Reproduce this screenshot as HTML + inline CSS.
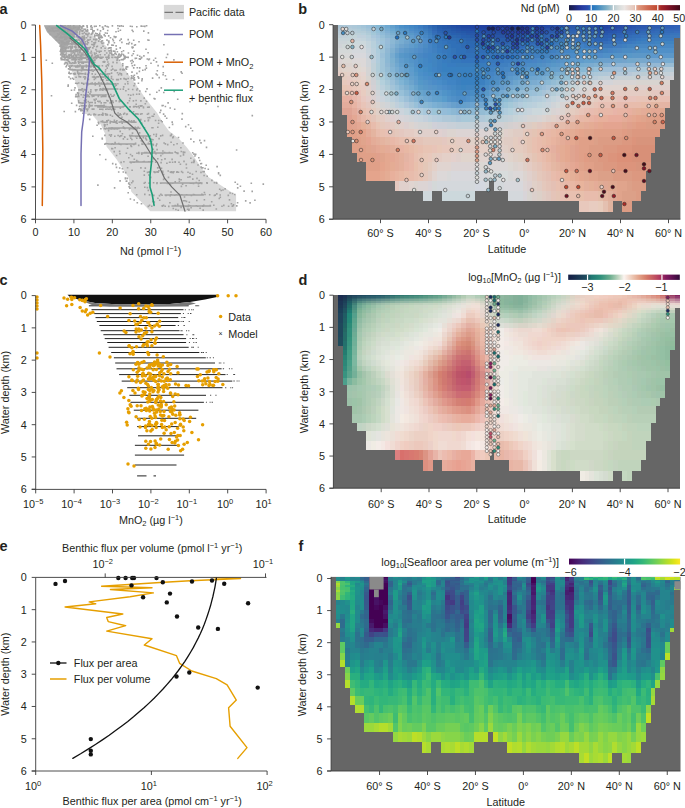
<!DOCTYPE html><html><head><meta charset="utf-8"><style>html,body{margin:0;padding:0;background:#fff;}svg{display:block;}</style></head><body><svg width="685" height="808" viewBox="0 0 685 808" font-family='"Liberation Sans", sans-serif' font-size="10.8" fill="#231f20"><defs><linearGradient id="cb1" x1="0" y1="0" x2="1" y2="0"><stop offset="0.0000" stop-color="#181c43"/><stop offset="0.0417" stop-color="#1d2368"/><stop offset="0.0833" stop-color="#23308d"/><stop offset="0.1250" stop-color="#273ea3"/><stop offset="0.1667" stop-color="#294bac"/><stop offset="0.2083" stop-color="#2373c0"/><stop offset="0.2500" stop-color="#3a84c0"/><stop offset="0.2917" stop-color="#5898c2"/><stop offset="0.3333" stop-color="#78abc5"/><stop offset="0.3750" stop-color="#a0c0cc"/><stop offset="0.4167" stop-color="#c5d2d5"/><stop offset="0.4583" stop-color="#dbdedd"/><stop offset="0.5000" stop-color="#ebe6e4"/><stop offset="0.5417" stop-color="#e7d5ce"/><stop offset="0.5833" stop-color="#e6c7bb"/><stop offset="0.6250" stop-color="#de987f"/><stop offset="0.6667" stop-color="#d78368"/><stop offset="0.7083" stop-color="#cf6c54"/><stop offset="0.7500" stop-color="#c85a42"/><stop offset="0.7917" stop-color="#c14a32"/><stop offset="0.8333" stop-color="#a32628"/><stop offset="0.8750" stop-color="#8e1a28"/><stop offset="0.9167" stop-color="#751125"/><stop offset="0.9583" stop-color="#5b0c1f"/><stop offset="1.0000" stop-color="#400a18"/></linearGradient><linearGradient id="cb2" x1="0" y1="0" x2="1" y2="0"><stop offset="0.0000" stop-color="#151d44"/><stop offset="0.0417" stop-color="#17294b"/><stop offset="0.0833" stop-color="#1a3652"/><stop offset="0.1250" stop-color="#1c4259"/><stop offset="0.1667" stop-color="#1e4f5f"/><stop offset="0.2083" stop-color="#207973"/><stop offset="0.2500" stop-color="#288578"/><stop offset="0.2917" stop-color="#31917c"/><stop offset="0.3333" stop-color="#4f9f86"/><stop offset="0.3750" stop-color="#6cae8f"/><stop offset="0.4167" stop-color="#9ac4aa"/><stop offset="0.4583" stop-color="#cbdac8"/><stop offset="0.5000" stop-color="#fbf4f0"/><stop offset="0.5417" stop-color="#f3dbcf"/><stop offset="0.5833" stop-color="#ebc2ad"/><stop offset="0.6250" stop-color="#e4a890"/><stop offset="0.6667" stop-color="#dc8f77"/><stop offset="0.7083" stop-color="#d37666"/><stop offset="0.7500" stop-color="#c86063"/><stop offset="0.7917" stop-color="#bb4960"/><stop offset="0.8333" stop-color="#a93160"/><stop offset="0.8750" stop-color="#81195d"/><stop offset="0.9167" stop-color="#6c1458"/><stop offset="0.9583" stop-color="#4e0f49"/><stop offset="1.0000" stop-color="#300a38"/></linearGradient><linearGradient id="cb3" x1="0" y1="0" x2="1" y2="0"><stop offset="0.0000" stop-color="#440154"/><stop offset="0.0417" stop-color="#471063"/><stop offset="0.0833" stop-color="#481f70"/><stop offset="0.1250" stop-color="#472d7b"/><stop offset="0.1667" stop-color="#443983"/><stop offset="0.2083" stop-color="#404688"/><stop offset="0.2500" stop-color="#3b528b"/><stop offset="0.2917" stop-color="#365d8d"/><stop offset="0.3333" stop-color="#31688e"/><stop offset="0.3750" stop-color="#2c728e"/><stop offset="0.4167" stop-color="#287c8e"/><stop offset="0.4583" stop-color="#24868e"/><stop offset="0.5000" stop-color="#21918c"/><stop offset="0.5417" stop-color="#1f9a8a"/><stop offset="0.5833" stop-color="#20a486"/><stop offset="0.6250" stop-color="#28ae80"/><stop offset="0.6667" stop-color="#35b779"/><stop offset="0.7083" stop-color="#48c16e"/><stop offset="0.7500" stop-color="#5ec962"/><stop offset="0.7917" stop-color="#75d054"/><stop offset="0.8333" stop-color="#90d743"/><stop offset="0.8750" stop-color="#addc30"/><stop offset="0.9167" stop-color="#c8e020"/><stop offset="0.9583" stop-color="#e5e419"/><stop offset="1.0000" stop-color="#fde725"/></linearGradient></defs>
<rect x="333.10" y="25.00" width="347.30" height="194.20" fill="#666666"/>
<g transform="translate(332.93,0) scale(4.7410,1)" shape-rendering="crispEdges">
<path fill="#a8c4d4" d="M1 25.0h1V26.3h-1z"/>
<path fill="#acc4d4" d="M1 26.3h1V27.8h-1z"/>
<path fill="#b0c8d4" d="M1 27.8h1V29.3h-1z"/>
<path fill="#b4c8d8" d="M1 29.3h1V31.1h-1zM58 71.5h1V76.0h-1zM59 71.5h1V76.0h-1zM60 71.5h1V76.0h-1zM68 67.0h1V71.5h-1zM69 67.0h1V71.5h-1z"/>
<path fill="#b8ccd8" d="M1 31.1h1V33.1h-1zM2 31.1h1V33.1h-1zM3 29.3h1V31.1h-1zM4 31.1h1V33.1h-1zM34 115.1h1V121.8h-1zM50 80.3h1V85.2h-1zM54 76.0h1V80.3h-1zM70 67.0h1V71.5h-1zM71 67.0h1V71.5h-1z"/>
<path fill="#bcccd8" d="M1 33.1h1V35.3h-1zM55 76.0h1V80.3h-1zM63 71.5h1V76.0h-1zM64 71.5h1V76.0h-1z"/>
<path fill="#c0d0d8" d="M1 35.3h1V37.7h-1zM2 33.1h1V35.3h-1zM3 33.1h1V35.3h-1zM8 62.5h1V71.5h-1zM36 115.1h1V121.8h-1zM48 90.4h1V95.9h-1zM56 76.0h1V80.3h-1z"/>
<path fill="#c8d4d8" d="M1 37.7h1V40.5h-1zM2 37.7h1V40.5h-1zM3 37.7h1V40.5h-1zM9 85.2h1V90.4h-1zM12 101.6h1V108.1h-1zM38 115.1h1V121.8h-1zM49 90.4h1V95.9h-1zM53 80.3h1V85.2h-1z"/>
<path fill="#ccd4d8" d="M1 40.5h1V43.5h-1zM2 40.5h1V43.5h-1zM39 115.1h1V121.8h-1zM51 85.2h1V90.4h-1zM54 80.3h1V85.2h-1z"/>
<path fill="#d0d4d8" d="M1 43.5h1V48.2h-1zM7 57.7h1V67.0h-1zM9 90.4h1V95.9h-1zM11 101.6h1V108.1h-1zM13 108.1h1V115.1h-1zM16 115.1h1V121.8h-1zM40 115.1h1V121.8h-1zM46 101.6h1V108.1h-1zM50 90.4h1V95.9h-1zM55 80.3h1V85.2h-1z"/>
<path fill="#d4d8d8" d="M1 48.2h1V52.9h-1zM2 48.2h1V52.9h-1zM3 48.2h1V52.9h-1zM21 180.5h1V190.6h-1zM45 108.1h1V115.1h-1zM47 101.6h1V108.1h-1zM52 85.2h1V90.4h-1z"/>
<path fill="#d8d8d8" d="M1 52.9h1V57.7h-1zM2 52.9h1V57.7h-1zM3 52.9h1V57.7h-1zM24 171.4h1V180.5h-1zM37 171.4h1V180.5h-1zM53 85.2h1V90.4h-1z"/>
<path fill="#dcd4d4" d="M1 57.7h1V62.5h-1zM13 115.1h1V121.8h-1zM18 180.5h1V190.6h-1zM19 180.5h1V190.6h-1zM25 162.0h1V171.4h-1zM26 128.9h1V136.6h-1zM26 162.0h1V171.4h-1zM27 128.9h1V136.6h-1zM27 162.0h1V171.4h-1zM28 128.9h1V136.6h-1zM28 162.0h1V171.4h-1zM29 128.9h1V136.6h-1zM29 162.0h1V171.4h-1zM30 128.9h1V136.6h-1zM30 162.0h1V171.4h-1zM31 128.9h1V136.6h-1zM32 128.9h1V136.6h-1zM34 153.2h1V162.0h-1zM35 153.2h1V162.0h-1zM40 180.5h1V190.6h-1zM47 108.1h1V115.1h-1zM51 95.9h1V101.6h-1zM55 85.2h1V90.4h-1z"/>
<path fill="#dcd4d0" d="M1 62.5h1V67.0h-1zM2 62.5h1V67.0h-1zM3 62.5h1V67.0h-1zM9 101.6h1V108.1h-1zM10 108.1h1V115.1h-1zM16 121.8h1V128.9h-1zM17 180.5h1V190.6h-1zM24 128.9h1V136.6h-1zM25 128.9h1V136.6h-1zM33 128.9h1V136.6h-1zM34 128.9h1V136.6h-1zM38 162.0h1V171.4h-1zM40 171.4h1V180.5h-1zM44 115.1h1V121.8h-1zM48 108.1h1V115.1h-1zM49 101.6h1V108.1h-1zM53 90.4h1V95.9h-1zM69 80.3h1V85.2h-1zM70 80.3h1V85.2h-1z"/>
<path fill="#e0d0c8" d="M1 67.0h1V71.5h-1zM7 90.4h1V95.9h-1zM8 101.6h1V108.1h-1zM9 108.1h1V115.1h-1zM13 121.8h1V128.9h-1zM29 136.6h1V144.9h-1zM30 136.6h1V144.9h-1zM31 136.6h1V144.9h-1zM32 136.6h1V144.9h-1zM33 136.6h1V153.2h-1zM34 136.6h1V144.9h-1zM35 136.6h1V144.9h-1zM36 144.9h1V153.2h-1zM37 128.9h1V136.6h-1zM38 153.2h1V162.0h-1zM40 162.0h1V171.4h-1zM42 180.5h1V190.6h-1zM46 115.1h1V121.8h-1zM49 108.1h1V115.1h-1zM51 101.6h1V108.1h-1z"/>
<path fill="#e4ccc4" d="M1 71.5h1V76.0h-1zM3 76.0h1V80.3h-1zM10 115.1h1V121.8h-1zM12 121.8h1V128.9h-1zM15 128.9h1V136.6h-1zM16 128.9h1V136.6h-1zM22 153.2h1V162.0h-1zM26 136.6h1V144.9h-1zM27 136.6h1V153.2h-1zM28 144.9h1V153.2h-1zM29 144.9h1V153.2h-1zM41 162.0h1V171.4h-1zM52 101.6h1V108.1h-1zM59 90.4h1V95.9h-1zM60 90.4h1V95.9h-1zM61 90.4h1V95.9h-1zM62 90.4h1V95.9h-1zM63 90.4h1V95.9h-1zM64 90.4h1V95.9h-1zM65 90.4h1V95.9h-1z"/>
<path fill="#acc8d8" d="M2 25.0h1V26.3h-1zM4 25.0h1V27.8h-1zM5 27.8h1V29.3h-1zM6 29.3h1V31.1h-1zM7 31.1h1V33.1h-1zM25 115.1h1V121.8h-1zM29 115.1h1V121.8h-1zM30 115.1h1V121.8h-1zM38 101.6h1V108.1h-1zM41 95.9h1V101.6h-1zM47 85.2h1V90.4h-1zM49 80.3h1V85.2h-1zM51 76.0h1V80.3h-1zM55 71.5h1V76.0h-1zM65 67.0h1V71.5h-1z"/>
<path fill="#b0c8d8" d="M2 26.3h1V29.3h-1zM3 25.0h1V27.8h-1zM4 27.8h1V29.3h-1zM23 115.1h1V121.8h-1zM24 115.1h1V121.8h-1zM31 115.1h1V121.8h-1zM45 90.4h1V95.9h-1zM52 76.0h1V80.3h-1zM56 71.5h1V76.0h-1zM57 71.5h1V76.0h-1zM66 67.0h1V71.5h-1zM67 67.0h1V71.5h-1z"/>
<path fill="#b4ccd8" d="M2 29.3h1V31.1h-1zM3 27.8h1V29.3h-1zM4 29.3h1V31.1h-1zM5 31.1h1V33.1h-1zM6 31.1h1V33.1h-1zM9 71.5h1V76.0h-1zM33 115.1h1V121.8h-1zM46 90.4h1V95.9h-1zM48 85.2h1V90.4h-1zM53 76.0h1V80.3h-1z"/>
<path fill="#c4d0d8" d="M2 35.3h1V37.7h-1zM26 121.8h1V128.9h-1zM27 121.8h1V128.9h-1zM28 121.8h1V128.9h-1zM29 121.8h1V128.9h-1zM37 115.1h1V121.8h-1zM57 76.0h1V80.3h-1zM58 76.0h1V80.3h-1zM59 76.0h1V80.3h-1zM69 71.5h1V76.0h-1zM70 71.5h1V76.0h-1z"/>
<path fill="#d0d8d8" d="M2 43.5h1V48.2h-1zM3 43.5h1V48.2h-1z"/>
<path fill="#dcd8d4" d="M2 57.7h1V62.5h-1zM3 57.7h1V62.5h-1zM4 62.5h1V67.0h-1zM5 62.5h1V67.0h-1zM31 162.0h1V171.4h-1zM37 162.0h1V171.4h-1z"/>
<path fill="#e0d4cc" d="M2 67.0h1V71.5h-1zM3 67.0h1V71.5h-1zM27 153.2h1V162.0h-1zM28 153.2h1V162.0h-1zM29 153.2h1V162.0h-1zM30 153.2h1V162.0h-1zM37 153.2h1V162.0h-1zM62 85.2h1V90.4h-1zM63 85.2h1V90.4h-1z"/>
<path fill="#e4d0c4" d="M2 71.5h1V76.0h-1z"/>
<path fill="#e4ccc0" d="M2 76.0h1V80.3h-1zM8 108.1h1V115.1h-1zM9 115.1h1V121.8h-1zM20 162.0h1V171.4h-1zM21 153.2h1V162.0h-1zM24 136.6h1V144.9h-1zM25 136.6h1V144.9h-1zM26 144.9h1V153.2h-1zM38 136.6h1V153.2h-1zM39 144.9h1V153.2h-1zM40 153.2h1V162.0h-1zM50 108.1h1V115.1h-1zM55 95.9h1V101.6h-1zM66 90.4h1V95.9h-1z"/>
<path fill="#e8c8bc" d="M2 80.3h1V85.2h-1zM4 85.2h1V90.4h-1zM20 153.2h1V162.0h-1zM23 144.9h1V153.2h-1zM24 144.9h1V153.2h-1zM52 201.4h1V211.9h-1zM53 201.4h1V211.9h-1zM57 95.9h1V101.6h-1zM58 95.9h1V101.6h-1zM59 95.9h1V101.6h-1z"/>
<path fill="#e8c4b4" d="M2 85.2h1V90.4h-1zM9 121.8h1V128.9h-1zM16 136.6h1V144.9h-1zM18 153.2h1V180.5h-1zM19 144.9h1V153.2h-1zM20 144.9h1V153.2h-1zM67 95.9h1V101.6h-1zM68 95.9h1V101.6h-1z"/>
<path fill="#e8bcac" d="M2 90.4h1V95.9h-1zM3 90.4h1V95.9h-1zM8 121.8h1V128.9h-1zM9 128.9h1V136.6h-1zM13 136.6h1V144.9h-1zM16 171.4h1V180.5h-1zM43 136.6h1V153.2h-1zM44 128.9h1V136.6h-1zM44 153.2h1V162.0h-1zM45 162.0h1V171.4h-1zM46 171.4h1V180.5h-1zM48 180.5h1V190.6h-1zM51 115.1h1V121.8h-1zM53 190.6h1V201.4h-1zM54 190.6h1V201.4h-1zM55 108.1h1V115.1h-1zM55 190.6h1V201.4h-1zM62 101.6h1V108.1h-1zM63 101.6h1V108.1h-1zM64 101.6h1V108.1h-1z"/>
<path fill="#e8b0a0" d="M2 95.9h1V101.6h-1zM55 115.1h1V121.8h-1zM62 108.1h1V115.1h-1z"/>
<path fill="#e4ac9c" d="M2 101.6h1V108.1h-1zM3 101.6h1V108.1h-1zM4 108.1h1V115.1h-1zM47 153.2h1V162.0h-1z"/>
<path fill="#e0a494" d="M2 108.1h1V115.1h-1zM3 108.1h1V115.1h-1z"/>
<path fill="#bcd0d8" d="M3 31.1h1V33.1h-1zM4 33.1h1V35.3h-1zM5 33.1h1V35.3h-1zM9 76.0h1V80.3h-1zM11 90.4h1V95.9h-1zM35 115.1h1V121.8h-1zM49 85.2h1V90.4h-1z"/>
<path fill="#c4d4d8" d="M3 35.3h1V37.7h-1zM4 35.3h1V37.7h-1zM9 80.3h1V85.2h-1zM50 85.2h1V90.4h-1z"/>
<path fill="#ccd8d8" d="M3 40.5h1V43.5h-1z"/>
<path fill="#e4d0c8" d="M3 71.5h1V76.0h-1zM4 76.0h1V80.3h-1zM5 76.0h1V80.3h-1zM17 128.9h1V136.6h-1zM21 162.0h1V171.4h-1zM23 153.2h1V162.0h-1zM24 153.2h1V162.0h-1zM31 144.9h1V153.2h-1zM32 144.9h1V153.2h-1zM54 95.9h1V101.6h-1zM56 90.4h1V95.9h-1zM57 90.4h1V95.9h-1zM58 90.4h1V95.9h-1z"/>
<path fill="#e8c8c0" d="M3 80.3h1V85.2h-1zM6 95.9h1V101.6h-1zM56 95.9h1V101.6h-1z"/>
<path fill="#e8c4b8" d="M3 85.2h1V90.4h-1zM6 101.6h1V108.1h-1zM7 108.1h1V115.1h-1zM21 144.9h1V153.2h-1zM52 108.1h1V115.1h-1zM55 101.6h1V108.1h-1zM64 95.9h1V101.6h-1zM65 95.9h1V101.6h-1zM66 95.9h1V101.6h-1z"/>
<path fill="#e8b0a4" d="M3 95.9h1V101.6h-1z"/>
<path fill="#e0a090" d="M3 115.1h1V121.8h-1z"/>
<path fill="#e0a08c" d="M3 121.8h1V128.9h-1zM9 153.2h1V162.0h-1zM51 144.9h1V162.0h-1zM62 121.8h1V128.9h-1z"/>
<path fill="#e0a088" d="M3 128.9h1V136.6h-1zM4 128.9h1V153.2h-1zM5 136.6h1V162.0h-1zM6 144.9h1V162.0h-1zM7 153.2h1V171.4h-1zM8 153.2h1V171.4h-1zM9 162.0h1V171.4h-1zM52 136.6h1V162.0h-1zM53 136.6h1V153.2h-1zM53 162.0h1V171.4h-1zM54 136.6h1V144.9h-1zM54 162.0h1V171.4h-1zM55 128.9h1V136.6h-1zM56 128.9h1V136.6h-1zM57 128.9h1V136.6h-1zM58 128.9h1V136.6h-1zM59 128.9h1V136.6h-1zM60 128.9h1V136.6h-1zM63 121.8h1V128.9h-1zM66 115.1h1V121.8h-1zM67 115.1h1V121.8h-1zM68 115.1h1V121.8h-1z"/>
<path fill="#c8d4dc" d="M4 37.7h1V40.5h-1zM5 37.7h1V40.5h-1zM7 48.2h1V52.9h-1zM18 115.1h1V121.8h-1zM41 108.1h1V115.1h-1zM45 101.6h1V108.1h-1zM52 80.3h1V85.2h-1z"/>
<path fill="#ccd8dc" d="M4 40.5h1V43.5h-1zM5 40.5h1V43.5h-1zM6 40.5h1V43.5h-1zM23 190.6h1V201.4h-1zM24 190.6h1V201.4h-1zM25 190.6h1V201.4h-1zM26 190.6h1V201.4h-1zM27 190.6h1V201.4h-1zM28 190.6h1V201.4h-1zM29 190.6h1V201.4h-1zM42 108.1h1V115.1h-1zM43 108.1h1V115.1h-1z"/>
<path fill="#d0d8dc" d="M4 43.5h1V48.2h-1zM5 43.5h1V48.2h-1zM6 43.5h1V48.2h-1zM19 190.6h1V201.4h-1zM20 190.6h1V201.4h-1zM44 108.1h1V115.1h-1zM48 95.9h1V101.6h-1z"/>
<path fill="#d4d8dc" d="M4 48.2h1V52.9h-1zM5 48.2h1V52.9h-1zM6 48.2h1V52.9h-1zM22 180.5h1V190.6h-1zM23 180.5h1V190.6h-1zM24 180.5h1V190.6h-1zM25 180.5h1V190.6h-1zM26 180.5h1V190.6h-1zM27 180.5h1V190.6h-1zM28 180.5h1V190.6h-1zM29 180.5h1V190.6h-1zM32 180.5h1V190.6h-1zM34 180.5h1V190.6h-1zM35 180.5h1V190.6h-1zM37 190.6h1V201.4h-1zM38 190.6h1V201.4h-1zM39 190.6h1V201.4h-1z"/>
<path fill="#d8d8dc" d="M4 52.9h1V57.7h-1zM5 52.9h1V57.7h-1zM6 52.9h1V57.7h-1zM25 171.4h1V180.5h-1zM26 171.4h1V180.5h-1zM27 171.4h1V180.5h-1zM28 171.4h1V180.5h-1zM29 171.4h1V180.5h-1zM30 171.4h1V180.5h-1zM31 171.4h1V180.5h-1zM32 171.4h1V180.5h-1zM36 180.5h1V190.6h-1zM37 180.5h1V190.6h-1zM38 180.5h1V190.6h-1zM39 180.5h1V190.6h-1z"/>
<path fill="#dcd8d8" d="M4 57.7h1V62.5h-1zM5 57.7h1V62.5h-1zM6 57.7h1V67.0h-1zM22 171.4h1V180.5h-1zM23 171.4h1V180.5h-1zM32 162.0h1V171.4h-1zM33 162.0h1V171.4h-1zM34 162.0h1V171.4h-1zM35 162.0h1V171.4h-1zM36 162.0h1V171.4h-1zM38 171.4h1V180.5h-1zM39 171.4h1V180.5h-1z"/>
<path fill="#e0d4d0" d="M4 67.0h1V71.5h-1zM16 180.5h1V190.6h-1zM21 171.4h1V180.5h-1zM22 162.0h1V171.4h-1zM23 162.0h1V171.4h-1zM24 162.0h1V171.4h-1zM31 153.2h1V162.0h-1zM32 153.2h1V162.0h-1zM36 153.2h1V162.0h-1zM39 162.0h1V171.4h-1zM52 95.9h1V101.6h-1zM54 90.4h1V95.9h-1zM57 85.2h1V90.4h-1zM58 85.2h1V90.4h-1zM59 85.2h1V90.4h-1zM60 85.2h1V90.4h-1zM61 85.2h1V90.4h-1z"/>
<path fill="#e4d4cc" d="M4 71.5h1V76.0h-1zM5 71.5h1V76.0h-1zM6 76.0h1V80.3h-1z"/>
<path fill="#e8ccc0" d="M4 80.3h1V85.2h-1zM5 85.2h1V90.4h-1zM6 90.4h1V95.9h-1zM25 144.9h1V153.2h-1zM54 201.4h1V211.9h-1zM55 201.4h1V211.9h-1z"/>
<path fill="#e8c0b4" d="M4 90.4h1V95.9h-1zM5 95.9h1V101.6h-1zM11 128.9h1V136.6h-1zM48 190.6h1V201.4h-1zM53 108.1h1V115.1h-1zM56 101.6h1V108.1h-1zM57 101.6h1V108.1h-1zM58 101.6h1V108.1h-1zM69 95.9h1V101.6h-1zM70 95.9h1V101.6h-1z"/>
<path fill="#e8b8ac" d="M4 95.9h1V101.6h-1z"/>
<path fill="#e8b4a4" d="M4 101.6h1V108.1h-1zM14 144.9h1V153.2h-1zM15 162.0h1V171.4h-1zM45 144.9h1V153.2h-1zM54 115.1h1V121.8h-1zM60 108.1h1V115.1h-1zM61 108.1h1V115.1h-1z"/>
<path fill="#e4a894" d="M4 115.1h1V121.8h-1zM5 121.8h1V128.9h-1zM9 144.9h1V153.2h-1zM12 153.2h1V162.0h-1zM49 136.6h1V144.9h-1zM50 162.0h1V171.4h-1zM55 121.8h1V128.9h-1zM62 115.1h1V121.8h-1zM67 108.1h1V115.1h-1zM68 108.1h1V115.1h-1z"/>
<path fill="#e0a490" d="M4 121.8h1V128.9h-1zM8 144.9h1V153.2h-1zM50 144.9h1V162.0h-1z"/>
<path fill="#a8c4d8" d="M5 25.0h1V26.3h-1zM26 115.1h1V121.8h-1zM44 90.4h1V95.9h-1zM54 71.5h1V76.0h-1zM62 67.0h1V71.5h-1zM63 67.0h1V71.5h-1z"/>
<path fill="#a8c8d8" d="M5 26.3h1V27.8h-1zM6 27.8h1V29.3h-1zM10 71.5h1V76.0h-1zM11 80.3h1V85.2h-1zM27 115.1h1V121.8h-1zM28 115.1h1V121.8h-1zM40 95.9h1V101.6h-1z"/>
<path fill="#b0ccd8" d="M5 29.3h1V31.1h-1zM7 33.1h1V35.3h-1zM9 62.5h1V71.5h-1zM11 85.2h1V90.4h-1zM12 90.4h1V95.9h-1zM32 115.1h1V121.8h-1z"/>
<path fill="#c0d0dc" d="M5 35.3h1V37.7h-1zM6 35.3h1V37.7h-1zM8 57.7h1V62.5h-1zM13 101.6h1V108.1h-1zM45 95.9h1V101.6h-1zM51 80.3h1V85.2h-1z"/>
<path fill="#e0d8d0" d="M5 67.0h1V71.5h-1z"/>
<path fill="#e8d0c4" d="M5 80.3h1V85.2h-1z"/>
<path fill="#e8c4bc" d="M5 90.4h1V95.9h-1zM60 95.9h1V101.6h-1zM61 95.9h1V101.6h-1zM62 95.9h1V101.6h-1zM63 95.9h1V101.6h-1z"/>
<path fill="#e8bcb0" d="M5 101.6h1V108.1h-1zM54 108.1h1V115.1h-1zM60 101.6h1V108.1h-1zM61 101.6h1V108.1h-1z"/>
<path fill="#e4b4a8" d="M5 108.1h1V115.1h-1z"/>
<path fill="#e4b0a0" d="M5 115.1h1V121.8h-1zM46 144.9h1V153.2h-1z"/>
<path fill="#e0a48c" d="M5 128.9h1V136.6h-1zM6 136.6h1V144.9h-1zM7 144.9h1V153.2h-1zM10 153.2h1V162.0h-1zM51 136.6h1V144.9h-1zM52 162.0h1V171.4h-1zM53 128.9h1V136.6h-1zM54 128.9h1V136.6h-1zM54 171.4h1V180.5h-1zM55 171.4h1V180.5h-1zM60 180.5h1V201.4h-1zM61 121.8h1V128.9h-1zM61 180.5h1V190.6h-1zM65 115.1h1V121.8h-1z"/>
<path fill="#a0c4d8" d="M6 25.0h1V26.3h-1zM7 27.8h1V29.3h-1zM8 31.1h1V33.1h-1zM10 37.7h1V40.5h-1zM10 43.5h1V52.9h-1zM10 57.7h1V71.5h-1zM11 76.0h1V80.3h-1zM43 90.4h1V95.9h-1zM53 71.5h1V76.0h-1z"/>
<path fill="#a4c4d8" d="M6 26.3h1V27.8h-1zM7 29.3h1V31.1h-1zM12 85.2h1V90.4h-1zM13 90.4h1V95.9h-1zM16 101.6h1V108.1h-1zM34 108.1h1V115.1h-1zM39 95.9h1V101.6h-1zM46 85.2h1V90.4h-1zM48 80.3h1V85.2h-1zM50 76.0h1V80.3h-1zM61 67.0h1V71.5h-1z"/>
<path fill="#b8d0dc" d="M6 33.1h1V35.3h-1zM7 35.3h1V37.7h-1zM8 40.5h1V48.2h-1zM14 101.6h1V108.1h-1zM41 101.6h1V108.1h-1zM44 95.9h1V101.6h-1z"/>
<path fill="#c4d4dc" d="M6 37.7h1V40.5h-1zM7 40.5h1V48.2h-1zM10 90.4h1V95.9h-1zM11 95.9h1V101.6h-1zM15 108.1h1V115.1h-1zM40 108.1h1V115.1h-1zM44 101.6h1V108.1h-1zM46 95.9h1V101.6h-1z"/>
<path fill="#e0d8d4" d="M6 67.0h1V71.5h-1z"/>
<path fill="#e4d4d0" d="M6 71.5h1V76.0h-1z"/>
<path fill="#e8d0c8" d="M6 80.3h1V85.2h-1z"/>
<path fill="#e8ccc4" d="M6 85.2h1V90.4h-1z"/>
<path fill="#e8c0b0" d="M6 108.1h1V115.1h-1zM7 115.1h1V121.8h-1zM10 128.9h1V136.6h-1zM14 136.6h1V144.9h-1zM15 136.6h1V144.9h-1zM17 153.2h1V162.0h-1zM17 171.4h1V180.5h-1zM18 144.9h1V153.2h-1zM42 136.6h1V153.2h-1zM43 128.9h1V136.6h-1zM43 153.2h1V162.0h-1zM44 162.0h1V171.4h-1zM47 180.5h1V190.6h-1zM49 190.6h1V201.4h-1zM50 190.6h1V201.4h-1zM51 190.6h1V201.4h-1zM59 101.6h1V108.1h-1z"/>
<path fill="#e8b8a8" d="M6 115.1h1V121.8h-1zM12 136.6h1V144.9h-1zM16 153.2h1V171.4h-1zM44 144.9h1V153.2h-1zM45 128.9h1V136.6h-1zM47 171.4h1V180.5h-1zM49 180.5h1V190.6h-1zM52 115.1h1V121.8h-1zM56 108.1h1V115.1h-1zM57 108.1h1V115.1h-1zM58 108.1h1V115.1h-1zM66 101.6h1V108.1h-1z"/>
<path fill="#e4b098" d="M6 121.8h1V128.9h-1zM50 171.4h1V180.5h-1zM52 121.8h1V128.9h-1zM54 180.5h1V190.6h-1zM64 108.1h1V115.1h-1z"/>
<path fill="#e4a48c" d="M6 128.9h1V136.6h-1zM7 171.4h1V180.5h-1zM8 171.4h1V180.5h-1zM9 171.4h1V180.5h-1zM10 162.0h1V171.4h-1zM52 128.9h1V136.6h-1zM64 115.1h1V121.8h-1z"/>
<path fill="#98c0d8" d="M7 25.0h1V26.3h-1zM10 35.3h1V37.7h-1zM11 71.5h1V76.0h-1zM13 85.2h1V90.4h-1zM14 90.4h1V95.9h-1zM17 101.6h1V108.1h-1zM22 108.1h1V115.1h-1zM32 108.1h1V115.1h-1zM35 101.6h1V108.1h-1zM41 90.4h1V95.9h-1zM55 67.0h1V71.5h-1z"/>
<path fill="#9cc0d8" d="M7 26.3h1V27.8h-1zM8 29.3h1V31.1h-1zM9 33.1h1V35.3h-1zM10 52.9h1V57.7h-1zM12 80.3h1V85.2h-1zM15 95.9h1V101.6h-1zM33 108.1h1V115.1h-1zM38 95.9h1V101.6h-1zM42 90.4h1V95.9h-1zM52 71.5h1V76.0h-1zM56 67.0h1V71.5h-1z"/>
<path fill="#bcd0dc" d="M7 37.7h1V40.5h-1zM8 48.2h1V57.7h-1zM10 85.2h1V90.4h-1zM12 95.9h1V101.6h-1zM16 108.1h1V115.1h-1zM20 115.1h1V121.8h-1zM38 108.1h1V115.1h-1zM42 101.6h1V108.1h-1zM47 90.4h1V95.9h-1z"/>
<path fill="#ccd4dc" d="M7 52.9h1V57.7h-1zM10 95.9h1V101.6h-1zM14 108.1h1V115.1h-1zM17 115.1h1V121.8h-1zM47 95.9h1V101.6h-1z"/>
<path fill="#d4d4d4" d="M7 67.0h1V76.0h-1zM10 101.6h1V108.1h-1zM12 108.1h1V115.1h-1zM18 121.8h1V128.9h-1zM19 121.8h1V128.9h-1zM41 115.1h1V121.8h-1zM42 115.1h1V121.8h-1z"/>
<path fill="#d8d4d0" d="M7 76.0h1V80.3h-1zM41 190.6h1V201.4h-1zM64 80.3h1V85.2h-1zM65 80.3h1V85.2h-1zM66 80.3h1V85.2h-1zM67 80.3h1V85.2h-1zM68 80.3h1V85.2h-1z"/>
<path fill="#dcd0cc" d="M7 80.3h1V85.2h-1zM42 190.6h1V201.4h-1zM45 115.1h1V121.8h-1zM50 101.6h1V108.1h-1z"/>
<path fill="#e0d0cc" d="M7 85.2h1V90.4h-1zM11 115.1h1V121.8h-1zM14 121.8h1V128.9h-1zM14 180.5h1V190.6h-1zM15 180.5h1V190.6h-1zM18 128.9h1V136.6h-1zM19 128.9h1V136.6h-1zM20 128.9h1V136.6h-1zM21 128.9h1V136.6h-1zM26 153.2h1V162.0h-1zM34 144.9h1V153.2h-1zM35 144.9h1V153.2h-1zM36 128.9h1V136.6h-1zM41 171.4h1V180.5h-1zM53 95.9h1V101.6h-1zM55 90.4h1V95.9h-1zM64 85.2h1V90.4h-1zM65 85.2h1V90.4h-1zM66 85.2h1V90.4h-1zM67 85.2h1V90.4h-1zM68 85.2h1V90.4h-1zM69 85.2h1V90.4h-1zM70 85.2h1V90.4h-1z"/>
<path fill="#e4ccc8" d="M7 95.9h1V101.6h-1zM28 136.6h1V144.9h-1zM30 144.9h1V153.2h-1z"/>
<path fill="#e4c8c0" d="M7 101.6h1V108.1h-1zM11 121.8h1V128.9h-1zM13 180.5h1V190.6h-1zM14 128.9h1V136.6h-1zM23 136.6h1V144.9h-1zM39 136.6h1V144.9h-1zM48 115.1h1V121.8h-1zM53 101.6h1V108.1h-1zM67 90.4h1V95.9h-1zM68 90.4h1V95.9h-1zM69 90.4h1V95.9h-1zM70 90.4h1V95.9h-1z"/>
<path fill="#e4b4a0" d="M7 121.8h1V128.9h-1zM8 128.9h1V136.6h-1zM10 136.6h1V144.9h-1zM46 153.2h1V162.0h-1zM47 162.0h1V171.4h-1zM50 121.8h1V128.9h-1zM57 190.6h1V201.4h-1z"/>
<path fill="#e4ac98" d="M7 128.9h1V136.6h-1zM8 136.6h1V144.9h-1zM11 144.9h1V153.2h-1zM13 153.2h1V171.4h-1zM47 144.9h1V153.2h-1zM48 136.6h1V144.9h-1zM49 128.9h1V136.6h-1zM49 162.0h1V171.4h-1zM53 121.8h1V128.9h-1zM55 180.5h1V190.6h-1zM61 115.1h1V121.8h-1zM65 108.1h1V115.1h-1z"/>
<path fill="#e4a490" d="M7 136.6h1V144.9h-1zM51 162.0h1V171.4h-1zM57 121.8h1V128.9h-1zM58 121.8h1V128.9h-1zM59 121.8h1V128.9h-1zM60 121.8h1V128.9h-1z"/>
<path fill="#90bcd4" d="M8 25.0h1V26.3h-1zM34 101.6h1V108.1h-1zM48 76.0h1V80.3h-1z"/>
<path fill="#90bcd8" d="M8 26.3h1V27.8h-1zM9 29.3h1V31.1h-1zM10 33.1h1V35.3h-1zM24 108.1h1V115.1h-1z"/>
<path fill="#94c0d8" d="M8 27.8h1V29.3h-1zM9 31.1h1V33.1h-1z"/>
<path fill="#a4c8d8" d="M8 33.1h1V35.3h-1zM37 101.6h1V108.1h-1z"/>
<path fill="#acc8dc" d="M8 35.3h1V37.7h-1zM9 40.5h1V43.5h-1z"/>
<path fill="#b4ccdc" d="M8 37.7h1V40.5h-1zM13 95.9h1V101.6h-1zM22 115.1h1V121.8h-1zM39 101.6h1V108.1h-1zM43 95.9h1V101.6h-1z"/>
<path fill="#c4d0d4" d="M8 71.5h1V76.0h-1z"/>
<path fill="#ccd0d4" d="M8 76.0h1V80.3h-1zM33 121.8h1V128.9h-1zM34 121.8h1V128.9h-1zM65 76.0h1V80.3h-1zM66 76.0h1V80.3h-1zM67 76.0h1V80.3h-1zM68 76.0h1V80.3h-1z"/>
<path fill="#d0d0d4" d="M8 80.3h1V85.2h-1zM35 121.8h1V128.9h-1zM69 76.0h1V80.3h-1zM70 76.0h1V80.3h-1zM71 76.0h1V80.3h-1z"/>
<path fill="#d4d0d4" d="M8 85.2h1V90.4h-1z"/>
<path fill="#d8d0d0" d="M8 90.4h1V95.9h-1zM38 121.8h1V128.9h-1z"/>
<path fill="#dcd0d0" d="M8 95.9h1V101.6h-1zM15 121.8h1V128.9h-1zM23 128.9h1V136.6h-1zM41 180.5h1V190.6h-1z"/>
<path fill="#e4c4b8" d="M8 115.1h1V121.8h-1zM12 128.9h1V136.6h-1zM17 136.6h1V144.9h-1zM18 136.6h1V144.9h-1zM41 128.9h1V136.6h-1zM43 162.0h1V171.4h-1zM44 171.4h1V180.5h-1zM45 121.8h1V128.9h-1zM45 180.5h1V190.6h-1zM46 190.6h1V201.4h-1z"/>
<path fill="#84b8d4" d="M9 25.0h1V26.3h-1z"/>
<path fill="#88b8d4" d="M9 26.3h1V27.8h-1zM19 101.6h1V108.1h-1zM35 95.9h1V101.6h-1zM47 76.0h1V80.3h-1zM52 67.0h1V71.5h-1z"/>
<path fill="#8cb8d4" d="M9 27.8h1V29.3h-1zM10 31.1h1V33.1h-1zM11 35.3h1V37.7h-1zM11 52.9h1V62.5h-1zM12 37.7h1V43.5h-1zM12 71.5h1V76.0h-1zM13 80.3h1V85.2h-1zM14 85.2h1V90.4h-1zM15 90.4h1V95.9h-1zM25 108.1h1V115.1h-1zM28 108.1h1V115.1h-1zM29 108.1h1V115.1h-1zM38 90.4h1V95.9h-1zM42 85.2h1V90.4h-1zM45 80.3h1V85.2h-1zM53 67.0h1V71.5h-1z"/>
<path fill="#a4c4dc" d="M9 35.3h1V37.7h-1zM20 108.1h1V115.1h-1z"/>
<path fill="#a8c8dc" d="M9 37.7h1V40.5h-1zM14 95.9h1V101.6h-1zM19 108.1h1V115.1h-1zM35 108.1h1V115.1h-1z"/>
<path fill="#acccdc" d="M9 43.5h1V52.9h-1z"/>
<path fill="#b0ccdc" d="M9 52.9h1V62.5h-1zM18 108.1h1V115.1h-1zM36 108.1h1V115.1h-1zM42 95.9h1V101.6h-1z"/>
<path fill="#d4d4d8" d="M9 95.9h1V101.6h-1zM15 115.1h1V121.8h-1zM49 95.9h1V101.6h-1zM51 90.4h1V95.9h-1zM56 80.3h1V85.2h-1zM57 80.3h1V85.2h-1zM58 80.3h1V85.2h-1z"/>
<path fill="#e4b09c" d="M9 136.6h1V144.9h-1zM12 144.9h1V153.2h-1zM14 153.2h1V171.4h-1zM47 136.6h1V144.9h-1zM48 162.0h1V171.4h-1zM51 121.8h1V128.9h-1zM53 180.5h1V190.6h-1zM63 108.1h1V115.1h-1z"/>
<path fill="#78b0d4" d="M10 25.0h1V26.3h-1z"/>
<path fill="#7cb0d4" d="M10 26.3h1V27.8h-1zM21 101.6h1V108.1h-1zM32 101.6h1V108.1h-1z"/>
<path fill="#80b4d4" d="M10 27.8h1V29.3h-1zM14 80.3h1V85.2h-1z"/>
<path fill="#84b4d4" d="M10 29.3h1V31.1h-1zM12 35.3h1V37.7h-1zM12 67.0h1V71.5h-1zM13 76.0h1V80.3h-1zM17 95.9h1V101.6h-1zM20 101.6h1V108.1h-1zM33 101.6h1V108.1h-1zM40 85.2h1V90.4h-1zM51 67.0h1V71.5h-1z"/>
<path fill="#a0c4dc" d="M10 40.5h1V43.5h-1z"/>
<path fill="#acccd8" d="M10 76.0h1V80.3h-1z"/>
<path fill="#b4d0dc" d="M10 80.3h1V85.2h-1zM37 108.1h1V115.1h-1zM40 101.6h1V108.1h-1z"/>
<path fill="#e4c8bc" d="M10 121.8h1V128.9h-1zM13 128.9h1V136.6h-1zM19 136.6h1V144.9h-1zM19 171.4h1V180.5h-1zM20 136.6h1V144.9h-1zM21 136.6h1V144.9h-1zM22 136.6h1V144.9h-1zM40 128.9h1V136.6h-1zM40 144.9h1V153.2h-1zM41 153.2h1V162.0h-1zM42 162.0h1V171.4h-1zM43 171.4h1V180.5h-1zM44 121.8h1V128.9h-1zM44 180.5h1V190.6h-1zM51 108.1h1V115.1h-1zM54 101.6h1V108.1h-1z"/>
<path fill="#e4ac94" d="M10 144.9h1V153.2h-1zM11 171.4h1V180.5h-1zM12 162.0h1V171.4h-1zM48 144.9h1V162.0h-1zM50 128.9h1V136.6h-1zM51 171.4h1V180.5h-1zM54 121.8h1V128.9h-1zM66 108.1h1V115.1h-1z"/>
<path fill="#e4a890" d="M10 171.4h1V180.5h-1zM11 153.2h1V171.4h-1zM49 144.9h1V162.0h-1zM50 136.6h1V144.9h-1zM51 128.9h1V136.6h-1zM52 171.4h1V180.5h-1zM56 121.8h1V128.9h-1zM63 115.1h1V121.8h-1z"/>
<path fill="#6ca8d0" d="M11 25.0h1V26.3h-1zM12 29.3h1V31.1h-1z"/>
<path fill="#70a8d0" d="M11 26.3h1V27.8h-1zM13 33.1h1V35.3h-1zM13 62.5h1V67.0h-1zM15 37.7h1V40.5h-1zM15 76.0h1V80.3h-1zM19 95.9h1V101.6h-1zM33 95.9h1V101.6h-1zM43 76.0h1V80.3h-1zM51 62.5h1V67.0h-1z"/>
<path fill="#74acd0" d="M11 27.8h1V29.3h-1zM12 31.1h1V33.1h-1zM15 80.3h1V85.2h-1zM16 85.2h1V90.4h-1zM17 90.4h1V95.9h-1zM52 62.5h1V67.0h-1z"/>
<path fill="#78acd0" d="M11 29.3h1V31.1h-1zM12 52.9h1V57.7h-1zM13 35.3h1V37.7h-1zM13 43.5h1V48.2h-1zM13 67.0h1V71.5h-1zM14 37.7h1V43.5h-1zM18 95.9h1V101.6h-1zM22 101.6h1V108.1h-1zM38 85.2h1V90.4h-1zM41 80.3h1V85.2h-1zM44 76.0h1V80.3h-1zM47 71.5h1V76.0h-1zM53 62.5h1V67.0h-1zM70 57.7h1V62.5h-1z"/>
<path fill="#80b0d4" d="M11 31.1h1V33.1h-1zM13 71.5h1V76.0h-1zM16 90.4h1V95.9h-1zM43 80.3h1V85.2h-1z"/>
<path fill="#88b4d4" d="M11 33.1h1V35.3h-1zM12 43.5h1V48.2h-1zM26 108.1h1V115.1h-1zM27 108.1h1V115.1h-1zM41 85.2h1V90.4h-1zM44 80.3h1V85.2h-1zM59 62.5h1V67.0h-1z"/>
<path fill="#98bcd8" d="M11 37.7h1V43.5h-1zM44 85.2h1V90.4h-1z"/>
<path fill="#94bcd8" d="M11 43.5h1V48.2h-1zM23 108.1h1V115.1h-1z"/>
<path fill="#90b8d4" d="M11 48.2h1V52.9h-1zM11 62.5h1V67.0h-1zM16 95.9h1V101.6h-1zM30 108.1h1V115.1h-1zM43 85.2h1V90.4h-1zM50 71.5h1V76.0h-1zM64 62.5h1V67.0h-1z"/>
<path fill="#94bcd4" d="M11 67.0h1V71.5h-1zM12 76.0h1V80.3h-1zM31 108.1h1V115.1h-1zM37 95.9h1V101.6h-1zM39 90.4h1V95.9h-1zM46 80.3h1V85.2h-1zM54 67.0h1V71.5h-1z"/>
<path fill="#d8d4d4" d="M11 108.1h1V115.1h-1zM17 121.8h1V128.9h-1zM43 115.1h1V121.8h-1zM46 108.1h1V115.1h-1zM48 101.6h1V108.1h-1zM50 95.9h1V101.6h-1zM52 90.4h1V95.9h-1zM54 85.2h1V90.4h-1zM59 80.3h1V85.2h-1zM60 80.3h1V85.2h-1zM61 80.3h1V85.2h-1zM62 80.3h1V85.2h-1zM63 80.3h1V85.2h-1z"/>
<path fill="#e4b8a4" d="M11 136.6h1V144.9h-1zM46 162.0h1V171.4h-1zM67 101.6h1V108.1h-1zM68 101.6h1V108.1h-1z"/>
<path fill="#60a0cc" d="M12 25.0h1V26.3h-1zM13 29.3h1V31.1h-1zM22 95.9h1V101.6h-1z"/>
<path fill="#64a0cc" d="M12 26.3h1V27.8h-1zM13 52.9h1V57.7h-1zM14 62.5h1V67.0h-1zM15 67.0h1V71.5h-1zM16 76.0h1V80.3h-1zM19 90.4h1V95.9h-1zM21 95.9h1V101.6h-1zM27 101.6h1V108.1h-1zM39 76.0h1V80.3h-1zM43 71.5h1V76.0h-1zM46 67.0h1V71.5h-1zM53 57.7h1V62.5h-1zM54 57.7h1V62.5h-1z"/>
<path fill="#68a4d0" d="M12 27.8h1V29.3h-1zM15 71.5h1V76.0h-1z"/>
<path fill="#7cb0d0" d="M12 33.1h1V35.3h-1zM12 57.7h1V62.5h-1zM34 95.9h1V101.6h-1zM45 76.0h1V80.3h-1zM50 67.0h1V71.5h-1z"/>
<path fill="#80b0d0" d="M12 48.2h1V52.9h-1zM12 62.5h1V67.0h-1zM13 40.5h1V43.5h-1zM15 85.2h1V90.4h-1zM39 85.2h1V90.4h-1zM48 71.5h1V76.0h-1zM55 62.5h1V67.0h-1z"/>
<path fill="#e0d0d0" d="M12 115.1h1V121.8h-1zM22 128.9h1V136.6h-1z"/>
<path fill="#e8b09c" d="M12 171.4h1V180.5h-1zM48 128.9h1V136.6h-1zM56 115.1h1V121.8h-1zM57 115.1h1V121.8h-1z"/>
<path fill="#5494c8" d="M13 25.0h1V26.3h-1zM14 27.8h1V29.3h-1zM15 29.3h1V31.1h-1zM15 52.9h1V57.7h-1zM16 57.7h1V62.5h-1zM19 80.3h1V85.2h-1zM21 85.2h1V90.4h-1zM24 95.9h1V101.6h-1zM29 95.9h1V101.6h-1zM36 76.0h1V80.3h-1zM41 67.0h1V71.5h-1zM42 67.0h1V71.5h-1zM59 52.9h1V57.7h-1zM60 52.9h1V57.7h-1z"/>
<path fill="#5898cc" d="M13 26.3h1V27.8h-1zM22 90.4h1V95.9h-1z"/>
<path fill="#5c9ccc" d="M13 27.8h1V29.3h-1zM16 67.0h1V71.5h-1zM17 76.0h1V80.3h-1zM21 90.4h1V95.9h-1z"/>
<path fill="#68a4cc" d="M13 31.1h1V33.1h-1zM17 85.2h1V90.4h-1zM18 90.4h1V95.9h-1z"/>
<path fill="#84b0d0" d="M13 37.7h1V40.5h-1zM56 62.5h1V67.0h-1zM57 62.5h1V67.0h-1z"/>
<path fill="#70a4cc" d="M13 48.2h1V52.9h-1zM14 43.5h1V48.2h-1zM15 40.5h1V43.5h-1zM42 76.0h1V80.3h-1zM59 57.7h1V62.5h-1zM60 57.7h1V62.5h-1z"/>
<path fill="#6ca4cc" d="M13 57.7h1V62.5h-1zM16 80.3h1V85.2h-1zM34 90.4h1V95.9h-1zM38 80.3h1V85.2h-1zM41 76.0h1V80.3h-1zM45 71.5h1V76.0h-1zM48 67.0h1V71.5h-1zM50 62.5h1V67.0h-1z"/>
<path fill="#e8b4a0" d="M13 144.9h1V153.2h-1zM13 171.4h1V180.5h-1zM46 136.6h1V144.9h-1zM47 128.9h1V136.6h-1zM51 180.5h1V190.6h-1z"/>
<path fill="#4890c8" d="M14 25.0h1V26.3h-1zM18 67.0h1V71.5h-1z"/>
<path fill="#4c90c8" d="M14 26.3h1V27.8h-1zM15 27.8h1V29.3h-1zM18 71.5h1V76.0h-1zM19 76.0h1V80.3h-1zM24 90.4h1V95.9h-1zM51 52.9h1V57.7h-1zM52 52.9h1V57.7h-1zM53 52.9h1V57.7h-1zM54 52.9h1V57.7h-1z"/>
<path fill="#5898c8" d="M14 29.3h1V31.1h-1zM14 52.9h1V57.7h-1zM15 31.1h1V33.1h-1zM15 57.7h1V62.5h-1zM16 33.1h1V35.3h-1zM16 62.5h1V67.0h-1zM17 43.5h1V48.2h-1zM19 85.2h1V90.4h-1zM32 90.4h1V95.9h-1zM43 67.0h1V71.5h-1zM46 62.5h1V67.0h-1zM49 57.7h1V62.5h-1zM62 52.9h1V57.7h-1z"/>
<path fill="#609ccc" d="M14 31.1h1V33.1h-1zM14 57.7h1V62.5h-1zM15 33.1h1V35.3h-1zM15 62.5h1V67.0h-1zM16 35.3h1V37.7h-1zM16 43.5h1V48.2h-1zM16 71.5h1V76.0h-1zM17 37.7h1V43.5h-1zM17 80.3h1V85.2h-1zM20 90.4h1V95.9h-1zM38 76.0h1V80.3h-1zM41 71.5h1V76.0h-1zM42 71.5h1V76.0h-1zM48 62.5h1V67.0h-1zM51 57.7h1V62.5h-1zM52 57.7h1V62.5h-1z"/>
<path fill="#68a0cc" d="M14 33.1h1V35.3h-1zM15 35.3h1V37.7h-1zM15 43.5h1V48.2h-1zM16 37.7h1V43.5h-1zM25 101.6h1V108.1h-1zM28 101.6h1V108.1h-1zM32 95.9h1V101.6h-1zM40 76.0h1V80.3h-1zM44 71.5h1V76.0h-1zM47 67.0h1V71.5h-1zM49 62.5h1V67.0h-1zM55 57.7h1V62.5h-1zM56 57.7h1V62.5h-1z"/>
<path fill="#70a8cc" d="M14 35.3h1V37.7h-1z"/>
<path fill="#649ccc" d="M14 48.2h1V52.9h-1zM26 101.6h1V108.1h-1zM33 90.4h1V95.9h-1zM35 85.2h1V90.4h-1zM37 80.3h1V85.2h-1z"/>
<path fill="#6ca4d0" d="M14 67.0h1V71.5h-1zM20 95.9h1V101.6h-1zM29 101.6h1V108.1h-1z"/>
<path fill="#74a8d0" d="M14 71.5h1V76.0h-1zM23 101.6h1V108.1h-1zM31 101.6h1V108.1h-1zM35 90.4h1V95.9h-1zM37 85.2h1V90.4h-1zM39 80.3h1V85.2h-1zM40 80.3h1V85.2h-1zM49 67.0h1V71.5h-1z"/>
<path fill="#78b0d0" d="M14 76.0h1V80.3h-1z"/>
<path fill="#d8d4d8" d="M14 115.1h1V121.8h-1zM20 180.5h1V190.6h-1zM40 190.6h1V201.4h-1z"/>
<path fill="#e8b8a4" d="M14 171.4h1V180.5h-1zM15 144.9h1V153.2h-1zM45 136.6h1V144.9h-1zM45 153.2h1V162.0h-1zM46 128.9h1V136.6h-1zM50 180.5h1V190.6h-1zM53 115.1h1V121.8h-1z"/>
<path fill="#4488c4" d="M15 25.0h1V26.3h-1zM16 26.3h1V27.8h-1zM19 57.7h1V67.0h-1zM21 71.5h1V76.0h-1zM22 76.0h1V80.3h-1zM23 80.3h1V85.2h-1zM25 85.2h1V90.4h-1zM26 90.4h1V95.9h-1zM27 90.4h1V95.9h-1zM31 85.2h1V90.4h-1zM32 80.3h1V85.2h-1zM50 48.2h1V52.9h-1zM51 48.2h1V52.9h-1zM52 48.2h1V52.9h-1zM53 48.2h1V52.9h-1z"/>
<path fill="#488cc8" d="M15 26.3h1V27.8h-1zM18 62.5h1V67.0h-1zM19 71.5h1V76.0h-1zM22 80.3h1V85.2h-1z"/>
<path fill="#5c98c8" d="M15 48.2h1V52.9h-1zM34 85.2h1V90.4h-1zM36 80.3h1V85.2h-1zM37 76.0h1V80.3h-1zM44 67.0h1V71.5h-1zM47 62.5h1V67.0h-1zM63 52.9h1V57.7h-1zM64 52.9h1V57.7h-1zM65 52.9h1V57.7h-1zM66 52.9h1V57.7h-1zM71 52.9h1V57.7h-1z"/>
<path fill="#b0c8dc" d="M15 101.6h1V108.1h-1z"/>
<path fill="#e4b4a4" d="M15 153.2h1V162.0h-1zM69 101.6h1V108.1h-1zM70 101.6h1V108.1h-1z"/>
<path fill="#e8bca8" d="M15 171.4h1V180.5h-1zM16 144.9h1V153.2h-1zM44 136.6h1V144.9h-1zM65 101.6h1V108.1h-1z"/>
<path fill="#4084c4" d="M16 25.0h1V26.3h-1zM17 26.3h1V27.8h-1zM20 52.9h1V62.5h-1zM21 67.0h1V71.5h-1zM22 71.5h1V76.0h-1zM23 76.0h1V80.3h-1zM24 76.0h1V85.2h-1zM25 80.3h1V85.2h-1zM30 85.2h1V90.4h-1z"/>
<path fill="#488cc4" d="M16 27.8h1V29.3h-1zM18 57.7h1V62.5h-1zM21 76.0h1V80.3h-1zM25 90.4h1V95.9h-1zM29 90.4h1V95.9h-1zM33 80.3h1V85.2h-1z"/>
<path fill="#4c8cc8" d="M16 29.3h1V31.1h-1zM17 31.1h1V33.1h-1zM18 33.1h1V35.3h-1zM19 37.7h1V40.5h-1zM20 76.0h1V80.3h-1zM21 80.3h1V85.2h-1zM23 85.2h1V90.4h-1zM27 95.9h1V101.6h-1zM30 90.4h1V95.9h-1zM38 67.0h1V71.5h-1zM50 52.9h1V57.7h-1zM55 52.9h1V57.7h-1z"/>
<path fill="#5490c8" d="M16 31.1h1V33.1h-1zM17 33.1h1V35.3h-1zM17 48.2h1V52.9h-1zM18 43.5h1V48.2h-1zM33 85.2h1V90.4h-1zM37 71.5h1V76.0h-1zM47 57.7h1V62.5h-1z"/>
<path fill="#5894c8" d="M16 48.2h1V52.9h-1zM20 85.2h1V90.4h-1zM35 80.3h1V85.2h-1zM38 71.5h1V76.0h-1zM45 62.5h1V67.0h-1zM48 57.7h1V62.5h-1zM61 52.9h1V57.7h-1z"/>
<path fill="#5090c4" d="M16 52.9h1V57.7h-1zM34 80.3h1V85.2h-1zM43 62.5h1V67.0h-1zM46 57.7h1V62.5h-1zM64 48.2h1V52.9h-1z"/>
<path fill="#3c80c0" d="M17 25.0h1V26.3h-1zM21 43.5h1V48.2h-1zM22 52.9h1V71.5h-1zM24 71.5h1V76.0h-1zM25 71.5h1V76.0h-1zM26 71.5h1V85.2h-1zM29 71.5h1V76.0h-1zM31 67.0h1V85.2h-1zM32 67.0h1V71.5h-1zM64 40.5h1V43.5h-1z"/>
<path fill="#4484c4" d="M17 27.8h1V29.3h-1zM18 29.3h1V31.1h-1zM19 52.9h1V57.7h-1zM20 37.7h1V40.5h-1zM20 43.5h1V52.9h-1zM33 71.5h1V76.0h-1zM35 67.0h1V71.5h-1zM37 62.5h1V67.0h-1zM40 57.7h1V62.5h-1zM41 57.7h1V62.5h-1zM49 48.2h1V52.9h-1zM54 48.2h1V52.9h-1zM63 43.5h1V48.2h-1z"/>
<path fill="#4888c4" d="M17 29.3h1V31.1h-1zM18 31.1h1V33.1h-1zM18 52.9h1V57.7h-1zM19 35.3h1V37.7h-1zM19 48.2h1V52.9h-1zM24 85.2h1V90.4h-1zM28 90.4h1V95.9h-1zM33 76.0h1V80.3h-1zM34 71.5h1V76.0h-1zM36 67.0h1V71.5h-1zM37 67.0h1V71.5h-1zM39 62.5h1V67.0h-1zM43 57.7h1V62.5h-1zM47 52.9h1V57.7h-1zM59 48.2h1V52.9h-1zM64 43.5h1V48.2h-1zM65 43.5h1V48.2h-1zM66 43.5h1V48.2h-1zM67 43.5h1V48.2h-1zM68 43.5h1V48.2h-1zM69 43.5h1V48.2h-1zM70 43.5h1V48.2h-1zM71 43.5h1V48.2h-1z"/>
<path fill="#5894cc" d="M17 35.3h1V37.7h-1zM18 37.7h1V43.5h-1z"/>
<path fill="#4c8cc4" d="M17 52.9h1V57.7h-1zM19 43.5h1V48.2h-1zM26 95.9h1V101.6h-1zM32 85.2h1V90.4h-1zM34 76.0h1V80.3h-1zM41 62.5h1V67.0h-1zM42 62.5h1V67.0h-1zM45 57.7h1V62.5h-1zM49 52.9h1V57.7h-1zM61 48.2h1V52.9h-1zM62 48.2h1V52.9h-1z"/>
<path fill="#5090c8" d="M17 57.7h1V67.0h-1zM18 35.3h1V37.7h-1zM20 80.3h1V85.2h-1zM22 85.2h1V90.4h-1zM25 95.9h1V101.6h-1zM28 95.9h1V101.6h-1zM31 90.4h1V95.9h-1zM39 67.0h1V71.5h-1zM40 67.0h1V71.5h-1zM57 52.9h1V57.7h-1zM58 52.9h1V57.7h-1zM65 48.2h1V52.9h-1zM66 48.2h1V52.9h-1zM67 48.2h1V52.9h-1zM68 48.2h1V52.9h-1zM69 48.2h1V52.9h-1zM70 48.2h1V52.9h-1zM71 48.2h1V52.9h-1z"/>
<path fill="#5094c8" d="M17 67.0h1V71.5h-1zM18 76.0h1V80.3h-1zM23 90.4h1V95.9h-1z"/>
<path fill="#5498c8" d="M17 71.5h1V76.0h-1zM18 80.3h1V85.2h-1z"/>
<path fill="#b8ccdc" d="M17 108.1h1V115.1h-1zM21 115.1h1V121.8h-1z"/>
<path fill="#e8c0ac" d="M17 144.9h1V153.2h-1zM17 162.0h1V171.4h-1zM52 190.6h1V201.4h-1z"/>
<path fill="#387cc0" d="M18 25.0h1V26.3h-1zM22 48.2h1V52.9h-1zM23 52.9h1V62.5h-1zM24 62.5h1V67.0h-1zM25 62.5h1V67.0h-1zM32 62.5h1V67.0h-1zM65 37.7h1V40.5h-1zM66 37.7h1V40.5h-1z"/>
<path fill="#3c7cc0" d="M18 26.3h1V27.8h-1zM21 37.7h1V43.5h-1zM33 62.5h1V67.0h-1zM34 62.5h1V67.0h-1zM36 57.7h1V62.5h-1zM37 57.7h1V62.5h-1zM40 52.9h1V57.7h-1zM41 52.9h1V57.7h-1zM50 40.5h1V43.5h-1zM51 40.5h1V43.5h-1zM53 43.5h1V48.2h-1zM63 40.5h1V43.5h-1zM67 37.7h1V40.5h-1zM68 37.7h1V40.5h-1zM69 37.7h1V40.5h-1zM70 37.7h1V40.5h-1zM71 37.7h1V40.5h-1z"/>
<path fill="#4080c0" d="M18 27.8h1V29.3h-1zM19 31.1h1V33.1h-1zM20 35.3h1V37.7h-1zM21 48.2h1V52.9h-1zM33 67.0h1V71.5h-1zM35 62.5h1V67.0h-1zM36 62.5h1V67.0h-1zM38 57.7h1V62.5h-1zM42 52.9h1V57.7h-1zM43 52.9h1V57.7h-1zM46 48.2h1V52.9h-1zM49 43.5h1V48.2h-1zM50 43.5h1V48.2h-1zM61 43.5h1V48.2h-1zM65 40.5h1V43.5h-1zM66 40.5h1V43.5h-1zM67 40.5h1V43.5h-1z"/>
<path fill="#508cc8" d="M18 48.2h1V52.9h-1zM19 40.5h1V43.5h-1zM56 52.9h1V57.7h-1z"/>
<path fill="#5c9cc8" d="M18 85.2h1V90.4h-1z"/>
<path fill="#90b8d8" d="M18 101.6h1V108.1h-1z"/>
<path fill="#3474b8" d="M19 25.0h1V26.3h-1zM24 43.5h1V48.2h-1zM25 48.2h1V52.9h-1z"/>
<path fill="#3874bc" d="M19 26.3h1V27.8h-1zM36 52.9h1V57.7h-1zM40 48.2h1V52.9h-1zM41 48.2h1V52.9h-1zM50 37.7h1V40.5h-1zM51 37.7h1V40.5h-1zM52 37.7h1V40.5h-1zM53 40.5h1V43.5h-1zM56 43.5h1V48.2h-1zM60 40.5h1V43.5h-1zM63 37.7h1V40.5h-1zM65 35.3h1V37.7h-1zM66 35.3h1V37.7h-1zM67 35.3h1V37.7h-1zM71 33.1h1V35.3h-1zM72 33.1h1.290V35.3h-1.290z"/>
<path fill="#3878bc" d="M19 27.8h1V29.3h-1zM20 31.1h1V33.1h-1zM21 35.3h1V37.7h-1zM22 43.5h1V48.2h-1zM23 48.2h1V52.9h-1zM33 57.7h1V62.5h-1zM34 57.7h1V62.5h-1zM42 48.2h1V52.9h-1zM55 43.5h1V48.2h-1zM68 35.3h1V37.7h-1zM69 35.3h1V37.7h-1zM70 35.3h1V37.7h-1z"/>
<path fill="#3c7cbc" d="M19 29.3h1V31.1h-1zM20 33.1h1V35.3h-1zM44 48.2h1V52.9h-1zM48 40.5h1V43.5h-1zM49 40.5h1V43.5h-1z"/>
<path fill="#4484c0" d="M19 33.1h1V35.3h-1zM44 52.9h1V57.7h-1zM45 52.9h1V57.7h-1zM47 48.2h1V52.9h-1zM48 48.2h1V52.9h-1zM57 48.2h1V52.9h-1zM62 43.5h1V48.2h-1z"/>
<path fill="#448cc4" d="M19 67.0h1V71.5h-1zM20 71.5h1V76.0h-1z"/>
<path fill="#c4d0dc" d="M19 115.1h1V121.8h-1z"/>
<path fill="#e8c8b8" d="M19 153.2h1V162.0h-1zM22 144.9h1V153.2h-1z"/>
<path fill="#e4c8b8" d="M19 162.0h1V171.4h-1zM40 136.6h1V144.9h-1z"/>
<path fill="#3068b4" d="M20 25.0h1V26.3h-1zM21 29.3h1V31.1h-1zM22 33.1h1V35.3h-1zM37 43.5h1V48.2h-1zM38 43.5h1V48.2h-1zM41 40.5h1V43.5h-1zM42 40.5h1V43.5h-1zM52 33.1h1V35.3h-1zM65 31.1h1V33.1h-1zM66 31.1h1V33.1h-1zM68 29.3h1V31.1h-1zM69 29.3h1V31.1h-1z"/>
<path fill="#306cb4" d="M20 26.3h1V27.8h-1zM23 35.3h1V37.7h-1zM25 37.7h1V40.5h-1zM26 40.5h1V43.5h-1zM27 43.5h1V48.2h-1zM28 48.2h1V52.9h-1zM29 48.2h1V52.9h-1zM30 48.2h1V52.9h-1zM31 48.2h1V52.9h-1zM32 48.2h1V52.9h-1zM33 48.2h1V52.9h-1zM34 48.2h1V52.9h-1zM43 40.5h1V43.5h-1z"/>
<path fill="#3470b8" d="M20 27.8h1V29.3h-1zM21 33.1h1V35.3h-1zM36 48.2h1V52.9h-1zM37 48.2h1V52.9h-1zM42 43.5h1V48.2h-1zM43 43.5h1V48.2h-1zM49 35.3h1V37.7h-1zM50 35.3h1V37.7h-1zM51 35.3h1V37.7h-1zM52 35.3h1V37.7h-1zM63 35.3h1V37.7h-1zM67 33.1h1V35.3h-1zM68 33.1h1V35.3h-1zM69 33.1h1V35.3h-1z"/>
<path fill="#3874b8" d="M20 29.3h1V31.1h-1zM44 43.5h1V48.2h-1zM46 40.5h1V43.5h-1zM47 37.7h1V40.5h-1zM48 37.7h1V40.5h-1zM49 37.7h1V40.5h-1z"/>
<path fill="#4884c4" d="M20 40.5h1V43.5h-1zM38 62.5h1V67.0h-1zM42 57.7h1V62.5h-1zM46 52.9h1V57.7h-1zM58 48.2h1V52.9h-1z"/>
<path fill="#4088c4" d="M20 62.5h1V71.5h-1z"/>
<path fill="#d0d4d4" d="M20 121.8h1V128.9h-1z"/>
<path fill="#e0ccc4" d="M20 171.4h1V180.5h-1zM36 136.6h1V144.9h-1zM37 136.6h1V153.2h-1zM38 128.9h1V136.6h-1zM39 128.9h1V136.6h-1zM42 171.4h1V180.5h-1zM43 180.5h1V190.6h-1zM44 190.6h1V201.4h-1z"/>
<path fill="#2860b0" d="M21 25.0h1V26.3h-1zM22 29.3h1V31.1h-1zM23 31.1h1V33.1h-1zM25 33.1h1V35.3h-1zM27 35.3h1V37.7h-1z"/>
<path fill="#2c64b0" d="M21 26.3h1V27.8h-1zM22 31.1h1V33.1h-1zM24 33.1h1V35.3h-1zM26 35.3h1V37.7h-1zM28 37.7h1V40.5h-1zM30 40.5h1V43.5h-1zM37 40.5h1V43.5h-1zM38 40.5h1V43.5h-1zM42 37.7h1V40.5h-1z"/>
<path fill="#2c68b0" d="M21 27.8h1V29.3h-1zM25 35.3h1V37.7h-1zM27 37.7h1V40.5h-1zM28 40.5h1V43.5h-1zM29 40.5h1V43.5h-1zM30 43.5h1V48.2h-1zM31 43.5h1V48.2h-1zM32 43.5h1V48.2h-1zM33 43.5h1V48.2h-1zM34 43.5h1V48.2h-1z"/>
<path fill="#346cb8" d="M21 31.1h1V33.1h-1zM41 43.5h1V48.2h-1zM55 40.5h1V43.5h-1zM57 40.5h1V43.5h-1zM62 35.3h1V37.7h-1zM64 33.1h1V35.3h-1zM65 33.1h1V35.3h-1zM66 33.1h1V35.3h-1zM68 31.1h1V33.1h-1zM69 31.1h1V33.1h-1zM70 31.1h1V33.1h-1zM71 31.1h1V33.1h-1z"/>
<path fill="#4084c0" d="M21 52.9h1V67.0h-1zM26 85.2h1V90.4h-1zM28 85.2h1V90.4h-1zM29 85.2h1V90.4h-1zM32 71.5h1V80.3h-1zM34 67.0h1V71.5h-1zM68 40.5h1V43.5h-1zM69 40.5h1V43.5h-1zM70 40.5h1V43.5h-1zM71 40.5h1V43.5h-1z"/>
<path fill="#9cc4d8" d="M21 108.1h1V115.1h-1zM36 101.6h1V108.1h-1z"/>
<path fill="#d0d0d8" d="M21 121.8h1V128.9h-1z"/>
<path fill="#2458a8" d="M22 25.0h1V26.3h-1zM23 26.3h1V29.3h-1zM24 27.8h1V29.3h-1zM25 29.3h1V31.1h-1zM27 31.1h1V33.1h-1z"/>
<path fill="#245ca8" d="M22 26.3h1V27.8h-1z"/>
<path fill="#285cac" d="M22 27.8h1V29.3h-1zM23 29.3h1V31.1h-1zM24 29.3h1V31.1h-1zM25 31.1h1V33.1h-1zM27 33.1h1V35.3h-1zM29 35.3h1V37.7h-1zM37 37.7h1V40.5h-1zM38 37.7h1V40.5h-1zM39 37.7h1V40.5h-1z"/>
<path fill="#306cb8" d="M22 35.3h1V37.7h-1zM35 48.2h1V52.9h-1zM40 43.5h1V48.2h-1zM54 37.7h1V40.5h-1zM59 37.7h1V40.5h-1z"/>
<path fill="#3474bc" d="M22 37.7h1V40.5h-1zM23 40.5h1V43.5h-1zM25 52.9h1V57.7h-1zM27 57.7h1V62.5h-1zM28 57.7h1V62.5h-1zM29 57.7h1V62.5h-1zM30 57.7h1V62.5h-1zM31 57.7h1V62.5h-1zM33 52.9h1V57.7h-1zM34 52.9h1V57.7h-1zM35 52.9h1V57.7h-1zM62 37.7h1V40.5h-1z"/>
<path fill="#3478bc" d="M22 40.5h1V43.5h-1zM23 43.5h1V48.2h-1zM24 48.2h1V57.7h-1zM25 57.7h1V62.5h-1zM26 57.7h1V62.5h-1zM32 57.7h1V62.5h-1z"/>
<path fill="#ccd0d8" d="M22 121.8h1V128.9h-1zM23 121.8h1V128.9h-1z"/>
<path fill="#2454a8" d="M23 25.0h1V26.3h-1zM25 27.8h1V29.3h-1zM26 29.3h1V31.1h-1zM28 31.1h1V33.1h-1zM29 31.1h1V33.1h-1zM30 33.1h1V35.3h-1zM31 33.1h1V35.3h-1z"/>
<path fill="#2c68b4" d="M23 33.1h1V35.3h-1zM24 35.3h1V37.7h-1zM29 43.5h1V48.2h-1z"/>
<path fill="#3070b8" d="M23 37.7h1V40.5h-1zM24 37.7h1V43.5h-1zM25 40.5h1V48.2h-1zM26 43.5h1V57.7h-1zM27 48.2h1V57.7h-1zM28 52.9h1V57.7h-1zM29 52.9h1V57.7h-1zM30 52.9h1V57.7h-1zM31 52.9h1V57.7h-1zM32 52.9h1V57.7h-1z"/>
<path fill="#3880c0" d="M23 62.5h1V71.5h-1zM24 67.0h1V71.5h-1zM25 67.0h1V71.5h-1zM26 67.0h1V71.5h-1zM27 67.0h1V85.2h-1zM28 67.0h1V85.2h-1zM29 67.0h1V71.5h-1zM29 76.0h1V85.2h-1zM30 67.0h1V85.2h-1z"/>
<path fill="#3c84c0" d="M23 71.5h1V76.0h-1zM25 76.0h1V80.3h-1zM27 85.2h1V90.4h-1z"/>
<path fill="#589ccc" d="M23 95.9h1V101.6h-1z"/>
<path fill="#2450a4" d="M24 25.0h1V26.3h-1zM25 26.3h1V27.8h-1zM26 27.8h1V29.3h-1zM27 29.3h1V31.1h-1zM28 29.3h1V31.1h-1zM30 31.1h1V33.1h-1zM31 31.1h1V33.1h-1zM33 33.1h1V35.3h-1zM38 33.1h1V35.3h-1zM39 33.1h1V35.3h-1zM42 31.1h1V33.1h-1zM53 25.0h1V26.3h-1z"/>
<path fill="#2454a4" d="M24 26.3h1V27.8h-1zM32 33.1h1V35.3h-1z"/>
<path fill="#2860ac" d="M24 31.1h1V33.1h-1zM26 33.1h1V35.3h-1zM28 35.3h1V37.7h-1zM30 37.7h1V40.5h-1zM31 37.7h1V40.5h-1z"/>
<path fill="#387cbc" d="M24 57.7h1V62.5h-1zM26 62.5h1V67.0h-1zM27 62.5h1V67.0h-1zM28 62.5h1V67.0h-1zM29 62.5h1V67.0h-1zM30 62.5h1V67.0h-1zM31 62.5h1V67.0h-1z"/>
<path fill="#70a4d0" d="M24 101.6h1V108.1h-1zM30 101.6h1V108.1h-1z"/>
<path fill="#c8d0d8" d="M24 121.8h1V128.9h-1zM25 121.8h1V128.9h-1zM30 121.8h1V128.9h-1zM31 121.8h1V128.9h-1zM32 121.8h1V128.9h-1zM71 71.5h1V76.0h-1z"/>
<path fill="#204ca4" d="M25 25.0h1V26.3h-1zM26 26.3h1V27.8h-1zM28 27.8h1V29.3h-1zM30 29.3h1V31.1h-1z"/>
<path fill="#e4d0cc" d="M25 153.2h1V162.0h-1z"/>
<path fill="#2048a0" d="M26 25.0h1V26.3h-1zM27 25.0h1V27.8h-1zM28 26.3h1V27.8h-1zM32 29.3h1V31.1h-1z"/>
<path fill="#2858a8" d="M26 31.1h1V33.1h-1zM28 33.1h1V35.3h-1zM29 33.1h1V35.3h-1zM31 35.3h1V37.7h-1zM32 35.3h1V37.7h-1zM39 35.3h1V37.7h-1zM40 35.3h1V37.7h-1zM41 35.3h1V37.7h-1zM43 33.1h1V35.3h-1zM51 25.0h1V27.8h-1zM52 26.3h1V27.8h-1zM53 27.8h1V29.3h-1z"/>
<path fill="#2c6cb4" d="M26 37.7h1V40.5h-1zM27 40.5h1V43.5h-1zM28 43.5h1V48.2h-1z"/>
<path fill="#244ca4" d="M27 27.8h1V29.3h-1zM29 29.3h1V31.1h-1zM32 31.1h1V33.1h-1zM41 31.1h1V33.1h-1zM43 29.3h1V31.1h-1zM44 27.8h1V29.3h-1zM54 25.0h1V27.8h-1zM55 27.8h1V29.3h-1z"/>
<path fill="#2044a0" d="M28 25.0h1V26.3h-1zM29 25.0h1V27.8h-1zM30 26.3h1V27.8h-1zM31 27.8h1V29.3h-1zM32 27.8h1V29.3h-1zM43 26.3h1V27.8h-1zM44 25.0h1V26.3h-1zM55 25.0h1V26.3h-1zM56 26.3h1V27.8h-1zM57 25.0h1V26.3h-1z"/>
<path fill="#2048a4" d="M29 27.8h1V29.3h-1zM30 27.8h1V29.3h-1zM31 29.3h1V31.1h-1z"/>
<path fill="#2c64ac" d="M29 37.7h1V40.5h-1zM31 40.5h1V43.5h-1zM32 40.5h1V43.5h-1zM33 40.5h1V43.5h-1z"/>
<path fill="#2040a0" d="M30 25.0h1V26.3h-1zM31 25.0h1V27.8h-1zM43 25.0h1V26.3h-1zM56 25.0h1V26.3h-1z"/>
<path fill="#285ca8" d="M30 35.3h1V37.7h-1zM33 37.7h1V40.5h-1zM34 37.7h1V40.5h-1zM35 37.7h1V40.5h-1zM36 37.7h1V40.5h-1z"/>
<path fill="#5494cc" d="M30 95.9h1V101.6h-1z"/>
<path fill="#d4d8e0" d="M30 180.5h1V190.6h-1zM31 180.5h1V190.6h-1z"/>
<path fill="#5c98cc" d="M31 95.9h1V101.6h-1zM39 71.5h1V76.0h-1zM40 71.5h1V76.0h-1zM50 57.7h1V62.5h-1zM67 52.9h1V57.7h-1zM68 52.9h1V57.7h-1zM69 52.9h1V57.7h-1zM70 52.9h1V57.7h-1z"/>
<path fill="#203c9c" d="M32 25.0h1V26.3h-1zM42 25.0h1V26.3h-1z"/>
<path fill="#20409c" d="M32 26.3h1V27.8h-1zM33 26.3h1V27.8h-1zM42 26.3h1V27.8h-1z"/>
<path fill="#2860a8" d="M32 37.7h1V40.5h-1z"/>
<path fill="#203c98" d="M33 25.0h1V26.3h-1zM34 25.0h1V27.8h-1zM40 26.3h1V27.8h-1zM41 25.0h1V26.3h-1z"/>
<path fill="#20449c" d="M33 27.8h1V29.3h-1zM34 29.3h1V31.1h-1zM35 29.3h1V31.1h-1zM41 27.8h1V29.3h-1z"/>
<path fill="#20489c" d="M33 29.3h1V31.1h-1z"/>
<path fill="#244ca0" d="M33 31.1h1V33.1h-1zM34 31.1h1V33.1h-1zM40 31.1h1V33.1h-1z"/>
<path fill="#2858a4" d="M33 35.3h1V37.7h-1z"/>
<path fill="#e0d4d4" d="M33 153.2h1V162.0h-1zM56 85.2h1V90.4h-1z"/>
<path fill="#d8dcdc" d="M33 171.4h1V180.5h-1zM34 171.4h1V180.5h-1zM35 171.4h1V180.5h-1zM36 171.4h1V180.5h-1z"/>
<path fill="#204098" d="M34 27.8h1V29.3h-1zM35 27.8h1V29.3h-1zM36 27.8h1V29.3h-1zM37 27.8h1V29.3h-1zM38 27.8h1V29.3h-1zM40 27.8h1V29.3h-1zM41 26.3h1V27.8h-1z"/>
<path fill="#2450a0" d="M34 33.1h1V35.3h-1zM35 33.1h1V35.3h-1zM36 33.1h1V35.3h-1zM37 33.1h1V35.3h-1z"/>
<path fill="#2854a4" d="M34 35.3h1V37.7h-1zM35 35.3h1V37.7h-1zM36 35.3h1V37.7h-1zM37 35.3h1V37.7h-1z"/>
<path fill="#2c60ac" d="M34 40.5h1V43.5h-1zM35 40.5h1V43.5h-1zM36 40.5h1V43.5h-1zM44 35.3h1V37.7h-1zM45 33.1h1V35.3h-1zM49 29.3h1V31.1h-1z"/>
<path fill="#203894" d="M35 25.0h1V26.3h-1zM36 25.0h1V26.3h-1zM40 25.0h1V26.3h-1z"/>
<path fill="#203c94" d="M35 26.3h1V27.8h-1zM36 26.3h1V27.8h-1zM37 26.3h1V27.8h-1zM38 26.3h1V27.8h-1zM39 26.3h1V27.8h-1z"/>
<path fill="#24489c" d="M35 31.1h1V33.1h-1zM36 31.1h1V33.1h-1zM37 31.1h1V33.1h-1zM38 31.1h1V33.1h-1zM40 29.3h1V31.1h-1z"/>
<path fill="#3068b0" d="M35 43.5h1V48.2h-1zM36 43.5h1V48.2h-1zM44 37.7h1V40.5h-1zM46 35.3h1V37.7h-1zM47 33.1h1V35.3h-1z"/>
<path fill="#3878c0" d="M35 57.7h1V62.5h-1zM37 52.9h1V57.7h-1zM38 52.9h1V57.7h-1zM61 40.5h1V43.5h-1zM64 37.7h1V40.5h-1z"/>
<path fill="#4c88c4" d="M35 71.5h1V76.0h-1zM40 62.5h1V67.0h-1zM44 57.7h1V62.5h-1zM48 52.9h1V57.7h-1zM60 48.2h1V52.9h-1z"/>
<path fill="#508cc4" d="M35 76.0h1V80.3h-1zM36 71.5h1V76.0h-1zM63 48.2h1V52.9h-1z"/>
<path fill="#dcd4cc" d="M35 128.9h1V136.6h-1z"/>
<path fill="#204498" d="M36 29.3h1V31.1h-1zM37 29.3h1V31.1h-1zM38 29.3h1V31.1h-1zM39 29.3h1V31.1h-1z"/>
<path fill="#6ca0cc" d="M36 85.2h1V90.4h-1zM57 57.7h1V62.5h-1zM58 57.7h1V62.5h-1z"/>
<path fill="#7cacd0" d="M36 90.4h1V95.9h-1zM42 80.3h1V85.2h-1zM54 62.5h1V67.0h-1zM71 57.7h1V62.5h-1z"/>
<path fill="#8cbcd4" d="M36 95.9h1V101.6h-1z"/>
<path fill="#d0d0d0" d="M36 121.8h1V128.9h-1z"/>
<path fill="#203890" d="M37 25.0h1V26.3h-1zM38 25.0h1V26.3h-1zM39 25.0h1V26.3h-1z"/>
<path fill="#84b4d0" d="M37 90.4h1V95.9h-1zM46 76.0h1V80.3h-1z"/>
<path fill="#d4d0d0" d="M37 121.8h1V128.9h-1z"/>
<path fill="#2854a8" d="M38 35.3h1V37.7h-1zM41 33.1h1V35.3h-1zM42 33.1h1V35.3h-1zM44 31.1h1V33.1h-1zM45 29.3h1V31.1h-1zM46 27.8h1V29.3h-1zM49 25.0h1V26.3h-1zM50 25.0h1V26.3h-1zM52 25.0h1V26.3h-1zM53 26.3h1V27.8h-1z"/>
<path fill="#3470bc" d="M38 48.2h1V52.9h-1zM39 48.2h1V52.9h-1zM53 37.7h1V40.5h-1zM54 40.5h1V43.5h-1zM58 40.5h1V43.5h-1zM61 37.7h1V40.5h-1zM64 35.3h1V37.7h-1z"/>
<path fill="#204094" d="M39 27.8h1V29.3h-1z"/>
<path fill="#2448a0" d="M39 31.1h1V33.1h-1zM41 29.3h1V31.1h-1zM42 29.3h1V31.1h-1z"/>
<path fill="#2c64b4" d="M39 40.5h1V43.5h-1zM40 40.5h1V43.5h-1zM55 37.7h1V40.5h-1zM56 37.7h1V40.5h-1zM57 37.7h1V40.5h-1z"/>
<path fill="#3068b8" d="M39 43.5h1V48.2h-1zM53 35.3h1V37.7h-1zM56 40.5h1V43.5h-1zM58 37.7h1V40.5h-1zM61 35.3h1V37.7h-1zM63 33.1h1V35.3h-1z"/>
<path fill="#3c78c0" d="M39 52.9h1V57.7h-1zM52 40.5h1V43.5h-1zM54 43.5h1V48.2h-1zM62 40.5h1V43.5h-1z"/>
<path fill="#4080c4" d="M39 57.7h1V62.5h-1zM51 43.5h1V48.2h-1zM52 43.5h1V48.2h-1z"/>
<path fill="#c0d4e0" d="M39 108.1h1V115.1h-1z"/>
<path fill="#d8d0cc" d="M39 121.8h1V128.9h-1z"/>
<path fill="#e0d0c4" d="M39 153.2h1V162.0h-1z"/>
<path fill="#2850a4" d="M40 33.1h1V35.3h-1z"/>
<path fill="#2c60b0" d="M40 37.7h1V40.5h-1zM41 37.7h1V40.5h-1zM50 29.3h1V31.1h-1zM51 29.3h1V31.1h-1zM52 29.3h1V31.1h-1zM53 31.1h1V33.1h-1zM54 33.1h1V35.3h-1zM55 35.3h1V37.7h-1zM57 35.3h1V37.7h-1zM66 27.8h1V29.3h-1z"/>
<path fill="#98bcd4" d="M40 90.4h1V95.9h-1zM51 71.5h1V76.0h-1zM69 62.5h1V67.0h-1zM70 62.5h1V67.0h-1zM71 62.5h1V67.0h-1z"/>
<path fill="#dcccc8" d="M40 121.8h1V128.9h-1z"/>
<path fill="#dcccc4" d="M41 121.8h1V128.9h-1z"/>
<path fill="#e4c4b4" d="M41 136.6h1V153.2h-1zM42 128.9h1V136.6h-1zM42 153.2h1V162.0h-1zM47 190.6h1V201.4h-1z"/>
<path fill="#2444a0" d="M42 27.8h1V29.3h-1z"/>
<path fill="#2c5cac" d="M42 35.3h1V37.7h-1zM43 35.3h1V37.7h-1zM44 33.1h1V35.3h-1zM46 31.1h1V33.1h-1zM47 29.3h1V31.1h-1zM50 27.8h1V29.3h-1zM51 27.8h1V29.3h-1zM52 27.8h1V29.3h-1zM53 29.3h1V31.1h-1z"/>
<path fill="#e0ccc0" d="M42 121.8h1V128.9h-1z"/>
<path fill="#2448a4" d="M43 27.8h1V29.3h-1zM44 26.3h1V27.8h-1zM45 25.0h1V27.8h-1zM55 26.3h1V27.8h-1zM56 27.8h1V29.3h-1zM57 27.8h1V29.3h-1zM58 26.3h1V27.8h-1zM59 25.0h1V27.8h-1zM60 25.0h1V26.3h-1z"/>
<path fill="#2850a8" d="M43 31.1h1V33.1h-1zM44 29.3h1V31.1h-1zM45 27.8h1V29.3h-1zM47 25.0h1V26.3h-1zM48 25.0h1V26.3h-1zM54 27.8h1V29.3h-1zM58 29.3h1V31.1h-1zM59 29.3h1V31.1h-1zM60 27.8h1V29.3h-1zM62 26.3h1V27.8h-1zM63 25.0h1V26.3h-1z"/>
<path fill="#3064b0" d="M43 37.7h1V40.5h-1zM45 35.3h1V37.7h-1zM46 33.1h1V35.3h-1zM48 31.1h1V33.1h-1zM49 31.1h1V33.1h-1zM50 31.1h1V33.1h-1zM52 31.1h1V33.1h-1z"/>
<path fill="#3c78bc" d="M43 48.2h1V52.9h-1zM46 43.5h1V48.2h-1zM57 43.5h1V48.2h-1zM58 43.5h1V48.2h-1zM71 35.3h1V37.7h-1zM72 35.3h1.290V37.7h-1.290z"/>
<path fill="#c0d4dc" d="M43 101.6h1V108.1h-1z"/>
<path fill="#e0c8c0" d="M43 121.8h1V128.9h-1zM45 190.6h1V201.4h-1z"/>
<path fill="#dcd0c8" d="M43 190.6h1V201.4h-1z"/>
<path fill="#3470b4" d="M44 40.5h1V43.5h-1zM45 40.5h1V43.5h-1zM46 37.7h1V40.5h-1zM48 35.3h1V37.7h-1z"/>
<path fill="#5490c4" d="M44 62.5h1V67.0h-1z"/>
<path fill="#2c58ac" d="M45 31.1h1V33.1h-1zM46 29.3h1V31.1h-1zM48 27.8h1V29.3h-1zM49 27.8h1V29.3h-1zM61 29.3h1V31.1h-1zM63 27.8h1V29.3h-1zM64 26.3h1V27.8h-1zM66 25.0h1V26.3h-1z"/>
<path fill="#346cb4" d="M45 37.7h1V40.5h-1zM47 35.3h1V37.7h-1zM51 33.1h1V35.3h-1z"/>
<path fill="#3c78b8" d="M45 43.5h1V48.2h-1z"/>
<path fill="#407cbc" d="M45 48.2h1V52.9h-1zM47 43.5h1V48.2h-1z"/>
<path fill="#609cc8" d="M45 67.0h1V71.5h-1z"/>
<path fill="#a0c0d8" d="M45 85.2h1V90.4h-1zM57 67.0h1V71.5h-1zM58 67.0h1V71.5h-1zM59 67.0h1V71.5h-1z"/>
<path fill="#e4c0b4" d="M45 171.4h1V180.5h-1zM46 121.8h1V128.9h-1zM46 180.5h1V190.6h-1zM50 115.1h1V121.8h-1z"/>
<path fill="#284ca4" d="M46 25.0h1V26.3h-1zM60 26.3h1V27.8h-1zM61 25.0h1V26.3h-1z"/>
<path fill="#284ca8" d="M46 26.3h1V27.8h-1zM59 27.8h1V29.3h-1zM61 26.3h1V27.8h-1zM62 25.0h1V26.3h-1z"/>
<path fill="#74a8cc" d="M46 71.5h1V76.0h-1zM62 57.7h1V62.5h-1zM63 57.7h1V62.5h-1z"/>
<path fill="#2c50a8" d="M47 26.3h1V27.8h-1z"/>
<path fill="#2c54ac" d="M47 27.8h1V29.3h-1zM62 27.8h1V29.3h-1zM65 25.0h1V26.3h-1z"/>
<path fill="#3060b0" d="M47 31.1h1V33.1h-1zM62 31.1h1V33.1h-1zM64 29.3h1V31.1h-1zM67 27.8h1V29.3h-1z"/>
<path fill="#3878b8" d="M47 40.5h1V43.5h-1z"/>
<path fill="#9cc0d4" d="M47 80.3h1V85.2h-1z"/>
<path fill="#e0ccc8" d="M47 115.1h1V121.8h-1z"/>
<path fill="#e4c0b0" d="M47 121.8h1V128.9h-1zM57 201.4h1V211.9h-1z"/>
<path fill="#2c54a8" d="M48 26.3h1V27.8h-1zM49 26.3h1V27.8h-1z"/>
<path fill="#305cac" d="M48 29.3h1V31.1h-1z"/>
<path fill="#3468b4" d="M48 33.1h1V35.3h-1zM49 33.1h1V35.3h-1zM50 33.1h1V35.3h-1z"/>
<path fill="#4080bc" d="M48 43.5h1V48.2h-1z"/>
<path fill="#e4bcac" d="M48 121.8h1V128.9h-1z"/>
<path fill="#e8b8a0" d="M48 171.4h1V180.5h-1z"/>
<path fill="#88b4d0" d="M49 71.5h1V76.0h-1z"/>
<path fill="#98c0d4" d="M49 76.0h1V80.3h-1z"/>
<path fill="#e4c4bc" d="M49 115.1h1V121.8h-1z"/>
<path fill="#e4b8a8" d="M49 121.8h1V128.9h-1z"/>
<path fill="#e8b49c" d="M49 171.4h1V180.5h-1zM52 180.5h1V190.6h-1z"/>
<path fill="#2c58a8" d="M50 26.3h1V27.8h-1z"/>
<path fill="#3064b4" d="M51 31.1h1V33.1h-1zM53 33.1h1V35.3h-1zM54 35.3h1V37.7h-1zM59 35.3h1V37.7h-1zM60 35.3h1V37.7h-1zM61 33.1h1V35.3h-1zM62 33.1h1V35.3h-1zM64 31.1h1V33.1h-1zM66 29.3h1V31.1h-1zM67 29.3h1V31.1h-1zM69 27.8h1V29.3h-1zM70 27.8h1V29.3h-1z"/>
<path fill="#e09c84" d="M53 153.2h1V162.0h-1zM61 128.9h1V136.6h-1zM64 121.8h1V128.9h-1zM65 121.8h1V128.9h-1zM69 115.1h1V121.8h-1z"/>
<path fill="#e0a890" d="M53 171.4h1V180.5h-1zM58 180.5h1V190.6h-1zM59 180.5h1V190.6h-1zM69 108.1h1V115.1h-1z"/>
<path fill="#2854ac" d="M54 29.3h1V31.1h-1zM55 31.1h1V33.1h-1zM56 33.1h1V35.3h-1zM57 31.1h1V33.1h-1zM58 31.1h1V33.1h-1zM60 29.3h1V31.1h-1zM61 27.8h1V29.3h-1zM63 26.3h1V27.8h-1zM64 25.0h1V26.3h-1z"/>
<path fill="#2858ac" d="M54 31.1h1V33.1h-1zM55 33.1h1V35.3h-1zM57 33.1h1V35.3h-1zM59 31.1h1V33.1h-1z"/>
<path fill="#dc9c84" d="M54 144.9h1V162.0h-1zM55 144.9h1V171.4h-1zM56 136.6h1V153.2h-1zM56 162.0h1V171.4h-1zM57 136.6h1V144.9h-1zM58 136.6h1V144.9h-1zM59 136.6h1V144.9h-1zM59 171.4h1V180.5h-1zM60 136.6h1V144.9h-1zM60 171.4h1V180.5h-1zM61 171.4h1V180.5h-1zM61 201.4h1V211.9h-1zM62 128.9h1V136.6h-1zM62 171.4h1V180.5h-1zM62 201.4h1V211.9h-1zM63 180.5h1V190.6h-1zM64 180.5h1V201.4h-1zM65 180.5h1V190.6h-1zM66 121.8h1V128.9h-1zM67 121.8h1V128.9h-1zM68 121.8h1V128.9h-1z"/>
<path fill="#2450a8" d="M55 29.3h1V31.1h-1zM56 31.1h1V33.1h-1z"/>
<path fill="#4480c0" d="M55 48.2h1V52.9h-1zM56 48.2h1V52.9h-1z"/>
<path fill="#dca088" d="M55 136.6h1V144.9h-1zM56 171.4h1V180.5h-1zM57 171.4h1V180.5h-1zM58 171.4h1V180.5h-1zM61 190.6h1V201.4h-1zM62 180.5h1V201.4h-1zM63 190.6h1V201.4h-1z"/>
<path fill="#244ca8" d="M56 29.3h1V31.1h-1zM57 29.3h1V31.1h-1zM58 27.8h1V29.3h-1z"/>
<path fill="#285cb0" d="M56 35.3h1V37.7h-1z"/>
<path fill="#dc9880" d="M56 153.2h1V162.0h-1zM57 144.9h1V171.4h-1zM58 144.9h1V153.2h-1zM58 162.0h1V171.4h-1zM59 144.9h1V153.2h-1zM59 162.0h1V171.4h-1zM61 136.6h1V144.9h-1zM62 136.6h1V144.9h-1zM63 128.9h1V136.6h-1zM63 171.4h1V180.5h-1zM64 128.9h1V136.6h-1zM64 171.4h1V180.5h-1zM65 128.9h1V136.6h-1zM65 171.4h1V180.5h-1zM66 128.9h1V136.6h-1zM67 128.9h1V136.6h-1zM68 128.9h1V136.6h-1zM69 121.8h1V128.9h-1z"/>
<path fill="#e0ac94" d="M56 180.5h1V190.6h-1z"/>
<path fill="#e4bca8" d="M56 190.6h1V201.4h-1z"/>
<path fill="#e8ccbc" d="M56 201.4h1V211.9h-1z"/>
<path fill="#2444a4" d="M57 26.3h1V27.8h-1zM58 25.0h1V26.3h-1z"/>
<path fill="#e0a894" d="M57 180.5h1V190.6h-1zM59 190.6h1V201.4h-1z"/>
<path fill="#2c5cb0" d="M58 33.1h1V35.3h-1zM59 33.1h1V35.3h-1zM61 31.1h1V33.1h-1zM63 29.3h1V31.1h-1zM64 27.8h1V29.3h-1zM65 27.8h1V29.3h-1zM66 26.3h1V27.8h-1zM67 26.3h1V27.8h-1zM68 25.0h1V27.8h-1zM69 25.0h1V26.3h-1z"/>
<path fill="#2c60b4" d="M58 35.3h1V37.7h-1zM60 33.1h1V35.3h-1zM69 26.3h1V27.8h-1z"/>
<path fill="#88b0d4" d="M58 62.5h1V67.0h-1z"/>
<path fill="#e8ac9c" d="M58 115.1h1V121.8h-1zM59 115.1h1V121.8h-1zM60 115.1h1V121.8h-1z"/>
<path fill="#dc947c" d="M58 153.2h1V162.0h-1zM59 153.2h1V162.0h-1zM60 144.9h1V153.2h-1zM60 162.0h1V171.4h-1zM61 144.9h1V153.2h-1zM61 162.0h1V171.4h-1zM62 144.9h1V153.2h-1zM62 162.0h1V171.4h-1zM63 136.6h1V144.9h-1zM63 162.0h1V171.4h-1z"/>
<path fill="#e0b09c" d="M58 190.6h1V201.4h-1z"/>
<path fill="#e0b4a0" d="M58 201.4h1V211.9h-1z"/>
<path fill="#3870bc" d="M59 40.5h1V43.5h-1zM70 33.1h1V35.3h-1z"/>
<path fill="#407cc0" d="M59 43.5h1V48.2h-1zM60 43.5h1V48.2h-1z"/>
<path fill="#e8b4a8" d="M59 108.1h1V115.1h-1z"/>
<path fill="#2c58b0" d="M60 31.1h1V33.1h-1zM62 29.3h1V31.1h-1zM65 26.3h1V27.8h-1zM67 25.0h1V26.3h-1z"/>
<path fill="#346cbc" d="M60 37.7h1V40.5h-1z"/>
<path fill="#8cb4d4" d="M60 62.5h1V67.0h-1zM61 62.5h1V67.0h-1zM62 62.5h1V67.0h-1z"/>
<path fill="#a4c0d8" d="M60 67.0h1V71.5h-1z"/>
<path fill="#c8d0d4" d="M60 76.0h1V80.3h-1zM61 76.0h1V80.3h-1zM62 76.0h1V80.3h-1zM63 76.0h1V80.3h-1zM64 76.0h1V80.3h-1z"/>
<path fill="#dc9078" d="M60 153.2h1V162.0h-1zM61 153.2h1V162.0h-1zM62 153.2h1V162.0h-1z"/>
<path fill="#74a4cc" d="M61 57.7h1V62.5h-1z"/>
<path fill="#b8c8d8" d="M61 71.5h1V76.0h-1zM62 71.5h1V76.0h-1z"/>
<path fill="#3060b4" d="M63 31.1h1V33.1h-1zM65 29.3h1V31.1h-1zM68 27.8h1V29.3h-1zM70 26.3h1V27.8h-1zM71 25.0h1V26.3h-1z"/>
<path fill="#90b4d4" d="M63 62.5h1V67.0h-1z"/>
<path fill="#d89078" d="M63 144.9h1V162.0h-1zM64 144.9h1V162.0h-1zM65 144.9h1V162.0h-1zM66 144.9h1V162.0h-1zM67 144.9h1V153.2h-1z"/>
<path fill="#78a8cc" d="M64 57.7h1V62.5h-1zM65 57.7h1V62.5h-1z"/>
<path fill="#acc4d8" d="M64 67.0h1V71.5h-1z"/>
<path fill="#d8947c" d="M64 136.6h1V144.9h-1zM64 162.0h1V171.4h-1zM65 136.6h1V144.9h-1zM65 162.0h1V171.4h-1zM66 136.6h1V144.9h-1zM66 162.0h1V171.4h-1zM67 136.6h1V144.9h-1z"/>
<path fill="#94b8d4" d="M65 62.5h1V67.0h-1zM66 62.5h1V67.0h-1zM67 62.5h1V67.0h-1zM68 62.5h1V67.0h-1z"/>
<path fill="#bcccd4" d="M65 71.5h1V76.0h-1z"/>
<path fill="#78a8d0" d="M66 57.7h1V62.5h-1zM67 57.7h1V62.5h-1zM68 57.7h1V62.5h-1zM69 57.7h1V62.5h-1z"/>
<path fill="#c0ccd4" d="M66 71.5h1V76.0h-1zM67 71.5h1V76.0h-1zM68 71.5h1V76.0h-1z"/>
<path fill="#3468b8" d="M67 31.1h1V33.1h-1zM70 29.3h1V31.1h-1zM71 29.3h1V31.1h-1zM72 29.3h1.290V31.1h-1.290z"/>
<path fill="#2c5cb4" d="M70 25.0h1V26.3h-1z"/>
<path fill="#3060b8" d="M71 26.3h1V27.8h-1zM72 25.0h1.290V26.3h-1.290z"/>
<path fill="#3064b8" d="M71 27.8h1V29.3h-1zM72 26.3h1.290V27.8h-1.290z"/>
<path fill="#3464b8" d="M72 27.8h1.290V29.3h-1.290z"/>
<path fill="#386cbc" d="M72 31.1h1.290V33.1h-1.290z"/>
</g>
<rect x="333.40" y="295.00" width="346.60" height="193.20" fill="#666666"/>
<g transform="translate(333.23,0) scale(4.7410,1)" shape-rendering="crispEdges">
<path fill="#182c50" d="M1 295.0h1V296.3h-1z"/>
<path fill="#1c2c50" d="M1 296.3h1V297.8h-1z"/>
<path fill="#1c3050" d="M1 297.8h1V301.1h-1z"/>
<path fill="#1c3454" d="M1 301.1h1V305.3h-1zM2 296.3h1V297.8h-1z"/>
<path fill="#1c3854" d="M1 305.3h1V307.6h-1zM2 297.8h1V299.3h-1z"/>
<path fill="#1c3c58" d="M1 307.6h1V310.4h-1z"/>
<path fill="#1c4058" d="M1 310.4h1V313.4h-1zM2 301.1h1V303.1h-1zM3 295.0h1V296.3h-1z"/>
<path fill="#20445c" d="M1 313.4h1V322.8h-1zM2 303.1h1V305.3h-1zM4 295.0h1V296.3h-1z"/>
<path fill="#20485c" d="M1 322.8h1V336.8h-1zM2 305.3h1V307.6h-1z"/>
<path fill="#204c5c" d="M1 336.8h1V345.8h-1zM3 297.8h1V299.3h-1z"/>
<path fill="#1c3450" d="M2 295.0h1V296.3h-1z"/>
<path fill="#1c3c54" d="M2 299.3h1V301.1h-1z"/>
<path fill="#205060" d="M2 307.6h1V310.4h-1zM3 299.3h1V301.1h-1z"/>
<path fill="#205460" d="M2 310.4h1V313.4h-1z"/>
<path fill="#205c64" d="M2 313.4h1V318.1h-1zM3 301.1h1V303.1h-1z"/>
<path fill="#206064" d="M2 318.1h1V322.8h-1z"/>
<path fill="#206464" d="M2 322.8h1V327.6h-1z"/>
<path fill="#246864" d="M2 327.6h1V332.3h-1z"/>
<path fill="#246c68" d="M2 332.3h1V341.3h-1z"/>
<path fill="#24706c" d="M2 341.3h1V345.8h-1z"/>
<path fill="#24746c" d="M2 345.8h1V350.1h-1z"/>
<path fill="#247c70" d="M2 350.1h1V354.9h-1z"/>
<path fill="#288474" d="M2 354.9h1V360.1h-1z"/>
<path fill="#2c8878" d="M2 360.1h1V365.6h-1z"/>
<path fill="#308c7c" d="M2 365.6h1V371.3h-1z"/>
<path fill="#389480" d="M2 371.3h1V377.7h-1zM3 341.3h1V345.8h-1z"/>
<path fill="#4ca08c" d="M2 377.7h1V384.7h-1z"/>
<path fill="#204458" d="M3 296.3h1V297.8h-1z"/>
<path fill="#206468" d="M3 303.1h1V305.3h-1z"/>
<path fill="#206c68" d="M3 305.3h1V307.6h-1z"/>
<path fill="#20746c" d="M3 307.6h1V310.4h-1z"/>
<path fill="#207c74" d="M3 310.4h1V313.4h-1z"/>
<path fill="#208878" d="M3 313.4h1V318.1h-1z"/>
<path fill="#248878" d="M3 318.1h1V322.8h-1z"/>
<path fill="#2c8c78" d="M3 322.8h1V327.6h-1z"/>
<path fill="#30907c" d="M3 327.6h1V336.8h-1z"/>
<path fill="#34947c" d="M3 336.8h1V341.3h-1z"/>
<path fill="#3c9880" d="M3 345.8h1V350.1h-1z"/>
<path fill="#409c84" d="M3 350.1h1V354.9h-1z"/>
<path fill="#449c84" d="M3 354.9h1V360.1h-1z"/>
<path fill="#48a088" d="M3 360.1h1V365.6h-1z"/>
<path fill="#50a088" d="M3 365.6h1V371.3h-1z"/>
<path fill="#58a48c" d="M3 371.3h1V377.7h-1z"/>
<path fill="#78b49c" d="M3 377.7h1V384.7h-1zM4 350.1h1V354.9h-1zM4 365.6h1V371.3h-1z"/>
<path fill="#9cc4ac" d="M3 384.7h1V391.4h-1z"/>
<path fill="#a0c4ac" d="M3 391.4h1V398.4h-1zM4 384.7h1V391.4h-1zM5 327.6h1V332.3h-1zM6 318.1h1V322.8h-1zM8 307.6h1V310.4h-1zM32 295.0h1V296.3h-1zM38 310.4h1V313.4h-1zM43 295.0h1V299.3h-1zM65 350.1h1V354.9h-1zM66 384.7h1V391.4h-1zM67 336.8h1V341.3h-1zM68 391.4h1V398.4h-1zM70 322.8h1V327.6h-1z"/>
<path fill="#9cc0a8" d="M3 398.4h1V406.1h-1zM26 295.0h1V296.3h-1zM33 296.3h1V297.8h-1zM35 307.6h1V310.4h-1zM39 310.4h1V313.4h-1zM42 299.3h1V305.3h-1z"/>
<path fill="#244c60" d="M4 296.3h1V297.8h-1z"/>
<path fill="#285864" d="M4 297.8h1V299.3h-1z"/>
<path fill="#30646c" d="M4 299.3h1V301.1h-1z"/>
<path fill="#387070" d="M4 301.1h1V303.1h-1z"/>
<path fill="#408078" d="M4 303.1h1V305.3h-1zM13 296.3h1V297.8h-1z"/>
<path fill="#488c80" d="M4 305.3h1V307.6h-1z"/>
<path fill="#4c9080" d="M4 307.6h1V310.4h-1zM17 296.3h1V297.8h-1z"/>
<path fill="#509884" d="M4 310.4h1V313.4h-1z"/>
<path fill="#54a08c" d="M4 313.4h1V318.1h-1z"/>
<path fill="#5ca48c" d="M4 318.1h1V322.8h-1z"/>
<path fill="#60a890" d="M4 322.8h1V327.6h-1z"/>
<path fill="#68a894" d="M4 327.6h1V332.3h-1z"/>
<path fill="#6cac94" d="M4 332.3h1V336.8h-1z"/>
<path fill="#6cb098" d="M4 336.8h1V341.3h-1z"/>
<path fill="#70b098" d="M4 341.3h1V345.8h-1z"/>
<path fill="#74b49c" d="M4 345.8h1V350.1h-1z"/>
<path fill="#7cb8a0" d="M4 354.9h1V365.6h-1z"/>
<path fill="#74b098" d="M4 371.3h1V377.7h-1z"/>
<path fill="#8cbca0" d="M4 377.7h1V384.7h-1zM7 305.3h1V307.6h-1z"/>
<path fill="#a4c4ac" d="M4 391.4h1V398.4h-1zM5 406.1h1V414.4h-1zM6 371.3h1V377.7h-1zM7 313.4h1V318.1h-1zM26 296.3h1V297.8h-1zM31 295.0h1V296.3h-1zM32 296.3h1V297.8h-1zM33 299.3h1V301.1h-1zM37 310.4h1V313.4h-1zM41 307.6h1V310.4h-1zM42 305.3h1V307.6h-1zM43 299.3h1V301.1h-1zM64 360.1h1V365.6h-1zM65 345.8h1V350.1h-1zM65 365.6h1V371.3h-1zM66 341.3h1V345.8h-1zM66 377.7h1V384.7h-1zM67 332.3h1V336.8h-1zM67 371.3h1V377.7h-1zM67 391.4h1V398.4h-1zM69 322.8h1V327.6h-1z"/>
<path fill="#9cc4a8" d="M4 398.4h1V406.1h-1zM5 377.7h1V384.7h-1zM66 354.9h1V360.1h-1zM67 345.8h1V354.9h-1zM67 360.1h1V365.6h-1zM68 336.8h1V341.3h-1zM68 365.6h1V371.3h-1zM68 377.7h1V384.7h-1zM69 377.7h1V384.7h-1zM70 327.6h1V332.3h-1z"/>
<path fill="#a0c4a8" d="M4 406.1h1V414.4h-1zM5 398.4h1V406.1h-1zM65 354.9h1V365.6h-1zM66 345.8h1V354.9h-1zM66 360.1h1V371.3h-1zM67 341.3h1V345.8h-1zM67 365.6h1V371.3h-1zM67 377.7h1V391.4h-1zM68 332.3h1V336.8h-1zM68 371.3h1V377.7h-1zM69 327.6h1V332.3h-1zM69 371.3h1V377.7h-1zM69 391.4h1V398.4h-1zM70 371.3h1V377.7h-1zM71 322.8h1V327.6h-1z"/>
<path fill="#a8c8b0" d="M4 414.4h1V422.6h-1zM5 336.8h1V341.3h-1zM5 414.4h1V422.6h-1zM6 322.8h1V327.6h-1zM6 384.7h1V406.1h-1zM7 318.1h1V322.8h-1zM21 301.1h1V303.1h-1zM35 310.4h1V313.4h-1zM43 303.1h1V305.3h-1zM44 295.0h1V297.8h-1zM62 360.1h1V365.6h-1zM63 350.1h1V354.9h-1zM63 365.6h1V371.3h-1zM64 345.8h1V350.1h-1zM64 371.3h1V391.4h-1zM65 336.8h1V345.8h-1zM65 371.3h1V377.7h-1zM65 391.4h1V398.4h-1zM66 332.3h1V336.8h-1zM69 318.1h1V322.8h-1zM71 313.4h1V318.1h-1z"/>
<path fill="#204860" d="M5 295.0h1V296.3h-1z"/>
<path fill="#285464" d="M5 296.3h1V297.8h-1z"/>
<path fill="#34646c" d="M5 297.8h1V299.3h-1z"/>
<path fill="#407478" d="M5 299.3h1V301.1h-1z"/>
<path fill="#508880" d="M5 301.1h1V303.1h-1z"/>
<path fill="#64a08c" d="M5 303.1h1V305.3h-1z"/>
<path fill="#70a894" d="M5 305.3h1V307.6h-1z"/>
<path fill="#78b094" d="M5 307.6h1V310.4h-1z"/>
<path fill="#80b498" d="M5 310.4h1V313.4h-1z"/>
<path fill="#88b89c" d="M5 313.4h1V318.1h-1z"/>
<path fill="#90bca4" d="M5 318.1h1V322.8h-1zM39 307.6h1V310.4h-1zM41 296.3h1V301.1h-1z"/>
<path fill="#98c0a8" d="M5 322.8h1V327.6h-1zM7 310.4h1V313.4h-1zM8 305.3h1V307.6h-1zM33 295.0h1V296.3h-1zM36 307.6h1V310.4h-1zM40 307.6h1V310.4h-1zM41 305.3h1V307.6h-1zM42 295.0h1V299.3h-1z"/>
<path fill="#a4c8b0" d="M5 332.3h1V336.8h-1zM5 384.7h1V391.4h-1zM9 305.3h1V307.6h-1zM36 310.4h1V313.4h-1zM43 301.1h1V303.1h-1zM65 377.7h1V384.7h-1z"/>
<path fill="#acccb4" d="M5 341.3h1V345.8h-1zM6 414.4h1V422.6h-1zM7 384.7h1V391.4h-1zM10 305.3h1V307.6h-1zM30 295.0h1V296.3h-1zM61 365.6h1V371.3h-1zM62 377.7h1V384.7h-1zM63 391.4h1V398.4h-1zM65 332.3h1V336.8h-1zM65 398.4h1V406.1h-1zM66 398.4h1V406.1h-1zM69 313.4h1V318.1h-1z"/>
<path fill="#b0ccb4" d="M5 345.8h1V350.1h-1zM6 327.6h1V332.3h-1zM7 322.8h1V327.6h-1zM7 371.3h1V384.7h-1zM7 391.4h1V406.1h-1zM8 318.1h1V322.8h-1zM9 310.4h1V313.4h-1zM10 307.6h1V310.4h-1zM38 313.4h1V318.1h-1zM44 301.1h1V303.1h-1zM45 295.0h1V296.3h-1zM60 360.1h1V384.7h-1zM61 354.9h1V360.1h-1zM61 371.3h1V391.4h-1zM62 350.1h1V354.9h-1zM62 384.7h1V398.4h-1zM63 341.3h1V345.8h-1zM63 398.4h1V406.1h-1zM64 336.8h1V341.3h-1zM64 398.4h1V406.1h-1zM65 327.6h1V332.3h-1z"/>
<path fill="#b4d0b8" d="M5 350.1h1V354.9h-1zM7 327.6h1V332.3h-1zM7 414.4h1V422.6h-1zM9 313.4h1V318.1h-1zM9 384.7h1V391.4h-1zM10 310.4h1V313.4h-1zM11 307.6h1V310.4h-1zM46 295.0h1V296.3h-1zM59 360.1h1V371.3h-1zM59 377.7h1V384.7h-1zM60 391.4h1V398.4h-1zM61 398.4h1V406.1h-1zM62 341.3h1V345.8h-1zM63 336.8h1V341.3h-1zM63 406.1h1V414.4h-1zM64 327.6h1V332.3h-1z"/>
<path fill="#b8d0bc" d="M5 354.9h1V360.1h-1zM9 391.4h1V398.4h-1zM29 295.0h1V296.3h-1zM35 313.4h1V318.1h-1zM45 301.1h1V303.1h-1zM46 296.3h1V297.8h-1zM67 313.4h1V318.1h-1z"/>
<path fill="#b0ccb8" d="M5 360.1h1V365.6h-1zM8 384.7h1V391.4h-1zM44 303.1h1V305.3h-1zM45 296.3h1V297.8h-1zM64 332.3h1V336.8h-1z"/>
<path fill="#a4c8ac" d="M5 365.6h1V371.3h-1zM5 391.4h1V398.4h-1zM6 377.7h1V384.7h-1zM8 310.4h1V313.4h-1zM63 360.1h1V365.6h-1zM64 350.1h1V354.9h-1zM64 365.6h1V371.3h-1zM65 384.7h1V391.4h-1zM66 336.8h1V341.3h-1zM66 371.3h1V377.7h-1zM71 318.1h1V322.8h-1z"/>
<path fill="#94c0a4" d="M5 371.3h1V377.7h-1zM69 345.8h1V360.1h-1z"/>
<path fill="#c0d4c4" d="M5 422.6h1V431.4h-1zM42 313.4h1V318.1h-1z"/>
<path fill="#204c60" d="M6 295.0h1V296.3h-1z"/>
<path fill="#285868" d="M6 296.3h1V297.8h-1z"/>
<path fill="#386870" d="M6 297.8h1V299.3h-1z"/>
<path fill="#487c7c" d="M6 299.3h1V301.1h-1zM10 297.8h1V299.3h-1z"/>
<path fill="#5c9088" d="M6 301.1h1V303.1h-1z"/>
<path fill="#74a894" d="M6 303.1h1V305.3h-1zM20 297.8h1V299.3h-1z"/>
<path fill="#80b49c" d="M6 305.3h1V307.6h-1z"/>
<path fill="#88b8a0" d="M6 307.6h1V310.4h-1z"/>
<path fill="#90bca0" d="M6 310.4h1V313.4h-1zM35 305.3h1V307.6h-1zM70 345.8h1V360.1h-1z"/>
<path fill="#98c0a4" d="M6 313.4h1V318.1h-1zM68 345.8h1V360.1h-1zM69 336.8h1V345.8h-1zM69 360.1h1V365.6h-1zM69 384.7h1V391.4h-1zM70 332.3h1V336.8h-1zM70 365.6h1V371.3h-1zM71 332.3h1V336.8h-1z"/>
<path fill="#b4ccb8" d="M6 332.3h1V336.8h-1zM6 365.6h1V371.3h-1zM8 391.4h1V398.4h-1zM14 303.1h1V305.3h-1zM23 301.1h1V303.1h-1zM25 299.3h1V301.1h-1zM30 296.3h1V297.8h-1zM34 310.4h1V313.4h-1zM37 313.4h1V318.1h-1zM40 313.4h1V318.1h-1zM43 307.6h1V310.4h-1zM45 297.8h1V301.1h-1zM60 384.7h1V391.4h-1zM61 391.4h1V398.4h-1z"/>
<path fill="#b8d0b8" d="M6 336.8h1V341.3h-1zM8 322.8h1V327.6h-1zM8 377.7h1V384.7h-1zM8 398.4h1V406.1h-1zM11 310.4h1V313.4h-1zM12 305.3h1V307.6h-1zM16 303.1h1V305.3h-1zM44 305.3h1V307.6h-1zM58 365.6h1V391.4h-1zM59 354.9h1V360.1h-1zM59 384.7h1V398.4h-1zM60 350.1h1V354.9h-1zM60 398.4h1V406.1h-1zM61 345.8h1V350.1h-1zM61 406.1h1V414.4h-1zM62 406.1h1V414.4h-1zM63 332.3h1V336.8h-1zM63 414.4h1V422.6h-1zM64 414.4h1V422.6h-1zM65 322.8h1V327.6h-1zM65 414.4h1V422.6h-1zM66 414.4h1V422.6h-1zM67 414.4h1V422.6h-1z"/>
<path fill="#bcd4bc" d="M6 341.3h1V345.8h-1zM8 327.6h1V332.3h-1zM8 414.4h1V422.6h-1zM11 313.4h1V318.1h-1zM12 310.4h1V313.4h-1zM13 305.3h1V307.6h-1zM57 365.6h1V371.3h-1zM57 384.7h1V398.4h-1zM58 354.9h1V360.1h-1zM59 350.1h1V354.9h-1zM59 406.1h1V414.4h-1zM60 345.8h1V350.1h-1zM61 414.4h1V422.6h-1zM63 327.6h1V332.3h-1zM64 422.6h1V431.4h-1zM65 422.6h1V431.4h-1zM66 422.6h1V431.4h-1z"/>
<path fill="#c0d4c0" d="M6 345.8h1V350.1h-1zM6 360.1h1V365.6h-1zM7 336.8h1V341.3h-1zM9 322.8h1V327.6h-1zM9 377.7h1V384.7h-1zM9 398.4h1V406.1h-1zM10 384.7h1V391.4h-1zM11 318.1h1V322.8h-1zM19 303.1h1V305.3h-1zM20 303.1h1V305.3h-1zM28 296.3h1V297.8h-1zM29 296.3h1V297.8h-1zM45 305.3h1V307.6h-1zM46 299.3h1V301.1h-1zM47 296.3h1V297.8h-1zM57 360.1h1V365.6h-1zM65 318.1h1V322.8h-1zM66 313.4h1V318.1h-1zM69 310.4h1V313.4h-1z"/>
<path fill="#c4d4c0" d="M6 350.1h1V354.9h-1zM8 332.3h1V336.8h-1zM13 313.4h1V318.1h-1zM14 307.6h1V313.4h-1zM15 305.3h1V307.6h-1zM21 303.1h1V305.3h-1zM34 313.4h1V318.1h-1zM46 301.1h1V303.1h-1zM54 384.7h1V398.4h-1zM55 371.3h1V377.7h-1zM56 365.6h1V371.3h-1zM57 354.9h1V360.1h-1zM58 350.1h1V354.9h-1zM59 345.8h1V350.1h-1zM59 459.9h1V470.6h-1zM62 327.6h1V332.3h-1zM63 322.8h1V327.6h-1zM68 310.4h1V313.4h-1z"/>
<path fill="#c4d8c4" d="M6 354.9h1V360.1h-1zM7 341.3h1V345.8h-1zM9 327.6h1V332.3h-1zM9 414.4h1V422.6h-1zM22 303.1h1V305.3h-1z"/>
<path fill="#acc8b0" d="M6 406.1h1V414.4h-1zM8 313.4h1V318.1h-1zM9 307.6h1V310.4h-1zM12 303.1h1V305.3h-1zM27 295.0h1V296.3h-1zM31 296.3h1V297.8h-1zM32 297.8h1V299.3h-1zM62 354.9h1V360.1h-1zM62 365.6h1V371.3h-1zM63 371.3h1V384.7h-1zM64 341.3h1V345.8h-1zM64 391.4h1V398.4h-1zM66 327.6h1V332.3h-1zM68 398.4h1V406.1h-1zM70 313.4h1V318.1h-1z"/>
<path fill="#c4d4c4" d="M6 422.6h1V431.4h-1zM10 391.4h1V398.4h-1zM25 301.1h1V303.1h-1zM37 318.1h1V322.8h-1zM47 297.8h1V299.3h-1z"/>
<path fill="#205064" d="M7 295.0h1V296.3h-1z"/>
<path fill="#2c5c6c" d="M7 296.3h1V297.8h-1z"/>
<path fill="#3c6c74" d="M7 297.8h1V299.3h-1z"/>
<path fill="#508080" d="M7 299.3h1V301.1h-1z"/>
<path fill="#68988c" d="M7 301.1h1V303.1h-1z"/>
<path fill="#80b09c" d="M7 303.1h1V305.3h-1zM18 299.3h1V301.1h-1zM22 297.8h1V299.3h-1z"/>
<path fill="#94bca4" d="M7 307.6h1V310.4h-1zM22 299.3h1V301.1h-1zM34 295.0h1V297.8h-1zM38 307.6h1V310.4h-1zM41 301.1h1V305.3h-1z"/>
<path fill="#bcd0bc" d="M7 332.3h1V336.8h-1zM8 371.3h1V377.7h-1zM8 406.1h1V414.4h-1zM9 318.1h1V322.8h-1zM17 303.1h1V305.3h-1zM18 303.1h1V305.3h-1zM27 297.8h1V299.3h-1zM28 295.0h1V296.3h-1zM41 313.4h1V318.1h-1zM45 303.1h1V305.3h-1zM46 297.8h1V299.3h-1zM57 377.7h1V384.7h-1zM58 360.1h1V365.6h-1zM61 341.3h1V345.8h-1zM62 336.8h1V341.3h-1zM66 318.1h1V322.8h-1z"/>
<path fill="#c8d8c4" d="M7 345.8h1V350.1h-1zM8 336.8h1V341.3h-1zM8 365.6h1V371.3h-1zM9 371.3h1V377.7h-1zM10 327.6h1V332.3h-1zM10 377.7h1V384.7h-1zM11 322.8h1V327.6h-1zM12 322.8h1V327.6h-1zM13 318.1h1V322.8h-1zM14 318.1h1V322.8h-1zM15 313.4h1V318.1h-1zM16 310.4h1V318.1h-1zM17 305.3h1V313.4h-1zM18 305.3h1V307.6h-1zM28 297.8h1V299.3h-1zM47 299.3h1V301.1h-1zM55 365.6h1V371.3h-1zM56 354.9h1V360.1h-1zM58 345.8h1V350.1h-1zM59 341.3h1V345.8h-1zM61 327.6h1V332.3h-1zM64 318.1h1V322.8h-1zM65 313.4h1V318.1h-1zM67 310.4h1V313.4h-1z"/>
<path fill="#ccd8c8" d="M7 350.1h1V354.9h-1zM7 422.6h1V431.4h-1zM9 332.3h1V336.8h-1zM10 398.4h1V406.1h-1zM11 384.7h1V391.4h-1zM18 310.4h1V313.4h-1zM19 305.3h1V307.6h-1zM23 303.1h1V305.3h-1zM26 301.1h1V303.1h-1zM46 305.3h1V307.6h-1zM47 301.1h1V303.1h-1zM50 391.4h1V398.4h-1zM54 365.6h1V371.3h-1zM55 360.1h1V365.6h-1zM59 336.8h1V341.3h-1z"/>
<path fill="#ccdccc" d="M7 354.9h1V360.1h-1zM57 345.8h1V350.1h-1z"/>
<path fill="#c8d8c8" d="M7 360.1h1V365.6h-1zM36 318.1h1V322.8h-1zM43 313.4h1V318.1h-1zM57 350.1h1V354.9h-1z"/>
<path fill="#bcd4c0" d="M7 365.6h1V371.3h-1zM43 310.4h1V313.4h-1zM47 295.0h1V296.3h-1z"/>
<path fill="#b4ccb4" d="M7 406.1h1V414.4h-1zM11 305.3h1V307.6h-1zM27 296.3h1V297.8h-1zM59 371.3h1V377.7h-1zM60 354.9h1V360.1h-1zM61 350.1h1V354.9h-1zM62 345.8h1V350.1h-1zM62 398.4h1V406.1h-1zM64 406.1h1V414.4h-1zM65 406.1h1V414.4h-1zM66 322.8h1V327.6h-1zM66 406.1h1V414.4h-1zM67 318.1h1V322.8h-1zM67 406.1h1V414.4h-1zM68 313.4h1V318.1h-1z"/>
<path fill="#e0e4d8" d="M7 431.4h1V440.7h-1zM10 360.1h1V365.6h-1zM11 365.6h1V371.3h-1zM12 398.4h1V406.1h-1zM15 336.8h1V341.3h-1zM21 318.1h1V322.8h-1zM24 310.4h1V313.4h-1zM25 305.3h1V307.6h-1zM45 449.8h1V470.6h-1zM49 365.6h1V371.3h-1zM51 360.1h1V365.6h-1zM54 345.8h1V350.1h-1z"/>
<path fill="#ece8e4" d="M7 440.7h1V449.8h-1zM13 360.1h1V365.6h-1zM13 406.1h1V422.6h-1zM17 345.8h1V350.1h-1zM37 398.4h1V414.4h-1zM38 406.1h1V414.4h-1zM41 360.1h1V365.6h-1zM42 360.1h1V365.6h-1zM43 360.1h1V365.6h-1zM44 360.1h1V365.6h-1zM45 360.1h1V365.6h-1zM51 345.8h1V350.1h-1zM52 341.3h1V350.1h-1z"/>
<path fill="#205464" d="M8 295.0h1V296.3h-1z"/>
<path fill="#2c606c" d="M8 296.3h1V297.8h-1z"/>
<path fill="#407078" d="M8 297.8h1V299.3h-1z"/>
<path fill="#588484" d="M8 299.3h1V301.1h-1z"/>
<path fill="#709c90" d="M8 301.1h1V303.1h-1z"/>
<path fill="#8cb4a0" d="M8 303.1h1V305.3h-1zM20 299.3h1V301.1h-1z"/>
<path fill="#ccdcc8" d="M8 341.3h1V345.8h-1zM12 327.6h1V332.3h-1zM14 322.8h1V327.6h-1zM15 318.1h1V322.8h-1zM16 318.1h1V322.8h-1zM18 313.4h1V318.1h-1zM19 307.6h1V310.4h-1zM20 305.3h1V307.6h-1zM50 384.7h1V391.4h-1zM58 341.3h1V345.8h-1z"/>
<path fill="#d0dccc" d="M8 345.8h1V350.1h-1zM8 422.6h1V431.4h-1zM9 336.8h1V341.3h-1zM9 365.6h1V371.3h-1zM10 371.3h1V377.7h-1zM11 332.3h1V336.8h-1zM11 391.4h1V398.4h-1zM12 332.3h1V336.8h-1zM17 318.1h1V322.8h-1zM19 313.4h1V318.1h-1zM20 310.4h1V313.4h-1zM22 305.3h1V307.6h-1zM24 303.1h1V305.3h-1zM49 384.7h1V391.4h-1zM50 377.7h1V384.7h-1zM50 406.1h1V414.4h-1zM53 365.6h1V371.3h-1zM54 360.1h1V365.6h-1zM55 354.9h1V360.1h-1zM56 350.1h1V354.9h-1z"/>
<path fill="#d0dcd0" d="M8 350.1h1V354.9h-1zM8 360.1h1V365.6h-1z"/>
<path fill="#d4e0d0" d="M8 354.9h1V360.1h-1zM9 422.6h1V431.4h-1zM11 336.8h1V341.3h-1zM11 398.4h1V406.1h-1zM17 322.8h1V327.6h-1zM20 313.4h1V318.1h-1zM21 310.4h1V313.4h-1zM22 307.6h1V310.4h-1zM50 371.3h1V377.7h-1zM52 365.6h1V371.3h-1zM53 360.1h1V365.6h-1zM54 354.9h1V360.1h-1zM55 350.1h1V354.9h-1z"/>
<path fill="#e0e4dc" d="M8 431.4h1V440.7h-1zM10 354.9h1V360.1h-1zM11 350.1h1V354.9h-1zM12 345.8h1V350.1h-1zM12 406.1h1V414.4h-1zM14 341.3h1V345.8h-1zM16 336.8h1V341.3h-1zM17 332.3h1V336.8h-1zM20 322.8h1V327.6h-1zM23 313.4h1V318.1h-1zM41 377.7h1V406.1h-1zM42 371.3h1V414.4h-1zM43 371.3h1V384.7h-1zM43 406.1h1V414.4h-1zM44 371.3h1V377.7h-1zM45 371.3h1V377.7h-1zM45 414.4h1V422.6h-1zM46 422.6h1V431.4h-1zM47 422.6h1V440.7h-1zM48 365.6h1V371.3h-1zM50 360.1h1V365.6h-1zM52 354.9h1V360.1h-1zM53 350.1h1V354.9h-1z"/>
<path fill="#f0ece4" d="M8 440.7h1V449.8h-1zM18 341.3h1V345.8h-1zM36 350.1h1V354.9h-1zM36 398.4h1V406.1h-1zM37 354.9h1V360.1h-1zM52 470.6h1V481.1h-1z"/>
<path fill="#205868" d="M9 295.0h1V296.3h-1z"/>
<path fill="#306470" d="M9 296.3h1V297.8h-1z"/>
<path fill="#44787c" d="M9 297.8h1V299.3h-1z"/>
<path fill="#5c8c88" d="M9 299.3h1V301.1h-1z"/>
<path fill="#78a098" d="M9 301.1h1V303.1h-1z"/>
<path fill="#98bca8" d="M9 303.1h1V305.3h-1zM16 301.1h1V303.1h-1zM24 297.8h1V299.3h-1z"/>
<path fill="#d4dcd0" d="M9 341.3h1V345.8h-1zM10 336.8h1V341.3h-1zM27 301.1h1V303.1h-1zM47 384.7h1V398.4h-1zM48 384.7h1V391.4h-1zM48 406.1h1V414.4h-1zM49 377.7h1V384.7h-1zM56 345.8h1V350.1h-1zM57 470.6h1V481.1h-1z"/>
<path fill="#d8e0d4" d="M9 345.8h1V354.9h-1zM9 360.1h1V365.6h-1zM10 341.3h1V345.8h-1zM10 365.6h1V371.3h-1zM11 341.3h1V345.8h-1zM13 336.8h1V341.3h-1zM15 332.3h1V336.8h-1zM18 322.8h1V327.6h-1zM21 313.4h1V318.1h-1zM22 310.4h1V313.4h-1zM23 307.6h1V310.4h-1zM45 384.7h1V406.1h-1zM46 384.7h1V391.4h-1zM46 406.1h1V414.4h-1zM47 377.7h1V384.7h-1zM48 377.7h1V384.7h-1zM48 414.4h1V422.6h-1zM48 440.7h1V449.8h-1zM49 371.3h1V377.7h-1zM49 414.4h1V422.6h-1zM51 365.6h1V371.3h-1zM55 345.8h1V350.1h-1zM56 341.3h1V345.8h-1zM56 470.6h1V481.1h-1z"/>
<path fill="#dce4d8" d="M9 354.9h1V360.1h-1zM10 345.8h1V354.9h-1zM11 345.8h1V350.1h-1zM12 341.3h1V345.8h-1zM13 341.3h1V345.8h-1zM16 332.3h1V336.8h-1zM18 327.6h1V332.3h-1zM19 322.8h1V327.6h-1zM22 313.4h1V318.1h-1zM43 384.7h1V406.1h-1zM44 377.7h1V384.7h-1zM44 406.1h1V414.4h-1zM46 371.3h1V377.7h-1zM46 414.4h1V422.6h-1zM47 371.3h1V377.7h-1zM47 440.7h1V449.8h-1zM48 422.6h1V440.7h-1zM55 470.6h1V481.1h-1z"/>
<path fill="#c4d8c0" d="M9 406.1h1V414.4h-1zM10 322.8h1V327.6h-1zM12 318.1h1V322.8h-1zM14 313.4h1V318.1h-1zM15 307.6h1V313.4h-1zM16 305.3h1V307.6h-1zM53 384.7h1V391.4h-1zM54 377.7h1V384.7h-1zM56 360.1h1V365.6h-1zM57 414.4h1V422.6h-1zM58 459.9h1V470.6h-1zM60 422.6h1V431.4h-1zM61 332.3h1V336.8h-1zM61 431.4h1V440.7h-1zM61 470.6h1V481.1h-1z"/>
<path fill="#e4e4e0" d="M9 431.4h1V440.7h-1zM45 365.6h1V371.3h-1zM51 354.9h1V360.1h-1z"/>
<path fill="#f4ece8" d="M9 440.7h1V449.8h-1zM35 336.8h1V350.1h-1zM35 398.4h1V406.1h-1zM43 449.8h1V459.9h-1z"/>
<path fill="#245c68" d="M10 295.0h1V296.3h-1z"/>
<path fill="#346870" d="M10 296.3h1V297.8h-1z"/>
<path fill="#64908c" d="M10 299.3h1V301.1h-1z"/>
<path fill="#80a89c" d="M10 301.1h1V303.1h-1z"/>
<path fill="#a0c0ac" d="M10 303.1h1V305.3h-1zM19 301.1h1V303.1h-1zM23 299.3h1V301.1h-1zM33 297.8h1V299.3h-1z"/>
<path fill="#bcd0b8" d="M10 313.4h1V318.1h-1zM12 307.6h1V310.4h-1zM57 371.3h1V377.7h-1zM58 391.4h1V406.1h-1zM59 398.4h1V406.1h-1zM60 406.1h1V414.4h-1zM62 414.4h1V422.6h-1z"/>
<path fill="#c0d4bc" d="M10 318.1h1V322.8h-1zM12 313.4h1V318.1h-1zM13 307.6h1V313.4h-1zM14 305.3h1V307.6h-1zM55 384.7h1V391.4h-1zM56 371.3h1V398.4h-1zM57 398.4h1V406.1h-1zM58 406.1h1V414.4h-1zM59 414.4h1V422.6h-1zM60 341.3h1V345.8h-1zM60 414.4h1V422.6h-1zM60 459.9h1V470.6h-1zM61 336.8h1V341.3h-1zM61 459.9h1V470.6h-1zM62 332.3h1V336.8h-1zM62 422.6h1V431.4h-1zM62 459.9h1V481.1h-1zM63 422.6h1V449.8h-1zM63 459.9h1V470.6h-1zM64 322.8h1V327.6h-1zM64 431.4h1V449.8h-1zM64 459.9h1V470.6h-1zM65 431.4h1V449.8h-1zM66 431.4h1V440.7h-1z"/>
<path fill="#d0dcc8" d="M10 332.3h1V336.8h-1zM10 406.1h1V422.6h-1zM13 327.6h1V332.3h-1zM14 327.6h1V332.3h-1zM15 322.8h1V327.6h-1zM19 310.4h1V313.4h-1zM20 307.6h1V310.4h-1zM21 305.3h1V307.6h-1zM49 391.4h1V406.1h-1zM51 377.7h1V384.7h-1zM51 406.1h1V414.4h-1zM51 440.7h1V449.8h-1zM51 459.9h1V470.6h-1zM52 371.3h1V377.7h-1zM52 414.4h1V422.6h-1zM52 440.7h1V449.8h-1zM52 459.9h1V470.6h-1zM53 414.4h1V449.8h-1zM53 459.9h1V470.6h-1zM54 422.6h1V449.8h-1zM55 422.6h1V449.8h-1zM56 431.4h1V449.8h-1zM58 470.6h1V481.1h-1zM60 327.6h1V332.3h-1zM64 313.4h1V318.1h-1z"/>
<path fill="#dce0d4" d="M10 422.6h1V431.4h-1zM12 384.7h1V398.4h-1zM20 318.1h1V322.8h-1zM24 305.3h1V307.6h-1zM44 398.4h1V406.1h-1zM48 371.3h1V377.7h-1zM49 422.6h1V440.7h-1zM50 365.6h1V371.3h-1zM52 360.1h1V365.6h-1zM53 354.9h1V360.1h-1zM54 350.1h1V354.9h-1z"/>
<path fill="#e8e4dc" d="M10 431.4h1V440.7h-1zM13 377.7h1V391.4h-1zM25 310.4h1V313.4h-1zM27 305.3h1V307.6h-1zM45 440.7h1V449.8h-1z"/>
<path fill="#f4e8e4" d="M10 440.7h1V449.8h-1zM29 440.7h1V449.8h-1zM31 440.7h1V449.8h-1zM36 341.3h1V345.8h-1z"/>
<path fill="#28646c" d="M11 295.0h1V296.3h-1z"/>
<path fill="#387074" d="M11 296.3h1V297.8h-1z"/>
<path fill="#4c8080" d="M11 297.8h1V299.3h-1z"/>
<path fill="#68948c" d="M11 299.3h1V301.1h-1z"/>
<path fill="#84ac9c" d="M11 301.1h1V303.1h-1z"/>
<path fill="#a4c4b0" d="M11 303.1h1V305.3h-1zM20 301.1h1V303.1h-1zM25 297.8h1V299.3h-1zM40 310.4h1V313.4h-1z"/>
<path fill="#ccd8c4" d="M11 327.6h1V332.3h-1zM13 322.8h1V327.6h-1zM17 313.4h1V318.1h-1zM18 307.6h1V310.4h-1zM47 449.8h1V470.6h-1zM49 459.9h1V470.6h-1zM50 449.8h1V459.9h-1zM51 384.7h1V406.1h-1zM51 449.8h1V459.9h-1zM52 377.7h1V384.7h-1zM52 398.4h1V414.4h-1zM52 449.8h1V459.9h-1zM53 371.3h1V377.7h-1zM53 406.1h1V414.4h-1zM53 449.8h1V459.9h-1zM54 414.4h1V422.6h-1zM54 449.8h1V459.9h-1zM55 449.8h1V470.6h-1zM56 449.8h1V470.6h-1zM57 422.6h1V431.4h-1zM57 440.7h1V449.8h-1zM58 431.4h1V440.7h-1zM60 332.3h1V336.8h-1zM62 322.8h1V327.6h-1z"/>
<path fill="#e4e8e0" d="M11 354.9h1V360.1h-1zM13 350.1h1V354.9h-1zM14 345.8h1V350.1h-1zM15 341.3h1V345.8h-1zM17 336.8h1V341.3h-1zM21 322.8h1V327.6h-1zM39 371.3h1V406.1h-1zM40 371.3h1V391.4h-1zM40 406.1h1V414.4h-1zM41 371.3h1V377.7h-1zM41 406.1h1V414.4h-1zM43 414.4h1V422.6h-1zM44 422.6h1V431.4h-1zM45 422.6h1V440.7h-1zM52 350.1h1V354.9h-1zM53 345.8h1V350.1h-1z"/>
<path fill="#e4e8dc" d="M11 360.1h1V365.6h-1zM12 350.1h1V354.9h-1zM18 332.3h1V336.8h-1zM49 360.1h1V365.6h-1z"/>
<path fill="#dcdcd0" d="M11 371.3h1V377.7h-1zM28 301.1h1V303.1h-1zM47 307.6h1V310.4h-1z"/>
<path fill="#d4dccc" d="M11 377.7h1V384.7h-1zM16 322.8h1V327.6h-1zM21 307.6h1V310.4h-1zM47 398.4h1V406.1h-1zM48 391.4h1V406.1h-1zM49 406.1h1V414.4h-1zM51 371.3h1V377.7h-1zM51 414.4h1V440.7h-1zM52 422.6h1V440.7h-1zM57 341.3h1V345.8h-1zM58 336.8h1V341.3h-1zM68 307.6h1V310.4h-1z"/>
<path fill="#d8e0d0" d="M11 406.1h1V422.6h-1zM12 336.8h1V341.3h-1zM14 332.3h1V336.8h-1zM16 327.6h1V332.3h-1zM19 318.1h1V322.8h-1zM23 305.3h1V307.6h-1zM47 406.1h1V414.4h-1zM49 440.7h1V449.8h-1zM50 422.6h1V440.7h-1zM57 336.8h1V341.3h-1z"/>
<path fill="#e0e0d8" d="M11 422.6h1V431.4h-1zM24 307.6h1V310.4h-1zM55 341.3h1V345.8h-1z"/>
<path fill="#ece4dc" d="M11 431.4h1V440.7h-1zM13 371.3h1V377.7h-1zM13 422.6h1V431.4h-1zM41 431.4h1V440.7h-1zM48 350.1h1V354.9h-1z"/>
<path fill="#f4e0dc" d="M11 440.7h1V449.8h-1zM29 431.4h1V440.7h-1z"/>
<path fill="#286c6c" d="M12 295.0h1V296.3h-1z"/>
<path fill="#3c7874" d="M12 296.3h1V297.8h-1z"/>
<path fill="#508884" d="M12 297.8h1V299.3h-1z"/>
<path fill="#6c9c90" d="M12 299.3h1V301.1h-1z"/>
<path fill="#88b0a0" d="M12 301.1h1V303.1h-1z"/>
<path fill="#e8e8e0" d="M12 354.9h1V365.6h-1zM14 350.1h1V354.9h-1zM15 345.8h1V350.1h-1zM16 341.3h1V345.8h-1zM18 336.8h1V341.3h-1zM19 332.3h1V336.8h-1zM20 327.6h1V336.8h-1zM38 371.3h1V406.1h-1zM39 365.6h1V371.3h-1zM40 365.6h1V371.3h-1zM41 365.6h1V371.3h-1zM42 365.6h1V371.3h-1zM42 414.4h1V431.4h-1zM44 431.4h1V440.7h-1zM47 360.1h1V365.6h-1zM48 360.1h1V365.6h-1zM49 354.9h1V360.1h-1zM50 354.9h1V360.1h-1zM51 350.1h1V354.9h-1z"/>
<path fill="#e4e4dc" d="M12 365.6h1V371.3h-1zM12 414.4h1V422.6h-1zM22 318.1h1V322.8h-1zM23 318.1h1V322.8h-1zM24 313.4h1V318.1h-1zM25 307.6h1V310.4h-1zM26 305.3h1V307.6h-1zM46 365.6h1V371.3h-1zM46 431.4h1V449.8h-1zM47 365.6h1V371.3h-1zM54 341.3h1V345.8h-1zM54 470.6h1V481.1h-1z"/>
<path fill="#e4e0d8" d="M12 371.3h1V377.7h-1zM27 303.1h1V305.3h-1zM55 336.8h1V341.3h-1z"/>
<path fill="#e0e0d4" d="M12 377.7h1V384.7h-1zM56 336.8h1V341.3h-1zM57 332.3h1V336.8h-1zM68 305.3h1V307.6h-1zM69 305.3h1V307.6h-1z"/>
<path fill="#e8e4d8" d="M12 422.6h1V431.4h-1zM28 303.1h1V305.3h-1zM56 332.3h1V336.8h-1z"/>
<path fill="#ece0d8" d="M12 431.4h1V440.7h-1zM15 365.6h1V371.3h-1zM27 307.6h1V313.4h-1zM28 305.3h1V307.6h-1zM29 303.1h1V305.3h-1zM52 336.8h1V341.3h-1z"/>
<path fill="#f0dcd4" d="M12 440.7h1V449.8h-1zM13 431.4h1V440.7h-1zM16 398.4h1V406.1h-1zM16 422.6h1V431.4h-1zM17 360.1h1V365.6h-1zM17 406.1h1V414.4h-1zM20 345.8h1V350.1h-1zM22 440.7h1V449.8h-1zM23 440.7h1V449.8h-1zM27 313.4h1V318.1h-1zM27 440.7h1V449.8h-1zM30 307.6h1V310.4h-1zM34 414.4h1V422.6h-1zM35 422.6h1V431.4h-1zM40 336.8h1V345.8h-1zM41 345.8h1V350.1h-1zM41 440.7h1V449.8h-1zM42 327.6h1V332.3h-1zM43 327.6h1V332.3h-1zM43 350.1h1V354.9h-1zM44 350.1h1V354.9h-1zM46 345.8h1V350.1h-1zM48 341.3h1V345.8h-1zM51 336.8h1V341.3h-1z"/>
<path fill="#2c7470" d="M13 295.0h1V296.3h-1z"/>
<path fill="#589084" d="M13 297.8h1V299.3h-1z"/>
<path fill="#70a094" d="M13 299.3h1V301.1h-1z"/>
<path fill="#90b4a4" d="M13 301.1h1V303.1h-1z"/>
<path fill="#b0c8b4" d="M13 303.1h1V305.3h-1zM26 297.8h1V299.3h-1zM33 303.1h1V305.3h-1z"/>
<path fill="#d4e0cc" d="M13 332.3h1V336.8h-1zM15 327.6h1V332.3h-1zM18 318.1h1V322.8h-1zM50 440.7h1V449.8h-1z"/>
<path fill="#e0e8dc" d="M13 345.8h1V350.1h-1zM19 327.6h1V332.3h-1zM40 391.4h1V406.1h-1zM44 414.4h1V422.6h-1z"/>
<path fill="#e8ece4" d="M13 354.9h1V360.1h-1zM38 365.6h1V371.3h-1zM43 422.6h1V431.4h-1z"/>
<path fill="#ece8e0" d="M13 365.6h1V371.3h-1zM15 350.1h1V360.1h-1zM16 345.8h1V354.9h-1zM19 336.8h1V341.3h-1zM21 332.3h1V336.8h-1zM26 310.4h1V313.4h-1zM40 354.9h1V360.1h-1zM40 422.6h1V431.4h-1zM41 422.6h1V431.4h-1zM42 431.4h1V440.7h-1zM44 440.7h1V470.6h-1zM46 354.9h1V365.6h-1zM47 354.9h1V360.1h-1zM48 354.9h1V360.1h-1zM50 345.8h1V354.9h-1zM53 470.6h1V481.1h-1z"/>
<path fill="#e8e4e0" d="M13 391.4h1V398.4h-1zM26 307.6h1V310.4h-1zM43 365.6h1V371.3h-1zM44 365.6h1V371.3h-1zM53 341.3h1V345.8h-1z"/>
<path fill="#e8e8e4" d="M13 398.4h1V406.1h-1zM22 322.8h1V327.6h-1zM37 371.3h1V398.4h-1zM39 406.1h1V414.4h-1zM41 414.4h1V422.6h-1z"/>
<path fill="#f0d4cc" d="M13 440.7h1V449.8h-1zM18 406.1h1V414.4h-1zM19 414.4h1V422.6h-1zM26 431.4h1V440.7h-1zM31 422.6h1V431.4h-1zM32 422.6h1V431.4h-1zM42 341.3h1V345.8h-1zM43 336.8h1V341.3h-1zM43 345.8h1V350.1h-1zM44 332.3h1V336.8h-1zM45 341.3h1V345.8h-1z"/>
<path fill="#dc8080" d="M13 449.8h1V459.9h-1z"/>
<path fill="#307870" d="M14 295.0h1V296.3h-1z"/>
<path fill="#448478" d="M14 296.3h1V297.8h-1z"/>
<path fill="#5c9488" d="M14 297.8h1V299.3h-1z"/>
<path fill="#74a494" d="M14 299.3h1V301.1h-1z"/>
<path fill="#94b8a4" d="M14 301.1h1V303.1h-1z"/>
<path fill="#dce4d4" d="M14 336.8h1V341.3h-1z"/>
<path fill="#ecece4" d="M14 354.9h1V360.1h-1zM17 341.3h1V345.8h-1zM21 327.6h1V332.3h-1zM35 371.3h1V377.7h-1zM36 365.6h1V398.4h-1zM37 360.1h1V371.3h-1zM38 354.9h1V365.6h-1zM39 354.9h1V365.6h-1zM40 360.1h1V365.6h-1zM40 414.4h1V422.6h-1zM43 431.4h1V440.7h-1z"/>
<path fill="#f0e8e4" d="M14 360.1h1V365.6h-1zM14 398.4h1V414.4h-1zM18 345.8h1V350.1h-1zM35 406.1h1V414.4h-1zM36 336.8h1V341.3h-1zM36 345.8h1V350.1h-1zM36 406.1h1V414.4h-1zM37 345.8h1V354.9h-1zM38 414.4h1V422.6h-1z"/>
<path fill="#f0e8e0" d="M14 365.6h1V371.3h-1zM14 391.4h1V398.4h-1zM17 350.1h1V354.9h-1zM19 341.3h1V345.8h-1zM22 332.3h1V336.8h-1zM36 332.3h1V336.8h-1zM37 341.3h1V345.8h-1zM37 414.4h1V422.6h-1zM38 345.8h1V354.9h-1zM39 350.1h1V354.9h-1zM39 422.6h1V431.4h-1zM41 354.9h1V360.1h-1zM43 440.7h1V449.8h-1zM51 341.3h1V345.8h-1z"/>
<path fill="#f0e4dc" d="M14 371.3h1V384.7h-1zM14 422.6h1V431.4h-1zM15 398.4h1V406.1h-1zM16 414.4h1V422.6h-1zM17 354.9h1V360.1h-1zM18 350.1h1V354.9h-1zM19 345.8h1V350.1h-1zM20 341.3h1V345.8h-1zM21 336.8h1V341.3h-1zM22 336.8h1V341.3h-1zM34 327.6h1V345.8h-1zM36 414.4h1V422.6h-1zM37 332.3h1V336.8h-1zM38 341.3h1V345.8h-1zM39 341.3h1V350.1h-1zM40 350.1h1V354.9h-1zM42 440.7h1V449.8h-1zM47 350.1h1V354.9h-1zM49 345.8h1V350.1h-1zM50 341.3h1V345.8h-1zM56 327.6h1V332.3h-1z"/>
<path fill="#f0e4e0" d="M14 384.7h1V391.4h-1zM15 360.1h1V365.6h-1zM15 406.1h1V414.4h-1zM16 354.9h1V360.1h-1zM26 313.4h1V318.1h-1zM36 327.6h1V332.3h-1zM37 336.8h1V341.3h-1zM38 422.6h1V431.4h-1zM42 354.9h1V360.1h-1zM43 354.9h1V360.1h-1zM44 354.9h1V360.1h-1zM45 354.9h1V360.1h-1z"/>
<path fill="#f4ece4" d="M14 414.4h1V422.6h-1zM43 459.9h1V470.6h-1z"/>
<path fill="#f0dcd0" d="M14 431.4h1V440.7h-1zM29 307.6h1V310.4h-1zM38 431.4h1V440.7h-1z"/>
<path fill="#f0d0c4" d="M14 440.7h1V449.8h-1zM40 449.8h1V459.9h-1zM45 327.6h1V332.3h-1zM55 295.0h1V297.8h-1zM56 295.0h1V296.3h-1z"/>
<path fill="#d8706c" d="M14 449.8h1V459.9h-1z"/>
<path fill="#347c74" d="M15 295.0h1V296.3h-1z"/>
<path fill="#44887c" d="M15 296.3h1V297.8h-1z"/>
<path fill="#5c9888" d="M15 297.8h1V299.3h-1z"/>
<path fill="#78a898" d="M15 299.3h1V301.1h-1z"/>
<path fill="#94b8a8" d="M15 301.1h1V303.1h-1z"/>
<path fill="#b8ccb8" d="M15 303.1h1V305.3h-1zM31 297.8h1V299.3h-1z"/>
<path fill="#ecdcd0" d="M15 371.3h1V377.7h-1zM16 365.6h1V371.3h-1zM28 307.6h1V310.4h-1zM51 303.1h1V305.3h-1z"/>
<path fill="#ecdcd4" d="M15 377.7h1V391.4h-1zM19 350.1h1V354.9h-1zM25 318.1h1V322.8h-1zM34 377.7h1V391.4h-1zM38 327.6h1V332.3h-1zM39 332.3h1V336.8h-1zM40 332.3h1V336.8h-1zM54 332.3h1V336.8h-1z"/>
<path fill="#f0e0d8" d="M15 391.4h1V398.4h-1zM15 422.6h1V431.4h-1zM16 360.1h1V365.6h-1zM16 406.1h1V414.4h-1zM17 414.4h1V422.6h-1zM18 354.9h1V360.1h-1zM21 341.3h1V345.8h-1zM23 327.6h1V332.3h-1zM29 305.3h1V307.6h-1zM30 305.3h1V307.6h-1zM34 354.9h1V360.1h-1zM34 398.4h1V414.4h-1zM36 422.6h1V431.4h-1zM38 332.3h1V336.8h-1zM39 336.8h1V341.3h-1zM39 431.4h1V440.7h-1zM40 345.8h1V350.1h-1zM42 350.1h1V354.9h-1zM42 459.9h1V470.6h-1zM45 350.1h1V354.9h-1zM46 350.1h1V354.9h-1zM48 345.8h1V350.1h-1zM49 341.3h1V345.8h-1zM55 327.6h1V332.3h-1z"/>
<path fill="#f4e8e0" d="M15 414.4h1V422.6h-1z"/>
<path fill="#f0d8cc" d="M15 431.4h1V440.7h-1zM21 431.4h1V449.8h-1zM25 431.4h1V440.7h-1zM37 431.4h1V440.7h-1zM42 336.8h1V341.3h-1zM44 327.6h1V332.3h-1zM44 345.8h1V350.1h-1zM46 341.3h1V345.8h-1zM49 336.8h1V341.3h-1zM52 303.1h1V305.3h-1zM64 303.1h1V305.3h-1z"/>
<path fill="#f0ccc0" d="M15 440.7h1V449.8h-1zM29 422.6h1V431.4h-1zM31 449.8h1V459.9h-1zM38 440.7h1V449.8h-1zM55 297.8h1V299.3h-1zM56 296.3h1V297.8h-1zM57 295.0h1V297.8h-1z"/>
<path fill="#d87470" d="M15 449.8h1V459.9h-1z"/>
<path fill="#388074" d="M16 295.0h1V296.3h-1z"/>
<path fill="#488c7c" d="M16 296.3h1V297.8h-1z"/>
<path fill="#60988c" d="M16 297.8h1V299.3h-1z"/>
<path fill="#7ca898" d="M16 299.3h1V301.1h-1z"/>
<path fill="#c8d8c0" d="M16 307.6h1V310.4h-1zM48 449.8h1V470.6h-1zM49 449.8h1V459.9h-1zM52 384.7h1V398.4h-1zM53 377.7h1V384.7h-1zM53 391.4h1V406.1h-1zM54 371.3h1V377.7h-1zM54 406.1h1V414.4h-1zM55 406.1h1V422.6h-1zM56 414.4h1V422.6h-1zM57 449.8h1V470.6h-1zM58 422.6h1V431.4h-1zM58 440.7h1V449.8h-1zM59 422.6h1V440.7h-1zM60 336.8h1V341.3h-1zM60 431.4h1V440.7h-1z"/>
<path fill="#ecd4c8" d="M16 371.3h1V384.7h-1zM16 431.4h1V440.7h-1zM17 365.6h1V371.3h-1zM19 354.9h1V360.1h-1zM19 422.6h1V431.4h-1zM20 350.1h1V354.9h-1zM23 336.8h1V341.3h-1zM33 345.8h1V350.1h-1zM47 318.1h1V322.8h-1zM51 307.6h1V310.4h-1zM52 297.8h1V301.1h-1zM55 322.8h1V327.6h-1z"/>
<path fill="#ecd4cc" d="M16 384.7h1V391.4h-1zM18 422.6h1V431.4h-1zM24 327.6h1V332.3h-1zM28 310.4h1V313.4h-1zM33 336.8h1V345.8h-1zM52 332.3h1V336.8h-1z"/>
<path fill="#ecd8d0" d="M16 391.4h1V398.4h-1zM23 332.3h1V336.8h-1zM24 322.8h1V327.6h-1zM26 318.1h1V322.8h-1zM39 327.6h1V332.3h-1zM40 327.6h1V332.3h-1zM41 327.6h1V332.3h-1zM53 332.3h1V336.8h-1zM66 303.1h1V305.3h-1z"/>
<path fill="#ecccc0" d="M16 440.7h1V449.8h-1zM18 365.6h1V371.3h-1zM19 440.7h1V449.8h-1zM23 341.3h1V345.8h-1zM24 422.6h1V431.4h-1zM27 318.1h1V322.8h-1zM28 313.4h1V318.1h-1zM29 313.4h1V318.1h-1zM32 414.4h1V422.6h-1zM46 327.6h1V332.3h-1zM47 322.8h1V327.6h-1zM47 332.3h1V336.8h-1zM48 332.3h1V336.8h-1zM49 318.1h1V322.8h-1zM50 313.4h1V318.1h-1zM51 310.4h1V313.4h-1zM52 327.6h1V332.3h-1zM53 322.8h1V327.6h-1zM54 301.1h1V305.3h-1zM60 310.4h1V313.4h-1zM64 301.1h1V303.1h-1zM65 301.1h1V303.1h-1z"/>
<path fill="#d87870" d="M16 449.8h1V459.9h-1z"/>
<path fill="#3c8478" d="M17 295.0h1V296.3h-1z"/>
<path fill="#649c8c" d="M17 297.8h1V299.3h-1z"/>
<path fill="#7cac98" d="M17 299.3h1V301.1h-1zM23 296.3h1V297.8h-1z"/>
<path fill="#9cbca8" d="M17 301.1h1V303.1h-1z"/>
<path fill="#d8e4d4" d="M17 327.6h1V332.3h-1z"/>
<path fill="#e8ccbc" d="M17 371.3h1V377.7h-1zM19 360.1h1V365.6h-1zM21 350.1h1V354.9h-1z"/>
<path fill="#e8ccc0" d="M17 377.7h1V391.4h-1zM24 332.3h1V336.8h-1zM57 318.1h1V322.8h-1z"/>
<path fill="#ecd0c4" d="M17 391.4h1V398.4h-1zM17 431.4h1V440.7h-1zM18 398.4h1V406.1h-1zM18 431.4h1V440.7h-1zM19 431.4h1V440.7h-1zM35 431.4h1V440.7h-1zM46 332.3h1V336.8h-1zM48 318.1h1V322.8h-1zM49 332.3h1V336.8h-1zM50 310.4h1V313.4h-1zM50 332.3h1V336.8h-1zM52 307.6h1V310.4h-1zM53 295.0h1V303.1h-1zM54 295.0h1V299.3h-1zM54 322.8h1V327.6h-1z"/>
<path fill="#f0d8d0" d="M17 398.4h1V406.1h-1zM17 422.6h1V431.4h-1zM18 414.4h1V422.6h-1zM22 431.4h1V440.7h-1zM23 431.4h1V440.7h-1zM24 431.4h1V449.8h-1zM25 440.7h1V449.8h-1zM26 440.7h1V449.8h-1zM27 431.4h1V440.7h-1zM30 310.4h1V313.4h-1zM33 422.6h1V440.7h-1zM34 422.6h1V431.4h-1zM40 440.7h1V449.8h-1zM41 332.3h1V345.8h-1zM41 449.8h1V459.9h-1zM42 332.3h1V336.8h-1zM42 345.8h1V350.1h-1zM43 332.3h1V336.8h-1zM45 345.8h1V350.1h-1zM47 341.3h1V345.8h-1zM50 336.8h1V341.3h-1zM54 327.6h1V332.3h-1z"/>
<path fill="#ecc8bc" d="M17 440.7h1V449.8h-1zM18 440.7h1V449.8h-1zM21 414.4h1V422.6h-1zM25 327.6h1V332.3h-1zM25 422.6h1V431.4h-1zM26 322.8h1V327.6h-1zM27 422.6h1V431.4h-1zM28 422.6h1V431.4h-1zM30 318.1h1V322.8h-1zM32 332.3h1V341.3h-1zM49 322.8h1V327.6h-1zM50 322.8h1V327.6h-1zM51 322.8h1V332.3h-1zM52 310.4h1V313.4h-1zM52 322.8h1V327.6h-1zM54 305.3h1V307.6h-1zM55 301.1h1V303.1h-1zM55 318.1h1V322.8h-1zM56 299.3h1V301.1h-1zM56 318.1h1V322.8h-1zM58 313.4h1V318.1h-1zM63 301.1h1V303.1h-1z"/>
<path fill="#d87c70" d="M17 449.8h1V459.9h-1z"/>
<path fill="#408878" d="M18 295.0h1V296.3h-1z"/>
<path fill="#509480" d="M18 296.3h1V297.8h-1zM20 295.0h1V296.3h-1z"/>
<path fill="#68a090" d="M18 297.8h1V299.3h-1z"/>
<path fill="#9cc0ac" d="M18 301.1h1V303.1h-1z"/>
<path fill="#ecd8cc" d="M18 360.1h1V365.6h-1zM21 345.8h1V350.1h-1zM33 327.6h1V336.8h-1zM48 313.4h1V318.1h-1zM51 305.3h1V307.6h-1zM56 322.8h1V327.6h-1zM65 303.1h1V305.3h-1z"/>
<path fill="#e8c0b4" d="M18 371.3h1V391.4h-1zM23 345.8h1V350.1h-1zM29 318.1h1V322.8h-1zM32 350.1h1V354.9h-1zM65 299.3h1V301.1h-1z"/>
<path fill="#e8c8bc" d="M18 391.4h1V398.4h-1zM32 341.3h1V345.8h-1zM61 307.6h1V310.4h-1zM66 301.1h1V303.1h-1z"/>
<path fill="#d88474" d="M18 449.8h1V459.9h-1zM68 295.0h1V296.3h-1z"/>
<path fill="#48907c" d="M19 295.0h1V296.3h-1z"/>
<path fill="#589884" d="M19 296.3h1V297.8h-1z"/>
<path fill="#6ca490" d="M19 297.8h1V299.3h-1z"/>
<path fill="#84b0a0" d="M19 299.3h1V301.1h-1z"/>
<path fill="#e8c0b0" d="M19 365.6h1V371.3h-1zM28 318.1h1V322.8h-1zM54 313.4h1V318.1h-1zM62 296.3h1V299.3h-1zM63 297.8h1V299.3h-1z"/>
<path fill="#e4b0a0" d="M19 371.3h1V377.7h-1zM27 327.6h1V332.3h-1zM64 295.0h1V296.3h-1zM66 297.8h1V299.3h-1z"/>
<path fill="#e4b0a4" d="M19 377.7h1V384.7h-1zM23 350.1h1V354.9h-1zM25 336.8h1V341.3h-1zM28 322.8h1V327.6h-1z"/>
<path fill="#e4b4a4" d="M19 384.7h1V391.4h-1zM29 322.8h1V327.6h-1zM31 345.8h1V350.1h-1z"/>
<path fill="#e8b8ac" d="M19 391.4h1V398.4h-1zM20 398.4h1V406.1h-1zM24 414.4h1V422.6h-1zM32 354.9h1V360.1h-1zM36 449.8h1V459.9h-1zM63 296.3h1V297.8h-1z"/>
<path fill="#ecc4b8" d="M19 398.4h1V406.1h-1zM20 406.1h1V414.4h-1zM22 449.8h1V459.9h-1zM32 406.1h1V414.4h-1zM39 449.8h1V459.9h-1zM40 459.9h1V470.6h-1zM47 327.6h1V332.3h-1zM49 327.6h1V332.3h-1zM52 318.1h1V322.8h-1zM53 310.4h1V313.4h-1zM54 307.6h1V310.4h-1zM59 297.8h1V299.3h-1zM62 301.1h1V303.1h-1z"/>
<path fill="#ecccc4" d="M19 406.1h1V414.4h-1zM20 414.4h1V422.6h-1zM23 422.6h1V431.4h-1zM33 354.9h1V360.1h-1zM33 398.4h1V406.1h-1z"/>
<path fill="#dc9484" d="M19 449.8h1V459.9h-1zM21 377.7h1V384.7h-1zM22 391.4h1V398.4h-1zM27 406.1h1V414.4h-1z"/>
<path fill="#dc9080" d="M19 459.9h1V470.6h-1zM28 406.1h1V414.4h-1zM67 295.0h1V296.3h-1zM68 296.3h1V297.8h-1z"/>
<path fill="#609c88" d="M20 296.3h1V297.8h-1z"/>
<path fill="#ece4e0" d="M20 336.8h1V341.3h-1zM25 313.4h1V318.1h-1zM49 350.1h1V354.9h-1z"/>
<path fill="#e8c8b8" d="M20 354.9h1V360.1h-1zM31 322.8h1V327.6h-1z"/>
<path fill="#e4bcac" d="M20 360.1h1V365.6h-1zM21 354.9h1V360.1h-1zM66 299.3h1V301.1h-1z"/>
<path fill="#e0b0a0" d="M20 365.6h1V371.3h-1z"/>
<path fill="#dca090" d="M20 371.3h1V377.7h-1zM21 365.6h1V371.3h-1zM23 354.9h1V360.1h-1zM68 297.8h1V299.3h-1z"/>
<path fill="#e0a494" d="M20 377.7h1V391.4h-1zM22 398.4h1V406.1h-1zM27 332.3h1V336.8h-1zM28 327.6h1V332.3h-1zM66 296.3h1V297.8h-1z"/>
<path fill="#e4aca0" d="M20 391.4h1V398.4h-1zM21 398.4h1V406.1h-1zM31 350.1h1V354.9h-1z"/>
<path fill="#f0d4c8" d="M20 422.6h1V440.7h-1zM29 310.4h1V313.4h-1zM30 313.4h1V318.1h-1zM33 414.4h1V422.6h-1zM36 431.4h1V440.7h-1zM39 440.7h1V449.8h-1zM44 336.8h1V345.8h-1zM45 332.3h1V341.3h-1zM46 336.8h1V341.3h-1zM47 336.8h1V341.3h-1zM48 336.8h1V341.3h-1zM52 305.3h1V307.6h-1zM60 313.4h1V318.1h-1z"/>
<path fill="#ecd0c8" d="M20 440.7h1V449.8h-1zM22 345.8h1V350.1h-1zM25 322.8h1V327.6h-1zM33 350.1h1V354.9h-1zM33 406.1h1V414.4h-1zM41 459.9h1V470.6h-1zM49 313.4h1V318.1h-1zM51 332.3h1V336.8h-1zM53 327.6h1V332.3h-1z"/>
<path fill="#e4a498" d="M20 449.8h1V459.9h-1z"/>
<path fill="#e09888" d="M20 459.9h1V470.6h-1zM26 406.1h1V414.4h-1zM30 398.4h1V406.1h-1z"/>
<path fill="#589c84" d="M21 295.0h1V296.3h-1z"/>
<path fill="#68a08c" d="M21 296.3h1V297.8h-1z"/>
<path fill="#78ac98" d="M21 297.8h1V299.3h-1z"/>
<path fill="#90b8a4" d="M21 299.3h1V301.1h-1z"/>
<path fill="#e0b09c" d="M21 360.1h1V365.6h-1z"/>
<path fill="#d89080" d="M21 371.3h1V377.7h-1zM22 365.6h1V371.3h-1zM28 336.8h1V341.3h-1z"/>
<path fill="#dc9488" d="M21 384.7h1V391.4h-1zM31 384.7h1V391.4h-1z"/>
<path fill="#e0a090" d="M21 391.4h1V398.4h-1zM26 336.8h1V341.3h-1zM29 332.3h1V336.8h-1zM30 345.8h1V350.1h-1zM31 360.1h1V365.6h-1z"/>
<path fill="#e8bcac" d="M21 406.1h1V414.4h-1zM26 327.6h1V332.3h-1zM30 322.8h1V327.6h-1zM31 332.3h1V341.3h-1zM35 440.7h1V449.8h-1zM55 310.4h1V318.1h-1zM56 310.4h1V318.1h-1zM59 303.1h1V307.6h-1zM60 301.1h1V303.1h-1zM60 305.3h1V307.6h-1zM62 295.0h1V296.3h-1zM64 297.8h1V299.3h-1z"/>
<path fill="#f0d0c8" d="M21 422.6h1V431.4h-1zM22 422.6h1V431.4h-1zM30 422.6h1V431.4h-1zM34 431.4h1V440.7h-1zM43 341.3h1V345.8h-1z"/>
<path fill="#e8b4a8" d="M21 449.8h1V459.9h-1zM31 406.1h1V414.4h-1z"/>
<path fill="#60a088" d="M22 295.0h1V296.3h-1z"/>
<path fill="#6ca890" d="M22 296.3h1V297.8h-1z"/>
<path fill="#acc8b4" d="M22 301.1h1V303.1h-1zM39 313.4h1V318.1h-1zM41 310.4h1V313.4h-1zM42 307.6h1V310.4h-1zM43 305.3h1V307.6h-1zM44 299.3h1V301.1h-1zM63 384.7h1V391.4h-1z"/>
<path fill="#f0ece8" d="M22 327.6h1V332.3h-1zM35 327.6h1V336.8h-1zM35 350.1h1V371.3h-1zM35 384.7h1V398.4h-1zM36 354.9h1V365.6h-1zM39 414.4h1V422.6h-1z"/>
<path fill="#f0dcd8" d="M22 341.3h1V345.8h-1zM47 345.8h1V350.1h-1z"/>
<path fill="#e8c4b4" d="M22 350.1h1V354.9h-1zM24 336.8h1V341.3h-1zM61 305.3h1V307.6h-1z"/>
<path fill="#e4b09c" d="M22 354.9h1V360.1h-1zM26 332.3h1V336.8h-1zM30 332.3h1V336.8h-1z"/>
<path fill="#dca08c" d="M22 360.1h1V365.6h-1z"/>
<path fill="#d48070" d="M22 371.3h1V377.7h-1z"/>
<path fill="#d48474" d="M22 377.7h1V384.7h-1zM27 345.8h1V350.1h-1z"/>
<path fill="#d88878" d="M22 384.7h1V391.4h-1z"/>
<path fill="#e8b0a4" d="M22 406.1h1V414.4h-1zM25 449.8h1V459.9h-1z"/>
<path fill="#ecc0b4" d="M22 414.4h1V422.6h-1zM34 440.7h1V449.8h-1zM38 449.8h1V459.9h-1zM54 310.4h1V313.4h-1zM57 313.4h1V318.1h-1zM59 307.6h1V310.4h-1zM61 297.8h1V299.3h-1z"/>
<path fill="#70a890" d="M23 295.0h1V296.3h-1z"/>
<path fill="#8cb8a0" d="M23 297.8h1V299.3h-1zM25 295.0h1V296.3h-1zM35 297.8h1V299.3h-1zM40 303.1h1V305.3h-1z"/>
<path fill="#dce0d8" d="M23 310.4h1V313.4h-1zM26 303.1h1V305.3h-1zM35 322.8h1V327.6h-1zM44 384.7h1V398.4h-1zM45 377.7h1V384.7h-1zM45 406.1h1V414.4h-1zM46 377.7h1V384.7h-1zM47 414.4h1V422.6h-1z"/>
<path fill="#e8e0d8" d="M23 322.8h1V327.6h-1zM24 318.1h1V322.8h-1zM53 336.8h1V341.3h-1zM54 336.8h1V341.3h-1zM55 332.3h1V336.8h-1zM57 327.6h1V332.3h-1z"/>
<path fill="#d89484" d="M23 360.1h1V365.6h-1z"/>
<path fill="#d48478" d="M23 365.6h1V371.3h-1z"/>
<path fill="#d07870" d="M23 371.3h1V384.7h-1z"/>
<path fill="#d47c74" d="M23 384.7h1V391.4h-1zM27 398.4h1V406.1h-1z"/>
<path fill="#d88880" d="M23 391.4h1V398.4h-1zM30 360.1h1V365.6h-1z"/>
<path fill="#e0988c" d="M23 398.4h1V406.1h-1zM29 406.1h1V414.4h-1z"/>
<path fill="#e4ac9c" d="M23 406.1h1V414.4h-1zM65 296.3h1V297.8h-1z"/>
<path fill="#ecbcb0" d="M23 414.4h1V422.6h-1zM23 449.8h1V459.9h-1zM37 449.8h1V459.9h-1z"/>
<path fill="#e8ac9c" d="M23 459.9h1V470.6h-1zM26 449.8h1V459.9h-1zM27 414.4h1V422.6h-1zM28 414.4h1V422.6h-1z"/>
<path fill="#80b098" d="M24 295.0h1V296.3h-1zM39 295.0h1V305.3h-1z"/>
<path fill="#88b49c" d="M24 296.3h1V297.8h-1zM36 299.3h1V305.3h-1zM37 295.0h1V301.1h-1zM38 305.3h1V307.6h-1zM39 305.3h1V307.6h-1zM40 295.0h1V303.1h-1z"/>
<path fill="#a8c4b4" d="M24 299.3h1V301.1h-1z"/>
<path fill="#bcd0c0" d="M24 301.1h1V303.1h-1zM26 299.3h1V301.1h-1zM44 307.6h1V310.4h-1z"/>
<path fill="#e4b8ac" d="M24 341.3h1V345.8h-1z"/>
<path fill="#e0aca0" d="M24 345.8h1V350.1h-1zM32 384.7h1V391.4h-1z"/>
<path fill="#dca094" d="M24 350.1h1V354.9h-1z"/>
<path fill="#d89088" d="M24 354.9h1V360.1h-1zM25 350.1h1V354.9h-1zM31 377.7h1V384.7h-1z"/>
<path fill="#d4847c" d="M24 360.1h1V365.6h-1zM29 350.1h1V354.9h-1z"/>
<path fill="#cc7874" d="M24 365.6h1V371.3h-1z"/>
<path fill="#c86c6c" d="M24 371.3h1V377.7h-1z"/>
<path fill="#cc7070" d="M24 377.7h1V384.7h-1z"/>
<path fill="#cc7474" d="M24 384.7h1V391.4h-1zM30 371.3h1V377.7h-1z"/>
<path fill="#d4807c" d="M24 391.4h1V398.4h-1z"/>
<path fill="#dc9084" d="M24 398.4h1V406.1h-1zM30 354.9h1V360.1h-1z"/>
<path fill="#e4a494" d="M24 406.1h1V414.4h-1z"/>
<path fill="#ecb8a8" d="M24 449.8h1V459.9h-1z"/>
<path fill="#e8a898" d="M24 459.9h1V470.6h-1zM27 449.8h1V459.9h-1zM28 449.8h1V470.6h-1z"/>
<path fill="#98bca4" d="M25 296.3h1V297.8h-1zM34 297.8h1V303.1h-1zM37 307.6h1V310.4h-1z"/>
<path fill="#d8dcd0" d="M25 303.1h1V305.3h-1zM37 322.8h1V327.6h-1zM46 391.4h1V406.1h-1zM47 305.3h1V307.6h-1zM48 303.1h1V305.3h-1zM50 414.4h1V422.6h-1zM58 332.3h1V336.8h-1z"/>
<path fill="#e8bcb0" d="M25 332.3h1V336.8h-1zM27 322.8h1V327.6h-1zM32 398.4h1V406.1h-1z"/>
<path fill="#e0a898" d="M25 341.3h1V345.8h-1zM30 341.3h1V345.8h-1zM65 295.0h1V296.3h-1zM67 297.8h1V299.3h-1z"/>
<path fill="#dc9c8c" d="M25 345.8h1V350.1h-1z"/>
<path fill="#d0807c" d="M25 354.9h1V360.1h-1zM69 296.3h1V297.8h-1z"/>
<path fill="#cc7478" d="M25 360.1h1V365.6h-1z"/>
<path fill="#c86c70" d="M25 365.6h1V371.3h-1zM27 354.9h1V360.1h-1zM28 354.9h1V360.1h-1z"/>
<path fill="#c4606c" d="M25 371.3h1V377.7h-1z"/>
<path fill="#c4646c" d="M25 377.7h1V384.7h-1z"/>
<path fill="#c86870" d="M25 384.7h1V391.4h-1zM26 360.1h1V365.6h-1z"/>
<path fill="#d07878" d="M25 391.4h1V398.4h-1zM29 354.9h1V360.1h-1z"/>
<path fill="#d8887c" d="M25 398.4h1V406.1h-1zM26 345.8h1V350.1h-1zM30 391.4h1V398.4h-1z"/>
<path fill="#e09c8c" d="M25 406.1h1V414.4h-1zM66 295.0h1V296.3h-1z"/>
<path fill="#e8b4a4" d="M25 414.4h1V422.6h-1zM35 449.8h1V459.9h-1zM37 459.9h1V470.6h-1z"/>
<path fill="#e8a494" d="M25 459.9h1V470.6h-1zM27 459.9h1V470.6h-1z"/>
<path fill="#dc9480" d="M26 341.3h1V345.8h-1z"/>
<path fill="#d08078" d="M26 350.1h1V354.9h-1z"/>
<path fill="#cc7074" d="M26 354.9h1V360.1h-1zM29 360.1h1V365.6h-1z"/>
<path fill="#c45c6c" d="M26 365.6h1V371.3h-1z"/>
<path fill="#bc5468" d="M26 371.3h1V377.7h-1z"/>
<path fill="#c0586c" d="M26 377.7h1V384.7h-1zM27 365.6h1V371.3h-1z"/>
<path fill="#c46070" d="M26 384.7h1V391.4h-1zM27 360.1h1V365.6h-1zM28 360.1h1V365.6h-1z"/>
<path fill="#cc6c74" d="M26 391.4h1V398.4h-1z"/>
<path fill="#d48074" d="M26 398.4h1V406.1h-1z"/>
<path fill="#e8b0a0" d="M26 414.4h1V422.6h-1zM29 414.4h1V422.6h-1zM29 459.9h1V470.6h-1z"/>
<path fill="#ecc8b8" d="M26 422.6h1V431.4h-1zM32 449.8h1V459.9h-1zM37 440.7h1V449.8h-1zM50 327.6h1V332.3h-1zM51 313.4h1V322.8h-1zM53 318.1h1V322.8h-1zM54 318.1h1V322.8h-1zM55 303.1h1V305.3h-1zM57 299.3h1V301.1h-1zM58 297.8h1V299.3h-1zM59 296.3h1V297.8h-1zM59 310.4h1V313.4h-1zM60 295.0h1V297.8h-1zM62 303.1h1V305.3h-1z"/>
<path fill="#e8a090" d="M26 459.9h1V470.6h-1z"/>
<path fill="#c8d4c4" d="M27 299.3h1V301.1h-1zM29 297.8h1V299.3h-1zM44 310.4h1V313.4h-1zM45 307.6h1V310.4h-1zM46 303.1h1V305.3h-1zM48 296.3h1V297.8h-1z"/>
<path fill="#dc9884" d="M27 336.8h1V341.3h-1z"/>
<path fill="#d88c78" d="M27 341.3h1V345.8h-1z"/>
<path fill="#d07874" d="M27 350.1h1V354.9h-1zM29 391.4h1V398.4h-1zM30 377.7h1V384.7h-1z"/>
<path fill="#bc5068" d="M27 371.3h1V377.7h-1z"/>
<path fill="#c0546c" d="M27 377.7h1V384.7h-1z"/>
<path fill="#c45c70" d="M27 384.7h1V391.4h-1zM28 384.7h1V391.4h-1z"/>
<path fill="#cc6c70" d="M27 391.4h1V398.4h-1zM28 391.4h1V398.4h-1z"/>
<path fill="#d4d8cc" d="M28 299.3h1V301.1h-1zM43 318.1h1V322.8h-1zM46 307.6h1V310.4h-1zM47 303.1h1V305.3h-1zM48 301.1h1V303.1h-1zM70 307.6h1V310.4h-1z"/>
<path fill="#dc9c88" d="M28 332.3h1V336.8h-1zM29 336.8h1V341.3h-1z"/>
<path fill="#d48874" d="M28 341.3h1V345.8h-1z"/>
<path fill="#d08070" d="M28 345.8h1V350.1h-1z"/>
<path fill="#cc7470" d="M28 350.1h1V354.9h-1z"/>
<path fill="#bc586c" d="M28 365.6h1V371.3h-1z"/>
<path fill="#b84c6c" d="M28 371.3h1V377.7h-1z"/>
<path fill="#bc546c" d="M28 377.7h1V384.7h-1z"/>
<path fill="#d47c70" d="M28 398.4h1V406.1h-1z"/>
<path fill="#f4e0d8" d="M28 431.4h1V440.7h-1z"/>
<path fill="#f4e4e0" d="M28 440.7h1V449.8h-1z"/>
<path fill="#d4d8c8" d="M29 299.3h1V301.1h-1zM71 307.6h1V310.4h-1z"/>
<path fill="#e0dcd0" d="M29 301.1h1V303.1h-1zM48 305.3h1V307.6h-1zM49 303.1h1V305.3h-1z"/>
<path fill="#e4a898" d="M29 327.6h1V332.3h-1zM30 406.1h1V414.4h-1zM31 354.9h1V360.1h-1z"/>
<path fill="#d89480" d="M29 341.3h1V345.8h-1z"/>
<path fill="#d88c7c" d="M29 345.8h1V350.1h-1z"/>
<path fill="#c46474" d="M29 365.6h1V371.3h-1z"/>
<path fill="#c05c70" d="M29 371.3h1V377.7h-1z"/>
<path fill="#c46470" d="M29 377.7h1V384.7h-1z"/>
<path fill="#c86c74" d="M29 384.7h1V391.4h-1z"/>
<path fill="#d88478" d="M29 398.4h1V406.1h-1z"/>
<path fill="#ecb4a8" d="M29 449.8h1V459.9h-1z"/>
<path fill="#c0d0c0" d="M30 297.8h1V299.3h-1zM70 310.4h1V313.4h-1z"/>
<path fill="#ccd4c4" d="M30 299.3h1V301.1h-1zM41 318.1h1V322.8h-1zM48 297.8h1V299.3h-1z"/>
<path fill="#dcd8cc" d="M30 301.1h1V303.1h-1zM31 303.1h1V305.3h-1zM41 322.8h1V327.6h-1zM44 318.1h1V322.8h-1zM49 301.1h1V303.1h-1z"/>
<path fill="#ece0d4" d="M30 303.1h1V305.3h-1z"/>
<path fill="#e8b4a0" d="M30 327.6h1V332.3h-1z"/>
<path fill="#e4ac98" d="M30 336.8h1V341.3h-1z"/>
<path fill="#dc988c" d="M30 350.1h1V354.9h-1zM67 296.3h1V297.8h-1z"/>
<path fill="#d07c7c" d="M30 365.6h1V371.3h-1z"/>
<path fill="#d47c78" d="M30 384.7h1V391.4h-1z"/>
<path fill="#ecb8ac" d="M30 414.4h1V422.6h-1z"/>
<path fill="#f4e4dc" d="M30 431.4h1V440.7h-1zM31 431.4h1V440.7h-1z"/>
<path fill="#f8ece8" d="M30 440.7h1V449.8h-1z"/>
<path fill="#f0c8bc" d="M30 449.8h1V459.9h-1zM57 297.8h1V299.3h-1zM58 296.3h1V297.8h-1zM59 295.0h1V296.3h-1z"/>
<path fill="#c0d0bc" d="M31 299.3h1V301.1h-1zM39 318.1h1V322.8h-1zM71 310.4h1V313.4h-1z"/>
<path fill="#d0d4c4" d="M31 301.1h1V303.1h-1zM32 307.6h1V310.4h-1zM33 313.4h1V318.1h-1zM49 296.3h1V297.8h-1z"/>
<path fill="#e4dcd0" d="M31 305.3h1V307.6h-1zM43 322.8h1V327.6h-1zM47 310.4h1V313.4h-1zM48 307.6h1V310.4h-1zM49 305.3h1V307.6h-1zM50 303.1h1V305.3h-1z"/>
<path fill="#e4d8d0" d="M31 307.6h1V310.4h-1z"/>
<path fill="#e8d8d0" d="M31 310.4h1V313.4h-1zM48 310.4h1V313.4h-1zM69 303.1h1V305.3h-1zM70 303.1h1V305.3h-1z"/>
<path fill="#e8d4cc" d="M31 313.4h1V318.1h-1zM49 310.4h1V313.4h-1z"/>
<path fill="#e8d0c0" d="M31 318.1h1V322.8h-1zM58 318.1h1V322.8h-1zM61 310.4h1V313.4h-1zM62 307.6h1V310.4h-1z"/>
<path fill="#e8c0ac" d="M31 327.6h1V332.3h-1z"/>
<path fill="#e8b8a8" d="M31 341.3h1V345.8h-1zM34 449.8h1V459.9h-1zM38 459.9h1V470.6h-1zM39 459.9h1V470.6h-1zM60 303.1h1V305.3h-1zM63 295.0h1V296.3h-1z"/>
<path fill="#dc948c" d="M31 365.6h1V371.3h-1z"/>
<path fill="#d48c88" d="M31 371.3h1V377.7h-1z"/>
<path fill="#e09c90" d="M31 391.4h1V398.4h-1z"/>
<path fill="#e4a89c" d="M31 398.4h1V406.1h-1z"/>
<path fill="#ecc0b8" d="M31 414.4h1V422.6h-1z"/>
<path fill="#b4c8b4" d="M32 299.3h1V301.1h-1z"/>
<path fill="#bcccbc" d="M32 301.1h1V303.1h-1z"/>
<path fill="#c8d0c0" d="M32 303.1h1V305.3h-1zM33 310.4h1V313.4h-1zM40 318.1h1V322.8h-1z"/>
<path fill="#ccd0c4" d="M32 305.3h1V307.6h-1z"/>
<path fill="#d8d4c8" d="M32 310.4h1V313.4h-1zM33 318.1h1V322.8h-1zM39 322.8h1V327.6h-1zM40 322.8h1V327.6h-1z"/>
<path fill="#dcd4c8" d="M32 313.4h1V318.1h-1zM50 297.8h1V299.3h-1z"/>
<path fill="#e0d0c4" d="M32 318.1h1V322.8h-1z"/>
<path fill="#e4d0c0" d="M32 322.8h1V327.6h-1z"/>
<path fill="#ecccbc" d="M32 327.6h1V332.3h-1zM48 322.8h1V327.6h-1zM50 318.1h1V322.8h-1zM53 307.6h1V310.4h-1zM55 299.3h1V301.1h-1zM62 305.3h1V307.6h-1z"/>
<path fill="#e8c4b8" d="M32 345.8h1V350.1h-1zM64 299.3h1V301.1h-1z"/>
<path fill="#e4b4a8" d="M32 360.1h1V365.6h-1zM32 391.4h1V398.4h-1zM64 296.3h1V297.8h-1z"/>
<path fill="#e0aca4" d="M32 365.6h1V371.3h-1z"/>
<path fill="#dca4a0" d="M32 371.3h1V377.7h-1z"/>
<path fill="#dca8a0" d="M32 377.7h1V384.7h-1z"/>
<path fill="#f4dcd4" d="M32 431.4h1V449.8h-1z"/>
<path fill="#acc4b0" d="M33 301.1h1V303.1h-1zM34 307.6h1V310.4h-1z"/>
<path fill="#b8c8b8" d="M33 305.3h1V307.6h-1z"/>
<path fill="#c0ccbc" d="M33 307.6h1V310.4h-1z"/>
<path fill="#e4d8cc" d="M33 322.8h1V327.6h-1zM44 322.8h1V327.6h-1zM49 307.6h1V310.4h-1zM50 301.1h1V303.1h-1z"/>
<path fill="#e8c8c0" d="M33 360.1h1V365.6h-1zM33 391.4h1V398.4h-1z"/>
<path fill="#e4c4bc" d="M33 365.6h1V371.3h-1zM33 384.7h1V391.4h-1z"/>
<path fill="#e4c0bc" d="M33 371.3h1V384.7h-1z"/>
<path fill="#f0ccc4" d="M33 440.7h1V449.8h-1z"/>
<path fill="#9cc0a4" d="M34 303.1h1V305.3h-1zM67 354.9h1V360.1h-1zM68 341.3h1V345.8h-1zM68 360.1h1V365.6h-1zM68 384.7h1V391.4h-1zM69 332.3h1V336.8h-1zM69 365.6h1V371.3h-1zM71 327.6h1V332.3h-1z"/>
<path fill="#a0c0a8" d="M34 305.3h1V307.6h-1z"/>
<path fill="#d0d8cc" d="M34 318.1h1V322.8h-1zM44 313.4h1V318.1h-1zM69 307.6h1V310.4h-1z"/>
<path fill="#e0dcd4" d="M34 322.8h1V327.6h-1z"/>
<path fill="#f0e0dc" d="M34 345.8h1V354.9h-1zM35 414.4h1V422.6h-1zM37 422.6h1V431.4h-1zM38 336.8h1V341.3h-1zM41 350.1h1V354.9h-1zM42 449.8h1V459.9h-1z"/>
<path fill="#ecdcd8" d="M34 360.1h1V371.3h-1zM34 391.4h1V398.4h-1z"/>
<path fill="#e8dcd4" d="M34 371.3h1V377.7h-1z"/>
<path fill="#90b8a0" d="M35 295.0h1V297.8h-1zM36 305.3h1V307.6h-1zM40 305.3h1V307.6h-1zM41 295.0h1V296.3h-1z"/>
<path fill="#8cb89c" d="M35 299.3h1V305.3h-1zM37 305.3h1V307.6h-1z"/>
<path fill="#ccd8cc" d="M35 318.1h1V322.8h-1z"/>
<path fill="#ecece8" d="M35 377.7h1V384.7h-1z"/>
<path fill="#8cb49c" d="M36 295.0h1V299.3h-1z"/>
<path fill="#b4d0bc" d="M36 313.4h1V318.1h-1zM42 310.4h1V313.4h-1z"/>
<path fill="#dcdcd4" d="M36 322.8h1V327.6h-1z"/>
<path fill="#ecc0b0" d="M36 440.7h1V449.8h-1zM53 313.4h1V318.1h-1zM55 307.6h1V310.4h-1zM56 303.1h1V307.6h-1zM57 303.1h1V313.4h-1zM58 301.1h1V303.1h-1zM58 307.6h1V310.4h-1zM59 301.1h1V303.1h-1zM60 299.3h1V301.1h-1zM61 299.3h1V305.3h-1z"/>
<path fill="#84b49c" d="M37 301.1h1V303.1h-1z"/>
<path fill="#84b498" d="M37 303.1h1V305.3h-1z"/>
<path fill="#ece0dc" d="M37 327.6h1V332.3h-1z"/>
<path fill="#84b098" d="M38 295.0h1V305.3h-1z"/>
<path fill="#c4d0c0" d="M38 318.1h1V322.8h-1z"/>
<path fill="#d8d8cc" d="M38 322.8h1V327.6h-1zM45 313.4h1V318.1h-1zM46 310.4h1V313.4h-1z"/>
<path fill="#f0e4d8" d="M40 431.4h1V440.7h-1z"/>
<path fill="#d0d8c8" d="M42 318.1h1V322.8h-1zM45 310.4h1V313.4h-1zM48 299.3h1V301.1h-1zM50 398.4h1V406.1h-1zM54 459.9h1V470.6h-1zM66 310.4h1V313.4h-1z"/>
<path fill="#e0d8cc" d="M42 322.8h1V327.6h-1zM45 318.1h1V322.8h-1z"/>
<path fill="#a8c8b4" d="M44 297.8h1V299.3h-1z"/>
<path fill="#e8d4c8" d="M45 322.8h1V327.6h-1zM50 307.6h1V310.4h-1zM51 299.3h1V301.1h-1z"/>
<path fill="#e0d8d0" d="M46 313.4h1V318.1h-1z"/>
<path fill="#e4d4c8" d="M46 318.1h1V322.8h-1zM51 297.8h1V299.3h-1z"/>
<path fill="#e8d0c4" d="M46 322.8h1V327.6h-1zM52 295.0h1V297.8h-1z"/>
<path fill="#d8e0cc" d="M46 449.8h1V470.6h-1z"/>
<path fill="#e8dcd0" d="M47 313.4h1V318.1h-1zM65 305.3h1V307.6h-1zM66 305.3h1V307.6h-1zM67 303.1h1V305.3h-1zM68 303.1h1V305.3h-1z"/>
<path fill="#c8d4c0" d="M48 295.0h1V296.3h-1zM54 398.4h1V406.1h-1zM58 449.8h1V459.9h-1zM59 440.7h1V449.8h-1z"/>
<path fill="#ecc4b4" d="M48 327.6h1V332.3h-1zM52 313.4h1V318.1h-1zM55 305.3h1V307.6h-1zM56 301.1h1V303.1h-1zM57 301.1h1V303.1h-1zM58 299.3h1V301.1h-1zM58 310.4h1V313.4h-1zM59 299.3h1V301.1h-1zM60 297.8h1V299.3h-1zM60 307.6h1V310.4h-1zM61 295.0h1V297.8h-1zM62 299.3h1V301.1h-1zM63 299.3h1V301.1h-1z"/>
<path fill="#d0d4c0" d="M49 295.0h1V296.3h-1z"/>
<path fill="#d4d4c4" d="M49 297.8h1V299.3h-1z"/>
<path fill="#d8d8c8" d="M49 299.3h1V301.1h-1zM63 313.4h1V318.1h-1z"/>
<path fill="#d8d0c4" d="M50 295.0h1V296.3h-1z"/>
<path fill="#dcd4c4" d="M50 296.3h1V297.8h-1z"/>
<path fill="#e0d8c8" d="M50 299.3h1V301.1h-1zM59 322.8h1V327.6h-1zM62 313.4h1V318.1h-1zM63 310.4h1V313.4h-1z"/>
<path fill="#e8d8cc" d="M50 305.3h1V307.6h-1zM51 301.1h1V303.1h-1zM57 322.8h1V327.6h-1z"/>
<path fill="#ccdcc4" d="M50 459.9h1V470.6h-1zM56 422.6h1V431.4h-1zM57 431.4h1V440.7h-1z"/>
<path fill="#e4d0c4" d="M51 295.0h1V297.8h-1z"/>
<path fill="#ecd8c8" d="M52 301.1h1V303.1h-1z"/>
<path fill="#f0d4c4" d="M53 303.1h1V305.3h-1z"/>
<path fill="#f0d0c0" d="M53 305.3h1V307.6h-1z"/>
<path fill="#ecd0c0" d="M54 299.3h1V301.1h-1zM59 313.4h1V318.1h-1zM63 303.1h1V305.3h-1z"/>
<path fill="#c4d4bc" d="M55 377.7h1V384.7h-1zM55 391.4h1V406.1h-1zM56 398.4h1V414.4h-1zM57 406.1h1V414.4h-1zM58 414.4h1V422.6h-1zM59 449.8h1V459.9h-1zM60 440.7h1V459.9h-1zM61 422.6h1V431.4h-1zM61 440.7h1V459.9h-1zM62 431.4h1V459.9h-1zM63 449.8h1V459.9h-1zM64 449.8h1V459.9h-1zM65 449.8h1V459.9h-1z"/>
<path fill="#f0ccbc" d="M56 297.8h1V299.3h-1zM58 295.0h1V296.3h-1z"/>
<path fill="#ecbcac" d="M56 307.6h1V310.4h-1zM58 303.1h1V307.6h-1z"/>
<path fill="#e4d8c8" d="M58 322.8h1V327.6h-1zM60 318.1h1V322.8h-1z"/>
<path fill="#e0e0d0" d="M58 327.6h1V332.3h-1z"/>
<path fill="#e4d4c4" d="M59 318.1h1V322.8h-1zM62 310.4h1V313.4h-1zM63 307.6h1V310.4h-1z"/>
<path fill="#d8dccc" d="M59 327.6h1V332.3h-1zM67 307.6h1V310.4h-1z"/>
<path fill="#d4dcc8" d="M59 332.3h1V336.8h-1zM65 310.4h1V313.4h-1z"/>
<path fill="#dcd8c8" d="M60 322.8h1V327.6h-1zM61 318.1h1V322.8h-1z"/>
<path fill="#e8d8c8" d="M61 313.4h1V318.1h-1z"/>
<path fill="#d4d8c4" d="M61 322.8h1V327.6h-1zM62 318.1h1V322.8h-1z"/>
<path fill="#acccb0" d="M61 360.1h1V365.6h-1zM62 371.3h1V377.7h-1zM63 345.8h1V350.1h-1zM67 322.8h1V327.6h-1zM67 398.4h1V406.1h-1zM68 318.1h1V322.8h-1z"/>
<path fill="#ecd4c4" d="M63 305.3h1V307.6h-1z"/>
<path fill="#d0d8c4" d="M63 318.1h1V322.8h-1z"/>
<path fill="#a8c8ac" d="M63 354.9h1V360.1h-1zM66 391.4h1V398.4h-1zM67 327.6h1V332.3h-1zM68 322.8h1V327.6h-1zM70 318.1h1V322.8h-1z"/>
<path fill="#ecdccc" d="M64 305.3h1V307.6h-1z"/>
<path fill="#e4dccc" d="M64 307.6h1V310.4h-1z"/>
<path fill="#dcdcc8" d="M64 310.4h1V313.4h-1z"/>
<path fill="#a4c4a8" d="M64 354.9h1V360.1h-1zM68 327.6h1V332.3h-1z"/>
<path fill="#e4b8a8" d="M65 297.8h1V299.3h-1zM67 299.3h1V301.1h-1z"/>
<path fill="#e0dccc" d="M65 307.6h1V310.4h-1z"/>
<path fill="#dcdccc" d="M66 307.6h1V310.4h-1z"/>
<path fill="#e4c8bc" d="M67 301.1h1V303.1h-1z"/>
<path fill="#e4e0d4" d="M67 305.3h1V307.6h-1zM70 305.3h1V307.6h-1z"/>
<path fill="#e0b0a4" d="M68 299.3h1V301.1h-1z"/>
<path fill="#e4c4b8" d="M68 301.1h1V303.1h-1z"/>
<path fill="#cc706c" d="M69 295.0h1V296.3h-1z"/>
<path fill="#d4908c" d="M69 297.8h1V299.3h-1z"/>
<path fill="#d8a8a0" d="M69 299.3h1V301.1h-1z"/>
<path fill="#e0c0b8" d="M69 301.1h1V303.1h-1z"/>
<path fill="#b45868" d="M70 295.0h1V296.3h-1z"/>
<path fill="#b86878" d="M70 296.3h1V297.8h-1z"/>
<path fill="#c48088" d="M70 297.8h1V299.3h-1z"/>
<path fill="#cc98a0" d="M70 299.3h1V301.1h-1z"/>
<path fill="#d8b4b4" d="M70 301.1h1V303.1h-1z"/>
<path fill="#94c0a0" d="M70 336.8h1V341.3h-1zM70 360.1h1V365.6h-1z"/>
<path fill="#94bca0" d="M70 341.3h1V345.8h-1zM71 336.8h1V341.3h-1z"/>
<path fill="#9c4064" d="M71 295.0h1V296.3h-1z"/>
<path fill="#a45074" d="M71 296.3h1V297.8h-1z"/>
<path fill="#b46c88" d="M71 297.8h1V299.3h-1z"/>
<path fill="#c48c9c" d="M71 299.3h1V301.1h-1z"/>
<path fill="#d4acb4" d="M71 301.1h1V303.1h-1z"/>
<path fill="#e8d4d0" d="M71 303.1h1V305.3h-1z"/>
<path fill="#e4dcd4" d="M71 305.3h1V307.6h-1zM72 305.3h1.143V307.6h-1.143z"/>
<path fill="#90bc9c" d="M71 341.3h1V345.8h-1z"/>
<path fill="#8cbc9c" d="M71 345.8h1V350.1h-1z"/>
<path fill="#842460" d="M72 295.0h1.143V296.3h-1.143z"/>
<path fill="#903c70" d="M72 296.3h1.143V297.8h-1.143z"/>
<path fill="#a45c84" d="M72 297.8h1.143V299.3h-1.143z"/>
<path fill="#b87c98" d="M72 299.3h1.143V301.1h-1.143z"/>
<path fill="#cca4b0" d="M72 301.1h1.143V303.1h-1.143z"/>
<path fill="#e8d0cc" d="M72 303.1h1.143V305.3h-1.143z"/>
</g>
<rect x="331.10" y="576.90" width="349.40" height="194.10" fill="#666666"/>
<g transform="translate(330.93,0) scale(4.7700,1)" shape-rendering="crispEdges">
<path fill="#218e8d" d="M1 576.9h1V579.7h-1zM1 604.7h1V609.5h-1zM1 614.2h1V618.7h-1zM2 609.5h1V614.2h-1zM3 614.2h1V618.7h-1zM3 632.0h1V636.8h-1zM5 576.9h1V578.2h-1zM5 585.0h1V587.2h-1zM5 595.3h1V600.0h-1zM5 653.2h1V659.6h-1zM6 587.2h1V589.5h-1zM6 600.0h1V609.5h-1zM7 659.6h1V666.6h-1zM13 614.2h1V618.7h-1zM14 618.7h1V623.2h-1zM15 666.6h1V673.3h-1zM17 587.2h1V589.5h-1zM19 576.9h1V578.2h-1zM19 587.2h1V589.5h-1zM19 600.0h1V604.7h-1zM20 614.2h1V618.7h-1zM21 576.9h1V578.2h-1zM21 647.5h1V653.2h-1zM22 592.3h1V600.0h-1zM23 642.0h1V647.5h-1zM24 653.2h1V659.6h-1zM25 642.0h1V647.5h-1zM25 653.2h1V666.6h-1zM26 653.2h1V659.6h-1zM29 595.3h1V600.0h-1zM29 647.5h1V653.2h-1zM30 581.2h1V585.0h-1zM30 587.2h1V589.5h-1zM33 587.2h1V589.5h-1zM34 581.2h1V583.0h-1zM34 666.6h1V673.3h-1zM35 579.7h1V581.2h-1zM39 576.9h1V578.2h-1zM39 659.6h1V666.6h-1zM40 636.8h1V642.0h-1zM40 659.6h1V666.6h-1zM43 583.0h1V585.0h-1zM43 666.6h1V673.3h-1zM45 642.0h1V647.5h-1zM47 579.7h1V581.2h-1zM47 659.6h1V666.6h-1zM50 647.5h1V653.2h-1zM50 673.3h1V680.3h-1zM51 614.2h1V618.7h-1zM52 632.0h1V636.8h-1zM54 659.6h1V666.6h-1zM56 647.5h1V653.2h-1zM60 589.5h1V592.3h-1zM61 587.2h1V589.5h-1zM63 587.2h1V589.5h-1zM63 609.5h1V614.2h-1zM63 618.7h1V632.0h-1zM63 642.0h1V647.5h-1zM64 583.0h1V585.0h-1zM65 604.7h1V609.5h-1zM65 666.6h1V673.3h-1zM67 579.7h1V581.2h-1zM67 632.0h1V636.8h-1zM67 642.0h1V647.5h-1zM67 659.6h1V666.6h-1zM68 583.0h1V585.0h-1zM68 642.0h1V647.5h-1z"/>
<path fill="#23898e" d="M1 579.7h1V581.2h-1zM2 600.0h1V604.7h-1zM3 579.7h1V581.2h-1zM3 604.7h1V609.5h-1zM5 583.0h1V585.0h-1zM5 614.2h1V618.7h-1zM6 595.3h1V600.0h-1zM6 627.7h1V632.0h-1zM12 614.2h1V618.7h-1zM12 623.2h1V627.7h-1zM13 653.2h1V659.6h-1zM14 609.5h1V614.2h-1zM17 585.0h1V587.2h-1zM19 589.5h1V592.3h-1zM20 627.7h1V632.0h-1zM20 636.8h1V642.0h-1zM22 600.0h1V604.7h-1zM23 592.3h1V600.0h-1zM23 653.2h1V659.6h-1zM24 647.5h1V653.2h-1zM25 647.5h1V653.2h-1zM26 666.6h1V673.3h-1zM27 659.6h1V673.3h-1zM29 589.5h1V592.3h-1zM29 600.0h1V604.7h-1zM29 653.2h1V659.6h-1zM31 576.9h1V578.2h-1zM32 579.7h1V581.2h-1zM32 589.5h1V592.3h-1zM32 609.5h1V618.7h-1zM33 583.0h1V585.0h-1zM34 589.5h1V600.0h-1zM36 587.2h1V592.3h-1zM36 647.5h1V653.2h-1zM40 587.2h1V589.5h-1zM43 595.3h1V600.0h-1zM47 583.0h1V587.2h-1zM47 647.5h1V653.2h-1zM48 581.2h1V583.0h-1zM48 623.2h1V627.7h-1zM51 604.7h1V609.5h-1zM52 592.3h1V595.3h-1zM55 583.0h1V587.2h-1zM55 647.5h1V653.2h-1zM56 579.7h1V581.2h-1zM57 581.2h1V583.0h-1zM60 592.3h1V595.3h-1zM60 659.6h1V666.6h-1zM61 609.5h1V614.2h-1zM63 636.8h1V642.0h-1zM64 673.3h1V680.3h-1zM65 600.0h1V604.7h-1zM67 581.2h1V583.0h-1zM68 579.7h1V581.2h-1zM68 585.0h1V587.2h-1zM69 581.2h1V583.0h-1zM69 618.7h1V627.7h-1zM69 642.0h1V647.5h-1zM71 587.2h1V589.5h-1z"/>
<path fill="#86d549" d="M1 581.2h1V583.0h-1zM1 587.2h1V589.5h-1zM1 592.3h1V595.3h-1zM2 653.2h1V659.6h-1zM3 673.3h1V680.3h-1zM20 731.7h1V741.8h-1zM24 731.7h1V741.8h-1zM25 731.7h1V741.8h-1zM26 731.7h1V741.8h-1zM31 722.6h1V731.7h-1zM37 731.7h1V741.8h-1zM43 731.7h1V741.8h-1zM57 741.8h1V752.5h-1zM61 731.7h1V752.5h-1z"/>
<path fill="#b0dd2f" d="M1 583.0h1V585.0h-1zM5 704.5h1V713.3h-1zM6 704.5h1V713.3h-1zM24 741.8h1V752.5h-1zM28 741.8h1V752.5h-1zM38 741.8h1V752.5h-1zM41 741.8h1V752.5h-1zM47 741.8h1V752.5h-1zM56 752.5h1V763.0h-1zM59 741.8h1V752.5h-1zM69 576.9h1V578.2h-1z"/>
<path fill="#a2da37" d="M1 585.0h1V587.2h-1zM12 722.6h1V731.7h-1zM15 731.7h1V741.8h-1zM29 741.8h1V752.5h-1zM36 731.7h1V741.8h-1zM42 741.8h1V752.5h-1zM46 741.8h1V752.5h-1zM52 741.8h1V752.5h-1zM53 741.8h1V752.5h-1zM61 752.5h1V763.0h-1zM63 741.8h1V752.5h-1zM69 578.2h1V579.7h-1zM71 627.7h1V632.0h-1zM72 587.2h1.285V589.5h-1.285z"/>
<path fill="#a8db34" d="M1 589.5h1V592.3h-1zM9 722.6h1V731.7h-1zM14 731.7h1V741.8h-1zM20 741.8h1V752.5h-1zM23 741.8h1V752.5h-1zM25 741.8h1V752.5h-1zM27 741.8h1V752.5h-1zM50 741.8h1V752.5h-1zM52 752.5h1V763.0h-1zM55 741.8h1V763.0h-1zM67 696.3h1V704.5h-1z"/>
<path fill="#8ed645" d="M1 595.3h1V600.0h-1zM23 731.7h1V741.8h-1zM35 731.7h1V741.8h-1zM41 731.7h1V741.8h-1zM54 741.8h1V752.5h-1zM58 741.8h1V752.5h-1zM66 704.5h1V713.3h-1zM69 666.6h1V673.3h-1z"/>
<path fill="#25848e" d="M1 600.0h1V604.7h-1zM2 578.2h1V581.2h-1zM4 578.2h1V579.7h-1zM4 647.5h1V653.2h-1zM5 578.2h1V581.2h-1zM5 604.7h1V609.5h-1zM5 647.5h1V653.2h-1zM9 642.0h1V647.5h-1zM10 642.0h1V647.5h-1zM11 653.2h1V659.6h-1zM12 636.8h1V647.5h-1zM13 579.7h1V581.2h-1zM13 583.0h1V585.0h-1zM14 592.3h1V595.3h-1zM14 614.2h1V618.7h-1zM15 659.6h1V666.6h-1zM17 578.2h1V579.7h-1zM17 653.2h1V659.6h-1zM18 583.0h1V585.0h-1zM18 604.7h1V609.5h-1zM18 636.8h1V642.0h-1zM19 592.3h1V595.3h-1zM19 627.7h1V632.0h-1zM21 600.0h1V604.7h-1zM21 632.0h1V642.0h-1zM22 578.2h1V579.7h-1zM22 587.2h1V589.5h-1zM23 583.0h1V587.2h-1zM27 653.2h1V659.6h-1zM28 576.9h1V578.2h-1zM32 595.3h1V600.0h-1zM32 627.7h1V632.0h-1zM32 642.0h1V647.5h-1zM34 587.2h1V589.5h-1zM34 609.5h1V614.2h-1zM35 627.7h1V632.0h-1zM36 600.0h1V604.7h-1zM36 614.2h1V618.7h-1zM36 659.6h1V666.6h-1zM37 636.8h1V642.0h-1zM37 653.2h1V673.3h-1zM38 659.6h1V666.6h-1zM40 632.0h1V636.8h-1zM40 642.0h1V653.2h-1zM42 653.2h1V659.6h-1zM43 576.9h1V578.2h-1zM44 585.0h1V587.2h-1zM44 623.2h1V627.7h-1zM48 585.0h1V587.2h-1zM48 618.7h1V623.2h-1zM51 623.2h1V627.7h-1zM51 636.8h1V642.0h-1zM52 578.2h1V581.2h-1zM52 587.2h1V589.5h-1zM53 614.2h1V618.7h-1zM53 623.2h1V627.7h-1zM53 632.0h1V636.8h-1zM54 653.2h1V659.6h-1zM55 579.7h1V581.2h-1zM55 609.5h1V614.2h-1zM57 604.7h1V609.5h-1zM62 659.6h1V666.6h-1zM64 589.5h1V592.3h-1zM64 642.0h1V647.5h-1zM65 614.2h1V618.7h-1zM66 614.2h1V618.7h-1zM69 579.7h1V581.2h-1zM69 583.0h1V585.0h-1zM69 589.5h1V600.0h-1zM70 592.3h1V600.0h-1zM70 614.2h1V618.7h-1zM71 604.7h1V614.2h-1zM72 583.0h1.285V587.2h-1.285z"/>
<path fill="#21918c" d="M1 609.5h1V614.2h-1zM3 600.0h1V604.7h-1zM3 627.7h1V632.0h-1zM4 636.8h1V642.0h-1zM5 592.3h1V595.3h-1zM6 585.0h1V587.2h-1zM12 618.7h1V623.2h-1zM13 600.0h1V604.7h-1zM13 609.5h1V614.2h-1zM16 673.3h1V680.3h-1zM17 595.3h1V600.0h-1zM20 592.3h1V600.0h-1zM21 642.0h1V647.5h-1zM21 659.6h1V666.6h-1zM23 647.5h1V653.2h-1zM23 673.3h1V680.3h-1zM29 579.7h1V581.2h-1zM29 592.3h1V595.3h-1zM30 585.0h1V587.2h-1zM30 666.6h1V673.3h-1zM31 595.3h1V600.0h-1zM31 636.8h1V647.5h-1zM34 614.2h1V623.2h-1zM36 623.2h1V627.7h-1zM36 642.0h1V647.5h-1zM39 595.3h1V600.0h-1zM40 585.0h1V587.2h-1zM41 636.8h1V642.0h-1zM41 647.5h1V653.2h-1zM43 585.0h1V587.2h-1zM44 576.9h1V578.2h-1zM44 618.7h1V623.2h-1zM47 578.2h1V579.7h-1zM47 632.0h1V636.8h-1zM47 642.0h1V647.5h-1zM48 666.6h1V673.3h-1zM50 653.2h1V659.6h-1zM52 604.7h1V609.5h-1zM52 666.6h1V673.3h-1zM54 666.6h1V673.3h-1zM55 589.5h1V592.3h-1zM55 614.2h1V618.7h-1zM55 627.7h1V632.0h-1zM55 636.8h1V642.0h-1zM55 666.6h1V673.3h-1zM56 653.2h1V666.6h-1zM57 618.7h1V623.2h-1zM63 578.2h1V581.2h-1zM63 666.6h1V673.3h-1zM66 666.6h1V673.3h-1zM67 647.5h1V659.6h-1zM67 673.3h1V680.3h-1zM68 653.2h1V659.6h-1z"/>
<path fill="#27808e" d="M1 618.7h1V623.2h-1zM3 659.6h1V666.6h-1zM5 623.2h1V627.7h-1zM7 653.2h1V659.6h-1zM9 653.2h1V659.6h-1zM10 653.2h1V659.6h-1zM11 647.5h1V653.2h-1zM12 647.5h1V653.2h-1zM16 666.6h1V673.3h-1zM18 581.2h1V583.0h-1zM18 653.2h1V659.6h-1zM22 576.9h1V578.2h-1zM22 604.7h1V609.5h-1zM22 627.7h1V632.0h-1zM23 636.8h1V642.0h-1zM23 659.6h1V666.6h-1zM24 632.0h1V636.8h-1zM25 632.0h1V636.8h-1zM28 579.7h1V581.2h-1zM29 576.9h1V578.2h-1zM29 583.0h1V585.0h-1zM29 618.7h1V623.2h-1zM29 632.0h1V636.8h-1zM32 600.0h1V609.5h-1zM33 576.9h1V578.2h-1zM36 609.5h1V614.2h-1zM36 653.2h1V659.6h-1zM39 578.2h1V579.7h-1zM39 614.2h1V618.7h-1zM41 632.0h1V636.8h-1zM42 647.5h1V653.2h-1zM43 604.7h1V609.5h-1zM44 609.5h1V614.2h-1zM45 636.8h1V642.0h-1zM48 627.7h1V632.0h-1zM50 659.6h1V673.3h-1zM51 578.2h1V579.7h-1zM53 627.7h1V632.0h-1zM54 589.5h1V592.3h-1zM56 614.2h1V618.7h-1zM56 627.7h1V636.8h-1zM57 585.0h1V587.2h-1zM57 609.5h1V614.2h-1zM57 632.0h1V636.8h-1zM60 581.2h1V585.0h-1zM60 595.3h1V600.0h-1zM61 618.7h1V623.2h-1zM63 595.3h1V600.0h-1zM64 636.8h1V642.0h-1zM64 666.6h1V673.3h-1zM66 659.6h1V666.6h-1zM70 627.7h1V632.0h-1zM71 614.2h1V618.7h-1z"/>
<path fill="#95d840" d="M1 623.2h1V627.7h-1zM13 731.7h1V741.8h-1zM40 741.8h1V752.5h-1zM45 741.8h1V752.5h-1zM48 731.7h1V741.8h-1zM49 731.7h1V741.8h-1zM53 731.7h1V741.8h-1zM56 731.7h1V752.5h-1zM58 731.7h1V741.8h-1zM59 731.7h1V741.8h-1zM60 741.8h1V752.5h-1zM62 731.7h1V752.5h-1zM64 722.6h1V741.8h-1zM67 688.0h1V696.3h-1zM68 680.3h1V688.0h-1zM69 673.3h1V680.3h-1z"/>
<path fill="#287d8e" d="M2 576.9h1V578.2h-1zM3 653.2h1V659.6h-1zM6 653.2h1V666.6h-1zM7 647.5h1V653.2h-1zM10 659.6h1V666.6h-1zM12 578.2h1V579.7h-1zM12 592.3h1V595.3h-1zM12 659.6h1V666.6h-1zM13 623.2h1V627.7h-1zM14 595.3h1V600.0h-1zM14 604.7h1V609.5h-1zM15 578.2h1V579.7h-1zM15 632.0h1V636.8h-1zM17 618.7h1V627.7h-1zM17 642.0h1V653.2h-1zM18 576.9h1V579.7h-1zM18 589.5h1V592.3h-1zM18 595.3h1V600.0h-1zM18 609.5h1V614.2h-1zM18 623.2h1V632.0h-1zM20 647.5h1V653.2h-1zM22 642.0h1V653.2h-1zM23 576.9h1V578.2h-1zM23 579.7h1V581.2h-1zM26 647.5h1V653.2h-1zM27 647.5h1V653.2h-1zM28 578.2h1V579.7h-1zM29 636.8h1V642.0h-1zM31 587.2h1V589.5h-1zM32 581.2h1V583.0h-1zM32 636.8h1V642.0h-1zM33 581.2h1V583.0h-1zM33 592.3h1V595.3h-1zM35 578.2h1V579.7h-1zM36 618.7h1V623.2h-1zM39 618.7h1V627.7h-1zM39 653.2h1V659.6h-1zM40 576.9h1V578.2h-1zM40 579.7h1V581.2h-1zM40 614.2h1V618.7h-1zM43 614.2h1V618.7h-1zM44 636.8h1V642.0h-1zM44 647.5h1V653.2h-1zM46 647.5h1V653.2h-1zM47 609.5h1V614.2h-1zM48 609.5h1V614.2h-1zM48 659.6h1V666.6h-1zM51 576.9h1V578.2h-1zM51 583.0h1V585.0h-1zM52 585.0h1V587.2h-1zM53 581.2h1V583.0h-1zM53 609.5h1V614.2h-1zM53 618.7h1V623.2h-1zM56 618.7h1V623.2h-1zM57 636.8h1V642.0h-1zM59 587.2h1V589.5h-1zM60 618.7h1V623.2h-1zM60 653.2h1V659.6h-1zM61 604.7h1V609.5h-1zM64 618.7h1V623.2h-1zM64 647.5h1V653.2h-1zM65 589.5h1V592.3h-1zM68 627.7h1V632.0h-1zM69 636.8h1V642.0h-1zM70 600.0h1V609.5h-1zM70 623.2h1V627.7h-1zM71 581.2h1V583.0h-1zM71 589.5h1V592.3h-1z"/>
<path fill="#4ec36b" d="M2 581.2h1V585.0h-1zM2 592.3h1V595.3h-1zM9 704.5h1V713.3h-1zM12 704.5h1V713.3h-1zM17 704.5h1V713.3h-1zM18 713.3h1V722.6h-1zM19 696.3h1V704.5h-1zM20 688.0h1V704.5h-1zM21 713.3h1V722.6h-1zM22 704.5h1V713.3h-1zM24 704.5h1V713.3h-1zM26 704.5h1V713.3h-1zM30 688.0h1V696.3h-1zM31 680.3h1V696.3h-1zM37 713.3h1V722.6h-1zM41 704.5h1V713.3h-1zM42 704.5h1V713.3h-1zM47 704.5h1V713.3h-1zM49 688.0h1V696.3h-1zM51 704.5h1V713.3h-1zM52 704.5h1V713.3h-1zM54 713.3h1V722.6h-1zM56 696.3h1V704.5h-1zM59 713.3h1V722.6h-1zM60 704.5h1V713.3h-1zM63 704.5h1V713.3h-1zM63 722.6h1V731.7h-1zM64 704.5h1V713.3h-1zM65 713.3h1V722.6h-1z"/>
<path fill="#48c16e" d="M2 585.0h1V589.5h-1zM3 583.0h1V585.0h-1zM3 589.5h1V592.3h-1zM11 704.5h1V713.3h-1zM15 696.3h1V704.5h-1zM16 713.3h1V722.6h-1zM18 704.5h1V713.3h-1zM22 696.3h1V704.5h-1zM32 688.0h1V696.3h-1zM40 704.5h1V713.3h-1zM46 704.5h1V713.3h-1zM49 704.5h1V713.3h-1zM50 704.5h1V713.3h-1zM52 696.3h1V704.5h-1zM54 704.5h1V713.3h-1zM55 696.3h1V713.3h-1zM58 704.5h1V713.3h-1zM65 576.9h1V578.2h-1zM66 578.2h1V579.7h-1zM68 673.3h1V680.3h-1z"/>
<path fill="#52c569" d="M2 589.5h1V592.3h-1zM9 713.3h1V722.6h-1zM13 722.6h1V731.7h-1zM17 696.3h1V704.5h-1zM17 713.3h1V722.6h-1zM22 688.0h1V696.3h-1zM31 696.3h1V704.5h-1zM32 713.3h1V722.6h-1zM34 704.5h1V713.3h-1zM36 713.3h1V722.6h-1zM38 713.3h1V722.6h-1zM40 713.3h1V722.6h-1zM43 713.3h1V722.6h-1zM44 722.6h1V731.7h-1zM46 713.3h1V722.6h-1zM47 722.6h1V731.7h-1zM48 704.5h1V713.3h-1zM49 713.3h1V722.6h-1zM63 696.3h1V704.5h-1zM65 578.2h1V579.7h-1zM67 576.9h1V578.2h-1z"/>
<path fill="#3fbc73" d="M2 595.3h1V600.0h-1zM4 680.3h1V688.0h-1zM13 713.3h1V722.6h-1zM14 696.3h1V704.5h-1zM15 688.0h1V696.3h-1zM17 688.0h1V696.3h-1zM23 696.3h1V713.3h-1zM24 696.3h1V704.5h-1zM29 680.3h1V713.3h-1zM30 680.3h1V688.0h-1zM36 696.3h1V704.5h-1zM43 704.5h1V713.3h-1zM45 688.0h1V704.5h-1zM49 680.3h1V688.0h-1zM53 688.0h1V696.3h-1zM56 688.0h1V696.3h-1zM57 696.3h1V704.5h-1zM61 688.0h1V696.3h-1zM62 696.3h1V704.5h-1z"/>
<path fill="#228b8d" d="M2 604.7h1V609.5h-1zM3 609.5h1V614.2h-1zM4 653.2h1V659.6h-1zM5 600.0h1V604.7h-1zM5 609.5h1V614.2h-1zM5 618.7h1V623.2h-1zM6 581.2h1V583.0h-1zM6 666.6h1V673.3h-1zM10 666.6h1V673.3h-1zM12 673.3h1V680.3h-1zM15 581.2h1V583.0h-1zM17 576.9h1V578.2h-1zM17 666.6h1V673.3h-1zM18 585.0h1V587.2h-1zM18 659.6h1V666.6h-1zM20 618.7h1V623.2h-1zM20 632.0h1V636.8h-1zM21 587.2h1V589.5h-1zM21 653.2h1V659.6h-1zM22 589.5h1V592.3h-1zM24 642.0h1V647.5h-1zM26 659.6h1V666.6h-1zM28 581.2h1V583.0h-1zM28 659.6h1V666.6h-1zM29 604.7h1V609.5h-1zM29 659.6h1V666.6h-1zM31 579.7h1V581.2h-1zM31 592.3h1V595.3h-1zM32 618.7h1V627.7h-1zM34 576.9h1V578.2h-1zM37 647.5h1V653.2h-1zM40 583.0h1V585.0h-1zM40 618.7h1V623.2h-1zM41 653.2h1V659.6h-1zM44 587.2h1V589.5h-1zM44 666.6h1V673.3h-1zM47 581.2h1V583.0h-1zM47 587.2h1V589.5h-1zM47 653.2h1V659.6h-1zM48 579.7h1V581.2h-1zM48 583.0h1V585.0h-1zM49 647.5h1V653.2h-1zM51 653.2h1V659.6h-1zM55 623.2h1V627.7h-1zM59 673.3h1V680.3h-1zM63 576.9h1V578.2h-1zM63 585.0h1V587.2h-1zM63 604.7h1V609.5h-1zM63 659.6h1V666.6h-1zM64 585.0h1V589.5h-1zM67 636.8h1V642.0h-1zM68 600.0h1V604.7h-1zM68 636.8h1V642.0h-1zM69 647.5h1V653.2h-1zM70 632.0h1V642.0h-1zM71 618.7h1V627.7h-1z"/>
<path fill="#2a788e" d="M2 614.2h1V618.7h-1zM3 647.5h1V653.2h-1zM5 642.0h1V647.5h-1zM6 647.5h1V653.2h-1zM8 642.0h1V647.5h-1zM11 642.0h1V647.5h-1zM12 579.7h1V581.2h-1zM12 589.5h1V592.3h-1zM15 583.0h1V585.0h-1zM15 604.7h1V609.5h-1zM16 587.2h1V589.5h-1zM16 623.2h1V627.7h-1zM16 653.2h1V666.6h-1zM17 583.0h1V585.0h-1zM17 609.5h1V614.2h-1zM17 627.7h1V632.0h-1zM17 659.6h1V666.6h-1zM18 579.7h1V581.2h-1zM18 592.3h1V595.3h-1zM18 614.2h1V618.7h-1zM22 618.7h1V623.2h-1zM27 632.0h1V636.8h-1zM28 653.2h1V659.6h-1zM33 578.2h1V579.7h-1zM35 647.5h1V659.6h-1zM39 589.5h1V592.3h-1zM40 581.2h1V583.0h-1zM40 604.7h1V609.5h-1zM43 581.2h1V583.0h-1zM43 653.2h1V659.6h-1zM44 579.7h1V581.2h-1zM44 595.3h1V600.0h-1zM44 627.7h1V632.0h-1zM48 589.5h1V592.3h-1zM51 579.7h1V581.2h-1zM51 600.0h1V604.7h-1zM53 595.3h1V600.0h-1zM53 642.0h1V647.5h-1zM54 618.7h1V623.2h-1zM56 609.5h1V614.2h-1zM59 592.3h1V595.3h-1zM60 623.2h1V627.7h-1zM62 578.2h1V579.7h-1zM62 653.2h1V659.6h-1zM64 579.7h1V581.2h-1zM64 614.2h1V618.7h-1zM64 627.7h1V636.8h-1zM64 653.2h1V666.6h-1zM65 636.8h1V642.0h-1zM65 653.2h1V659.6h-1zM66 579.7h1V583.0h-1zM67 587.2h1V592.3h-1zM67 623.2h1V627.7h-1zM71 595.3h1V600.0h-1z"/>
<path fill="#2f6c8e" d="M2 618.7h1V627.7h-1zM6 614.2h1V618.7h-1zM7 585.0h1V587.2h-1zM9 636.8h1V642.0h-1zM10 636.8h1V642.0h-1zM12 604.7h1V609.5h-1zM16 609.5h1V614.2h-1zM16 618.7h1V623.2h-1zM21 592.3h1V595.3h-1zM22 579.7h1V581.2h-1zM23 614.2h1V618.7h-1zM24 578.2h1V579.7h-1zM24 623.2h1V627.7h-1zM27 585.0h1V587.2h-1zM27 589.5h1V592.3h-1zM27 618.7h1V623.2h-1zM33 623.2h1V627.7h-1zM38 653.2h1V659.6h-1zM39 609.5h1V614.2h-1zM48 592.3h1V595.3h-1zM48 647.5h1V659.6h-1zM49 636.8h1V642.0h-1zM53 587.2h1V592.3h-1zM53 600.0h1V604.7h-1zM54 604.7h1V609.5h-1zM59 600.0h1V604.7h-1zM60 632.0h1V642.0h-1zM62 583.0h1V585.0h-1zM64 595.3h1V604.7h-1zM68 589.5h1V592.3h-1zM70 579.7h1V581.2h-1z"/>
<path fill="#297a8e" d="M2 627.7h1V632.0h-1zM2 636.8h1V642.0h-1zM5 627.7h1V632.0h-1zM6 579.7h1V581.2h-1zM6 609.5h1V614.2h-1zM6 623.2h1V627.7h-1zM12 576.9h1V578.2h-1zM12 609.5h1V614.2h-1zM12 627.7h1V636.8h-1zM12 653.2h1V659.6h-1zM16 576.9h1V579.7h-1zM17 579.7h1V583.0h-1zM18 618.7h1V623.2h-1zM20 623.2h1V627.7h-1zM21 589.5h1V592.3h-1zM21 604.7h1V609.5h-1zM22 585.0h1V587.2h-1zM22 609.5h1V614.2h-1zM22 623.2h1V627.7h-1zM22 659.6h1V666.6h-1zM23 600.0h1V604.7h-1zM23 623.2h1V627.7h-1zM24 576.9h1V578.2h-1zM26 642.0h1V647.5h-1zM27 627.7h1V632.0h-1zM27 636.8h1V647.5h-1zM29 585.0h1V587.2h-1zM32 585.0h1V587.2h-1zM34 600.0h1V604.7h-1zM35 576.9h1V578.2h-1zM36 592.3h1V595.3h-1zM40 578.2h1V579.7h-1zM40 589.5h1V595.3h-1zM40 609.5h1V614.2h-1zM43 579.7h1V581.2h-1zM43 627.7h1V632.0h-1zM44 583.0h1V585.0h-1zM44 604.7h1V609.5h-1zM44 632.0h1V636.8h-1zM44 659.6h1V666.6h-1zM47 589.5h1V592.3h-1zM48 587.2h1V589.5h-1zM51 642.0h1V647.5h-1zM53 636.8h1V642.0h-1zM55 600.0h1V604.7h-1zM56 623.2h1V627.7h-1zM57 589.5h1V592.3h-1zM60 647.5h1V653.2h-1zM61 589.5h1V592.3h-1zM61 623.2h1V632.0h-1zM61 636.8h1V642.0h-1zM64 592.3h1V595.3h-1zM65 618.7h1V623.2h-1zM65 627.7h1V632.0h-1zM68 587.2h1V589.5h-1zM68 618.7h1V623.2h-1zM69 627.7h1V632.0h-1zM70 587.2h1V589.5h-1zM71 583.0h1V585.0h-1zM71 600.0h1V604.7h-1z"/>
<path fill="#2c738e" d="M2 632.0h1V636.8h-1zM5 636.8h1V642.0h-1zM15 592.3h1V595.3h-1zM15 614.2h1V618.7h-1zM15 623.2h1V627.7h-1zM16 589.5h1V592.3h-1zM21 595.3h1V600.0h-1zM21 614.2h1V623.2h-1zM21 627.7h1V632.0h-1zM23 632.0h1V636.8h-1zM25 627.7h1V632.0h-1zM26 632.0h1V636.8h-1zM27 579.7h1V581.2h-1zM27 583.0h1V585.0h-1zM33 653.2h1V659.6h-1zM34 604.7h1V609.5h-1zM34 647.5h1V653.2h-1zM39 647.5h1V653.2h-1zM41 627.7h1V632.0h-1zM43 636.8h1V642.0h-1zM44 653.2h1V659.6h-1zM47 595.3h1V609.5h-1zM48 604.7h1V609.5h-1zM48 642.0h1V647.5h-1zM51 581.2h1V583.0h-1zM52 583.0h1V585.0h-1zM53 585.0h1V587.2h-1zM53 647.5h1V653.2h-1zM54 642.0h1V647.5h-1zM57 642.0h1V647.5h-1zM58 673.3h1V680.3h-1zM60 642.0h1V647.5h-1zM65 623.2h1V627.7h-1zM65 632.0h1V636.8h-1zM66 589.5h1V592.3h-1zM66 600.0h1V604.7h-1zM66 618.7h1V623.2h-1zM66 653.2h1V659.6h-1zM67 618.7h1V623.2h-1zM69 632.0h1V636.8h-1zM72 581.2h1.285V583.0h-1.285z"/>
<path fill="#5ec962" d="M2 642.0h1V653.2h-1zM4 688.0h1V696.3h-1zM10 713.3h1V722.6h-1zM14 704.5h1V713.3h-1zM19 713.3h1V722.6h-1zM24 713.3h1V722.6h-1zM25 713.3h1V722.6h-1zM27 713.3h1V731.7h-1zM29 722.6h1V731.7h-1zM30 704.5h1V713.3h-1zM32 722.6h1V731.7h-1zM39 704.5h1V713.3h-1zM41 713.3h1V722.6h-1zM42 713.3h1V722.6h-1zM45 704.5h1V722.6h-1zM53 713.3h1V722.6h-1zM54 722.6h1V731.7h-1zM61 722.6h1V731.7h-1zM69 659.6h1V666.6h-1z"/>
<path fill="#b5de2b" d="M2 659.6h1V666.6h-1zM3 680.3h1V688.0h-1zM4 696.3h1V704.5h-1zM10 722.6h1V731.7h-1zM11 722.6h1V731.7h-1zM18 731.7h1V741.8h-1zM19 741.8h1V752.5h-1zM30 731.7h1V741.8h-1zM31 731.7h1V741.8h-1zM32 731.7h1V741.8h-1zM39 741.8h1V752.5h-1zM48 741.8h1V752.5h-1zM68 578.2h1V579.7h-1z"/>
<path fill="#1f978b" d="M3 576.9h1V578.2h-1zM3 623.2h1V627.7h-1zM6 673.3h1V680.3h-1zM7 666.6h1V673.3h-1zM10 673.3h1V680.3h-1zM11 659.6h1V666.6h-1zM13 636.8h1V647.5h-1zM14 647.5h1V653.2h-1zM14 666.6h1V673.3h-1zM18 666.6h1V673.3h-1zM19 609.5h1V614.2h-1zM20 587.2h1V589.5h-1zM21 578.2h1V579.7h-1zM24 659.6h1V666.6h-1zM25 636.8h1V642.0h-1zM29 578.2h1V579.7h-1zM30 579.7h1V581.2h-1zM34 627.7h1V632.0h-1zM35 666.6h1V673.3h-1zM40 666.6h1V673.3h-1zM42 659.6h1V666.6h-1zM47 623.2h1V627.7h-1zM51 673.3h1V680.3h-1zM52 653.2h1V659.6h-1zM57 666.6h1V673.3h-1zM61 647.5h1V653.2h-1zM63 647.5h1V653.2h-1z"/>
<path fill="#1f958b" d="M3 578.2h1V579.7h-1zM4 632.0h1V636.8h-1zM4 659.6h1V666.6h-1zM6 583.0h1V585.0h-1zM8 659.6h1V666.6h-1zM13 647.5h1V653.2h-1zM13 659.6h1V666.6h-1zM14 623.2h1V627.7h-1zM14 642.0h1V647.5h-1zM15 673.3h1V680.3h-1zM17 589.5h1V595.3h-1zM19 578.2h1V579.7h-1zM19 614.2h1V618.7h-1zM19 636.8h1V642.0h-1zM20 653.2h1V659.6h-1zM21 666.6h1V673.3h-1zM28 673.3h1V680.3h-1zM29 581.2h1V583.0h-1zM30 589.5h1V592.3h-1zM30 600.0h1V604.7h-1zM30 659.6h1V666.6h-1zM34 578.2h1V579.7h-1zM34 623.2h1V627.7h-1zM35 583.0h1V585.0h-1zM35 587.2h1V595.3h-1zM37 673.3h1V680.3h-1zM41 642.0h1V647.5h-1zM43 589.5h1V592.3h-1zM44 673.3h1V680.3h-1zM45 647.5h1V659.6h-1zM46 659.6h1V666.6h-1zM51 609.5h1V614.2h-1zM51 666.6h1V673.3h-1zM52 642.0h1V647.5h-1zM52 659.6h1V666.6h-1zM55 618.7h1V623.2h-1zM55 632.0h1V636.8h-1zM57 579.7h1V581.2h-1zM57 600.0h1V604.7h-1zM63 589.5h1V592.3h-1zM63 653.2h1V659.6h-1zM68 659.6h1V666.6h-1z"/>
<path fill="#32b67a" d="M3 581.2h1V583.0h-1zM3 592.3h1V595.3h-1zM5 680.3h1V688.0h-1zM6 688.0h1V696.3h-1zM7 696.3h1V704.5h-1zM8 680.3h1V688.0h-1zM10 696.3h1V713.3h-1zM11 688.0h1V704.5h-1zM21 704.5h1V713.3h-1zM23 688.0h1V696.3h-1zM24 688.0h1V696.3h-1zM34 688.0h1V696.3h-1zM35 688.0h1V704.5h-1zM38 688.0h1V696.3h-1zM39 688.0h1V696.3h-1zM42 696.3h1V704.5h-1zM46 688.0h1V696.3h-1zM47 688.0h1V696.3h-1zM59 688.0h1V696.3h-1zM59 704.5h1V713.3h-1zM61 680.3h1V688.0h-1zM62 680.3h1V688.0h-1z"/>
<path fill="#2fb47c" d="M3 585.0h1V587.2h-1zM3 595.3h1V600.0h-1zM8 696.3h1V704.5h-1zM9 688.0h1V696.3h-1zM13 688.0h1V696.3h-1zM20 666.6h1V673.3h-1zM32 680.3h1V688.0h-1zM40 696.3h1V704.5h-1zM43 680.3h1V696.3h-1zM44 688.0h1V696.3h-1zM46 680.3h1V688.0h-1zM51 688.0h1V696.3h-1zM53 680.3h1V688.0h-1zM54 578.2h1V579.7h-1zM55 680.3h1V688.0h-1zM57 578.2h1V579.7h-1zM57 680.3h1V688.0h-1zM64 696.3h1V704.5h-1zM66 680.3h1V688.0h-1z"/>
<path fill="#44bf70" d="M3 587.2h1V589.5h-1zM7 704.5h1V713.3h-1zM13 704.5h1V713.3h-1zM25 704.5h1V713.3h-1zM27 696.3h1V704.5h-1zM28 704.5h1V713.3h-1zM29 713.3h1V722.6h-1zM32 696.3h1V713.3h-1zM34 696.3h1V704.5h-1zM36 704.5h1V713.3h-1zM44 713.3h1V722.6h-1zM46 696.3h1V704.5h-1zM50 713.3h1V731.7h-1zM53 704.5h1V713.3h-1zM61 696.3h1V704.5h-1zM62 688.0h1V696.3h-1zM63 688.0h1V696.3h-1zM63 713.3h1V722.6h-1zM66 576.9h1V578.2h-1z"/>
<path fill="#20928c" d="M3 618.7h1V623.2h-1zM5 587.2h1V592.3h-1zM13 576.9h1V578.2h-1zM13 604.7h1V609.5h-1zM14 659.6h1V666.6h-1zM19 583.0h1V585.0h-1zM19 647.5h1V659.6h-1zM20 589.5h1V592.3h-1zM24 666.6h1V673.3h-1zM25 673.3h1V680.3h-1zM28 666.6h1V673.3h-1zM30 578.2h1V579.7h-1zM30 604.7h1V609.5h-1zM31 581.2h1V583.0h-1zM31 600.0h1V604.7h-1zM31 632.0h1V636.8h-1zM33 585.0h1V587.2h-1zM33 673.3h1V680.3h-1zM34 579.7h1V581.2h-1zM34 583.0h1V585.0h-1zM34 636.8h1V642.0h-1zM35 581.2h1V583.0h-1zM35 585.0h1V587.2h-1zM36 576.9h1V578.2h-1zM36 585.0h1V587.2h-1zM36 666.6h1V673.3h-1zM37 642.0h1V647.5h-1zM38 666.6h1V673.3h-1zM41 659.6h1V666.6h-1zM44 614.2h1V618.7h-1zM46 653.2h1V659.6h-1zM47 618.7h1V623.2h-1zM47 666.6h1V673.3h-1zM49 653.2h1V666.6h-1zM51 659.6h1V666.6h-1zM52 609.5h1V614.2h-1zM52 636.8h1V642.0h-1zM54 673.3h1V680.3h-1zM55 587.2h1V589.5h-1zM55 642.0h1V647.5h-1zM57 592.3h1V595.3h-1zM57 623.2h1V632.0h-1zM57 659.6h1V666.6h-1zM60 666.6h1V673.3h-1zM61 579.7h1V581.2h-1zM63 581.2h1V585.0h-1zM63 614.2h1V618.7h-1zM65 609.5h1V614.2h-1zM68 647.5h1V653.2h-1zM69 614.2h1V618.7h-1z"/>
<path fill="#26828e" d="M3 636.8h1V647.5h-1zM4 576.9h1V578.2h-1zM8 647.5h1V659.6h-1zM9 647.5h1V653.2h-1zM9 659.6h1V666.6h-1zM12 666.6h1V673.3h-1zM14 576.9h1V578.2h-1zM15 579.7h1V581.2h-1zM15 627.7h1V632.0h-1zM17 614.2h1V618.7h-1zM18 600.0h1V604.7h-1zM18 632.0h1V636.8h-1zM18 642.0h1V653.2h-1zM20 642.0h1V647.5h-1zM22 632.0h1V642.0h-1zM23 581.2h1V583.0h-1zM28 583.0h1V585.0h-1zM29 587.2h1V589.5h-1zM29 627.7h1V632.0h-1zM29 642.0h1V647.5h-1zM31 585.0h1V587.2h-1zM32 587.2h1V589.5h-1zM32 632.0h1V636.8h-1zM33 589.5h1V592.3h-1zM34 642.0h1V647.5h-1zM34 659.6h1V666.6h-1zM35 595.3h1V600.0h-1zM36 579.7h1V585.0h-1zM36 595.3h1V600.0h-1zM36 604.7h1V609.5h-1zM39 600.0h1V604.7h-1zM42 636.8h1V642.0h-1zM43 609.5h1V614.2h-1zM43 618.7h1V623.2h-1zM44 592.3h1V595.3h-1zM48 614.2h1V618.7h-1zM50 642.0h1V647.5h-1zM51 647.5h1V653.2h-1zM52 576.9h1V578.2h-1zM52 589.5h1V592.3h-1zM54 609.5h1V618.7h-1zM55 595.3h1V600.0h-1zM55 604.7h1V609.5h-1zM57 587.2h1V589.5h-1zM57 647.5h1V653.2h-1zM59 589.5h1V592.3h-1zM60 585.0h1V587.2h-1zM61 614.2h1V618.7h-1zM61 642.0h1V647.5h-1zM63 632.0h1V636.8h-1zM64 581.2h1V583.0h-1zM64 623.2h1V627.7h-1zM65 579.7h1V581.2h-1zM66 604.7h1V609.5h-1zM67 583.0h1V587.2h-1zM67 627.7h1V632.0h-1zM68 609.5h1V614.2h-1zM69 585.0h1V587.2h-1zM69 600.0h1V614.2h-1zM70 618.7h1V623.2h-1zM71 579.7h1V581.2h-1z"/>
<path fill="#6ece58" d="M3 666.6h1V673.3h-1zM12 713.3h1V722.6h-1zM16 722.6h1V731.7h-1zM29 731.7h1V741.8h-1zM30 722.6h1V731.7h-1zM33 704.5h1V713.3h-1zM42 722.6h1V731.7h-1zM45 731.7h1V741.8h-1zM46 731.7h1V741.8h-1zM48 722.6h1V731.7h-1zM58 722.6h1V731.7h-1zM62 722.6h1V731.7h-1zM64 713.3h1V722.6h-1zM65 722.6h1V731.7h-1z"/>
<path fill="#24868e" d="M4 579.7h1V581.2h-1zM4 642.0h1V647.5h-1zM6 589.5h1V595.3h-1zM6 632.0h1V636.8h-1zM9 666.6h1V673.3h-1zM13 578.2h1V579.7h-1zM13 581.2h1V583.0h-1zM13 585.0h1V589.5h-1zM13 618.7h1V623.2h-1zM13 627.7h1V636.8h-1zM14 578.2h1V579.7h-1zM14 589.5h1V592.3h-1zM14 600.0h1V604.7h-1zM15 576.9h1V578.2h-1zM17 600.0h1V609.5h-1zM18 587.2h1V589.5h-1zM19 585.0h1V587.2h-1zM19 595.3h1V600.0h-1zM19 618.7h1V627.7h-1zM19 632.0h1V636.8h-1zM22 666.6h1V673.3h-1zM23 589.5h1V592.3h-1zM23 666.6h1V673.3h-1zM24 636.8h1V642.0h-1zM29 609.5h1V618.7h-1zM29 623.2h1V627.7h-1zM31 578.2h1V579.7h-1zM31 583.0h1V585.0h-1zM31 589.5h1V592.3h-1zM32 592.3h1V595.3h-1zM33 666.6h1V673.3h-1zM34 585.0h1V587.2h-1zM35 632.0h1V642.0h-1zM35 659.6h1V666.6h-1zM36 578.2h1V579.7h-1zM39 592.3h1V595.3h-1zM40 623.2h1V632.0h-1zM40 653.2h1V659.6h-1zM42 642.0h1V647.5h-1zM43 592.3h1V595.3h-1zM43 623.2h1V627.7h-1zM43 659.6h1V666.6h-1zM44 578.2h1V579.7h-1zM44 589.5h1V592.3h-1zM47 614.2h1V618.7h-1zM49 642.0h1V647.5h-1zM51 618.7h1V623.2h-1zM51 627.7h1V636.8h-1zM52 595.3h1V604.7h-1zM52 627.7h1V632.0h-1zM53 659.6h1V666.6h-1zM54 647.5h1V653.2h-1zM55 581.2h1V583.0h-1zM55 592.3h1V595.3h-1zM55 653.2h1V666.6h-1zM56 636.8h1V647.5h-1zM57 583.0h1V585.0h-1zM57 614.2h1V618.7h-1zM57 653.2h1V659.6h-1zM60 579.7h1V581.2h-1zM60 587.2h1V589.5h-1zM62 666.6h1V673.3h-1zM63 592.3h1V595.3h-1zM63 600.0h1V604.7h-1zM65 592.3h1V600.0h-1zM66 609.5h1V614.2h-1zM67 666.6h1V673.3h-1zM68 604.7h1V609.5h-1zM68 632.0h1V636.8h-1zM69 587.2h1V589.5h-1zM69 653.2h1V659.6h-1zM70 589.5h1V592.3h-1zM70 609.5h1V614.2h-1zM71 585.0h1V587.2h-1z"/>
<path fill="#20a386" d="M4 581.2h1V585.0h-1zM4 587.2h1V589.5h-1zM4 627.7h1V632.0h-1zM12 680.3h1V688.0h-1zM14 673.3h1V680.3h-1zM18 673.3h1V680.3h-1zM20 585.0h1V587.2h-1zM22 673.3h1V680.3h-1zM25 680.3h1V688.0h-1zM30 623.2h1V627.7h-1zM30 636.8h1V642.0h-1zM30 673.3h1V680.3h-1zM31 627.7h1V632.0h-1zM32 576.9h1V578.2h-1zM32 659.6h1V666.6h-1zM32 673.3h1V680.3h-1zM33 680.3h1V688.0h-1zM36 627.7h1V632.0h-1zM36 673.3h1V680.3h-1zM40 680.3h1V688.0h-1zM43 673.3h1V680.3h-1zM45 673.3h1V680.3h-1zM48 673.3h1V680.3h-1zM49 666.6h1V673.3h-1zM54 576.9h1V578.2h-1zM55 578.2h1V579.7h-1zM55 673.3h1V680.3h-1zM58 578.2h1V579.7h-1zM61 576.9h1V578.2h-1zM67 680.3h1V688.0h-1z"/>
<path fill="#26ad81" d="M4 585.0h1V587.2h-1zM4 589.5h1V592.3h-1zM13 680.3h1V688.0h-1zM16 688.0h1V696.3h-1zM23 680.3h1V688.0h-1zM39 673.3h1V680.3h-1zM42 688.0h1V696.3h-1zM44 680.3h1V688.0h-1zM47 680.3h1V688.0h-1zM48 680.3h1V688.0h-1zM52 680.3h1V688.0h-1zM54 688.0h1V696.3h-1zM58 688.0h1V696.3h-1zM59 578.2h1V579.7h-1zM65 680.3h1V688.0h-1z"/>
<path fill="#22a884" d="M4 592.3h1V595.3h-1zM4 604.7h1V609.5h-1zM8 673.3h1V680.3h-1zM9 680.3h1V688.0h-1zM15 680.3h1V688.0h-1zM21 673.3h1V680.3h-1zM30 642.0h1V653.2h-1zM37 680.3h1V688.0h-1zM64 688.0h1V696.3h-1z"/>
<path fill="#25ab82" d="M4 595.3h1V600.0h-1zM6 680.3h1V688.0h-1zM7 680.3h1V688.0h-1zM10 680.3h1V688.0h-1zM12 688.0h1V696.3h-1zM18 680.3h1V688.0h-1zM21 680.3h1V688.0h-1zM24 680.3h1V688.0h-1zM28 680.3h1V688.0h-1zM31 666.6h1V673.3h-1zM36 632.0h1V636.8h-1zM38 680.3h1V688.0h-1zM41 673.3h1V688.0h-1zM50 680.3h1V688.0h-1zM54 680.3h1V688.0h-1zM56 576.9h1V578.2h-1z"/>
<path fill="#21a685" d="M4 600.0h1V604.7h-1zM4 614.2h1V627.7h-1zM5 666.6h1V673.3h-1zM7 673.3h1V680.3h-1zM11 673.3h1V680.3h-1zM14 583.0h1V585.0h-1zM14 632.0h1V636.8h-1zM26 680.3h1V688.0h-1zM29 673.3h1V680.3h-1zM30 618.7h1V623.2h-1zM30 653.2h1V659.6h-1zM31 623.2h1V627.7h-1zM42 680.3h1V688.0h-1zM49 673.3h1V680.3h-1zM51 680.3h1V688.0h-1zM57 673.3h1V680.3h-1zM58 576.9h1V578.2h-1zM61 583.0h1V585.0h-1z"/>
<path fill="#29af7f" d="M4 609.5h1V614.2h-1zM4 673.3h1V680.3h-1zM5 673.3h1V680.3h-1zM11 680.3h1V688.0h-1zM19 666.6h1V680.3h-1zM21 688.0h1V704.5h-1zM25 696.3h1V704.5h-1zM27 680.3h1V688.0h-1zM35 680.3h1V688.0h-1zM36 680.3h1V688.0h-1zM37 688.0h1V696.3h-1zM40 688.0h1V696.3h-1zM53 576.9h1V578.2h-1zM53 673.3h1V680.3h-1zM60 576.9h1V578.2h-1zM66 688.0h1V696.3h-1z"/>
<path fill="#1f9f88" d="M4 666.6h1V673.3h-1zM11 666.6h1V673.3h-1zM14 627.7h1V632.0h-1zM16 680.3h1V688.0h-1zM19 579.7h1V581.2h-1zM19 604.7h1V609.5h-1zM20 583.0h1V585.0h-1zM20 600.0h1V604.7h-1zM20 659.6h1V666.6h-1zM21 579.7h1V581.2h-1zM24 673.3h1V680.3h-1zM27 673.3h1V680.3h-1zM29 666.6h1V673.3h-1zM30 576.9h1V578.2h-1zM30 627.7h1V632.0h-1zM31 618.7h1V623.2h-1zM31 659.6h1V666.6h-1zM32 666.6h1V673.3h-1zM35 673.3h1V680.3h-1zM42 666.6h1V673.3h-1zM45 666.6h1V673.3h-1zM47 627.7h1V632.0h-1zM60 673.3h1V680.3h-1zM61 585.0h1V587.2h-1zM61 666.6h1V673.3h-1z"/>
<path fill="#1f9a8a" d="M5 581.2h1V583.0h-1zM13 589.5h1V592.3h-1zM13 673.3h1V680.3h-1zM14 579.7h1V581.2h-1zM14 585.0h1V589.5h-1zM14 636.8h1V642.0h-1zM14 653.2h1V659.6h-1zM19 642.0h1V647.5h-1zM20 609.5h1V614.2h-1zM21 581.2h1V587.2h-1zM25 666.6h1V673.3h-1zM26 673.3h1V680.3h-1zM30 595.3h1V600.0h-1zM30 632.0h1V636.8h-1zM32 647.5h1V653.2h-1zM34 632.0h1V636.8h-1zM41 666.6h1V673.3h-1zM43 587.2h1V589.5h-1zM45 659.6h1V666.6h-1zM47 576.9h1V578.2h-1zM47 636.8h1V642.0h-1zM52 623.2h1V627.7h-1zM57 595.3h1V600.0h-1zM61 659.6h1V666.6h-1zM63 673.3h1V680.3h-1zM64 680.3h1V688.0h-1zM65 673.3h1V680.3h-1zM68 581.2h1V583.0h-1zM68 666.6h1V673.3h-1z"/>
<path fill="#2d718e" d="M5 632.0h1V636.8h-1zM6 642.0h1V647.5h-1zM15 587.2h1V592.3h-1zM15 609.5h1V614.2h-1zM16 627.7h1V636.8h-1zM16 647.5h1V653.2h-1zM21 623.2h1V627.7h-1zM22 614.2h1V618.7h-1zM26 636.8h1V642.0h-1zM27 587.2h1V589.5h-1zM27 623.2h1V627.7h-1zM28 587.2h1V589.5h-1zM28 647.5h1V653.2h-1zM33 595.3h1V600.0h-1zM33 604.7h1V609.5h-1zM33 647.5h1V653.2h-1zM35 600.0h1V604.7h-1zM38 592.3h1V595.3h-1zM42 632.0h1V636.8h-1zM44 581.2h1V583.0h-1zM44 600.0h1V604.7h-1zM44 642.0h1V647.5h-1zM48 576.9h1V578.2h-1zM48 600.0h1V604.7h-1zM48 636.8h1V642.0h-1zM51 587.2h1V589.5h-1zM52 581.2h1V583.0h-1zM58 618.7h1V623.2h-1zM60 627.7h1V632.0h-1zM61 595.3h1V604.7h-1zM62 581.2h1V583.0h-1zM66 585.0h1V587.2h-1zM70 583.0h1V587.2h-1zM71 592.3h1V595.3h-1zM72 579.7h1.285V581.2h-1.285z"/>
<path fill="#1e9c89" d="M5 659.6h1V666.6h-1zM9 673.3h1V680.3h-1zM13 592.3h1V600.0h-1zM13 666.6h1V673.3h-1zM14 581.2h1V583.0h-1zM17 673.3h1V680.3h-1zM20 578.2h1V579.7h-1zM20 604.7h1V609.5h-1zM30 609.5h1V614.2h-1zM31 614.2h1V618.7h-1zM31 647.5h1V659.6h-1zM32 578.2h1V579.7h-1zM34 673.3h1V680.3h-1zM40 673.3h1V680.3h-1zM42 673.3h1V680.3h-1zM46 666.6h1V673.3h-1zM47 673.3h1V680.3h-1zM52 614.2h1V623.2h-1zM52 647.5h1V653.2h-1zM53 666.6h1V673.3h-1zM58 680.3h1V688.0h-1zM61 581.2h1V583.0h-1zM61 653.2h1V659.6h-1zM62 673.3h1V680.3h-1zM66 673.3h1V680.3h-1z"/>
<path fill="#3bbb75" d="M5 688.0h1V696.3h-1zM9 696.3h1V704.5h-1zM14 688.0h1V696.3h-1zM16 704.5h1V713.3h-1zM19 680.3h1V696.3h-1zM20 673.3h1V680.3h-1zM22 680.3h1V688.0h-1zM26 696.3h1V704.5h-1zM28 696.3h1V704.5h-1zM33 696.3h1V704.5h-1zM37 696.3h1V713.3h-1zM41 688.0h1V696.3h-1zM44 696.3h1V704.5h-1zM49 696.3h1V704.5h-1zM50 696.3h1V704.5h-1zM51 696.3h1V704.5h-1zM53 578.2h1V579.7h-1zM55 688.0h1V696.3h-1zM57 688.0h1V696.3h-1zM58 696.3h1V704.5h-1zM59 576.9h1V578.2h-1zM60 696.3h1V704.5h-1zM65 688.0h1V696.3h-1zM65 704.5h1V713.3h-1zM67 578.2h1V579.7h-1z"/>
<path fill="#69cd5b" d="M5 696.3h1V704.5h-1zM6 696.3h1V704.5h-1zM15 722.6h1V731.7h-1zM22 722.6h1V731.7h-1zM23 722.6h1V731.7h-1zM28 731.7h1V741.8h-1zM31 704.5h1V722.6h-1zM34 722.6h1V731.7h-1zM36 722.6h1V731.7h-1zM38 722.6h1V731.7h-1zM46 722.6h1V731.7h-1zM48 713.3h1V722.6h-1zM49 722.6h1V731.7h-1zM50 731.7h1V741.8h-1zM51 722.6h1V731.7h-1zM55 722.6h1V731.7h-1zM56 713.3h1V722.6h-1zM59 722.6h1V731.7h-1zM60 713.3h1V731.7h-1zM62 704.5h1V713.3h-1zM70 642.0h1V653.2h-1z"/>
<path fill="#306a8e" d="M6 576.9h1V579.7h-1zM7 581.2h1V583.0h-1zM7 618.7h1V627.7h-1zM7 642.0h1V647.5h-1zM15 600.0h1V604.7h-1zM15 642.0h1V647.5h-1zM16 636.8h1V642.0h-1zM22 581.2h1V585.0h-1zM24 627.7h1V632.0h-1zM25 618.7h1V623.2h-1zM26 592.3h1V595.3h-1zM27 578.2h1V579.7h-1zM33 642.0h1V647.5h-1zM37 632.0h1V636.8h-1zM38 589.5h1V592.3h-1zM38 647.5h1V653.2h-1zM39 581.2h1V583.0h-1zM39 587.2h1V589.5h-1zM39 642.0h1V647.5h-1zM41 592.3h1V595.3h-1zM46 642.0h1V647.5h-1zM50 636.8h1V642.0h-1zM51 589.5h1V592.3h-1zM51 595.3h1V600.0h-1zM56 604.7h1V609.5h-1zM58 609.5h1V618.7h-1zM58 623.2h1V627.7h-1zM58 653.2h1V659.6h-1zM60 604.7h1V609.5h-1zM64 576.9h1V578.2h-1zM66 592.3h1V595.3h-1zM67 592.3h1V595.3h-1zM67 609.5h1V614.2h-1zM68 592.3h1V595.3h-1z"/>
<path fill="#2b758e" d="M6 618.7h1V623.2h-1zM7 583.0h1V585.0h-1zM10 647.5h1V653.2h-1zM12 587.2h1V589.5h-1zM15 636.8h1V642.0h-1zM15 653.2h1V659.6h-1zM16 579.7h1V581.2h-1zM17 632.0h1V642.0h-1zM21 609.5h1V614.2h-1zM22 653.2h1V659.6h-1zM23 578.2h1V579.7h-1zM23 587.2h1V589.5h-1zM23 604.7h1V609.5h-1zM23 618.7h1V623.2h-1zM23 627.7h1V632.0h-1zM32 583.0h1V585.0h-1zM33 579.7h1V581.2h-1zM33 600.0h1V604.7h-1zM33 659.6h1V666.6h-1zM34 653.2h1V659.6h-1zM35 623.2h1V627.7h-1zM35 642.0h1V647.5h-1zM39 579.7h1V581.2h-1zM39 604.7h1V609.5h-1zM40 595.3h1V604.7h-1zM43 578.2h1V579.7h-1zM43 600.0h1V604.7h-1zM43 632.0h1V636.8h-1zM43 642.0h1V653.2h-1zM47 592.3h1V595.3h-1zM48 578.2h1V579.7h-1zM48 632.0h1V636.8h-1zM51 585.0h1V587.2h-1zM53 579.7h1V581.2h-1zM53 583.0h1V585.0h-1zM53 592.3h1V595.3h-1zM53 604.7h1V609.5h-1zM54 587.2h1V589.5h-1zM54 592.3h1V600.0h-1zM56 581.2h1V583.0h-1zM59 579.7h1V581.2h-1zM59 595.3h1V600.0h-1zM59 666.6h1V673.3h-1zM60 614.2h1V618.7h-1zM61 592.3h1V595.3h-1zM62 579.7h1V581.2h-1zM65 642.0h1V647.5h-1zM65 659.6h1V666.6h-1zM66 587.2h1V589.5h-1zM68 595.3h1V600.0h-1zM68 614.2h1V618.7h-1zM68 623.2h1V627.7h-1z"/>
<path fill="#2e6f8e" d="M6 636.8h1V642.0h-1zM11 636.8h1V642.0h-1zM12 595.3h1V600.0h-1zM15 585.0h1V587.2h-1zM15 595.3h1V600.0h-1zM15 618.7h1V623.2h-1zM15 647.5h1V653.2h-1zM16 614.2h1V618.7h-1zM23 609.5h1V614.2h-1zM25 623.2h1V627.7h-1zM26 589.5h1V592.3h-1zM27 576.9h1V578.2h-1zM27 581.2h1V583.0h-1zM28 585.0h1V587.2h-1zM39 627.7h1V632.0h-1zM45 627.7h1V636.8h-1zM48 595.3h1V600.0h-1zM51 592.3h1V595.3h-1zM53 653.2h1V659.6h-1zM56 583.0h1V585.0h-1zM58 666.6h1V673.3h-1zM59 581.2h1V583.0h-1zM59 604.7h1V609.5h-1zM60 600.0h1V604.7h-1zM60 609.5h1V614.2h-1zM61 632.0h1V636.8h-1zM62 647.5h1V653.2h-1zM64 578.2h1V579.7h-1zM64 609.5h1V614.2h-1zM65 581.2h1V583.0h-1zM65 587.2h1V589.5h-1zM65 647.5h1V653.2h-1zM66 583.0h1V585.0h-1zM67 614.2h1V618.7h-1z"/>
<path fill="#355f8d" d="M7 576.9h1V579.7h-1zM7 589.5h1V592.3h-1zM7 636.8h1V642.0h-1zM8 636.8h1V642.0h-1zM16 592.3h1V595.3h-1zM25 578.2h1V579.7h-1zM25 581.2h1V583.0h-1zM26 585.0h1V589.5h-1zM26 618.7h1V623.2h-1zM28 600.0h1V604.7h-1zM33 636.8h1V642.0h-1zM35 609.5h1V614.2h-1zM38 587.2h1V589.5h-1zM38 632.0h1V636.8h-1zM41 576.9h1V578.2h-1zM46 579.7h1V581.2h-1zM56 587.2h1V589.5h-1zM58 595.3h1V604.7h-1zM62 587.2h1V589.5h-1zM62 614.2h1V618.7h-1zM64 604.7h1V609.5h-1zM67 600.0h1V604.7h-1z"/>
<path fill="#365d8d" d="M7 579.7h1V581.2h-1zM24 587.2h1V589.5h-1zM25 583.0h1V585.0h-1zM26 595.3h1V604.7h-1zM26 614.2h1V618.7h-1zM27 614.2h1V618.7h-1zM28 642.0h1V647.5h-1zM33 632.0h1V636.8h-1zM38 578.2h1V579.7h-1zM38 614.2h1V618.7h-1zM38 623.2h1V627.7h-1zM39 636.8h1V642.0h-1zM41 578.2h1V579.7h-1zM41 595.3h1V600.0h-1zM56 600.0h1V604.7h-1zM58 604.7h1V609.5h-1zM62 585.0h1V587.2h-1z"/>
<path fill="#32648e" d="M7 587.2h1V589.5h-1zM7 609.5h1V614.2h-1zM7 627.7h1V632.0h-1zM12 581.2h1V583.0h-1zM12 585.0h1V587.2h-1zM12 600.0h1V604.7h-1zM16 581.2h1V583.0h-1zM25 614.2h1V618.7h-1zM35 604.7h1V609.5h-1zM38 581.2h1V583.0h-1zM38 585.0h1V587.2h-1zM38 595.3h1V600.0h-1zM38 627.7h1V632.0h-1zM38 636.8h1V642.0h-1zM39 583.0h1V585.0h-1zM41 589.5h1V592.3h-1zM54 636.8h1V642.0h-1zM58 642.0h1V647.5h-1zM62 618.7h1V627.7h-1zM67 595.3h1V600.0h-1zM67 604.7h1V609.5h-1zM70 581.2h1V583.0h-1z"/>
<path fill="#38588c" d="M7 592.3h1V595.3h-1zM7 600.0h1V604.7h-1zM16 600.0h1V604.7h-1zM26 578.2h1V581.2h-1zM27 592.3h1V595.3h-1zM37 627.7h1V632.0h-1zM38 609.5h1V614.2h-1zM41 581.2h1V583.0h-1zM42 627.7h1V632.0h-1zM46 578.2h1V579.7h-1zM54 583.0h1V585.0h-1zM54 623.2h1V627.7h-1zM56 589.5h1V592.3h-1zM58 589.5h1V595.3h-1zM58 636.8h1V642.0h-1zM59 623.2h1V627.7h-1zM59 647.5h1V653.2h-1zM59 659.6h1V666.6h-1zM62 589.5h1V600.0h-1zM62 604.7h1V609.5h-1z"/>
<path fill="#3a548c" d="M7 595.3h1V600.0h-1zM10 632.0h1V636.8h-1zM24 585.0h1V587.2h-1zM24 614.2h1V618.7h-1zM25 587.2h1V589.5h-1zM25 609.5h1V614.2h-1zM28 609.5h1V614.2h-1zM38 579.7h1V581.2h-1zM38 604.7h1V609.5h-1zM45 579.7h1V581.2h-1zM49 614.2h1V618.7h-1zM49 623.2h1V627.7h-1zM56 595.3h1V600.0h-1zM59 642.0h1V647.5h-1zM62 600.0h1V604.7h-1z"/>
<path fill="#375a8c" d="M7 604.7h1V609.5h-1zM7 632.0h1V636.8h-1zM16 583.0h1V585.0h-1zM16 604.7h1V609.5h-1zM24 579.7h1V581.2h-1zM25 579.7h1V581.2h-1zM25 585.0h1V587.2h-1zM26 583.0h1V585.0h-1zM26 604.7h1V609.5h-1zM38 618.7h1V623.2h-1zM41 579.7h1V581.2h-1zM41 587.2h1V589.5h-1zM41 623.2h1V627.7h-1zM46 632.0h1V636.8h-1zM49 632.0h1V636.8h-1zM54 579.7h1V581.2h-1zM56 585.0h1V587.2h-1zM58 585.0h1V587.2h-1zM62 609.5h1V614.2h-1zM62 632.0h1V636.8h-1zM62 642.0h1V647.5h-1z"/>
<path fill="#33628d" d="M7 614.2h1V618.7h-1zM12 583.0h1V585.0h-1zM24 618.7h1V623.2h-1zM26 581.2h1V583.0h-1zM26 623.2h1V627.7h-1zM28 589.5h1V600.0h-1zM33 627.7h1V632.0h-1zM35 614.2h1V618.7h-1zM38 583.0h1V585.0h-1zM39 585.0h1V587.2h-1zM39 632.0h1V636.8h-1zM45 623.2h1V627.7h-1zM46 636.8h1V642.0h-1zM54 585.0h1V587.2h-1zM58 632.0h1V636.8h-1zM58 659.6h1V666.6h-1zM59 609.5h1V623.2h-1zM62 627.7h1V632.0h-1zM65 585.0h1V587.2h-1zM66 623.2h1V627.7h-1z"/>
<path fill="#37b878" d="M7 688.0h1V696.3h-1zM8 688.0h1V696.3h-1zM8 704.5h1V713.3h-1zM12 696.3h1V704.5h-1zM13 696.3h1V704.5h-1zM17 680.3h1V688.0h-1zM18 696.3h1V704.5h-1zM20 680.3h1V688.0h-1zM26 688.0h1V696.3h-1zM27 688.0h1V696.3h-1zM31 673.3h1V680.3h-1zM33 688.0h1V696.3h-1zM35 704.5h1V713.3h-1zM36 688.0h1V696.3h-1zM38 696.3h1V704.5h-1zM41 696.3h1V704.5h-1zM44 704.5h1V713.3h-1zM45 680.3h1V688.0h-1zM47 696.3h1V704.5h-1zM48 688.0h1V704.5h-1zM50 688.0h1V696.3h-1zM53 696.3h1V704.5h-1zM55 576.9h1V578.2h-1zM56 680.3h1V688.0h-1zM57 576.9h1V578.2h-1zM65 696.3h1V704.5h-1z"/>
<path fill="#58c765" d="M7 713.3h1V722.6h-1zM15 704.5h1V713.3h-1zM19 704.5h1V713.3h-1zM20 704.5h1V731.7h-1zM21 722.6h1V731.7h-1zM22 713.3h1V722.6h-1zM23 713.3h1V722.6h-1zM26 713.3h1V722.6h-1zM27 704.5h1V713.3h-1zM28 722.6h1V731.7h-1zM30 696.3h1V704.5h-1zM35 713.3h1V722.6h-1zM38 704.5h1V713.3h-1zM47 713.3h1V722.6h-1zM51 713.3h1V722.6h-1zM57 704.5h1V713.3h-1zM58 713.3h1V722.6h-1zM61 704.5h1V722.6h-1z"/>
<path fill="#9bd93c" d="M7 722.6h1V731.7h-1zM8 722.6h1V731.7h-1zM16 731.7h1V741.8h-1zM19 731.7h1V741.8h-1zM21 731.7h1V741.8h-1zM22 731.7h1V741.8h-1zM33 722.6h1V731.7h-1zM39 731.7h1V741.8h-1zM43 741.8h1V752.5h-1zM44 741.8h1V752.5h-1zM49 741.8h1V752.5h-1zM54 752.5h1V763.0h-1zM57 752.5h1V763.0h-1zM62 752.5h1V763.0h-1zM65 731.7h1V741.8h-1z"/>
<path fill="#46085c" d="M8 576.9h1V578.2h-1zM9 604.7h1V609.5h-1zM10 600.0h1V604.7h-1z"/>
<path fill="#471063" d="M8 578.2h1V579.7h-1zM8 581.2h1V583.0h-1zM9 595.3h1V600.0h-1zM11 578.2h1V579.7h-1zM11 581.2h1V583.0h-1zM11 604.7h1V609.5h-1zM11 623.2h1V627.7h-1zM37 614.2h1V618.7h-1zM42 583.0h1V585.0h-1z"/>
<path fill="#481769" d="M8 579.7h1V581.2h-1zM11 579.7h1V581.2h-1zM37 618.7h1V623.2h-1zM42 587.2h1V589.5h-1zM42 592.3h1V595.3h-1zM50 587.2h1V589.5h-1z"/>
<path fill="#440154" d="M8 583.0h1V618.7h-1zM9 576.9h1V595.3h-1zM9 609.5h1V627.7h-1zM10 576.9h1V600.0h-1zM10 604.7h1V627.7h-1zM11 576.9h1V578.2h-1zM11 587.2h1V604.7h-1zM11 618.7h1V623.2h-1zM42 578.2h1V583.0h-1z"/>
<path fill="#460b5e" d="M8 618.7h1V623.2h-1zM42 576.9h1V578.2h-1z"/>
<path fill="#481a6c" d="M8 623.2h1V627.7h-1zM11 609.5h1V614.2h-1z"/>
<path fill="#472a7a" d="M8 627.7h1V632.0h-1zM37 604.7h1V609.5h-1zM37 623.2h1V627.7h-1z"/>
<path fill="#414487" d="M8 632.0h1V636.8h-1zM26 576.9h1V578.2h-1zM27 604.7h1V609.5h-1zM28 614.2h1V618.7h-1zM28 627.7h1V636.8h-1zM37 585.0h1V587.2h-1zM41 609.5h1V614.2h-1zM45 576.9h1V578.2h-1zM45 583.0h1V585.0h-1zM46 576.9h1V578.2h-1zM46 600.0h1V604.7h-1zM46 618.7h1V623.2h-1z"/>
<path fill="#1fa188" d="M8 666.6h1V673.3h-1zM19 581.2h1V583.0h-1zM19 659.6h1V666.6h-1zM20 576.9h1V578.2h-1zM20 579.7h1V583.0h-1zM30 592.3h1V595.3h-1zM30 614.2h1V618.7h-1zM31 604.7h1V614.2h-1zM32 653.2h1V659.6h-1zM36 636.8h1V642.0h-1zM38 673.3h1V680.3h-1zM39 666.6h1V673.3h-1zM46 673.3h1V680.3h-1zM52 673.3h1V680.3h-1zM56 666.6h1V673.3h-1zM59 680.3h1V688.0h-1zM60 578.2h1V579.7h-1zM61 673.3h1V680.3h-1z"/>
<path fill="#63cb5f" d="M8 713.3h1V722.6h-1zM11 713.3h1V722.6h-1zM15 713.3h1V722.6h-1zM17 722.6h1V731.7h-1zM18 722.6h1V731.7h-1zM28 713.3h1V722.6h-1zM30 713.3h1V722.6h-1zM34 713.3h1V722.6h-1zM35 722.6h1V731.7h-1zM45 722.6h1V731.7h-1zM52 713.3h1V722.6h-1zM55 713.3h1V722.6h-1zM56 704.5h1V713.3h-1zM57 713.3h1V722.6h-1zM62 713.3h1V722.6h-1z"/>
<path fill="#471365" d="M9 600.0h1V604.7h-1zM11 614.2h1V618.7h-1zM49 576.9h1V578.2h-1zM50 589.5h1V592.3h-1z"/>
<path fill="#482173" d="M9 627.7h1V632.0h-1zM10 627.7h1V632.0h-1zM37 576.9h1V578.2h-1zM50 592.3h1V595.3h-1z"/>
<path fill="#3b528b" d="M9 632.0h1V636.8h-1zM11 632.0h1V636.8h-1zM24 583.0h1V585.0h-1zM25 604.7h1V609.5h-1zM38 576.9h1V578.2h-1zM45 618.7h1V623.2h-1zM46 581.2h1V583.0h-1zM46 627.7h1V632.0h-1zM50 632.0h1V636.8h-1zM54 627.7h1V632.0h-1zM56 592.3h1V595.3h-1zM59 627.7h1V632.0h-1zM59 653.2h1V659.6h-1zM62 636.8h1V642.0h-1zM66 632.0h1V636.8h-1zM66 642.0h1V647.5h-1z"/>
<path fill="#2cb17e" d="M10 688.0h1V696.3h-1zM14 680.3h1V688.0h-1zM16 696.3h1V704.5h-1zM18 688.0h1V696.3h-1zM25 688.0h1V696.3h-1zM28 688.0h1V696.3h-1zM34 680.3h1V688.0h-1zM39 680.3h1V688.0h-1zM39 696.3h1V704.5h-1zM43 696.3h1V704.5h-1zM52 688.0h1V696.3h-1zM54 696.3h1V704.5h-1zM56 578.2h1V579.7h-1zM56 673.3h1V680.3h-1zM59 696.3h1V704.5h-1zM60 680.3h1V696.3h-1zM61 578.2h1V579.7h-1zM63 680.3h1V688.0h-1zM66 696.3h1V704.5h-1z"/>
<path fill="#450457" d="M11 583.0h1V587.2h-1z"/>
<path fill="#443a83" d="M11 627.7h1V632.0h-1zM25 600.0h1V604.7h-1zM28 623.2h1V627.7h-1zM37 578.2h1V585.0h-1zM45 587.2h1V592.3h-1zM46 585.0h1V589.5h-1zM46 609.5h1V614.2h-1zM49 581.2h1V583.0h-1zM49 604.7h1V609.5h-1zM50 614.2h1V627.7h-1z"/>
<path fill="#7ad151" d="M14 713.3h1V722.6h-1zM19 722.6h1V731.7h-1zM27 731.7h1V741.8h-1zM37 722.6h1V731.7h-1zM40 731.7h1V741.8h-1zM42 731.7h1V741.8h-1zM47 731.7h1V741.8h-1zM52 731.7h1V741.8h-1zM55 731.7h1V741.8h-1zM56 722.6h1V731.7h-1z"/>
<path fill="#81d34d" d="M14 722.6h1V731.7h-1zM33 713.3h1V722.6h-1zM39 722.6h1V731.7h-1zM41 722.6h1V731.7h-1zM51 731.7h1V741.8h-1zM52 722.6h1V731.7h-1zM57 731.7h1V741.8h-1zM60 731.7h1V741.8h-1z"/>
<path fill="#31678e" d="M16 585.0h1V587.2h-1zM16 642.0h1V647.5h-1zM25 576.9h1V578.2h-1zM26 609.5h1V614.2h-1zM26 627.7h1V632.0h-1zM33 609.5h1V623.2h-1zM35 618.7h1V623.2h-1zM38 600.0h1V604.7h-1zM38 642.0h1V647.5h-1zM54 600.0h1V604.7h-1zM58 627.7h1V632.0h-1zM58 647.5h1V653.2h-1zM59 583.0h1V587.2h-1zM62 576.9h1V578.2h-1zM65 583.0h1V585.0h-1zM66 595.3h1V600.0h-1zM66 647.5h1V653.2h-1z"/>
<path fill="#3c4f8a" d="M16 595.3h1V600.0h-1zM24 581.2h1V583.0h-1zM24 589.5h1V592.3h-1zM24 609.5h1V614.2h-1zM41 585.0h1V587.2h-1zM41 600.0h1V609.5h-1zM41 618.7h1V623.2h-1zM49 627.7h1V632.0h-1zM54 581.2h1V583.0h-1zM58 587.2h1V589.5h-1zM66 636.8h1V642.0h-1z"/>
<path fill="#bddf26" d="M17 731.7h1V741.8h-1zM26 741.8h1V752.5h-1zM51 741.8h1V752.5h-1zM58 752.5h1V763.0h-1zM64 741.8h1V752.5h-1zM70 653.2h1V659.6h-1zM72 576.9h1.285V579.7h-1.285z"/>
<path fill="#404688" d="M24 592.3h1V595.3h-1zM27 595.3h1V600.0h-1zM28 636.8h1V642.0h-1zM41 583.0h1V585.0h-1zM46 604.7h1V609.5h-1zM49 609.5h1V614.2h-1zM50 627.7h1V632.0h-1zM58 581.2h1V585.0h-1z"/>
<path fill="#463480" d="M24 595.3h1V600.0h-1zM37 589.5h1V592.3h-1zM45 604.7h1V609.5h-1zM50 576.9h1V578.2h-1z"/>
<path fill="#424086" d="M24 600.0h1V604.7h-1zM45 595.3h1V600.0h-1zM46 583.0h1V585.0h-1zM46 623.2h1V627.7h-1zM50 578.2h1V581.2h-1z"/>
<path fill="#3e4989" d="M24 604.7h1V609.5h-1zM25 595.3h1V600.0h-1zM37 587.2h1V589.5h-1zM45 578.2h1V579.7h-1zM45 581.2h1V583.0h-1zM45 592.3h1V595.3h-1zM54 632.0h1V636.8h-1zM58 579.7h1V581.2h-1z"/>
<path fill="#75d054" d="M24 722.6h1V731.7h-1zM25 722.6h1V731.7h-1zM26 722.6h1V731.7h-1zM38 731.7h1V741.8h-1zM39 713.3h1V722.6h-1zM40 722.6h1V731.7h-1zM43 722.6h1V731.7h-1zM44 731.7h1V741.8h-1zM53 722.6h1V731.7h-1zM54 731.7h1V741.8h-1zM57 722.6h1V731.7h-1zM63 731.7h1V741.8h-1z"/>
<path fill="#3e4c8a" d="M25 589.5h1V595.3h-1zM27 609.5h1V614.2h-1zM28 604.7h1V609.5h-1zM49 618.7h1V623.2h-1zM59 632.0h1V642.0h-1zM66 627.7h1V632.0h-1z"/>
<path fill="#433e85" d="M27 600.0h1V604.7h-1zM28 618.7h1V623.2h-1zM41 614.2h1V618.7h-1zM42 623.2h1V627.7h-1zM45 600.0h1V604.7h-1zM45 609.5h1V618.7h-1zM46 595.3h1V600.0h-1zM46 614.2h1V618.7h-1z"/>
<path fill="#c2df23" d="M34 731.7h1V741.8h-1zM37 741.8h1V752.5h-1zM53 752.5h1V763.0h-1zM66 713.3h1V722.6h-1zM71 578.2h1V579.7h-1z"/>
<path fill="#482475" d="M37 592.3h1V595.3h-1zM37 600.0h1V604.7h-1zM42 595.3h1V604.7h-1zM50 583.0h1V585.0h-1zM50 595.3h1V600.0h-1z"/>
<path fill="#482878" d="M37 595.3h1V600.0h-1zM42 604.7h1V609.5h-1zM42 614.2h1V618.7h-1zM49 578.2h1V581.2h-1zM49 587.2h1V589.5h-1zM49 595.3h1V600.0h-1z"/>
<path fill="#46307e" d="M37 609.5h1V614.2h-1zM49 585.0h1V587.2h-1zM49 600.0h1V604.7h-1zM50 600.0h1V609.5h-1z"/>
<path fill="#481d6f" d="M42 585.0h1V587.2h-1zM42 589.5h1V592.3h-1zM42 609.5h1V614.2h-1zM49 589.5h1V595.3h-1z"/>
<path fill="#472e7c" d="M42 618.7h1V623.2h-1zM46 589.5h1V592.3h-1zM50 585.0h1V587.2h-1z"/>
<path fill="#453781" d="M45 585.0h1V587.2h-1zM46 592.3h1V595.3h-1zM49 583.0h1V585.0h-1zM50 581.2h1V583.0h-1zM50 609.5h1V614.2h-1z"/>
<path fill="#cae11f" d="M68 576.9h1V578.2h-1zM70 576.9h1V578.2h-1z"/>
<path fill="#d2e21b" d="M70 578.2h1V579.7h-1z"/>
<path fill="#d8e219" d="M71 576.9h1V578.2h-1z"/>
</g>
<g stroke="#222" stroke-width="0.5"><circle cx="477.0" cy="27.0" r="1.8" fill="#2848ac"/><circle cx="477.0" cy="31.3" r="1.8" fill="#2878c0"/><circle cx="477.0" cy="35.6" r="1.8" fill="#284cac"/><circle cx="477.0" cy="39.9" r="1.8" fill="#284cac"/><circle cx="477.0" cy="44.2" r="1.8" fill="#2874c0"/><circle cx="477.0" cy="48.5" r="1.8" fill="#488cc0"/><circle cx="477.0" cy="52.8" r="1.8" fill="#3480c0"/><circle cx="477.0" cy="57.1" r="1.8" fill="#2850ac"/><circle cx="477.0" cy="61.4" r="1.8" fill="#2468bc"/><circle cx="477.0" cy="65.7" r="1.8" fill="#3480c0"/><circle cx="477.0" cy="70.0" r="1.8" fill="#5494c0"/><circle cx="477.0" cy="74.3" r="1.8" fill="#3884c0"/><circle cx="477.0" cy="78.6" r="1.8" fill="#307cc0"/><circle cx="477.0" cy="82.9" r="1.8" fill="#3480c0"/><circle cx="477.0" cy="87.2" r="1.8" fill="#448cc0"/><circle cx="477.0" cy="91.5" r="1.8" fill="#3480c0"/><circle cx="477.0" cy="95.8" r="1.8" fill="#5094c0"/><circle cx="477.0" cy="100.1" r="1.8" fill="#609cc4"/><circle cx="477.0" cy="104.4" r="1.8" fill="#acc4d0"/><circle cx="477.0" cy="108.7" r="1.8" fill="#80b0c4"/><circle cx="477.0" cy="113.0" r="1.8" fill="#c0d0d4"/><circle cx="477.0" cy="117.3" r="1.8" fill="#80b0c4"/><circle cx="477.0" cy="121.6" r="1.8" fill="#d0d8d8"/><circle cx="477.0" cy="125.9" r="1.8" fill="#ccd4d8"/><circle cx="477.0" cy="130.2" r="1.8" fill="#ccd4d8"/><circle cx="477.0" cy="134.5" r="1.8" fill="#e8d4d0"/><circle cx="477.0" cy="138.8" r="1.8" fill="#e8c4b8"/><circle cx="477.0" cy="143.1" r="1.8" fill="#e8d4cc"/><circle cx="477.0" cy="147.4" r="1.8" fill="#e0a088"/><circle cx="477.0" cy="151.7" r="1.8" fill="#e09c84"/><circle cx="477.0" cy="156.0" r="1.8" fill="#e09c84"/><circle cx="477.0" cy="160.3" r="1.8" fill="#e0a48c"/><circle cx="477.0" cy="164.6" r="1.8" fill="#e8e4e4"/><circle cx="477.0" cy="168.9" r="1.8" fill="#dce0e0"/><circle cx="477.0" cy="173.2" r="1.8" fill="#c8d4d8"/><circle cx="477.0" cy="177.5" r="1.8" fill="#e4e4e0"/><circle cx="477.0" cy="181.8" r="1.8" fill="#d8dcdc"/><circle cx="483.6" cy="32.4" r="1.8" fill="#2850ac"/><circle cx="483.9" cy="36.2" r="1.8" fill="#4c90c0"/><circle cx="483.4" cy="40.0" r="1.8" fill="#2844a8"/><circle cx="482.8" cy="43.8" r="1.8" fill="#243094"/><circle cx="483.8" cy="47.6" r="1.8" fill="#2878c0"/><circle cx="483.1" cy="57.1" r="1.8" fill="#284cac"/><circle cx="482.7" cy="69.4" r="1.8" fill="#448cc0"/><circle cx="483.6" cy="73.2" r="1.8" fill="#6ca4c4"/><circle cx="483.4" cy="77.0" r="1.8" fill="#3884c0"/><circle cx="483.4" cy="89.4" r="1.8" fill="#2854b0"/><circle cx="482.9" cy="96.0" r="1.8" fill="#4088c0"/><circle cx="482.8" cy="142.0" r="1.8" fill="#e8c4b4"/><circle cx="488.8" cy="28.6" r="1.8" fill="#1c205c"/><circle cx="488.7" cy="36.2" r="1.8" fill="#2840a8"/><circle cx="488.7" cy="40.0" r="1.8" fill="#2858b0"/><circle cx="487.7" cy="43.8" r="1.8" fill="#307cc0"/><circle cx="488.6" cy="47.6" r="1.8" fill="#28389c"/><circle cx="487.9" cy="51.4" r="1.8" fill="#2070c0"/><circle cx="487.7" cy="57.1" r="1.8" fill="#5898c0"/><circle cx="488.7" cy="63.7" r="1.8" fill="#7cacc4"/><circle cx="487.9" cy="69.4" r="1.8" fill="#3480c0"/><circle cx="488.5" cy="77.0" r="1.8" fill="#609cc4"/><circle cx="488.4" cy="170.0" r="1.8" fill="#dcdcdc"/><circle cx="488.3" cy="190.0" r="1.8" fill="#98bccc"/><circle cx="492.8" cy="28.6" r="1.8" fill="#1c205c"/><circle cx="493.7" cy="32.4" r="1.8" fill="#284cac"/><circle cx="492.6" cy="36.2" r="1.8" fill="#284cac"/><circle cx="493.0" cy="40.0" r="1.8" fill="#4890c0"/><circle cx="492.7" cy="43.8" r="1.8" fill="#5898c0"/><circle cx="492.9" cy="47.6" r="1.8" fill="#2848ac"/><circle cx="492.7" cy="51.4" r="1.8" fill="#2c78c0"/><circle cx="493.4" cy="57.1" r="1.8" fill="#2474c0"/><circle cx="493.1" cy="82.7" r="1.8" fill="#448cc0"/><circle cx="493.4" cy="89.4" r="1.8" fill="#7cacc4"/><circle cx="493.3" cy="96.0" r="1.8" fill="#c0d0d4"/><circle cx="493.0" cy="110.0" r="1.8" fill="#70a8c4"/><circle cx="493.2" cy="150.0" r="1.8" fill="#d48068"/><circle cx="498.0" cy="28.6" r="1.8" fill="#243498"/><circle cx="497.8" cy="40.0" r="1.8" fill="#2850b0"/><circle cx="497.5" cy="47.6" r="1.8" fill="#5c9cc0"/><circle cx="497.9" cy="51.4" r="1.8" fill="#488cc0"/><circle cx="497.4" cy="57.1" r="1.8" fill="#2850b0"/><circle cx="497.9" cy="63.7" r="1.8" fill="#2854b0"/><circle cx="497.7" cy="69.4" r="1.8" fill="#6ca4c4"/><circle cx="498.2" cy="73.2" r="1.8" fill="#5494c0"/><circle cx="497.7" cy="89.4" r="1.8" fill="#3c84c0"/><circle cx="498.0" cy="110.0" r="1.8" fill="#ccd4d8"/><circle cx="502.6" cy="28.6" r="1.8" fill="#2848ac"/><circle cx="503.3" cy="32.4" r="1.8" fill="#28389c"/><circle cx="502.7" cy="43.8" r="1.8" fill="#284cac"/><circle cx="503.0" cy="47.6" r="1.8" fill="#3c88c0"/><circle cx="502.7" cy="51.4" r="1.8" fill="#68a0c4"/><circle cx="502.4" cy="57.1" r="1.8" fill="#2468bc"/><circle cx="502.7" cy="73.2" r="1.8" fill="#2474c0"/><circle cx="503.4" cy="77.0" r="1.8" fill="#2474c0"/><circle cx="502.6" cy="82.7" r="1.8" fill="#64a0c4"/><circle cx="503.0" cy="96.0" r="1.8" fill="#6ca4c4"/><circle cx="502.8" cy="160.0" r="1.8" fill="#d4dcdc"/><circle cx="503.3" cy="180.0" r="1.8" fill="#e8e4e4"/><circle cx="507.2" cy="28.6" r="1.8" fill="#243494"/><circle cx="508.0" cy="32.4" r="1.8" fill="#2844a8"/><circle cx="507.2" cy="36.2" r="1.8" fill="#2848ac"/><circle cx="507.7" cy="40.0" r="1.8" fill="#2850b0"/><circle cx="507.4" cy="47.6" r="1.8" fill="#307cc0"/><circle cx="507.3" cy="51.4" r="1.8" fill="#283ca0"/><circle cx="507.7" cy="57.1" r="1.8" fill="#285cb4"/><circle cx="507.9" cy="82.7" r="1.8" fill="#5494c0"/><circle cx="508.3" cy="89.4" r="1.8" fill="#74a8c4"/><circle cx="507.3" cy="96.0" r="1.8" fill="#3c84c0"/><circle cx="512.2" cy="28.6" r="1.8" fill="#1c2054"/><circle cx="512.4" cy="32.4" r="1.8" fill="#2840a4"/><circle cx="512.1" cy="36.2" r="1.8" fill="#243498"/><circle cx="512.3" cy="40.0" r="1.8" fill="#2854b0"/><circle cx="513.2" cy="43.8" r="1.8" fill="#2844a8"/><circle cx="513.0" cy="47.6" r="1.8" fill="#2850b0"/><circle cx="512.2" cy="51.4" r="1.8" fill="#3880c0"/><circle cx="512.5" cy="57.1" r="1.8" fill="#2070c0"/><circle cx="512.9" cy="63.7" r="1.8" fill="#609cc4"/><circle cx="512.3" cy="69.4" r="1.8" fill="#88b4c8"/><circle cx="513.0" cy="96.0" r="1.8" fill="#ccd4d8"/><circle cx="512.5" cy="150.0" r="1.8" fill="#e8dcd8"/><circle cx="518.1" cy="28.6" r="1.8" fill="#181c44"/><circle cx="518.2" cy="32.4" r="1.8" fill="#2838a0"/><circle cx="517.9" cy="36.2" r="1.8" fill="#2850b0"/><circle cx="517.1" cy="40.0" r="1.8" fill="#242c88"/><circle cx="517.2" cy="43.8" r="1.8" fill="#243498"/><circle cx="517.2" cy="47.6" r="1.8" fill="#284cac"/><circle cx="517.5" cy="51.4" r="1.8" fill="#2878c0"/><circle cx="517.3" cy="57.1" r="1.8" fill="#3480c0"/><circle cx="518.1" cy="63.7" r="1.8" fill="#2840a4"/><circle cx="517.1" cy="69.4" r="1.8" fill="#4088c0"/><circle cx="517.5" cy="73.2" r="1.8" fill="#2c78c0"/><circle cx="517.5" cy="89.4" r="1.8" fill="#488cc0"/><circle cx="517.6" cy="96.0" r="1.8" fill="#94b8c8"/><circle cx="518.0" cy="110.0" r="1.8" fill="#e4e0e0"/><circle cx="517.8" cy="180.0" r="1.8" fill="#a8c4cc"/><circle cx="522.2" cy="28.6" r="1.8" fill="#202c84"/><circle cx="522.9" cy="32.4" r="1.8" fill="#283ca4"/><circle cx="522.9" cy="36.2" r="1.8" fill="#2854b0"/><circle cx="522.5" cy="40.0" r="1.8" fill="#2840a4"/><circle cx="522.7" cy="43.8" r="1.8" fill="#3c84c0"/><circle cx="522.3" cy="51.4" r="1.8" fill="#307cc0"/><circle cx="523.0" cy="57.1" r="1.8" fill="#8cb4c8"/><circle cx="522.9" cy="63.7" r="1.8" fill="#5494c0"/><circle cx="522.7" cy="69.4" r="1.8" fill="#448cc0"/><circle cx="522.9" cy="73.2" r="1.8" fill="#5494c0"/><circle cx="522.2" cy="77.0" r="1.8" fill="#bcccd4"/><circle cx="522.5" cy="82.7" r="1.8" fill="#6ca4c4"/><circle cx="522.7" cy="96.0" r="1.8" fill="#78acc4"/><circle cx="522.1" cy="110.0" r="1.8" fill="#ece4e4"/><circle cx="523.0" cy="126.0" r="1.8" fill="#e8c4b8"/><circle cx="522.8" cy="142.0" r="1.8" fill="#e8d8d4"/><circle cx="527.2" cy="28.6" r="1.8" fill="#24308c"/><circle cx="527.6" cy="32.4" r="1.8" fill="#243494"/><circle cx="527.7" cy="36.2" r="1.8" fill="#2874c0"/><circle cx="527.6" cy="40.0" r="1.8" fill="#2848ac"/><circle cx="527.5" cy="43.8" r="1.8" fill="#2474c0"/><circle cx="527.4" cy="47.6" r="1.8" fill="#5094c0"/><circle cx="527.2" cy="51.4" r="1.8" fill="#74a8c4"/><circle cx="526.9" cy="57.1" r="1.8" fill="#448cc0"/><circle cx="526.9" cy="73.2" r="1.8" fill="#74a8c4"/><circle cx="526.9" cy="77.0" r="1.8" fill="#2c78c0"/><circle cx="527.6" cy="82.7" r="1.8" fill="#b4c8d0"/><circle cx="526.9" cy="89.4" r="1.8" fill="#94b8c8"/><circle cx="527.0" cy="96.0" r="1.8" fill="#dce0dc"/><circle cx="527.2" cy="134.0" r="1.8" fill="#e8dcd4"/><circle cx="527.4" cy="160.0" r="1.8" fill="#d0745c"/><circle cx="532.8" cy="28.6" r="1.8" fill="#448cc0"/><circle cx="532.6" cy="32.4" r="1.8" fill="#3880c0"/><circle cx="531.9" cy="36.2" r="1.8" fill="#2844a8"/><circle cx="532.2" cy="40.0" r="1.8" fill="#4c90c0"/><circle cx="532.0" cy="47.6" r="1.8" fill="#4c90c0"/><circle cx="532.6" cy="51.4" r="1.8" fill="#488cc0"/><circle cx="532.1" cy="57.1" r="1.8" fill="#70a4c4"/><circle cx="532.1" cy="69.4" r="1.8" fill="#80b0c4"/><circle cx="532.0" cy="190.0" r="1.8" fill="#e8c4b8"/><circle cx="536.9" cy="28.6" r="1.8" fill="#243498"/><circle cx="537.1" cy="32.4" r="1.8" fill="#284cac"/><circle cx="536.9" cy="36.2" r="1.8" fill="#283ca4"/><circle cx="537.6" cy="40.0" r="1.8" fill="#284cac"/><circle cx="537.7" cy="43.8" r="1.8" fill="#2848ac"/><circle cx="537.4" cy="51.4" r="1.8" fill="#3c84c0"/><circle cx="537.8" cy="69.4" r="1.8" fill="#2468bc"/><circle cx="537.1" cy="73.2" r="1.8" fill="#7cacc4"/><circle cx="536.9" cy="89.4" r="1.8" fill="#90b8c8"/><circle cx="542.0" cy="28.6" r="1.8" fill="#283ca0"/><circle cx="542.0" cy="32.4" r="1.8" fill="#2844a8"/><circle cx="541.5" cy="36.2" r="1.8" fill="#3c84c0"/><circle cx="541.6" cy="40.0" r="1.8" fill="#3480c0"/><circle cx="541.6" cy="43.8" r="1.8" fill="#284cac"/><circle cx="542.4" cy="47.6" r="1.8" fill="#307cc0"/><circle cx="542.0" cy="51.4" r="1.8" fill="#3480c0"/><circle cx="542.3" cy="57.1" r="1.8" fill="#307cc0"/><circle cx="542.3" cy="73.2" r="1.8" fill="#4c90c0"/><circle cx="541.9" cy="82.7" r="1.8" fill="#d0d8d8"/><circle cx="541.9" cy="134.0" r="1.8" fill="#e09880"/><circle cx="542.5" cy="150.0" r="1.8" fill="#dc8c70"/><circle cx="546.6" cy="32.4" r="1.8" fill="#2854b0"/><circle cx="546.7" cy="40.0" r="1.8" fill="#284cac"/><circle cx="546.9" cy="43.8" r="1.8" fill="#4088c0"/><circle cx="547.3" cy="47.6" r="1.8" fill="#2840a4"/><circle cx="546.8" cy="51.4" r="1.8" fill="#307cc0"/><circle cx="547.6" cy="69.4" r="1.8" fill="#90b8c8"/><circle cx="547.1" cy="96.0" r="1.8" fill="#e8e0dc"/><circle cx="547.3" cy="110.0" r="1.8" fill="#c8d4d8"/><circle cx="547.4" cy="150.0" r="1.8" fill="#e8c4b4"/><circle cx="552.4" cy="28.6" r="1.8" fill="#284cac"/><circle cx="552.0" cy="36.2" r="1.8" fill="#2844a8"/><circle cx="551.8" cy="40.0" r="1.8" fill="#5494c0"/><circle cx="551.5" cy="43.8" r="1.8" fill="#2070c0"/><circle cx="551.4" cy="47.6" r="1.8" fill="#80b0c4"/><circle cx="551.8" cy="57.1" r="1.8" fill="#3c84c0"/><circle cx="551.9" cy="73.2" r="1.8" fill="#98bccc"/><circle cx="551.4" cy="77.0" r="1.8" fill="#88b4c8"/><circle cx="552.3" cy="89.4" r="1.8" fill="#ccd4d8"/><circle cx="557.4" cy="28.6" r="1.8" fill="#202c80"/><circle cx="557.1" cy="32.4" r="1.8" fill="#284cac"/><circle cx="557.1" cy="36.2" r="1.8" fill="#2840a4"/><circle cx="556.5" cy="40.0" r="1.8" fill="#488cc0"/><circle cx="557.0" cy="47.6" r="1.8" fill="#5494c0"/><circle cx="556.8" cy="57.1" r="1.8" fill="#609cc4"/><circle cx="556.7" cy="89.4" r="1.8" fill="#68a0c4"/><circle cx="556.6" cy="126.0" r="1.8" fill="#dc9078"/><circle cx="561.8" cy="28.6" r="1.8" fill="#2474c0"/><circle cx="561.5" cy="32.4" r="1.8" fill="#2850b0"/><circle cx="561.6" cy="36.2" r="1.8" fill="#64a0c4"/><circle cx="561.3" cy="43.8" r="1.8" fill="#4c90c0"/><circle cx="562.1" cy="47.6" r="1.8" fill="#488cc0"/><circle cx="561.8" cy="51.4" r="1.8" fill="#94b8c8"/><circle cx="561.9" cy="57.1" r="1.8" fill="#c0d0d4"/><circle cx="562.1" cy="69.4" r="1.8" fill="#b8ccd0"/><circle cx="561.6" cy="77.0" r="1.8" fill="#acc4d0"/><circle cx="561.3" cy="82.7" r="1.8" fill="#6ca4c4"/><circle cx="561.8" cy="89.4" r="1.8" fill="#90b8c8"/><circle cx="562.3" cy="96.0" r="1.8" fill="#a0c0cc"/><circle cx="561.7" cy="118.0" r="1.8" fill="#e8c8bc"/><circle cx="561.6" cy="134.0" r="1.8" fill="#dc987c"/><circle cx="562.0" cy="180.0" r="1.8" fill="#e8e0dc"/><circle cx="485.7" cy="100.0" r="1.8" fill="#307cc0"/><circle cx="486.0" cy="104.2" r="1.8" fill="#2474c0"/><circle cx="486.2" cy="108.4" r="1.8" fill="#3c84c0"/><circle cx="486.2" cy="129.4" r="1.8" fill="#acc4d0"/><circle cx="486.0" cy="137.8" r="1.8" fill="#d8dcdc"/><circle cx="486.4" cy="142.0" r="1.8" fill="#9cc0cc"/><circle cx="485.8" cy="154.6" r="1.8" fill="#dcdcdc"/><circle cx="485.8" cy="167.2" r="1.8" fill="#d4dcdc"/><circle cx="485.9" cy="171.4" r="1.8" fill="#94b8c8"/><circle cx="485.7" cy="179.8" r="1.8" fill="#a8c4cc"/><circle cx="490.2" cy="108.4" r="1.8" fill="#284cac"/><circle cx="490.8" cy="112.6" r="1.8" fill="#5898c0"/><circle cx="490.7" cy="121.0" r="1.8" fill="#70a8c4"/><circle cx="491.1" cy="125.2" r="1.8" fill="#4088c0"/><circle cx="490.9" cy="137.8" r="1.8" fill="#ccd4d8"/><circle cx="491.1" cy="142.0" r="1.8" fill="#e4e4e0"/><circle cx="490.2" cy="146.2" r="1.8" fill="#ccd4d8"/><circle cx="490.1" cy="150.4" r="1.8" fill="#dce0dc"/><circle cx="490.6" cy="154.6" r="1.8" fill="#e4e4e0"/><circle cx="490.8" cy="158.8" r="1.8" fill="#7cacc4"/><circle cx="490.0" cy="163.0" r="1.8" fill="#5898c0"/><circle cx="491.1" cy="171.4" r="1.8" fill="#e4e4e0"/><circle cx="490.5" cy="179.8" r="1.8" fill="#b8ccd0"/><circle cx="495.0" cy="100.0" r="1.8" fill="#3c84c0"/><circle cx="495.6" cy="104.2" r="1.8" fill="#2850b0"/><circle cx="495.2" cy="108.4" r="1.8" fill="#307cc0"/><circle cx="494.7" cy="121.0" r="1.8" fill="#4c90c0"/><circle cx="495.3" cy="129.4" r="1.8" fill="#68a0c4"/><circle cx="495.1" cy="133.6" r="1.8" fill="#ccd8d8"/><circle cx="495.4" cy="137.8" r="1.8" fill="#d4d8d8"/><circle cx="495.0" cy="142.0" r="1.8" fill="#dce0e0"/><circle cx="495.2" cy="146.2" r="1.8" fill="#78acc4"/><circle cx="495.0" cy="158.8" r="1.8" fill="#c8d4d8"/><circle cx="495.2" cy="175.6" r="1.8" fill="#bcccd4"/><circle cx="494.6" cy="179.8" r="1.8" fill="#98bccc"/><circle cx="499.5" cy="100.0" r="1.8" fill="#3880c0"/><circle cx="499.2" cy="104.2" r="1.8" fill="#448cc0"/><circle cx="498.9" cy="108.4" r="1.8" fill="#3880c0"/><circle cx="499.7" cy="112.6" r="1.8" fill="#5094c0"/><circle cx="499.1" cy="116.8" r="1.8" fill="#94b8c8"/><circle cx="499.9" cy="129.4" r="1.8" fill="#d8dcdc"/><circle cx="500.0" cy="133.6" r="1.8" fill="#d8dcdc"/><circle cx="499.4" cy="137.8" r="1.8" fill="#d8dcdc"/><circle cx="499.9" cy="142.0" r="1.8" fill="#ece4e0"/><circle cx="499.6" cy="146.2" r="1.8" fill="#dcdcdc"/><circle cx="499.7" cy="150.4" r="1.8" fill="#c0d0d4"/><circle cx="499.4" cy="154.6" r="1.8" fill="#bcccd0"/><circle cx="498.9" cy="158.8" r="1.8" fill="#609cc4"/><circle cx="499.7" cy="175.6" r="1.8" fill="#a8c4cc"/><circle cx="499.7" cy="188.2" r="1.8" fill="#d0d8d8"/><circle cx="567.2" cy="28.6" r="1.8" fill="#6ca4c4"/><circle cx="567.3" cy="32.4" r="1.8" fill="#7cacc4"/><circle cx="566.5" cy="40.0" r="1.8" fill="#c4d4d4"/><circle cx="566.5" cy="43.8" r="1.8" fill="#98bccc"/><circle cx="567.0" cy="47.6" r="1.8" fill="#d0d8d8"/><circle cx="566.4" cy="57.1" r="1.8" fill="#d0d8d8"/><circle cx="567.0" cy="69.4" r="1.8" fill="#a4c0cc"/><circle cx="567.4" cy="73.2" r="1.8" fill="#ece4e4"/><circle cx="566.9" cy="89.4" r="1.8" fill="#e8d8d0"/><circle cx="573.1" cy="36.2" r="1.8" fill="#a4c0cc"/><circle cx="573.1" cy="40.0" r="1.8" fill="#c8d4d8"/><circle cx="572.9" cy="43.8" r="1.8" fill="#c4d0d4"/><circle cx="572.8" cy="47.6" r="1.8" fill="#80b0c4"/><circle cx="572.7" cy="63.7" r="1.8" fill="#ece4e0"/><circle cx="572.3" cy="69.4" r="1.8" fill="#e8d4cc"/><circle cx="572.8" cy="73.2" r="1.8" fill="#e8d0c8"/><circle cx="572.1" cy="77.0" r="1.8" fill="#e4e0e0"/><circle cx="572.6" cy="82.7" r="1.8" fill="#ccd4d8"/><circle cx="572.6" cy="89.4" r="1.8" fill="#e8ccc0"/><circle cx="573.0" cy="96.0" r="1.8" fill="#e8c8bc"/><circle cx="572.6" cy="103.0" r="1.8" fill="#cc6048"/><circle cx="578.5" cy="32.4" r="1.8" fill="#b8ccd0"/><circle cx="578.4" cy="43.8" r="1.8" fill="#80b0c4"/><circle cx="578.3" cy="47.6" r="1.8" fill="#e0e0e0"/><circle cx="577.8" cy="69.4" r="1.8" fill="#dce0e0"/><circle cx="578.3" cy="77.0" r="1.8" fill="#e8ccc4"/><circle cx="578.0" cy="82.7" r="1.8" fill="#e8dcd8"/><circle cx="578.7" cy="96.0" r="1.8" fill="#e8d4cc"/><circle cx="583.4" cy="28.6" r="1.8" fill="#5094c0"/><circle cx="584.2" cy="32.4" r="1.8" fill="#488cc0"/><circle cx="583.4" cy="36.2" r="1.8" fill="#98bccc"/><circle cx="584.2" cy="40.0" r="1.8" fill="#80b0c4"/><circle cx="584.3" cy="51.4" r="1.8" fill="#d4d8dc"/><circle cx="584.3" cy="57.1" r="1.8" fill="#e4e0e0"/><circle cx="583.8" cy="77.0" r="1.8" fill="#e8ccc4"/><circle cx="584.2" cy="82.7" r="1.8" fill="#e8c4b8"/><circle cx="584.4" cy="89.4" r="1.8" fill="#e8d8d0"/><circle cx="583.8" cy="96.0" r="1.8" fill="#d88c70"/><circle cx="583.5" cy="103.0" r="1.8" fill="#c85c44"/><circle cx="589.3" cy="28.6" r="1.8" fill="#6ca4c4"/><circle cx="589.3" cy="32.4" r="1.8" fill="#84b0c4"/><circle cx="589.7" cy="36.2" r="1.8" fill="#70a8c4"/><circle cx="589.4" cy="40.0" r="1.8" fill="#84b0c4"/><circle cx="589.5" cy="43.8" r="1.8" fill="#a4c0cc"/><circle cx="589.5" cy="51.4" r="1.8" fill="#a8c4cc"/><circle cx="589.2" cy="57.1" r="1.8" fill="#b4c8d0"/><circle cx="589.8" cy="69.4" r="1.8" fill="#e8ccc0"/><circle cx="590.1" cy="77.0" r="1.8" fill="#e0e0e0"/><circle cx="589.4" cy="82.7" r="1.8" fill="#dce0dc"/><circle cx="589.1" cy="103.0" r="1.8" fill="#c85c44"/><circle cx="595.5" cy="28.6" r="1.8" fill="#5c98c0"/><circle cx="595.9" cy="32.4" r="1.8" fill="#6ca4c4"/><circle cx="594.8" cy="36.2" r="1.8" fill="#6ca4c4"/><circle cx="595.4" cy="43.8" r="1.8" fill="#a0c0cc"/><circle cx="595.0" cy="51.4" r="1.8" fill="#c4d0d4"/><circle cx="595.1" cy="57.1" r="1.8" fill="#94b8c8"/><circle cx="594.7" cy="89.4" r="1.8" fill="#d07058"/><circle cx="595.3" cy="96.0" r="1.8" fill="#d88468"/><circle cx="566.4" cy="28.0" r="1.8" fill="#8cb4c8"/><circle cx="568.4" cy="36.0" r="1.8" fill="#dcdcdc"/><circle cx="567.8" cy="40.0" r="1.8" fill="#5094c0"/><circle cx="566.2" cy="44.0" r="1.8" fill="#7cacc4"/><circle cx="568.1" cy="57.0" r="1.8" fill="#98bcc8"/><circle cx="566.6" cy="64.0" r="1.8" fill="#d8dcdc"/><circle cx="568.4" cy="69.0" r="1.8" fill="#b0c8d0"/><circle cx="567.0" cy="73.0" r="1.8" fill="#d0d8d8"/><circle cx="566.1" cy="83.0" r="1.8" fill="#e8d8d0"/><circle cx="566.7" cy="98.0" r="1.8" fill="#e8d4cc"/><circle cx="567.4" cy="106.0" r="1.8" fill="#e0a48c"/><circle cx="568.3" cy="115.0" r="1.8" fill="#e8c4b8"/><circle cx="567.7" cy="122.0" r="1.8" fill="#e09880"/><circle cx="567.9" cy="138.0" r="1.8" fill="#e4c0b0"/><circle cx="566.3" cy="171.0" r="1.8" fill="#c85840"/><circle cx="566.2" cy="187.0" r="1.8" fill="#c04830"/><circle cx="566.6" cy="196.0" r="1.8" fill="#701024"/><circle cx="577.5" cy="28.0" r="1.8" fill="#4c90c0"/><circle cx="577.1" cy="36.0" r="1.8" fill="#e8e4e0"/><circle cx="578.2" cy="44.0" r="1.8" fill="#78acc4"/><circle cx="577.5" cy="48.0" r="1.8" fill="#80b0c4"/><circle cx="576.7" cy="52.0" r="1.8" fill="#a0c0cc"/><circle cx="577.8" cy="57.0" r="1.8" fill="#d4d8dc"/><circle cx="577.9" cy="64.0" r="1.8" fill="#94b8c8"/><circle cx="577.3" cy="69.0" r="1.8" fill="#e8d0c8"/><circle cx="578.0" cy="73.0" r="1.8" fill="#e8d8d0"/><circle cx="577.6" cy="77.0" r="1.8" fill="#e8d0c4"/><circle cx="577.4" cy="83.0" r="1.8" fill="#e8ccc0"/><circle cx="576.3" cy="98.0" r="1.8" fill="#e8ccc0"/><circle cx="578.4" cy="106.0" r="1.8" fill="#d47c64"/><circle cx="577.5" cy="122.0" r="1.8" fill="#dc947c"/><circle cx="576.3" cy="138.0" r="1.8" fill="#c45038"/><circle cx="576.7" cy="171.0" r="1.8" fill="#cc6c54"/><circle cx="578.3" cy="187.0" r="1.8" fill="#c04830"/><circle cx="578.2" cy="196.0" r="1.8" fill="#e4b8a8"/><circle cx="589.4" cy="44.0" r="1.8" fill="#6ca4c4"/><circle cx="588.8" cy="69.0" r="1.8" fill="#e8ccc4"/><circle cx="588.8" cy="73.0" r="1.8" fill="#e8d8d4"/><circle cx="590.2" cy="83.0" r="1.8" fill="#e8c4b4"/><circle cx="588.7" cy="98.0" r="1.8" fill="#e0a084"/><circle cx="588.2" cy="115.0" r="1.8" fill="#dc9074"/><circle cx="590.1" cy="138.0" r="1.8" fill="#400c18"/><circle cx="589.5" cy="155.0" r="1.8" fill="#dc9074"/><circle cx="589.9" cy="171.0" r="1.8" fill="#640c20"/><circle cx="601.2" cy="28.0" r="1.8" fill="#2c78c0"/><circle cx="602.4" cy="32.0" r="1.8" fill="#7cacc4"/><circle cx="601.5" cy="36.0" r="1.8" fill="#78acc4"/><circle cx="601.0" cy="44.0" r="1.8" fill="#80b0c4"/><circle cx="600.8" cy="48.0" r="1.8" fill="#d8dcdc"/><circle cx="600.6" cy="64.0" r="1.8" fill="#a4c0cc"/><circle cx="600.7" cy="69.0" r="1.8" fill="#e8ccc0"/><circle cx="600.5" cy="83.0" r="1.8" fill="#e8d4cc"/><circle cx="600.5" cy="89.0" r="1.8" fill="#d88468"/><circle cx="601.5" cy="98.0" r="1.8" fill="#cc6850"/><circle cx="602.3" cy="106.0" r="1.8" fill="#e8c4b4"/><circle cx="600.9" cy="115.0" r="1.8" fill="#e0e0e0"/><circle cx="600.5" cy="155.0" r="1.8" fill="#c85c44"/><circle cx="601.7" cy="187.0" r="1.8" fill="#e8d0c8"/><circle cx="602.2" cy="196.0" r="1.8" fill="#5c0c20"/><circle cx="612.5" cy="28.0" r="1.8" fill="#68a4c4"/><circle cx="614.1" cy="36.0" r="1.8" fill="#5898c0"/><circle cx="613.7" cy="40.0" r="1.8" fill="#c4d4d4"/><circle cx="614.5" cy="44.0" r="1.8" fill="#84b0c4"/><circle cx="612.3" cy="57.0" r="1.8" fill="#c0d0d4"/><circle cx="613.4" cy="64.0" r="1.8" fill="#dce0e0"/><circle cx="614.1" cy="73.0" r="1.8" fill="#dc9478"/><circle cx="612.4" cy="77.0" r="1.8" fill="#ece4e0"/><circle cx="612.5" cy="93.0" r="1.8" fill="#d47860"/><circle cx="612.5" cy="98.0" r="1.8" fill="#d4785c"/><circle cx="613.0" cy="106.0" r="1.8" fill="#dc9074"/><circle cx="613.6" cy="138.0" r="1.8" fill="#c85840"/><circle cx="613.3" cy="171.0" r="1.8" fill="#e8c4b8"/><circle cx="612.7" cy="187.0" r="1.8" fill="#4c0c1c"/><circle cx="613.8" cy="196.0" r="1.8" fill="#981c28"/><circle cx="625.7" cy="28.0" r="1.8" fill="#70a8c4"/><circle cx="624.4" cy="32.0" r="1.8" fill="#4c90c0"/><circle cx="626.1" cy="36.0" r="1.8" fill="#3c88c0"/><circle cx="625.2" cy="40.0" r="1.8" fill="#dcdcdc"/><circle cx="625.2" cy="57.0" r="1.8" fill="#e4e0e0"/><circle cx="624.9" cy="69.0" r="1.8" fill="#e8d0c8"/><circle cx="625.2" cy="73.0" r="1.8" fill="#a0c0cc"/><circle cx="625.2" cy="89.0" r="1.8" fill="#d07058"/><circle cx="625.5" cy="98.0" r="1.8" fill="#d07058"/><circle cx="626.0" cy="106.0" r="1.8" fill="#e09c84"/><circle cx="625.6" cy="115.0" r="1.8" fill="#e8c4b8"/><circle cx="626.2" cy="138.0" r="1.8" fill="#dc8c70"/><circle cx="624.3" cy="155.0" r="1.8" fill="#440c18"/><circle cx="625.5" cy="171.0" r="1.8" fill="#4c0c1c"/><circle cx="624.4" cy="204.0" r="1.8" fill="#ac2c28"/><circle cx="637.2" cy="32.0" r="1.8" fill="#488cc0"/><circle cx="636.9" cy="48.0" r="1.8" fill="#c8d4d8"/><circle cx="637.5" cy="64.0" r="1.8" fill="#e8dcd4"/><circle cx="638.5" cy="69.0" r="1.8" fill="#dce0dc"/><circle cx="638.1" cy="77.0" r="1.8" fill="#e8c4b8"/><circle cx="636.4" cy="89.0" r="1.8" fill="#dc947c"/><circle cx="636.5" cy="155.0" r="1.8" fill="#701024"/><circle cx="649.6" cy="28.0" r="1.8" fill="#88b4c8"/><circle cx="648.3" cy="32.0" r="1.8" fill="#78acc4"/><circle cx="649.4" cy="36.0" r="1.8" fill="#a4c0cc"/><circle cx="649.3" cy="40.0" r="1.8" fill="#bcccd4"/><circle cx="649.9" cy="48.0" r="1.8" fill="#a8c4cc"/><circle cx="648.3" cy="57.0" r="1.8" fill="#88b4c8"/><circle cx="648.9" cy="64.0" r="1.8" fill="#d8dcdc"/><circle cx="648.9" cy="69.0" r="1.8" fill="#e8c8bc"/><circle cx="650.0" cy="73.0" r="1.8" fill="#e0a088"/><circle cx="649.9" cy="77.0" r="1.8" fill="#e8d4cc"/><circle cx="649.7" cy="89.0" r="1.8" fill="#cc6850"/><circle cx="650.2" cy="98.0" r="1.8" fill="#d47c64"/><circle cx="648.7" cy="106.0" r="1.8" fill="#e8ccc4"/><circle cx="648.9" cy="115.0" r="1.8" fill="#e8ccc0"/><circle cx="649.4" cy="171.0" r="1.8" fill="#6c1024"/><circle cx="655.1" cy="48.0" r="1.8" fill="#bcccd4"/><circle cx="655.5" cy="52.0" r="1.8" fill="#a8c4cc"/><circle cx="654.9" cy="69.0" r="1.8" fill="#e8d0c8"/><circle cx="655.9" cy="73.0" r="1.8" fill="#e8c4b4"/><circle cx="655.5" cy="98.0" r="1.8" fill="#d47860"/><circle cx="656.3" cy="106.0" r="1.8" fill="#dc987c"/><circle cx="654.7" cy="115.0" r="1.8" fill="#e4b09c"/><circle cx="654.7" cy="122.0" r="1.8" fill="#d48064"/><circle cx="662.4" cy="28.0" r="1.8" fill="#64a0c4"/><circle cx="662.0" cy="32.0" r="1.8" fill="#2c7cc0"/><circle cx="660.8" cy="36.0" r="1.8" fill="#b8ccd0"/><circle cx="662.4" cy="44.0" r="1.8" fill="#ccd8d8"/><circle cx="660.8" cy="57.0" r="1.8" fill="#dce0e0"/><circle cx="662.9" cy="64.0" r="1.8" fill="#e8e4e4"/><circle cx="661.3" cy="69.0" r="1.8" fill="#e8d8d0"/><circle cx="660.9" cy="73.0" r="1.8" fill="#e0e0e0"/><circle cx="662.2" cy="77.0" r="1.8" fill="#e8d8d4"/><circle cx="661.7" cy="83.0" r="1.8" fill="#d48064"/><circle cx="661.9" cy="93.0" r="1.8" fill="#d88468"/><circle cx="661.7" cy="115.0" r="1.8" fill="#e09880"/><circle cx="662.8" cy="122.0" r="1.8" fill="#cc644c"/><circle cx="604.0" cy="191.8" r="1.8" fill="#500c1c"/><circle cx="644.0" cy="164.2" r="1.8" fill="#480c18"/><circle cx="644.0" cy="168.4" r="1.8" fill="#841428"/><circle cx="644.0" cy="181.0" r="1.8" fill="#5c0c20"/><circle cx="342.7" cy="29.0" r="1.8" fill="#e8d8d0"/><circle cx="343.1" cy="33.0" r="1.8" fill="#448cc0"/><circle cx="342.2" cy="57.0" r="1.8" fill="#e4e4e0"/><circle cx="343.4" cy="66.0" r="1.8" fill="#e4bca8"/><circle cx="342.1" cy="75.0" r="1.8" fill="#e8d0c8"/><circle cx="346.2" cy="29.0" r="1.8" fill="#e0e0e0"/><circle cx="347.4" cy="33.0" r="1.8" fill="#ccd4d8"/><circle cx="347.7" cy="47.0" r="1.8" fill="#d0d8d8"/><circle cx="347.0" cy="93.0" r="1.8" fill="#e8d8d0"/><circle cx="347.8" cy="132.0" r="1.8" fill="#e8c8bc"/><circle cx="352.3" cy="33.0" r="1.8" fill="#bcccd4"/><circle cx="352.4" cy="41.0" r="1.8" fill="#e4b4a4"/><circle cx="352.4" cy="47.0" r="1.8" fill="#80b0c4"/><circle cx="351.8" cy="57.0" r="1.8" fill="#ccd4d8"/><circle cx="352.7" cy="75.0" r="1.8" fill="#e8d0c4"/><circle cx="352.2" cy="84.0" r="1.8" fill="#e8d0c4"/><circle cx="352.0" cy="93.0" r="1.8" fill="#e8c4b8"/><circle cx="351.3" cy="102.0" r="1.8" fill="#dc9478"/><circle cx="352.5" cy="122.0" r="1.8" fill="#dc947c"/><circle cx="352.6" cy="132.0" r="1.8" fill="#e09c80"/><circle cx="352.9" cy="141.0" r="1.8" fill="#e8e4e0"/><circle cx="355.7" cy="66.0" r="1.8" fill="#e8ccc4"/><circle cx="356.3" cy="75.0" r="1.8" fill="#dc947c"/><circle cx="356.7" cy="84.0" r="1.8" fill="#e8d4cc"/><circle cx="356.6" cy="93.0" r="1.8" fill="#c85c44"/><circle cx="356.5" cy="141.0" r="1.8" fill="#d88c70"/><circle cx="361.6" cy="47.0" r="1.8" fill="#ece4e4"/><circle cx="360.7" cy="112.0" r="1.8" fill="#d88468"/><circle cx="360.7" cy="132.0" r="1.8" fill="#d47c64"/><circle cx="361.0" cy="150.0" r="1.8" fill="#e4a894"/><circle cx="361.0" cy="160.0" r="1.8" fill="#e4a890"/><circle cx="367.0" cy="84.0" r="1.8" fill="#d8886c"/><circle cx="367.6" cy="122.0" r="1.8" fill="#e8d4d0"/><circle cx="373.6" cy="29.0" r="1.8" fill="#c8d4d8"/><circle cx="372.7" cy="75.0" r="1.8" fill="#d0d8d8"/><circle cx="372.6" cy="93.0" r="1.8" fill="#e8d8d0"/><circle cx="372.7" cy="102.0" r="1.8" fill="#e8c8bc"/><circle cx="372.4" cy="160.0" r="1.8" fill="#dc9478"/><circle cx="381.4" cy="29.0" r="1.8" fill="#78acc4"/><circle cx="380.9" cy="47.0" r="1.8" fill="#d0d8d8"/><circle cx="389.6" cy="75.0" r="1.8" fill="#90b8c8"/><circle cx="389.2" cy="112.0" r="1.8" fill="#9cbccc"/><circle cx="390.1" cy="132.0" r="1.8" fill="#ece4e4"/><circle cx="398.1" cy="33.0" r="1.8" fill="#68a0c4"/><circle cx="397.2" cy="112.0" r="1.8" fill="#dce0dc"/><circle cx="398.6" cy="122.0" r="1.8" fill="#e4b0a0"/><circle cx="397.8" cy="150.0" r="1.8" fill="#d47c60"/><circle cx="405.1" cy="33.0" r="1.8" fill="#2878c0"/><circle cx="406.2" cy="66.0" r="1.8" fill="#4088c0"/><circle cx="406.2" cy="75.0" r="1.8" fill="#84b4c8"/><circle cx="406.9" cy="141.0" r="1.8" fill="#e8c8c0"/><circle cx="406.5" cy="180.0" r="1.8" fill="#e8c4b8"/><circle cx="413.2" cy="41.0" r="1.8" fill="#5898c0"/><circle cx="414.3" cy="57.0" r="1.8" fill="#68a0c4"/><circle cx="413.6" cy="141.0" r="1.8" fill="#d47860"/><circle cx="414.1" cy="190.0" r="1.8" fill="#dce0dc"/><circle cx="421.6" cy="33.0" r="1.8" fill="#3480c0"/><circle cx="420.4" cy="41.0" r="1.8" fill="#78a8c4"/><circle cx="420.3" cy="66.0" r="1.8" fill="#2878c0"/><circle cx="421.6" cy="102.0" r="1.8" fill="#3884c0"/><circle cx="420.0" cy="132.0" r="1.8" fill="#dce0e0"/><circle cx="421.7" cy="160.0" r="1.8" fill="#e8c8bc"/><circle cx="421.7" cy="175.0" r="1.8" fill="#e8d4cc"/><circle cx="430.1" cy="41.0" r="1.8" fill="#2c78c0"/><circle cx="436.9" cy="37.0" r="1.8" fill="#2474c0"/><circle cx="436.4" cy="41.0" r="1.8" fill="#64a0c4"/><circle cx="436.2" cy="75.0" r="1.8" fill="#3480c0"/><circle cx="437.0" cy="93.0" r="1.8" fill="#307cc0"/><circle cx="436.2" cy="132.0" r="1.8" fill="#e8d0c8"/><circle cx="436.6" cy="160.0" r="1.8" fill="#e8c8c0"/><circle cx="445.6" cy="33.0" r="1.8" fill="#2854b0"/><circle cx="445.9" cy="37.0" r="1.8" fill="#2c7cc0"/><circle cx="446.1" cy="47.0" r="1.8" fill="#70a8c4"/><circle cx="445.2" cy="190.0" r="1.8" fill="#e0e0e0"/><circle cx="451.0" cy="75.0" r="1.8" fill="#2474c0"/><circle cx="452.2" cy="141.0" r="1.8" fill="#e8d4cc"/><circle cx="451.7" cy="150.0" r="1.8" fill="#e8c8bc"/><circle cx="461.3" cy="41.0" r="1.8" fill="#4c90c0"/><circle cx="461.3" cy="57.0" r="1.8" fill="#3c88c0"/><circle cx="460.8" cy="102.0" r="1.8" fill="#2474c0"/><circle cx="460.8" cy="112.0" r="1.8" fill="#d0d8d8"/><circle cx="460.7" cy="150.0" r="1.8" fill="#dce0e0"/><circle cx="467.4" cy="47.0" r="1.8" fill="#2850ac"/><circle cx="468.4" cy="141.0" r="1.8" fill="#dc9074"/><circle cx="467.9" cy="196.0" r="1.8" fill="#c4d0d4"/><circle cx="397.1" cy="37.5" r="1.8" fill="#2070c0"/><circle cx="407.3" cy="37.5" r="1.8" fill="#a8c4cc"/><circle cx="418.3" cy="37.5" r="1.8" fill="#7cacc4"/><circle cx="438.6" cy="37.5" r="1.8" fill="#307cc0"/><circle cx="449.3" cy="37.5" r="1.8" fill="#243494"/><circle cx="371.6" cy="57.0" r="1.8" fill="#9cc0cc"/><circle cx="438.6" cy="57.0" r="1.8" fill="#3880c0"/><circle cx="444.5" cy="57.0" r="1.8" fill="#307cc0"/><circle cx="454.8" cy="57.0" r="1.8" fill="#2850b0"/><circle cx="464.2" cy="57.0" r="1.8" fill="#2850b0"/><circle cx="381.0" cy="75.0" r="1.8" fill="#d0d8d8"/><circle cx="396.9" cy="75.0" r="1.8" fill="#70a8c4"/><circle cx="401.8" cy="75.0" r="1.8" fill="#94b8c8"/><circle cx="407.2" cy="75.0" r="1.8" fill="#5c9cc0"/><circle cx="439.1" cy="75.0" r="1.8" fill="#a0c0cc"/><circle cx="449.5" cy="75.0" r="1.8" fill="#2874c0"/><circle cx="459.3" cy="75.0" r="1.8" fill="#5898c0"/><circle cx="465.1" cy="75.0" r="1.8" fill="#3480c0"/><circle cx="470.2" cy="75.0" r="1.8" fill="#3880c0"/><circle cx="386.3" cy="93.5" r="1.8" fill="#d8dcdc"/><circle cx="391.3" cy="93.5" r="1.8" fill="#a8c4cc"/><circle cx="396.4" cy="93.5" r="1.8" fill="#78acc4"/><circle cx="413.3" cy="93.5" r="1.8" fill="#8cb4c8"/><circle cx="418.3" cy="93.5" r="1.8" fill="#68a0c4"/><circle cx="428.4" cy="93.5" r="1.8" fill="#4c90c0"/><circle cx="464.6" cy="93.5" r="1.8" fill="#6ca4c4"/><circle cx="371.5" cy="112.0" r="1.8" fill="#e4e4e0"/><circle cx="381.4" cy="112.0" r="1.8" fill="#e8e0dc"/><circle cx="386.7" cy="112.0" r="1.8" fill="#e8e0dc"/><circle cx="392.2" cy="112.0" r="1.8" fill="#d0d8d8"/><circle cx="412.8" cy="112.0" r="1.8" fill="#a0c0cc"/><circle cx="418.5" cy="112.0" r="1.8" fill="#e8dcd8"/><circle cx="428.6" cy="112.0" r="1.8" fill="#ccd4d8"/><circle cx="438.9" cy="112.0" r="1.8" fill="#b4ccd0"/><circle cx="464.6" cy="112.0" r="1.8" fill="#90b8c8"/><circle cx="469.3" cy="112.0" r="1.8" fill="#a8c4cc"/></g>
<g stroke="#3a3a3a" stroke-width="0.45"><circle cx="486.8" cy="297.0" r="1.65" fill="#f0d8cc"/><circle cx="490.6" cy="297.0" r="1.65" fill="#1a2a60"/><circle cx="494.4" cy="297.0" r="1.65" fill="#1a7070"/><circle cx="498.2" cy="297.0" r="1.65" fill="#70b090"/><circle cx="486.8" cy="300.5" r="1.65" fill="#f0e4de"/><circle cx="490.6" cy="300.5" r="1.65" fill="#f6f2f0"/><circle cx="494.4" cy="300.5" r="1.65" fill="#1a7070"/><circle cx="498.2" cy="300.5" r="1.65" fill="#f4eeec"/><circle cx="486.8" cy="304.0" r="1.65" fill="#f6f2f0"/><circle cx="494.4" cy="304.0" r="1.65" fill="#70b090"/><circle cx="498.2" cy="304.0" r="1.65" fill="#1a2a60"/><circle cx="486.8" cy="307.5" r="1.65" fill="#f0e4de"/><circle cx="490.6" cy="307.5" r="1.65" fill="#1a2a60"/><circle cx="498.2" cy="307.5" r="1.65" fill="#f6f2f0"/><circle cx="486.8" cy="311.0" r="1.65" fill="#f0e4de"/><circle cx="490.6" cy="311.0" r="1.65" fill="#1a2a60"/><circle cx="494.4" cy="311.0" r="1.65" fill="#f4eeec"/><circle cx="498.2" cy="311.0" r="1.65" fill="#f0d8cc"/><circle cx="486.8" cy="314.5" r="1.65" fill="#f4eeec"/><circle cx="498.2" cy="314.5" r="1.65" fill="#1a2a60"/><circle cx="486.8" cy="318.0" r="1.65" fill="#f0e4de"/><circle cx="490.6" cy="318.0" r="1.65" fill="#f4eeec"/><circle cx="494.4" cy="318.0" r="1.65" fill="#e8c0b0"/><circle cx="498.2" cy="318.0" r="1.65" fill="#f4eeec"/><circle cx="486.8" cy="321.5" r="1.65" fill="#f0e4de"/><circle cx="494.4" cy="321.5" r="1.65" fill="#f6f2f0"/><circle cx="490.6" cy="325.0" r="1.65" fill="#f4eeec"/><circle cx="494.4" cy="325.0" r="1.65" fill="#f4eeec"/><circle cx="498.2" cy="325.0" r="1.65" fill="#1a2a60"/><circle cx="486.8" cy="328.5" r="1.65" fill="#f4eeec"/><circle cx="490.6" cy="328.5" r="1.65" fill="#f0d8cc"/><circle cx="494.4" cy="328.5" r="1.65" fill="#f4eeec"/><circle cx="486.8" cy="332.0" r="1.65" fill="#f0e4de"/><circle cx="490.6" cy="332.0" r="1.65" fill="#f4eeec"/><circle cx="498.2" cy="332.0" r="1.65" fill="#1a7070"/><circle cx="486.8" cy="335.5" r="1.65" fill="#f6f2f0"/><circle cx="490.6" cy="335.5" r="1.65" fill="#f6f2f0"/><circle cx="494.4" cy="335.5" r="1.65" fill="#f4eeec"/><circle cx="498.2" cy="335.5" r="1.65" fill="#f0d8cc"/><circle cx="486.8" cy="339.0" r="1.65" fill="#f0e4de"/><circle cx="490.6" cy="339.0" r="1.65" fill="#f0e4de"/><circle cx="498.2" cy="339.0" r="1.65" fill="#f0e4de"/><circle cx="486.8" cy="342.5" r="1.65" fill="#f6f2f0"/><circle cx="490.6" cy="342.5" r="1.65" fill="#f6f2f0"/><circle cx="494.4" cy="342.5" r="1.65" fill="#f6f2f0"/><circle cx="486.8" cy="346.0" r="1.65" fill="#f4eeec"/><circle cx="490.6" cy="346.0" r="1.65" fill="#f0e4de"/><circle cx="494.4" cy="346.0" r="1.65" fill="#f6f2f0"/><circle cx="498.2" cy="346.0" r="1.65" fill="#f0e4de"/><circle cx="486.8" cy="349.5" r="1.65" fill="#f6f2f0"/><circle cx="490.6" cy="349.5" r="1.65" fill="#f0d8cc"/><circle cx="494.4" cy="349.5" r="1.65" fill="#e0a898"/><circle cx="486.8" cy="353.0" r="1.65" fill="#f6f2f0"/><circle cx="490.6" cy="353.0" r="1.65" fill="#f0e4de"/><circle cx="494.4" cy="353.0" r="1.65" fill="#1a7070"/><circle cx="498.2" cy="353.0" r="1.65" fill="#f4eeec"/><circle cx="490.6" cy="356.5" r="1.65" fill="#f0d8cc"/><circle cx="494.4" cy="356.5" r="1.65" fill="#f0e4de"/><circle cx="498.2" cy="356.5" r="1.65" fill="#1a7070"/><circle cx="490.6" cy="360.0" r="1.65" fill="#f0e4de"/><circle cx="494.4" cy="360.0" r="1.65" fill="#f6f2f0"/><circle cx="498.2" cy="360.0" r="1.65" fill="#f0e4de"/><circle cx="486.8" cy="363.5" r="1.65" fill="#f4eeec"/><circle cx="490.6" cy="363.5" r="1.65" fill="#8a2060"/><circle cx="494.4" cy="363.5" r="1.65" fill="#70b090"/><circle cx="486.8" cy="367.0" r="1.65" fill="#f4eeec"/><circle cx="490.6" cy="367.0" r="1.65" fill="#8a2060"/><circle cx="498.2" cy="367.0" r="1.65" fill="#f0e4de"/><circle cx="494.4" cy="370.5" r="1.65" fill="#70b090"/><circle cx="486.8" cy="374.0" r="1.65" fill="#f4eeec"/><circle cx="490.6" cy="374.0" r="1.65" fill="#f0d8cc"/><circle cx="494.4" cy="374.0" r="1.65" fill="#f6f2f0"/><circle cx="486.8" cy="377.5" r="1.65" fill="#f0e4de"/><circle cx="490.6" cy="377.5" r="1.65" fill="#5a0f48"/><circle cx="494.4" cy="377.5" r="1.65" fill="#70b090"/><circle cx="498.2" cy="377.5" r="1.65" fill="#f0e4de"/><circle cx="494.4" cy="381.0" r="1.65" fill="#f0e4de"/><circle cx="498.2" cy="381.0" r="1.65" fill="#f6f2f0"/><circle cx="486.8" cy="384.5" r="1.65" fill="#f4eeec"/><circle cx="494.4" cy="384.5" r="1.65" fill="#1a7070"/><circle cx="498.2" cy="384.5" r="1.65" fill="#f0d8cc"/><circle cx="490.6" cy="388.0" r="1.65" fill="#7a1a5a"/><circle cx="486.8" cy="391.5" r="1.65" fill="#f4eeec"/><circle cx="490.6" cy="391.5" r="1.65" fill="#f6f2f0"/><circle cx="494.4" cy="391.5" r="1.65" fill="#f0e4de"/><circle cx="498.2" cy="391.5" r="1.65" fill="#f6f2f0"/><circle cx="486.8" cy="395.0" r="1.65" fill="#f4eeec"/><circle cx="490.6" cy="395.0" r="1.65" fill="#8a2060"/><circle cx="494.4" cy="395.0" r="1.65" fill="#f6f2f0"/><circle cx="498.2" cy="395.0" r="1.65" fill="#f6f2f0"/><circle cx="486.8" cy="398.5" r="1.65" fill="#f6f2f0"/><circle cx="490.6" cy="398.5" r="1.65" fill="#5a0f48"/><circle cx="494.4" cy="398.5" r="1.65" fill="#f0e4de"/><circle cx="498.2" cy="398.5" r="1.65" fill="#30907c"/><circle cx="494.4" cy="402.0" r="1.65" fill="#f4eeec"/><circle cx="498.2" cy="402.0" r="1.65" fill="#f4eeec"/><circle cx="486.8" cy="405.5" r="1.65" fill="#f0e4de"/><circle cx="490.6" cy="405.5" r="1.65" fill="#e0a898"/><circle cx="494.4" cy="405.5" r="1.65" fill="#e0a898"/><circle cx="498.2" cy="405.5" r="1.65" fill="#70b090"/><circle cx="486.8" cy="409.0" r="1.65" fill="#e8c0b0"/><circle cx="494.4" cy="409.0" r="1.65" fill="#30907c"/><circle cx="498.2" cy="409.0" r="1.65" fill="#70b090"/><circle cx="486.8" cy="412.5" r="1.65" fill="#f4eeec"/><circle cx="490.6" cy="412.5" r="1.65" fill="#e0a898"/><circle cx="498.2" cy="412.5" r="1.65" fill="#f6f2f0"/><circle cx="486.8" cy="416.0" r="1.65" fill="#f6f2f0"/><circle cx="490.6" cy="416.0" r="1.65" fill="#f0d8cc"/><circle cx="494.4" cy="416.0" r="1.65" fill="#f4eeec"/><circle cx="498.2" cy="416.0" r="1.65" fill="#1a7070"/><circle cx="490.6" cy="419.5" r="1.65" fill="#f0d8cc"/><circle cx="494.4" cy="419.5" r="1.65" fill="#f0e4de"/><circle cx="486.8" cy="423.0" r="1.65" fill="#f0e4de"/><circle cx="490.6" cy="423.0" r="1.65" fill="#f0d8cc"/><circle cx="494.4" cy="423.0" r="1.65" fill="#f0e4de"/><circle cx="486.8" cy="426.5" r="1.65" fill="#f0d8cc"/><circle cx="494.4" cy="426.5" r="1.65" fill="#f6f2f0"/><circle cx="498.2" cy="426.5" r="1.65" fill="#f0e4de"/><circle cx="486.8" cy="430.0" r="1.65" fill="#f4eeec"/><circle cx="490.6" cy="430.0" r="1.65" fill="#f0d8cc"/><circle cx="494.4" cy="430.0" r="1.65" fill="#e0a898"/><circle cx="486.8" cy="433.5" r="1.65" fill="#f6f2f0"/><circle cx="490.6" cy="433.5" r="1.65" fill="#c05068"/><circle cx="494.4" cy="433.5" r="1.65" fill="#f4eeec"/><circle cx="498.2" cy="433.5" r="1.65" fill="#f6f2f0"/><circle cx="486.8" cy="437.0" r="1.65" fill="#f0e4de"/><circle cx="490.6" cy="437.0" r="1.65" fill="#c05068"/><circle cx="498.2" cy="437.0" r="1.65" fill="#e8c0b0"/><circle cx="486.8" cy="440.5" r="1.65" fill="#f0e4de"/><circle cx="490.6" cy="440.5" r="1.65" fill="#e8c0b0"/><circle cx="494.4" cy="440.5" r="1.65" fill="#70b090"/><circle cx="486.8" cy="444.0" r="1.65" fill="#f0e4de"/><circle cx="490.6" cy="444.0" r="1.65" fill="#e8c0b0"/><circle cx="494.4" cy="444.0" r="1.65" fill="#f6f2f0"/><circle cx="498.2" cy="444.0" r="1.65" fill="#e8c0b0"/><circle cx="486.8" cy="447.5" r="1.65" fill="#f4eeec"/><circle cx="494.4" cy="447.5" r="1.65" fill="#f0d8cc"/><circle cx="498.2" cy="447.5" r="1.65" fill="#30907c"/><circle cx="486.8" cy="451.0" r="1.65" fill="#f6f2f0"/><circle cx="490.6" cy="451.0" r="1.65" fill="#e8c0b0"/><circle cx="494.4" cy="451.0" r="1.65" fill="#30907c"/><circle cx="498.2" cy="451.0" r="1.65" fill="#f4eeec"/><circle cx="490.6" cy="454.5" r="1.65" fill="#f0d8cc"/><circle cx="498.2" cy="454.5" r="1.65" fill="#f6f2f0"/><circle cx="667.8" cy="297.5" r="1.65" fill="#802060"/><circle cx="667.8" cy="300.8" r="1.65" fill="#e8c0b0"/><circle cx="667.8" cy="304.1" r="1.65" fill="#f0d8cc"/><circle cx="667.8" cy="307.4" r="1.65" fill="#e8c0b0"/><circle cx="667.8" cy="310.7" r="1.65" fill="#1a2a60"/><circle cx="667.8" cy="314.0" r="1.65" fill="#30907c"/><circle cx="667.8" cy="317.8" r="1.65" fill="#f6f2f0"/></g>
<rect x="369.30" y="576.90" width="14.30" height="12.60" fill="#8a8a8a"/>
<rect x="374.00" y="589.50" width="4.80" height="7.70" fill="#8a8a8a"/>
<rect x="674.40" y="581.20" width="6.10" height="8.30" fill="#8a8a8a"/>
<line x1="333.10" y1="24.70" x2="333.10" y2="219.20" stroke="#3a3a3a" stroke-width="0.9"/>
<line x1="329.10" y1="24.70" x2="333.10" y2="24.70" stroke="#3a3a3a" stroke-width="0.9"/>
<text x="324.8" y="28.5" text-anchor="end">0</text>
<line x1="329.10" y1="57.12" x2="333.10" y2="57.12" stroke="#3a3a3a" stroke-width="0.9"/>
<text x="324.8" y="60.9" text-anchor="end">1</text>
<line x1="329.10" y1="89.54" x2="333.10" y2="89.54" stroke="#3a3a3a" stroke-width="0.9"/>
<text x="324.8" y="93.3" text-anchor="end">2</text>
<line x1="329.10" y1="121.96" x2="333.10" y2="121.96" stroke="#3a3a3a" stroke-width="0.9"/>
<text x="324.8" y="125.8" text-anchor="end">3</text>
<line x1="329.10" y1="154.38" x2="333.10" y2="154.38" stroke="#3a3a3a" stroke-width="0.9"/>
<text x="324.8" y="158.2" text-anchor="end">4</text>
<line x1="329.10" y1="186.80" x2="333.10" y2="186.80" stroke="#3a3a3a" stroke-width="0.9"/>
<text x="324.8" y="190.6" text-anchor="end">5</text>
<line x1="329.10" y1="219.22" x2="333.10" y2="219.22" stroke="#3a3a3a" stroke-width="0.9"/>
<text x="324.8" y="223.0" text-anchor="end">6</text>
<text transform="translate(308.3,122.0) rotate(-90)" text-anchor="middle">Water depth (km)</text>
<line x1="329.10" y1="219.20" x2="680.40" y2="219.20" stroke="#3a3a3a" stroke-width="0.9"/>
<line x1="380.50" y1="219.20" x2="380.50" y2="223.20" stroke="#3a3a3a" stroke-width="0.9"/>
<text x="380.5" y="236.6" text-anchor="middle">60° S</text>
<line x1="428.50" y1="219.20" x2="428.50" y2="223.20" stroke="#3a3a3a" stroke-width="0.9"/>
<text x="428.5" y="236.6" text-anchor="middle">40° S</text>
<line x1="476.50" y1="219.20" x2="476.50" y2="223.20" stroke="#3a3a3a" stroke-width="0.9"/>
<text x="476.5" y="236.6" text-anchor="middle">20° S</text>
<line x1="524.50" y1="219.20" x2="524.50" y2="223.20" stroke="#3a3a3a" stroke-width="0.9"/>
<text x="524.5" y="236.6" text-anchor="middle">0°</text>
<line x1="572.50" y1="219.20" x2="572.50" y2="223.20" stroke="#3a3a3a" stroke-width="0.9"/>
<text x="572.5" y="236.6" text-anchor="middle">20° N</text>
<line x1="620.50" y1="219.20" x2="620.50" y2="223.20" stroke="#3a3a3a" stroke-width="0.9"/>
<text x="620.5" y="236.6" text-anchor="middle">40° N</text>
<line x1="668.50" y1="219.20" x2="668.50" y2="223.20" stroke="#3a3a3a" stroke-width="0.9"/>
<text x="668.5" y="236.6" text-anchor="middle">60° N</text>
<text x="507.0" y="252.6" text-anchor="middle">Latitude</text>
<line x1="333.40" y1="295.20" x2="333.40" y2="488.20" stroke="#3a3a3a" stroke-width="0.9"/>
<line x1="329.40" y1="295.20" x2="333.40" y2="295.20" stroke="#3a3a3a" stroke-width="0.9"/>
<text x="325.0" y="299.0" text-anchor="end">0</text>
<line x1="329.40" y1="327.37" x2="333.40" y2="327.37" stroke="#3a3a3a" stroke-width="0.9"/>
<text x="325.0" y="331.2" text-anchor="end">1</text>
<line x1="329.40" y1="359.54" x2="333.40" y2="359.54" stroke="#3a3a3a" stroke-width="0.9"/>
<text x="325.0" y="363.3" text-anchor="end">2</text>
<line x1="329.40" y1="391.71" x2="333.40" y2="391.71" stroke="#3a3a3a" stroke-width="0.9"/>
<text x="325.0" y="395.5" text-anchor="end">3</text>
<line x1="329.40" y1="423.88" x2="333.40" y2="423.88" stroke="#3a3a3a" stroke-width="0.9"/>
<text x="325.0" y="427.7" text-anchor="end">4</text>
<line x1="329.40" y1="456.05" x2="333.40" y2="456.05" stroke="#3a3a3a" stroke-width="0.9"/>
<text x="325.0" y="459.9" text-anchor="end">5</text>
<line x1="329.40" y1="488.22" x2="333.40" y2="488.22" stroke="#3a3a3a" stroke-width="0.9"/>
<text x="325.0" y="492.0" text-anchor="end">6</text>
<text transform="translate(308.3,391.7) rotate(-90)" text-anchor="middle">Water depth (km)</text>
<line x1="329.40" y1="488.20" x2="680.00" y2="488.20" stroke="#3a3a3a" stroke-width="0.9"/>
<line x1="381.20" y1="488.20" x2="381.20" y2="492.20" stroke="#3a3a3a" stroke-width="0.9"/>
<text x="381.2" y="507.5" text-anchor="middle">60° S</text>
<line x1="429.00" y1="488.20" x2="429.00" y2="492.20" stroke="#3a3a3a" stroke-width="0.9"/>
<text x="429.0" y="507.5" text-anchor="middle">40° S</text>
<line x1="476.80" y1="488.20" x2="476.80" y2="492.20" stroke="#3a3a3a" stroke-width="0.9"/>
<text x="476.8" y="507.5" text-anchor="middle">20° S</text>
<line x1="524.60" y1="488.20" x2="524.60" y2="492.20" stroke="#3a3a3a" stroke-width="0.9"/>
<text x="524.6" y="507.5" text-anchor="middle">0°</text>
<line x1="572.40" y1="488.20" x2="572.40" y2="492.20" stroke="#3a3a3a" stroke-width="0.9"/>
<text x="572.4" y="507.5" text-anchor="middle">20° N</text>
<line x1="620.20" y1="488.20" x2="620.20" y2="492.20" stroke="#3a3a3a" stroke-width="0.9"/>
<text x="620.2" y="507.5" text-anchor="middle">40° N</text>
<line x1="668.00" y1="488.20" x2="668.00" y2="492.20" stroke="#3a3a3a" stroke-width="0.9"/>
<text x="668.0" y="507.5" text-anchor="middle">60° N</text>
<text x="507.0" y="522.9" text-anchor="middle">Latitude</text>
<line x1="331.10" y1="576.90" x2="331.10" y2="771.00" stroke="#3a3a3a" stroke-width="0.9"/>
<line x1="327.10" y1="578.50" x2="331.10" y2="578.50" stroke="#3a3a3a" stroke-width="0.9"/>
<text x="322.6" y="582.3" text-anchor="end">0</text>
<line x1="327.10" y1="610.58" x2="331.10" y2="610.58" stroke="#3a3a3a" stroke-width="0.9"/>
<text x="322.6" y="614.4" text-anchor="end">1</text>
<line x1="327.10" y1="642.66" x2="331.10" y2="642.66" stroke="#3a3a3a" stroke-width="0.9"/>
<text x="322.6" y="646.5" text-anchor="end">2</text>
<line x1="327.10" y1="674.74" x2="331.10" y2="674.74" stroke="#3a3a3a" stroke-width="0.9"/>
<text x="322.6" y="678.5" text-anchor="end">3</text>
<line x1="327.10" y1="706.82" x2="331.10" y2="706.82" stroke="#3a3a3a" stroke-width="0.9"/>
<text x="322.6" y="710.6" text-anchor="end">4</text>
<line x1="327.10" y1="738.90" x2="331.10" y2="738.90" stroke="#3a3a3a" stroke-width="0.9"/>
<text x="322.6" y="742.7" text-anchor="end">5</text>
<line x1="327.10" y1="770.98" x2="331.10" y2="770.98" stroke="#3a3a3a" stroke-width="0.9"/>
<text x="322.6" y="774.8" text-anchor="end">6</text>
<text transform="translate(306.3,674.8) rotate(-90)" text-anchor="middle">Water depth (km)</text>
<line x1="327.10" y1="771.00" x2="680.50" y2="771.00" stroke="#3a3a3a" stroke-width="0.9"/>
<line x1="379.55" y1="771.00" x2="379.55" y2="775.00" stroke="#3a3a3a" stroke-width="0.9"/>
<text x="379.5" y="790.2" text-anchor="middle">60° S</text>
<line x1="427.50" y1="771.00" x2="427.50" y2="775.00" stroke="#3a3a3a" stroke-width="0.9"/>
<text x="427.5" y="790.2" text-anchor="middle">40° S</text>
<line x1="475.45" y1="771.00" x2="475.45" y2="775.00" stroke="#3a3a3a" stroke-width="0.9"/>
<text x="475.4" y="790.2" text-anchor="middle">20° S</text>
<line x1="523.40" y1="771.00" x2="523.40" y2="775.00" stroke="#3a3a3a" stroke-width="0.9"/>
<text x="523.4" y="790.2" text-anchor="middle">0°</text>
<line x1="571.35" y1="771.00" x2="571.35" y2="775.00" stroke="#3a3a3a" stroke-width="0.9"/>
<text x="571.4" y="790.2" text-anchor="middle">20° N</text>
<line x1="619.30" y1="771.00" x2="619.30" y2="775.00" stroke="#3a3a3a" stroke-width="0.9"/>
<text x="619.3" y="790.2" text-anchor="middle">40° N</text>
<line x1="667.25" y1="771.00" x2="667.25" y2="775.00" stroke="#3a3a3a" stroke-width="0.9"/>
<text x="667.2" y="790.2" text-anchor="middle">60° N</text>
<text x="505.8" y="805.8" text-anchor="middle">Latitude</text>
<text x="559.7" y="11.9" text-anchor="end">Nd (pM)</text>
<rect x="569.00" y="5.10" width="111.00" height="5.30" fill="url(#cb1)"/>
<rect x="590.60" y="5.10" width="1.20" height="5.30" fill="#ffffff"/>
<rect x="612.80" y="5.10" width="1.20" height="5.30" fill="#ffffff"/>
<rect x="635.00" y="5.10" width="1.20" height="5.30" fill="#ffffff"/>
<rect x="657.20" y="5.10" width="1.20" height="5.30" fill="#ffffff"/>
<text x="569.0" y="22.4" text-anchor="middle">0</text>
<text x="591.2" y="22.4" text-anchor="middle">10</text>
<text x="613.4" y="22.4" text-anchor="middle">20</text>
<text x="635.6" y="22.4" text-anchor="middle">30</text>
<text x="657.8" y="22.4" text-anchor="middle">40</text>
<text x="679.2" y="22.4" text-anchor="middle">50</text>
<text x="560.9" y="280.6" text-anchor="end">log<tspan font-size="7.5" dy="2.5">10</tspan><tspan dy="-2.5">[MnO</tspan><tspan font-size="7.5" dy="2.5">2</tspan><tspan dy="-2.5"> (µg l</tspan><tspan font-size="7.5" dy="-4">−1</tspan><tspan dy="4">)]</tspan></text>
<rect x="568.20" y="274.60" width="111.60" height="5.30" fill="url(#cb2)"/>
<rect x="586.94" y="274.60" width="1.20" height="5.30" fill="#ffffff"/>
<rect x="661.34" y="274.60" width="1.20" height="5.30" fill="#ffffff"/>
<text x="587.4" y="291.3" text-anchor="middle">−3</text>
<text x="624.6" y="291.3" text-anchor="middle">−2</text>
<text x="661.4" y="291.3" text-anchor="middle">−1</text>
<text x="559.1" y="565.8" text-anchor="end">log<tspan font-size="7.5" dy="2.5">10</tspan><tspan dy="-2.5">[Seafloor area per volume (m</tspan><tspan font-size="7.5" dy="-4">−1</tspan><tspan dy="4">)]</tspan></text>
<rect x="569.00" y="558.60" width="111.10" height="5.90" fill="url(#cb3)"/>
<rect x="623.95" y="558.60" width="1.20" height="5.90" fill="#ffffff"/>
<text x="570.7" y="575.5" text-anchor="middle">−6</text>
<text x="624.6" y="575.5" text-anchor="middle">−4</text>
<text x="679.5" y="575.5" text-anchor="middle">−2</text>
<text x="-0.5" y="14.3" font-size="14.5" font-weight="bold">a</text>
<text x="298.3" y="14.4" font-size="14.5" font-weight="bold">b</text>
<text x="-0.5" y="284.5" font-size="14.5" font-weight="bold">c</text>
<text x="298.5" y="284.5" font-size="14.5" font-weight="bold">d</text>
<text x="-0.5" y="550.5" font-size="14.5" font-weight="bold">e</text>
<text x="298.5" y="550.5" font-size="14.5" font-weight="bold">f</text>
<path d="M80.0 25.3L105.0 45.0L119.0 59.4L127.0 72.6L135.3 83.8L145.5 98.4L157.2 113.0L163.1 122.9L169.0 131.0L179.2 139.0L186.5 147.0L193.8 156.5L199.6 165.3L208.4 176.9L212.8 179.9L236.1 195.2L236.1 211.2L150.3 211.2L131.3 191.8L128.4 177.2L122.6 168.4L116.7 159.6L106.5 146.5L105.0 133.4L100.7 124.6L91.9 114.4L84.5 114.1L80.8 106.7L77.1 99.3L78.3 89.3L75.9 83.2L72.2 72.0L67.2 64.6L61.0 57.2L59.8 44.8L51.1 36.1L47.4 32.4L44.3 26.2L44.0 25.3Z" fill="#d9d9d9"/>
<path d="M44.0 25.3L79.0 25.3L80.0 29.0L77.0 33.0L73.0 37.0L70.0 42.0L67.0 48.0L64.0 54.0L61.5 57.0L60.0 45.0L51.0 36.0L47.0 32.0L44.3 26.2Z" fill="#a9a9a9"/>
<path fill="#a2a2a2" d="M57.3 25.0h1.6v1.6h-1.6zM60.7 25.0h1.6v1.6h-1.6zM62.1 25.0h1.6v1.6h-1.6zM64.2 25.0h1.6v1.6h-1.6zM67.3 25.0h1.6v1.6h-1.6zM69.4 25.0h1.6v1.6h-1.6zM73.0 25.0h1.6v1.6h-1.6zM79.0 25.0h1.6v1.6h-1.6zM82.5 25.0h1.6v1.6h-1.6zM86.2 25.0h1.6v1.6h-1.6zM57.6 26.7h1.6v1.6h-1.6zM59.0 26.7h1.6v1.6h-1.6zM67.4 26.7h1.6v1.6h-1.6zM69.0 26.7h1.6v1.6h-1.6zM73.0 26.7h1.6v1.6h-1.6zM74.8 26.7h1.6v1.6h-1.6zM77.6 26.7h1.6v1.6h-1.6zM86.5 26.7h1.6v1.6h-1.6zM91.3 26.7h1.6v1.6h-1.6zM57.4 28.4h1.6v1.6h-1.6zM59.0 28.4h1.6v1.6h-1.6zM62.8 28.4h1.6v1.6h-1.6zM64.2 28.4h1.6v1.6h-1.6zM67.9 28.4h1.6v1.6h-1.6zM69.5 28.4h1.6v1.6h-1.6zM71.0 28.4h1.6v1.6h-1.6zM76.6 28.4h1.6v1.6h-1.6zM77.9 28.4h1.6v1.6h-1.6zM83.5 28.4h1.6v1.6h-1.6zM84.6 28.4h1.6v1.6h-1.6zM91.3 28.4h1.6v1.6h-1.6zM57.8 30.1h1.6v1.6h-1.6zM61.2 30.1h1.6v1.6h-1.6zM64.3 30.1h1.6v1.6h-1.6zM69.4 30.1h1.6v1.6h-1.6zM75.2 30.1h1.6v1.6h-1.6zM81.2 30.1h1.6v1.6h-1.6zM85.2 30.1h1.6v1.6h-1.6zM86.9 30.1h1.6v1.6h-1.6zM92.0 30.1h1.6v1.6h-1.6zM93.3 30.1h1.6v1.6h-1.6zM59.3 31.8h1.6v1.6h-1.6zM61.3 31.8h1.6v1.6h-1.6zM62.8 31.8h1.6v1.6h-1.6zM64.8 31.8h1.6v1.6h-1.6zM66.3 31.8h1.6v1.6h-1.6zM76.3 31.8h1.6v1.6h-1.6zM78.7 31.8h1.6v1.6h-1.6zM83.6 31.8h1.6v1.6h-1.6zM92.0 31.8h1.6v1.6h-1.6zM58.3 33.5h1.6v1.6h-1.6zM63.5 33.5h1.6v1.6h-1.6zM66.7 33.5h1.6v1.6h-1.6zM68.4 33.5h1.6v1.6h-1.6zM71.8 33.5h1.6v1.6h-1.6zM78.7 33.5h1.6v1.6h-1.6zM85.5 33.5h1.6v1.6h-1.6zM87.1 33.5h1.6v1.6h-1.6zM90.6 33.5h1.6v1.6h-1.6zM98.8 33.5h1.6v1.6h-1.6zM60.0 35.2h1.6v1.6h-1.6zM63.5 35.2h1.6v1.6h-1.6zM65.0 35.2h1.6v1.6h-1.6zM72.0 35.2h1.6v1.6h-1.6zM73.3 35.2h1.6v1.6h-1.6zM83.5 35.2h1.6v1.6h-1.6zM87.0 35.2h1.6v1.6h-1.6zM100.4 35.2h1.6v1.6h-1.6zM104.4 35.2h1.6v1.6h-1.6zM58.7 36.9h1.6v1.6h-1.6zM59.9 36.9h1.6v1.6h-1.6zM61.5 36.9h1.6v1.6h-1.6zM65.0 36.9h1.6v1.6h-1.6zM67.1 36.9h1.6v1.6h-1.6zM68.8 36.9h1.6v1.6h-1.6zM77.2 36.9h1.6v1.6h-1.6zM78.5 36.9h1.6v1.6h-1.6zM83.8 36.9h1.6v1.6h-1.6zM85.8 36.9h1.6v1.6h-1.6zM97.9 36.9h1.6v1.6h-1.6zM100.9 36.9h1.6v1.6h-1.6zM63.9 38.6h1.6v1.6h-1.6zM65.6 38.6h1.6v1.6h-1.6zM72.6 38.6h1.6v1.6h-1.6zM81.1 38.6h1.6v1.6h-1.6zM83.8 38.6h1.6v1.6h-1.6zM92.9 38.6h1.6v1.6h-1.6zM94.6 38.6h1.6v1.6h-1.6zM95.9 38.6h1.6v1.6h-1.6zM99.2 38.6h1.6v1.6h-1.6zM60.3 40.3h1.6v1.6h-1.6zM62.0 40.3h1.6v1.6h-1.6zM67.6 40.3h1.6v1.6h-1.6zM68.9 40.3h1.6v1.6h-1.6zM71.0 40.3h1.6v1.6h-1.6zM74.4 40.3h1.6v1.6h-1.6zM80.9 40.3h1.6v1.6h-1.6zM86.4 40.3h1.6v1.6h-1.6zM97.9 40.3h1.6v1.6h-1.6zM108.1 40.3h1.6v1.6h-1.6zM58.7 42.0h1.6v1.6h-1.6zM61.0 42.0h1.6v1.6h-1.6zM62.6 42.0h1.6v1.6h-1.6zM63.8 42.0h1.6v1.6h-1.6zM65.9 42.0h1.6v1.6h-1.6zM67.4 42.0h1.6v1.6h-1.6zM71.1 42.0h1.6v1.6h-1.6zM72.6 42.0h1.6v1.6h-1.6zM74.0 42.0h1.6v1.6h-1.6zM77.6 42.0h1.6v1.6h-1.6zM79.4 42.0h1.6v1.6h-1.6zM80.8 42.0h1.6v1.6h-1.6zM93.2 42.0h1.6v1.6h-1.6zM108.1 42.0h1.6v1.6h-1.6zM113.6 42.0h1.6v1.6h-1.6zM60.8 43.7h1.6v1.6h-1.6zM64.0 43.7h1.6v1.6h-1.6zM71.1 43.7h1.6v1.6h-1.6zM74.6 43.7h1.6v1.6h-1.6zM75.8 43.7h1.6v1.6h-1.6zM77.5 43.7h1.6v1.6h-1.6zM84.4 43.7h1.6v1.6h-1.6zM86.6 43.7h1.6v1.6h-1.6zM91.1 43.7h1.6v1.6h-1.6zM106.9 43.7h1.6v1.6h-1.6zM59.3 45.4h1.6v1.6h-1.6zM61.3 45.4h1.6v1.6h-1.6zM69.6 45.4h1.6v1.6h-1.6zM71.6 45.4h1.6v1.6h-1.6zM74.9 45.4h1.6v1.6h-1.6zM81.7 45.4h1.6v1.6h-1.6zM93.2 45.4h1.6v1.6h-1.6zM96.6 45.4h1.6v1.6h-1.6zM102.2 45.4h1.6v1.6h-1.6zM61.3 47.1h1.6v1.6h-1.6zM64.5 47.1h1.6v1.6h-1.6zM66.0 47.1h1.6v1.6h-1.6zM67.7 47.1h1.6v1.6h-1.6zM70.0 47.1h1.6v1.6h-1.6zM71.4 47.1h1.6v1.6h-1.6zM81.7 47.1h1.6v1.6h-1.6zM85.3 47.1h1.6v1.6h-1.6zM86.7 47.1h1.6v1.6h-1.6zM88.4 47.1h1.6v1.6h-1.6zM92.1 47.1h1.6v1.6h-1.6zM100.4 47.1h1.6v1.6h-1.6zM108.6 47.1h1.6v1.6h-1.6zM110.2 47.1h1.6v1.6h-1.6zM119.4 47.1h1.6v1.6h-1.6zM60.0 48.8h1.6v1.6h-1.6zM61.3 48.8h1.6v1.6h-1.6zM64.8 48.8h1.6v1.6h-1.6zM70.2 48.8h1.6v1.6h-1.6zM75.1 48.8h1.6v1.6h-1.6zM76.4 48.8h1.6v1.6h-1.6zM78.4 48.8h1.6v1.6h-1.6zM80.0 48.8h1.6v1.6h-1.6zM83.3 48.8h1.6v1.6h-1.6zM87.1 48.8h1.6v1.6h-1.6zM95.1 48.8h1.6v1.6h-1.6zM59.5 50.5h1.6v1.6h-1.6zM61.5 50.5h1.6v1.6h-1.6zM62.9 50.5h1.6v1.6h-1.6zM64.6 50.5h1.6v1.6h-1.6zM66.8 50.5h1.6v1.6h-1.6zM68.4 50.5h1.6v1.6h-1.6zM70.0 50.5h1.6v1.6h-1.6zM71.6 50.5h1.6v1.6h-1.6zM76.5 50.5h1.6v1.6h-1.6zM83.6 50.5h1.6v1.6h-1.6zM85.6 50.5h1.6v1.6h-1.6zM87.2 50.5h1.6v1.6h-1.6zM90.5 50.5h1.6v1.6h-1.6zM99.2 50.5h1.6v1.6h-1.6zM100.3 50.5h1.6v1.6h-1.6zM110.6 50.5h1.6v1.6h-1.6zM114.1 50.5h1.6v1.6h-1.6zM60.2 52.2h1.6v1.6h-1.6zM61.4 52.2h1.6v1.6h-1.6zM65.4 52.2h1.6v1.6h-1.6zM70.4 52.2h1.6v1.6h-1.6zM71.8 52.2h1.6v1.6h-1.6zM73.9 52.2h1.6v1.6h-1.6zM76.9 52.2h1.6v1.6h-1.6zM78.6 52.2h1.6v1.6h-1.6zM80.3 52.2h1.6v1.6h-1.6zM82.2 52.2h1.6v1.6h-1.6zM90.8 52.2h1.6v1.6h-1.6zM93.6 52.2h1.6v1.6h-1.6zM105.9 52.2h1.6v1.6h-1.6zM109.0 52.2h1.6v1.6h-1.6zM114.5 52.2h1.6v1.6h-1.6zM59.9 53.9h1.6v1.6h-1.6zM63.8 53.9h1.6v1.6h-1.6zM65.1 53.9h1.6v1.6h-1.6zM70.4 53.9h1.6v1.6h-1.6zM77.4 53.9h1.6v1.6h-1.6zM99.5 53.9h1.6v1.6h-1.6zM104.1 53.9h1.6v1.6h-1.6zM111.0 53.9h1.6v1.6h-1.6zM113.0 53.9h1.6v1.6h-1.6zM117.9 53.9h1.6v1.6h-1.6zM61.7 55.6h1.6v1.6h-1.6zM63.5 55.6h1.6v1.6h-1.6zM65.6 55.6h1.6v1.6h-1.6zM66.9 55.6h1.6v1.6h-1.6zM68.7 55.6h1.6v1.6h-1.6zM70.7 55.6h1.6v1.6h-1.6zM72.3 55.6h1.6v1.6h-1.6zM75.4 55.6h1.6v1.6h-1.6zM80.8 55.6h1.6v1.6h-1.6zM85.5 55.6h1.6v1.6h-1.6zM91.0 55.6h1.6v1.6h-1.6zM94.7 55.6h1.6v1.6h-1.6zM97.3 55.6h1.6v1.6h-1.6zM107.7 55.6h1.6v1.6h-1.6zM60.2 57.3h1.6v1.6h-1.6zM64.2 57.3h1.6v1.6h-1.6zM68.8 57.3h1.6v1.6h-1.6zM72.4 57.3h1.6v1.6h-1.6zM74.5 57.3h1.6v1.6h-1.6zM79.4 57.3h1.6v1.6h-1.6zM81.2 57.3h1.6v1.6h-1.6zM82.9 57.3h1.6v1.6h-1.6zM84.3 57.3h1.6v1.6h-1.6zM88.0 57.3h1.6v1.6h-1.6zM89.3 57.3h1.6v1.6h-1.6zM91.0 57.3h1.6v1.6h-1.6zM99.5 57.3h1.6v1.6h-1.6zM108.0 57.3h1.6v1.6h-1.6zM117.0 57.3h1.6v1.6h-1.6zM60.5 59.0h1.6v1.6h-1.6zM62.4 59.0h1.6v1.6h-1.6zM63.9 59.0h1.6v1.6h-1.6zM65.9 59.0h1.6v1.6h-1.6zM67.2 59.0h1.6v1.6h-1.6zM71.2 59.0h1.6v1.6h-1.6zM72.8 59.0h1.6v1.6h-1.6zM74.5 59.0h1.6v1.6h-1.6zM75.7 59.0h1.6v1.6h-1.6zM77.8 59.0h1.6v1.6h-1.6zM81.0 59.0h1.6v1.6h-1.6zM86.0 59.0h1.6v1.6h-1.6zM87.6 59.0h1.6v1.6h-1.6zM91.6 59.0h1.6v1.6h-1.6zM106.5 59.0h1.6v1.6h-1.6zM116.6 59.0h1.6v1.6h-1.6zM63.2 56.4h1.6v1.6h-1.6zM64.7 56.4h1.6v1.6h-1.6zM66.2 56.4h1.6v1.6h-1.6zM67.7 56.4h1.6v1.6h-1.6zM70.7 56.4h1.6v1.6h-1.6zM72.2 56.4h1.6v1.6h-1.6zM73.7 56.4h1.6v1.6h-1.6zM76.7 56.4h1.6v1.6h-1.6zM78.2 56.4h1.6v1.6h-1.6zM79.7 56.4h1.6v1.6h-1.6zM81.2 56.4h1.6v1.6h-1.6zM82.7 56.4h1.6v1.6h-1.6zM85.7 56.4h1.6v1.6h-1.6zM87.2 56.4h1.6v1.6h-1.6zM90.2 56.4h1.6v1.6h-1.6zM93.2 56.4h1.6v1.6h-1.6zM94.7 56.4h1.6v1.6h-1.6zM96.2 56.4h1.6v1.6h-1.6zM97.7 56.4h1.6v1.6h-1.6zM99.2 56.4h1.6v1.6h-1.6zM100.7 56.4h1.6v1.6h-1.6zM102.2 56.4h1.6v1.6h-1.6zM105.2 56.4h1.6v1.6h-1.6zM106.7 56.4h1.6v1.6h-1.6zM108.2 56.4h1.6v1.6h-1.6zM111.2 56.4h1.6v1.6h-1.6zM114.2 56.4h1.6v1.6h-1.6zM115.7 56.4h1.6v1.6h-1.6zM117.2 56.4h1.6v1.6h-1.6zM118.7 56.4h1.6v1.6h-1.6zM124.7 56.4h1.6v1.6h-1.6zM126.2 56.4h1.6v1.6h-1.6zM78.7 26.9h1.6v1.6h-1.6zM65.3 26.7h1.6v1.6h-1.6zM51.3 27.8h1.6v1.6h-1.6zM70.1 27.5h1.6v1.6h-1.6zM67.0 27.6h1.6v1.6h-1.6zM52.0 27.2h1.6v1.6h-1.6zM59.2 27.3h1.6v1.6h-1.6zM64.3 26.9h1.6v1.6h-1.6zM68.9 26.6h1.6v1.6h-1.6zM81.1 27.3h1.6v1.6h-1.6zM50.7 27.2h1.6v1.6h-1.6zM52.1 27.2h1.6v1.6h-1.6zM53.5 27.2h1.6v1.6h-1.6zM54.9 27.2h1.6v1.6h-1.6zM56.3 27.2h1.6v1.6h-1.6zM57.7 27.2h1.6v1.6h-1.6zM59.1 27.2h1.6v1.6h-1.6zM60.5 27.2h1.6v1.6h-1.6zM61.9 27.2h1.6v1.6h-1.6zM63.3 27.2h1.6v1.6h-1.6zM64.7 27.2h1.6v1.6h-1.6zM86.2 30.6h1.6v1.6h-1.6zM63.5 30.3h1.6v1.6h-1.6zM67.2 30.1h1.6v1.6h-1.6zM48.1 30.5h1.6v1.6h-1.6zM70.0 29.7h1.6v1.6h-1.6zM64.0 30.2h1.6v1.6h-1.6zM48.0 30.4h1.6v1.6h-1.6zM55.6 30.0h1.6v1.6h-1.6zM49.7 30.2h1.6v1.6h-1.6zM51.1 30.2h1.6v1.6h-1.6zM52.5 30.2h1.6v1.6h-1.6zM53.9 30.2h1.6v1.6h-1.6zM55.3 30.2h1.6v1.6h-1.6zM56.7 30.2h1.6v1.6h-1.6zM58.1 30.2h1.6v1.6h-1.6zM82.1 32.9h1.6v1.6h-1.6zM81.5 32.7h1.6v1.6h-1.6zM88.2 32.6h1.6v1.6h-1.6zM60.8 33.0h1.6v1.6h-1.6zM85.8 33.6h1.6v1.6h-1.6zM63.2 33.3h1.6v1.6h-1.6zM49.5 33.7h1.6v1.6h-1.6zM69.2 33.7h1.6v1.6h-1.6zM56.9 33.0h1.6v1.6h-1.6zM62.3 33.2h1.6v1.6h-1.6zM63.7 33.2h1.6v1.6h-1.6zM65.1 33.2h1.6v1.6h-1.6zM66.5 33.2h1.6v1.6h-1.6zM67.9 33.2h1.6v1.6h-1.6zM69.3 33.2h1.6v1.6h-1.6zM70.7 33.2h1.6v1.6h-1.6zM72.1 33.2h1.6v1.6h-1.6zM73.5 33.2h1.6v1.6h-1.6zM74.9 33.2h1.6v1.6h-1.6zM58.6 36.7h1.6v1.6h-1.6zM78.3 35.8h1.6v1.6h-1.6zM55.7 36.5h1.6v1.6h-1.6zM89.8 36.6h1.6v1.6h-1.6zM81.0 36.7h1.6v1.6h-1.6zM54.6 35.9h1.6v1.6h-1.6zM81.6 35.8h1.6v1.6h-1.6zM61.3 36.4h1.6v1.6h-1.6zM79.6 36.7h1.6v1.6h-1.6zM64.1 36.7h1.6v1.6h-1.6zM78.6 35.7h1.6v1.6h-1.6zM73.8 36.2h1.6v1.6h-1.6zM61.5 36.2h1.6v1.6h-1.6zM62.9 36.2h1.6v1.6h-1.6zM64.3 36.2h1.6v1.6h-1.6zM65.7 36.2h1.6v1.6h-1.6zM67.1 36.2h1.6v1.6h-1.6zM68.5 36.2h1.6v1.6h-1.6zM69.9 36.2h1.6v1.6h-1.6zM71.3 36.2h1.6v1.6h-1.6zM72.7 36.2h1.6v1.6h-1.6zM89.3 38.7h1.6v1.6h-1.6zM87.2 38.9h1.6v1.6h-1.6zM78.1 38.8h1.6v1.6h-1.6zM74.4 39.5h1.6v1.6h-1.6zM94.8 39.2h1.6v1.6h-1.6zM78.5 39.4h1.6v1.6h-1.6zM82.9 39.5h1.6v1.6h-1.6zM76.3 39.6h1.6v1.6h-1.6zM95.7 38.8h1.6v1.6h-1.6zM80.7 38.9h1.6v1.6h-1.6zM87.9 39.5h1.6v1.6h-1.6zM75.6 38.9h1.6v1.6h-1.6zM55.7 39.3h1.6v1.6h-1.6zM65.0 42.6h1.6v1.6h-1.6zM77.6 43.1h1.6v1.6h-1.6zM93.9 42.7h1.6v1.6h-1.6zM93.6 42.9h1.6v1.6h-1.6zM72.1 42.7h1.6v1.6h-1.6zM86.0 43.2h1.6v1.6h-1.6zM84.5 42.7h1.6v1.6h-1.6zM69.6 42.8h1.6v1.6h-1.6zM76.6 43.0h1.6v1.6h-1.6zM101.6 42.7h1.6v1.6h-1.6zM92.3 43.8h1.6v1.6h-1.6zM78.6 43.5h1.6v1.6h-1.6zM62.5 43.2h1.6v1.6h-1.6zM63.9 43.2h1.6v1.6h-1.6zM65.3 43.2h1.6v1.6h-1.6zM66.7 43.2h1.6v1.6h-1.6zM68.1 43.2h1.6v1.6h-1.6zM69.5 43.2h1.6v1.6h-1.6zM70.9 43.2h1.6v1.6h-1.6zM72.3 43.2h1.6v1.6h-1.6zM73.7 43.2h1.6v1.6h-1.6zM75.1 43.2h1.6v1.6h-1.6zM76.5 43.2h1.6v1.6h-1.6zM77.9 43.2h1.6v1.6h-1.6zM79.3 43.2h1.6v1.6h-1.6zM80.7 43.2h1.6v1.6h-1.6zM82.1 43.2h1.6v1.6h-1.6zM77.7 46.0h1.6v1.6h-1.6zM62.8 45.6h1.6v1.6h-1.6zM71.1 46.3h1.6v1.6h-1.6zM80.9 46.7h1.6v1.6h-1.6zM75.0 46.8h1.6v1.6h-1.6zM78.1 46.4h1.6v1.6h-1.6zM75.3 46.4h1.6v1.6h-1.6zM77.7 46.6h1.6v1.6h-1.6zM95.9 45.9h1.6v1.6h-1.6zM67.8 46.3h1.6v1.6h-1.6zM68.8 45.9h1.6v1.6h-1.6zM73.7 46.1h1.6v1.6h-1.6zM78.9 49.7h1.6v1.6h-1.6zM73.4 49.6h1.6v1.6h-1.6zM72.8 50.1h1.6v1.6h-1.6zM77.8 49.8h1.6v1.6h-1.6zM98.2 50.5h1.6v1.6h-1.6zM75.8 50.1h1.6v1.6h-1.6zM104.1 50.0h1.6v1.6h-1.6zM62.4 50.1h1.6v1.6h-1.6zM61.7 49.8h1.6v1.6h-1.6zM75.3 50.1h1.6v1.6h-1.6zM66.5 50.4h1.6v1.6h-1.6zM96.2 50.4h1.6v1.6h-1.6zM69.9 49.9h1.6v1.6h-1.6zM79.1 50.6h1.6v1.6h-1.6zM65.5 50.2h1.6v1.6h-1.6zM66.9 50.2h1.6v1.6h-1.6zM68.3 50.2h1.6v1.6h-1.6zM69.7 50.2h1.6v1.6h-1.6zM71.1 50.2h1.6v1.6h-1.6zM72.5 50.2h1.6v1.6h-1.6zM73.9 50.2h1.6v1.6h-1.6zM75.3 50.2h1.6v1.6h-1.6zM76.7 50.2h1.6v1.6h-1.6zM78.1 50.2h1.6v1.6h-1.6zM79.5 50.2h1.6v1.6h-1.6zM62.2 53.6h1.6v1.6h-1.6zM96.2 54.7h1.6v1.6h-1.6zM97.2 54.4h1.6v1.6h-1.6zM94.1 53.7h1.6v1.6h-1.6zM81.2 53.7h1.6v1.6h-1.6zM77.7 54.2h1.6v1.6h-1.6zM68.5 54.1h1.6v1.6h-1.6zM69.0 54.4h1.6v1.6h-1.6zM65.0 54.0h1.6v1.6h-1.6zM68.1 54.3h1.6v1.6h-1.6zM81.1 54.0h1.6v1.6h-1.6zM81.8 53.7h1.6v1.6h-1.6zM91.6 54.2h1.6v1.6h-1.6zM73.7 53.6h1.6v1.6h-1.6zM108.1 54.3h1.6v1.6h-1.6zM74.4 54.2h1.6v1.6h-1.6zM75.8 54.2h1.6v1.6h-1.6zM77.2 54.2h1.6v1.6h-1.6zM78.6 54.2h1.6v1.6h-1.6zM80.0 54.2h1.6v1.6h-1.6zM81.4 54.2h1.6v1.6h-1.6zM82.8 54.2h1.6v1.6h-1.6zM84.2 54.2h1.6v1.6h-1.6zM85.6 54.2h1.6v1.6h-1.6zM87.0 54.2h1.6v1.6h-1.6zM95.3 57.7h1.6v1.6h-1.6zM93.1 57.7h1.6v1.6h-1.6zM84.1 56.9h1.6v1.6h-1.6zM111.8 56.6h1.6v1.6h-1.6zM89.3 57.0h1.6v1.6h-1.6zM115.6 56.8h1.6v1.6h-1.6zM73.7 57.4h1.6v1.6h-1.6zM60.9 57.3h1.6v1.6h-1.6zM74.3 57.2h1.6v1.6h-1.6zM95.8 57.3h1.6v1.6h-1.6zM80.3 57.7h1.6v1.6h-1.6zM100.9 57.4h1.6v1.6h-1.6zM95.7 57.2h1.6v1.6h-1.6zM67.3 57.2h1.6v1.6h-1.6zM68.7 57.2h1.6v1.6h-1.6zM70.1 57.2h1.6v1.6h-1.6zM71.5 57.2h1.6v1.6h-1.6zM72.9 57.2h1.6v1.6h-1.6zM74.3 57.2h1.6v1.6h-1.6zM75.7 57.2h1.6v1.6h-1.6zM77.1 57.2h1.6v1.6h-1.6zM78.5 57.2h1.6v1.6h-1.6zM79.9 57.2h1.6v1.6h-1.6zM81.3 57.2h1.6v1.6h-1.6zM82.7 57.2h1.6v1.6h-1.6zM84.1 57.2h1.6v1.6h-1.6zM85.5 57.2h1.6v1.6h-1.6zM86.9 57.2h1.6v1.6h-1.6zM88.3 57.2h1.6v1.6h-1.6zM89.7 57.2h1.6v1.6h-1.6zM77.4 60.9h1.6v1.6h-1.6zM74.1 61.2h1.6v1.6h-1.6zM67.7 60.7h1.6v1.6h-1.6zM103.4 60.7h1.6v1.6h-1.6zM107.1 61.2h1.6v1.6h-1.6zM112.3 61.6h1.6v1.6h-1.6zM78.3 61.2h1.6v1.6h-1.6zM104.0 60.9h1.6v1.6h-1.6zM82.8 61.5h1.6v1.6h-1.6zM103.5 61.3h1.6v1.6h-1.6zM85.2 61.4h1.6v1.6h-1.6zM74.5 60.6h1.6v1.6h-1.6zM102.4 61.1h1.6v1.6h-1.6zM116.1 61.8h1.6v1.6h-1.6zM80.1 61.2h1.6v1.6h-1.6zM81.5 61.2h1.6v1.6h-1.6zM82.9 61.2h1.6v1.6h-1.6zM84.3 61.2h1.6v1.6h-1.6zM85.7 61.2h1.6v1.6h-1.6zM87.1 61.2h1.6v1.6h-1.6zM88.5 61.2h1.6v1.6h-1.6zM89.9 61.2h1.6v1.6h-1.6zM91.3 61.2h1.6v1.6h-1.6zM92.7 61.2h1.6v1.6h-1.6zM83.0 65.5h1.6v1.6h-1.6zM85.5 64.6h1.6v1.6h-1.6zM93.8 65.0h1.6v1.6h-1.6zM111.3 65.6h1.6v1.6h-1.6zM88.8 65.3h1.6v1.6h-1.6zM105.4 65.3h1.6v1.6h-1.6zM76.9 64.7h1.6v1.6h-1.6zM94.1 64.7h1.6v1.6h-1.6zM68.4 65.3h1.6v1.6h-1.6zM101.6 64.9h1.6v1.6h-1.6zM93.8 65.0h1.6v1.6h-1.6zM70.2 64.7h1.6v1.6h-1.6zM71.6 64.8h1.6v1.6h-1.6zM122.0 64.8h1.6v1.6h-1.6zM90.1 65.6h1.6v1.6h-1.6zM70.5 65.3h1.6v1.6h-1.6zM73.4 65.2h1.6v1.6h-1.6zM74.8 65.2h1.6v1.6h-1.6zM76.2 65.2h1.6v1.6h-1.6zM77.6 65.2h1.6v1.6h-1.6zM79.0 65.2h1.6v1.6h-1.6zM80.4 65.2h1.6v1.6h-1.6zM81.8 65.2h1.6v1.6h-1.6zM83.2 65.2h1.6v1.6h-1.6zM84.6 65.2h1.6v1.6h-1.6zM86.0 65.2h1.6v1.6h-1.6zM87.4 65.2h1.6v1.6h-1.6zM88.8 65.2h1.6v1.6h-1.6zM90.2 65.2h1.6v1.6h-1.6zM91.6 65.2h1.6v1.6h-1.6zM93.0 65.2h1.6v1.6h-1.6zM94.4 65.2h1.6v1.6h-1.6zM95.8 65.2h1.6v1.6h-1.6zM97.2 65.2h1.6v1.6h-1.6zM98.6 65.2h1.6v1.6h-1.6zM115.5 69.5h1.6v1.6h-1.6zM71.5 68.8h1.6v1.6h-1.6zM74.1 69.0h1.6v1.6h-1.6zM98.1 68.6h1.6v1.6h-1.6zM122.4 68.6h1.6v1.6h-1.6zM114.3 69.6h1.6v1.6h-1.6zM113.9 69.6h1.6v1.6h-1.6zM121.9 69.1h1.6v1.6h-1.6zM119.7 68.6h1.6v1.6h-1.6zM91.2 69.0h1.6v1.6h-1.6zM104.9 69.0h1.6v1.6h-1.6zM119.4 69.0h1.6v1.6h-1.6zM88.3 69.5h1.6v1.6h-1.6zM110.6 69.3h1.6v1.6h-1.6zM73.9 69.2h1.6v1.6h-1.6zM75.3 69.2h1.6v1.6h-1.6zM76.7 69.2h1.6v1.6h-1.6zM78.1 69.2h1.6v1.6h-1.6zM79.5 69.2h1.6v1.6h-1.6zM80.9 69.2h1.6v1.6h-1.6zM82.3 69.2h1.6v1.6h-1.6zM83.7 69.2h1.6v1.6h-1.6zM85.1 69.2h1.6v1.6h-1.6zM86.5 69.2h1.6v1.6h-1.6zM91.4 73.1h1.6v1.6h-1.6zM99.8 73.1h1.6v1.6h-1.6zM101.7 73.7h1.6v1.6h-1.6zM120.6 73.0h1.6v1.6h-1.6zM126.5 73.1h1.6v1.6h-1.6zM94.6 73.4h1.6v1.6h-1.6zM87.1 73.4h1.6v1.6h-1.6zM82.2 73.0h1.6v1.6h-1.6zM107.1 73.1h1.6v1.6h-1.6zM106.1 73.7h1.6v1.6h-1.6zM103.4 72.7h1.6v1.6h-1.6zM108.8 73.1h1.6v1.6h-1.6zM84.8 73.3h1.6v1.6h-1.6zM73.8 73.4h1.6v1.6h-1.6zM104.8 73.3h1.6v1.6h-1.6zM100.5 78.8h1.6v1.6h-1.6zM115.9 78.8h1.6v1.6h-1.6zM123.4 77.8h1.6v1.6h-1.6zM87.1 78.6h1.6v1.6h-1.6zM130.6 77.7h1.6v1.6h-1.6zM119.9 78.1h1.6v1.6h-1.6zM123.2 77.8h1.6v1.6h-1.6zM110.6 77.7h1.6v1.6h-1.6zM87.6 78.6h1.6v1.6h-1.6zM125.5 78.6h1.6v1.6h-1.6zM94.7 77.7h1.6v1.6h-1.6zM93.5 78.6h1.6v1.6h-1.6zM84.1 78.1h1.6v1.6h-1.6zM133.9 82.8h1.6v1.6h-1.6zM115.0 83.1h1.6v1.6h-1.6zM95.5 83.0h1.6v1.6h-1.6zM111.1 83.4h1.6v1.6h-1.6zM83.0 83.4h1.6v1.6h-1.6zM83.1 82.7h1.6v1.6h-1.6zM87.0 83.8h1.6v1.6h-1.6zM93.8 83.1h1.6v1.6h-1.6zM112.8 83.1h1.6v1.6h-1.6zM102.5 83.2h1.6v1.6h-1.6zM117.1 82.9h1.6v1.6h-1.6zM127.1 82.9h1.6v1.6h-1.6zM86.2 83.2h1.6v1.6h-1.6zM87.6 83.2h1.6v1.6h-1.6zM89.0 83.2h1.6v1.6h-1.6zM90.4 83.2h1.6v1.6h-1.6zM91.8 83.2h1.6v1.6h-1.6zM93.2 83.2h1.6v1.6h-1.6zM94.6 83.2h1.6v1.6h-1.6zM96.0 83.2h1.6v1.6h-1.6zM97.4 83.2h1.6v1.6h-1.6zM98.8 83.2h1.6v1.6h-1.6zM100.2 83.2h1.6v1.6h-1.6zM101.6 83.2h1.6v1.6h-1.6zM103.0 83.2h1.6v1.6h-1.6zM104.4 83.2h1.6v1.6h-1.6zM105.8 83.2h1.6v1.6h-1.6zM107.2 83.2h1.6v1.6h-1.6zM108.6 83.2h1.6v1.6h-1.6zM110.0 83.2h1.6v1.6h-1.6zM111.4 83.2h1.6v1.6h-1.6zM112.8 83.2h1.6v1.6h-1.6zM114.2 83.2h1.6v1.6h-1.6zM122.5 88.3h1.6v1.6h-1.6zM81.3 88.1h1.6v1.6h-1.6zM104.2 88.7h1.6v1.6h-1.6zM119.6 88.4h1.6v1.6h-1.6zM102.4 87.8h1.6v1.6h-1.6zM102.9 88.0h1.6v1.6h-1.6zM83.4 88.7h1.6v1.6h-1.6zM99.5 88.0h1.6v1.6h-1.6zM131.9 88.7h1.6v1.6h-1.6zM115.8 88.2h1.6v1.6h-1.6zM105.6 88.0h1.6v1.6h-1.6zM127.7 88.4h1.6v1.6h-1.6zM105.5 88.1h1.6v1.6h-1.6zM101.4 88.2h1.6v1.6h-1.6zM102.8 88.2h1.6v1.6h-1.6zM104.2 88.2h1.6v1.6h-1.6zM105.6 88.2h1.6v1.6h-1.6zM107.0 88.2h1.6v1.6h-1.6zM108.4 88.2h1.6v1.6h-1.6zM109.8 88.2h1.6v1.6h-1.6zM111.2 88.2h1.6v1.6h-1.6zM112.6 88.2h1.6v1.6h-1.6zM114.0 88.2h1.6v1.6h-1.6zM115.4 88.2h1.6v1.6h-1.6zM116.8 88.2h1.6v1.6h-1.6zM86.2 94.1h1.6v1.6h-1.6zM87.7 94.4h1.6v1.6h-1.6zM130.0 94.5h1.6v1.6h-1.6zM107.5 93.6h1.6v1.6h-1.6zM99.8 94.2h1.6v1.6h-1.6zM84.1 94.5h1.6v1.6h-1.6zM110.0 93.7h1.6v1.6h-1.6zM82.6 94.2h1.6v1.6h-1.6zM127.7 93.9h1.6v1.6h-1.6zM80.4 93.9h1.6v1.6h-1.6zM113.4 94.2h1.6v1.6h-1.6zM132.5 93.8h1.6v1.6h-1.6zM103.4 94.3h1.6v1.6h-1.6zM77.5 93.8h1.6v1.6h-1.6zM90.7 94.2h1.6v1.6h-1.6zM92.1 94.2h1.6v1.6h-1.6zM93.5 94.2h1.6v1.6h-1.6zM94.9 94.2h1.6v1.6h-1.6zM96.3 94.2h1.6v1.6h-1.6zM97.7 94.2h1.6v1.6h-1.6zM99.1 94.2h1.6v1.6h-1.6zM100.5 94.2h1.6v1.6h-1.6zM101.9 94.2h1.6v1.6h-1.6zM103.3 94.2h1.6v1.6h-1.6zM98.1 100.8h1.6v1.6h-1.6zM106.1 99.7h1.6v1.6h-1.6zM84.9 100.7h1.6v1.6h-1.6zM111.2 100.4h1.6v1.6h-1.6zM140.1 100.1h1.6v1.6h-1.6zM128.6 99.9h1.6v1.6h-1.6zM107.0 100.2h1.6v1.6h-1.6zM107.1 100.1h1.6v1.6h-1.6zM135.3 99.7h1.6v1.6h-1.6zM115.3 100.1h1.6v1.6h-1.6zM84.1 100.0h1.6v1.6h-1.6zM110.9 99.9h1.6v1.6h-1.6zM77.8 100.1h1.6v1.6h-1.6zM118.5 100.8h1.6v1.6h-1.6zM118.8 100.0h1.6v1.6h-1.6zM119.6 100.3h1.6v1.6h-1.6zM111.8 100.2h1.6v1.6h-1.6zM83.6 99.9h1.6v1.6h-1.6zM132.6 100.1h1.6v1.6h-1.6zM97.0 100.4h1.6v1.6h-1.6zM145.7 100.6h1.6v1.6h-1.6zM99.2 100.6h1.6v1.6h-1.6zM134.7 105.7h1.6v1.6h-1.6zM146.9 106.5h1.6v1.6h-1.6zM132.8 106.1h1.6v1.6h-1.6zM136.0 106.1h1.6v1.6h-1.6zM112.1 106.1h1.6v1.6h-1.6zM103.0 106.5h1.6v1.6h-1.6zM88.4 106.6h1.6v1.6h-1.6zM88.2 105.7h1.6v1.6h-1.6zM148.3 106.3h1.6v1.6h-1.6zM109.8 106.2h1.6v1.6h-1.6zM142.6 106.2h1.6v1.6h-1.6zM111.0 106.1h1.6v1.6h-1.6zM129.4 106.1h1.6v1.6h-1.6zM133.2 105.8h1.6v1.6h-1.6zM104.9 105.8h1.6v1.6h-1.6zM97.1 106.2h1.6v1.6h-1.6zM98.5 106.2h1.6v1.6h-1.6zM99.9 106.2h1.6v1.6h-1.6zM101.3 106.2h1.6v1.6h-1.6zM102.7 106.2h1.6v1.6h-1.6zM104.1 106.2h1.6v1.6h-1.6zM105.5 106.2h1.6v1.6h-1.6zM106.9 106.2h1.6v1.6h-1.6zM108.3 106.2h1.6v1.6h-1.6zM109.7 106.2h1.6v1.6h-1.6zM111.1 106.2h1.6v1.6h-1.6zM112.5 106.2h1.6v1.6h-1.6zM113.9 106.2h1.6v1.6h-1.6zM115.3 106.2h1.6v1.6h-1.6zM116.7 106.2h1.6v1.6h-1.6zM118.1 106.2h1.6v1.6h-1.6zM119.5 106.2h1.6v1.6h-1.6zM120.9 106.2h1.6v1.6h-1.6zM122.3 106.2h1.6v1.6h-1.6zM125.8 113.6h1.6v1.6h-1.6zM126.5 113.2h1.6v1.6h-1.6zM134.8 112.9h1.6v1.6h-1.6zM137.2 113.3h1.6v1.6h-1.6zM88.4 113.6h1.6v1.6h-1.6zM136.2 113.1h1.6v1.6h-1.6zM119.4 112.9h1.6v1.6h-1.6zM106.1 113.6h1.6v1.6h-1.6zM134.9 113.3h1.6v1.6h-1.6zM94.8 113.7h1.6v1.6h-1.6zM141.2 112.9h1.6v1.6h-1.6zM122.9 113.3h1.6v1.6h-1.6zM139.8 113.3h1.6v1.6h-1.6zM153.4 113.5h1.6v1.6h-1.6zM146.6 113.5h1.6v1.6h-1.6zM101.9 112.6h1.6v1.6h-1.6zM102.2 113.0h1.6v1.6h-1.6zM93.3 113.2h1.6v1.6h-1.6zM104.6 112.9h1.6v1.6h-1.6zM147.7 112.8h1.6v1.6h-1.6zM144.0 120.2h1.6v1.6h-1.6zM100.3 120.7h1.6v1.6h-1.6zM147.5 119.9h1.6v1.6h-1.6zM120.6 120.5h1.6v1.6h-1.6zM133.2 120.0h1.6v1.6h-1.6zM157.9 119.7h1.6v1.6h-1.6zM154.8 119.7h1.6v1.6h-1.6zM160.4 120.0h1.6v1.6h-1.6zM139.7 119.7h1.6v1.6h-1.6zM133.5 120.8h1.6v1.6h-1.6zM101.8 120.2h1.6v1.6h-1.6zM130.7 120.0h1.6v1.6h-1.6zM109.5 120.4h1.6v1.6h-1.6zM128.1 119.7h1.6v1.6h-1.6zM132.7 120.8h1.6v1.6h-1.6zM116.1 120.0h1.6v1.6h-1.6zM133.1 127.3h1.6v1.6h-1.6zM135.0 127.8h1.6v1.6h-1.6zM108.8 127.6h1.6v1.6h-1.6zM103.6 127.6h1.6v1.6h-1.6zM138.9 127.5h1.6v1.6h-1.6zM105.9 127.6h1.6v1.6h-1.6zM123.2 127.0h1.6v1.6h-1.6zM151.2 126.9h1.6v1.6h-1.6zM123.2 127.4h1.6v1.6h-1.6zM116.7 127.7h1.6v1.6h-1.6zM111.2 126.9h1.6v1.6h-1.6zM152.1 127.0h1.6v1.6h-1.6zM143.7 126.9h1.6v1.6h-1.6zM108.1 127.2h1.6v1.6h-1.6zM109.5 127.2h1.6v1.6h-1.6zM110.9 127.2h1.6v1.6h-1.6zM112.3 127.2h1.6v1.6h-1.6zM113.7 127.2h1.6v1.6h-1.6zM115.1 127.2h1.6v1.6h-1.6zM116.5 127.2h1.6v1.6h-1.6zM117.9 127.2h1.6v1.6h-1.6zM119.3 127.2h1.6v1.6h-1.6zM120.7 127.2h1.6v1.6h-1.6zM122.1 127.2h1.6v1.6h-1.6zM123.5 127.2h1.6v1.6h-1.6zM124.9 127.2h1.6v1.6h-1.6zM126.3 127.2h1.6v1.6h-1.6zM127.7 127.2h1.6v1.6h-1.6zM129.1 127.2h1.6v1.6h-1.6zM130.5 127.2h1.6v1.6h-1.6zM131.9 127.2h1.6v1.6h-1.6zM133.3 127.2h1.6v1.6h-1.6zM134.7 127.2h1.6v1.6h-1.6zM136.1 127.2h1.6v1.6h-1.6zM137.5 127.2h1.6v1.6h-1.6zM120.8 135.0h1.6v1.6h-1.6zM155.4 135.4h1.6v1.6h-1.6zM110.0 135.5h1.6v1.6h-1.6zM119.8 135.1h1.6v1.6h-1.6zM129.5 135.7h1.6v1.6h-1.6zM114.0 135.5h1.6v1.6h-1.6zM159.9 135.1h1.6v1.6h-1.6zM146.1 135.5h1.6v1.6h-1.6zM161.8 134.6h1.6v1.6h-1.6zM131.2 134.7h1.6v1.6h-1.6zM118.9 135.7h1.6v1.6h-1.6zM169.7 134.8h1.6v1.6h-1.6zM114.0 135.4h1.6v1.6h-1.6zM130.6 134.7h1.6v1.6h-1.6zM170.3 134.7h1.6v1.6h-1.6zM128.9 134.7h1.6v1.6h-1.6zM117.3 134.7h1.6v1.6h-1.6zM142.4 135.3h1.6v1.6h-1.6zM131.0 135.2h1.6v1.6h-1.6zM132.4 135.2h1.6v1.6h-1.6zM133.8 135.2h1.6v1.6h-1.6zM135.2 135.2h1.6v1.6h-1.6zM136.6 135.2h1.6v1.6h-1.6zM138.0 135.2h1.6v1.6h-1.6zM139.4 135.2h1.6v1.6h-1.6zM140.8 135.2h1.6v1.6h-1.6zM142.2 135.2h1.6v1.6h-1.6zM143.6 135.2h1.6v1.6h-1.6zM145.0 135.2h1.6v1.6h-1.6zM146.4 135.2h1.6v1.6h-1.6zM111.4 143.0h1.6v1.6h-1.6zM117.8 143.0h1.6v1.6h-1.6zM166.9 143.8h1.6v1.6h-1.6zM152.2 143.6h1.6v1.6h-1.6zM120.2 143.7h1.6v1.6h-1.6zM164.6 143.1h1.6v1.6h-1.6zM118.0 142.8h1.6v1.6h-1.6zM106.9 142.9h1.6v1.6h-1.6zM156.0 143.2h1.6v1.6h-1.6zM106.6 143.0h1.6v1.6h-1.6zM125.6 143.3h1.6v1.6h-1.6zM142.1 143.3h1.6v1.6h-1.6zM133.1 143.7h1.6v1.6h-1.6zM147.3 143.2h1.6v1.6h-1.6zM176.3 142.9h1.6v1.6h-1.6zM144.9 143.8h1.6v1.6h-1.6zM118.7 143.5h1.6v1.6h-1.6zM150.7 142.8h1.6v1.6h-1.6zM112.9 143.4h1.6v1.6h-1.6zM148.8 143.2h1.6v1.6h-1.6zM134.8 142.6h1.6v1.6h-1.6zM126.3 143.3h1.6v1.6h-1.6zM108.2 143.2h1.6v1.6h-1.6zM109.6 143.2h1.6v1.6h-1.6zM111.0 143.2h1.6v1.6h-1.6zM112.4 143.2h1.6v1.6h-1.6zM113.8 143.2h1.6v1.6h-1.6zM115.2 143.2h1.6v1.6h-1.6zM116.6 143.2h1.6v1.6h-1.6zM118.0 143.2h1.6v1.6h-1.6zM119.4 143.2h1.6v1.6h-1.6zM120.8 143.2h1.6v1.6h-1.6zM122.2 143.2h1.6v1.6h-1.6zM123.6 143.2h1.6v1.6h-1.6zM125.0 143.2h1.6v1.6h-1.6zM126.4 143.2h1.6v1.6h-1.6zM127.8 143.2h1.6v1.6h-1.6zM129.2 143.2h1.6v1.6h-1.6zM130.6 143.2h1.6v1.6h-1.6zM132.0 143.2h1.6v1.6h-1.6zM133.4 143.2h1.6v1.6h-1.6zM134.8 143.2h1.6v1.6h-1.6zM161.8 152.8h1.6v1.6h-1.6zM146.0 151.7h1.6v1.6h-1.6zM176.7 152.6h1.6v1.6h-1.6zM182.6 152.2h1.6v1.6h-1.6zM154.9 152.7h1.6v1.6h-1.6zM149.1 151.9h1.6v1.6h-1.6zM138.0 151.8h1.6v1.6h-1.6zM177.1 152.6h1.6v1.6h-1.6zM175.6 152.0h1.6v1.6h-1.6zM183.9 151.6h1.6v1.6h-1.6zM138.1 152.6h1.6v1.6h-1.6zM163.8 151.7h1.6v1.6h-1.6zM125.6 152.4h1.6v1.6h-1.6zM168.6 151.7h1.6v1.6h-1.6zM140.8 152.2h1.6v1.6h-1.6zM142.2 152.2h1.6v1.6h-1.6zM143.6 152.2h1.6v1.6h-1.6zM145.0 152.2h1.6v1.6h-1.6zM146.4 152.2h1.6v1.6h-1.6zM147.8 152.2h1.6v1.6h-1.6zM149.2 152.2h1.6v1.6h-1.6zM150.6 152.2h1.6v1.6h-1.6zM152.0 152.2h1.6v1.6h-1.6zM153.4 152.2h1.6v1.6h-1.6zM154.8 152.2h1.6v1.6h-1.6zM156.2 152.2h1.6v1.6h-1.6zM157.6 152.2h1.6v1.6h-1.6zM159.0 152.2h1.6v1.6h-1.6zM160.4 152.2h1.6v1.6h-1.6zM161.8 152.2h1.6v1.6h-1.6zM163.2 152.2h1.6v1.6h-1.6zM164.6 152.2h1.6v1.6h-1.6zM166.0 152.2h1.6v1.6h-1.6zM167.4 152.2h1.6v1.6h-1.6zM168.8 152.2h1.6v1.6h-1.6zM170.2 152.2h1.6v1.6h-1.6zM171.6 152.2h1.6v1.6h-1.6zM147.9 161.0h1.6v1.6h-1.6zM130.2 161.6h1.6v1.6h-1.6zM169.2 161.5h1.6v1.6h-1.6zM142.5 160.9h1.6v1.6h-1.6zM168.8 161.4h1.6v1.6h-1.6zM190.9 161.7h1.6v1.6h-1.6zM192.8 161.3h1.6v1.6h-1.6zM139.6 161.2h1.6v1.6h-1.6zM120.3 161.6h1.6v1.6h-1.6zM154.9 161.5h1.6v1.6h-1.6zM133.3 161.3h1.6v1.6h-1.6zM143.4 160.7h1.6v1.6h-1.6zM145.6 161.2h1.6v1.6h-1.6zM149.7 160.9h1.6v1.6h-1.6zM193.4 160.7h1.6v1.6h-1.6zM171.8 161.5h1.6v1.6h-1.6zM160.3 161.8h1.6v1.6h-1.6zM132.5 161.5h1.6v1.6h-1.6zM129.4 161.3h1.6v1.6h-1.6zM174.4 161.5h1.6v1.6h-1.6zM178.2 161.4h1.6v1.6h-1.6zM151.7 160.7h1.6v1.6h-1.6zM193.0 161.7h1.6v1.6h-1.6zM123.1 160.9h1.6v1.6h-1.6zM131.4 161.2h1.6v1.6h-1.6zM132.8 161.2h1.6v1.6h-1.6zM134.2 161.2h1.6v1.6h-1.6zM135.6 161.2h1.6v1.6h-1.6zM137.0 161.2h1.6v1.6h-1.6zM138.4 161.2h1.6v1.6h-1.6zM139.8 161.2h1.6v1.6h-1.6zM141.2 161.2h1.6v1.6h-1.6zM142.6 161.2h1.6v1.6h-1.6zM144.0 161.2h1.6v1.6h-1.6zM145.4 161.2h1.6v1.6h-1.6zM146.8 161.2h1.6v1.6h-1.6zM148.2 161.2h1.6v1.6h-1.6zM149.6 161.2h1.6v1.6h-1.6zM169.9 171.5h1.6v1.6h-1.6zM176.0 171.4h1.6v1.6h-1.6zM180.8 170.8h1.6v1.6h-1.6zM161.9 170.6h1.6v1.6h-1.6zM155.3 171.2h1.6v1.6h-1.6zM200.2 171.6h1.6v1.6h-1.6zM171.0 171.0h1.6v1.6h-1.6zM148.4 170.9h1.6v1.6h-1.6zM156.9 171.1h1.6v1.6h-1.6zM187.2 171.4h1.6v1.6h-1.6zM153.3 171.1h1.6v1.6h-1.6zM149.3 171.3h1.6v1.6h-1.6zM148.4 171.5h1.6v1.6h-1.6zM161.9 171.7h1.6v1.6h-1.6zM154.1 171.7h1.6v1.6h-1.6zM177.7 171.5h1.6v1.6h-1.6zM181.9 171.7h1.6v1.6h-1.6zM176.3 170.9h1.6v1.6h-1.6zM202.3 171.0h1.6v1.6h-1.6zM157.3 171.5h1.6v1.6h-1.6zM173.1 170.9h1.6v1.6h-1.6zM203.4 170.8h1.6v1.6h-1.6zM170.6 171.6h1.6v1.6h-1.6zM171.2 171.5h1.6v1.6h-1.6zM190.8 182.3h1.6v1.6h-1.6zM215.6 181.8h1.6v1.6h-1.6zM192.7 182.7h1.6v1.6h-1.6zM178.6 182.2h1.6v1.6h-1.6zM143.4 182.4h1.6v1.6h-1.6zM199.7 182.1h1.6v1.6h-1.6zM182.0 182.2h1.6v1.6h-1.6zM215.9 182.3h1.6v1.6h-1.6zM195.5 181.7h1.6v1.6h-1.6zM189.6 182.4h1.6v1.6h-1.6zM152.8 182.0h1.6v1.6h-1.6zM130.9 182.0h1.6v1.6h-1.6zM156.1 182.6h1.6v1.6h-1.6zM144.4 181.7h1.6v1.6h-1.6zM198.6 182.5h1.6v1.6h-1.6zM171.8 182.4h1.6v1.6h-1.6zM200.8 182.6h1.6v1.6h-1.6zM190.6 182.4h1.6v1.6h-1.6zM206.0 181.9h1.6v1.6h-1.6zM156.3 182.1h1.6v1.6h-1.6zM148.3 182.3h1.6v1.6h-1.6zM213.6 182.0h1.6v1.6h-1.6zM166.7 182.6h1.6v1.6h-1.6zM160.0 182.4h1.6v1.6h-1.6zM159.8 182.2h1.6v1.6h-1.6zM161.2 182.2h1.6v1.6h-1.6zM162.6 182.2h1.6v1.6h-1.6zM164.0 182.2h1.6v1.6h-1.6zM165.4 182.2h1.6v1.6h-1.6zM166.8 182.2h1.6v1.6h-1.6zM168.2 182.2h1.6v1.6h-1.6zM169.6 182.2h1.6v1.6h-1.6zM171.0 182.2h1.6v1.6h-1.6zM172.4 182.2h1.6v1.6h-1.6zM173.8 182.2h1.6v1.6h-1.6zM175.2 182.2h1.6v1.6h-1.6zM176.6 182.2h1.6v1.6h-1.6zM178.0 182.2h1.6v1.6h-1.6zM179.4 182.2h1.6v1.6h-1.6zM180.8 182.2h1.6v1.6h-1.6zM182.2 182.2h1.6v1.6h-1.6zM183.6 182.2h1.6v1.6h-1.6zM185.0 182.2h1.6v1.6h-1.6zM186.4 182.2h1.6v1.6h-1.6zM187.8 182.2h1.6v1.6h-1.6zM189.2 182.2h1.6v1.6h-1.6zM190.6 182.2h1.6v1.6h-1.6zM192.0 182.2h1.6v1.6h-1.6zM193.4 182.2h1.6v1.6h-1.6zM194.8 182.2h1.6v1.6h-1.6zM196.2 182.2h1.6v1.6h-1.6zM197.6 182.2h1.6v1.6h-1.6zM199.0 182.2h1.6v1.6h-1.6zM200.4 182.2h1.6v1.6h-1.6zM170.6 193.9h1.6v1.6h-1.6zM204.2 193.7h1.6v1.6h-1.6zM192.7 193.7h1.6v1.6h-1.6zM169.4 194.8h1.6v1.6h-1.6zM144.0 193.6h1.6v1.6h-1.6zM161.3 194.4h1.6v1.6h-1.6zM181.0 193.9h1.6v1.6h-1.6zM170.1 193.9h1.6v1.6h-1.6zM160.1 193.6h1.6v1.6h-1.6zM193.6 193.9h1.6v1.6h-1.6zM219.4 194.2h1.6v1.6h-1.6zM165.2 194.7h1.6v1.6h-1.6zM175.5 194.1h1.6v1.6h-1.6zM181.1 194.2h1.6v1.6h-1.6zM213.6 194.7h1.6v1.6h-1.6zM135.9 194.0h1.6v1.6h-1.6zM214.4 194.3h1.6v1.6h-1.6zM153.0 194.6h1.6v1.6h-1.6zM173.9 194.3h1.6v1.6h-1.6zM158.7 194.8h1.6v1.6h-1.6zM185.8 194.0h1.6v1.6h-1.6zM234.0 193.7h1.6v1.6h-1.6zM148.7 194.1h1.6v1.6h-1.6zM190.6 194.7h1.6v1.6h-1.6zM164.5 194.2h1.6v1.6h-1.6zM165.9 194.2h1.6v1.6h-1.6zM167.3 194.2h1.6v1.6h-1.6zM168.7 194.2h1.6v1.6h-1.6zM170.1 194.2h1.6v1.6h-1.6zM171.5 194.2h1.6v1.6h-1.6zM172.9 194.2h1.6v1.6h-1.6zM174.3 194.2h1.6v1.6h-1.6zM175.7 194.2h1.6v1.6h-1.6zM177.1 194.2h1.6v1.6h-1.6zM178.5 194.2h1.6v1.6h-1.6zM179.9 194.2h1.6v1.6h-1.6zM181.3 194.2h1.6v1.6h-1.6zM182.7 194.2h1.6v1.6h-1.6zM184.1 194.2h1.6v1.6h-1.6zM185.5 194.2h1.6v1.6h-1.6zM186.9 194.2h1.6v1.6h-1.6zM188.3 194.2h1.6v1.6h-1.6zM189.7 194.2h1.6v1.6h-1.6zM191.1 194.2h1.6v1.6h-1.6zM192.5 194.2h1.6v1.6h-1.6zM193.9 194.2h1.6v1.6h-1.6zM195.3 194.2h1.6v1.6h-1.6zM196.7 194.2h1.6v1.6h-1.6zM198.1 194.2h1.6v1.6h-1.6zM199.5 194.2h1.6v1.6h-1.6zM200.9 194.2h1.6v1.6h-1.6zM202.3 194.2h1.6v1.6h-1.6zM186.6 205.7h1.6v1.6h-1.6zM185.0 205.3h1.6v1.6h-1.6zM196.9 205.4h1.6v1.6h-1.6zM164.4 205.4h1.6v1.6h-1.6zM151.0 205.5h1.6v1.6h-1.6zM231.5 205.3h1.6v1.6h-1.6zM202.3 204.9h1.6v1.6h-1.6zM147.5 205.6h1.6v1.6h-1.6zM162.7 204.6h1.6v1.6h-1.6zM187.5 205.7h1.6v1.6h-1.6zM168.0 205.6h1.6v1.6h-1.6zM202.1 205.3h1.6v1.6h-1.6zM195.6 205.1h1.6v1.6h-1.6zM209.4 204.8h1.6v1.6h-1.6zM232.4 204.9h1.6v1.6h-1.6zM227.8 205.4h1.6v1.6h-1.6zM161.4 204.9h1.6v1.6h-1.6zM221.2 205.4h1.6v1.6h-1.6zM209.6 205.2h1.6v1.6h-1.6zM189.1 205.1h1.6v1.6h-1.6zM148.8 204.6h1.6v1.6h-1.6zM174.4 204.8h1.6v1.6h-1.6zM189.9 205.2h1.6v1.6h-1.6zM161.6 205.5h1.6v1.6h-1.6zM223.0 204.6h1.6v1.6h-1.6zM186.9 205.6h1.6v1.6h-1.6zM171.5 205.2h1.6v1.6h-1.6zM172.9 205.2h1.6v1.6h-1.6zM174.3 205.2h1.6v1.6h-1.6zM175.7 205.2h1.6v1.6h-1.6zM177.1 205.2h1.6v1.6h-1.6zM178.5 205.2h1.6v1.6h-1.6zM179.9 205.2h1.6v1.6h-1.6zM181.3 205.2h1.6v1.6h-1.6zM182.7 205.2h1.6v1.6h-1.6zM184.1 205.2h1.6v1.6h-1.6zM185.5 205.2h1.6v1.6h-1.6zM186.9 205.2h1.6v1.6h-1.6zM188.3 205.2h1.6v1.6h-1.6zM189.7 205.2h1.6v1.6h-1.6zM191.1 205.2h1.6v1.6h-1.6zM192.5 205.2h1.6v1.6h-1.6zM193.9 205.2h1.6v1.6h-1.6zM195.3 205.2h1.6v1.6h-1.6zM196.7 205.2h1.6v1.6h-1.6zM198.1 205.2h1.6v1.6h-1.6zM199.5 205.2h1.6v1.6h-1.6zM200.9 205.2h1.6v1.6h-1.6zM202.3 205.2h1.6v1.6h-1.6zM203.7 205.2h1.6v1.6h-1.6zM205.1 205.2h1.6v1.6h-1.6zM206.5 205.2h1.6v1.6h-1.6zM207.9 205.2h1.6v1.6h-1.6zM209.3 205.2h1.6v1.6h-1.6zM61.2 59.0h1.6v1.6h-1.6zM62.7 58.9h1.6v1.6h-1.6zM65.7 59.0h1.6v1.6h-1.6zM67.2 59.4h1.6v1.6h-1.6zM71.7 59.0h1.6v1.6h-1.6zM73.2 59.0h1.6v1.6h-1.6zM74.7 59.0h1.6v1.6h-1.6zM77.7 59.0h1.6v1.6h-1.6zM79.2 59.1h1.6v1.6h-1.6zM64.5 62.1h1.6v1.6h-1.6zM66.0 61.9h1.6v1.6h-1.6zM69.0 62.1h1.6v1.6h-1.6zM70.5 62.4h1.6v1.6h-1.6zM72.0 62.1h1.6v1.6h-1.6zM73.5 62.5h1.6v1.6h-1.6zM75.0 62.1h1.6v1.6h-1.6zM78.0 62.3h1.6v1.6h-1.6zM81.0 62.1h1.6v1.6h-1.6zM82.5 62.4h1.6v1.6h-1.6zM88.5 62.1h1.6v1.6h-1.6zM93.0 62.5h1.6v1.6h-1.6zM69.1 66.4h1.6v1.6h-1.6zM76.6 66.1h1.6v1.6h-1.6zM78.1 66.0h1.6v1.6h-1.6zM81.1 66.3h1.6v1.6h-1.6zM82.6 66.1h1.6v1.6h-1.6zM85.6 66.2h1.6v1.6h-1.6zM90.1 66.1h1.6v1.6h-1.6zM93.1 66.4h1.6v1.6h-1.6zM69.3 68.9h1.6v1.6h-1.6zM70.8 68.9h1.6v1.6h-1.6zM72.3 69.1h1.6v1.6h-1.6zM76.8 69.3h1.6v1.6h-1.6zM78.3 69.2h1.6v1.6h-1.6zM84.3 69.1h1.6v1.6h-1.6zM85.8 69.1h1.6v1.6h-1.6zM88.8 69.3h1.6v1.6h-1.6zM90.3 69.4h1.6v1.6h-1.6zM93.3 69.3h1.6v1.6h-1.6zM94.8 68.9h1.6v1.6h-1.6zM96.3 69.0h1.6v1.6h-1.6zM99.3 69.3h1.6v1.6h-1.6zM68.1 72.5h1.6v1.6h-1.6zM69.6 73.0h1.6v1.6h-1.6zM72.6 73.0h1.6v1.6h-1.6zM74.1 72.6h1.6v1.6h-1.6zM77.1 72.6h1.6v1.6h-1.6zM78.6 72.6h1.6v1.6h-1.6zM80.1 72.8h1.6v1.6h-1.6zM81.6 72.9h1.6v1.6h-1.6zM84.6 72.6h1.6v1.6h-1.6zM75.3 76.4h1.6v1.6h-1.6zM78.3 75.9h1.6v1.6h-1.6zM79.8 76.1h1.6v1.6h-1.6zM82.8 76.2h1.6v1.6h-1.6zM84.3 76.0h1.6v1.6h-1.6zM91.8 76.2h1.6v1.6h-1.6zM93.3 76.4h1.6v1.6h-1.6zM94.8 76.5h1.6v1.6h-1.6zM96.3 76.1h1.6v1.6h-1.6zM97.8 76.1h1.6v1.6h-1.6zM100.8 76.1h1.6v1.6h-1.6zM102.3 76.3h1.6v1.6h-1.6zM103.8 76.0h1.6v1.6h-1.6zM74.9 82.4h1.6v1.6h-1.6zM76.4 82.7h1.6v1.6h-1.6zM77.9 82.2h1.6v1.6h-1.6zM80.9 82.3h1.6v1.6h-1.6zM82.4 82.7h1.6v1.6h-1.6zM85.4 82.6h1.6v1.6h-1.6zM86.9 82.5h1.6v1.6h-1.6zM89.9 82.8h1.6v1.6h-1.6zM91.4 82.3h1.6v1.6h-1.6zM94.4 82.2h1.6v1.6h-1.6zM97.4 82.7h1.6v1.6h-1.6zM100.4 82.2h1.6v1.6h-1.6zM103.4 82.4h1.6v1.6h-1.6zM106.4 82.6h1.6v1.6h-1.6zM107.9 82.8h1.6v1.6h-1.6zM73.6 89.2h1.6v1.6h-1.6zM78.1 89.1h1.6v1.6h-1.6zM79.6 89.1h1.6v1.6h-1.6zM84.1 89.1h1.6v1.6h-1.6zM85.6 88.9h1.6v1.6h-1.6zM90.1 89.1h1.6v1.6h-1.6zM94.6 88.9h1.6v1.6h-1.6zM96.1 88.9h1.6v1.6h-1.6zM99.1 89.2h1.6v1.6h-1.6zM100.6 89.0h1.6v1.6h-1.6zM102.1 89.4h1.6v1.6h-1.6zM105.1 89.2h1.6v1.6h-1.6zM106.6 89.2h1.6v1.6h-1.6zM75.0 95.6h1.6v1.6h-1.6zM76.5 95.8h1.6v1.6h-1.6zM78.0 95.6h1.6v1.6h-1.6zM85.5 95.8h1.6v1.6h-1.6zM87.0 95.6h1.6v1.6h-1.6zM88.5 95.9h1.6v1.6h-1.6zM91.5 95.6h1.6v1.6h-1.6zM93.0 95.5h1.6v1.6h-1.6zM97.5 95.6h1.6v1.6h-1.6zM100.5 95.9h1.6v1.6h-1.6zM102.0 95.7h1.6v1.6h-1.6zM103.5 95.6h1.6v1.6h-1.6zM105.0 95.6h1.6v1.6h-1.6zM108.0 95.8h1.6v1.6h-1.6zM111.0 95.5h1.6v1.6h-1.6zM112.5 95.4h1.6v1.6h-1.6zM77.9 101.8h1.6v1.6h-1.6zM79.4 101.9h1.6v1.6h-1.6zM80.9 102.2h1.6v1.6h-1.6zM82.4 102.2h1.6v1.6h-1.6zM85.4 101.7h1.6v1.6h-1.6zM88.4 101.9h1.6v1.6h-1.6zM89.9 101.7h1.6v1.6h-1.6zM91.4 101.7h1.6v1.6h-1.6zM94.4 102.1h1.6v1.6h-1.6zM100.4 102.1h1.6v1.6h-1.6zM103.4 101.9h1.6v1.6h-1.6zM104.9 101.9h1.6v1.6h-1.6zM109.4 102.1h1.6v1.6h-1.6zM112.4 101.7h1.6v1.6h-1.6zM80.8 104.9h1.6v1.6h-1.6zM82.3 104.9h1.6v1.6h-1.6zM83.8 105.1h1.6v1.6h-1.6zM85.3 105.1h1.6v1.6h-1.6zM88.3 104.9h1.6v1.6h-1.6zM89.8 105.1h1.6v1.6h-1.6zM91.3 104.8h1.6v1.6h-1.6zM94.3 105.0h1.6v1.6h-1.6zM95.8 104.9h1.6v1.6h-1.6zM97.3 104.9h1.6v1.6h-1.6zM98.8 105.0h1.6v1.6h-1.6zM100.3 104.7h1.6v1.6h-1.6zM101.8 104.9h1.6v1.6h-1.6zM103.3 104.6h1.6v1.6h-1.6zM78.0 108.7h1.6v1.6h-1.6zM81.0 108.7h1.6v1.6h-1.6zM85.5 108.3h1.6v1.6h-1.6zM87.0 108.3h1.6v1.6h-1.6zM91.5 108.3h1.6v1.6h-1.6zM93.0 108.3h1.6v1.6h-1.6zM99.0 108.5h1.6v1.6h-1.6zM100.5 108.4h1.6v1.6h-1.6zM102.0 108.6h1.6v1.6h-1.6zM105.0 108.5h1.6v1.6h-1.6zM106.5 108.2h1.6v1.6h-1.6zM108.0 108.4h1.6v1.6h-1.6zM109.5 108.2h1.6v1.6h-1.6zM111.0 108.8h1.6v1.6h-1.6zM114.0 108.4h1.6v1.6h-1.6zM90.1 114.2h1.6v1.6h-1.6zM93.1 113.9h1.6v1.6h-1.6zM94.6 113.8h1.6v1.6h-1.6zM97.6 114.2h1.6v1.6h-1.6zM100.6 113.9h1.6v1.6h-1.6zM102.1 114.3h1.6v1.6h-1.6zM105.1 114.1h1.6v1.6h-1.6zM106.6 114.1h1.6v1.6h-1.6zM109.6 114.3h1.6v1.6h-1.6zM117.1 114.4h1.6v1.6h-1.6zM118.6 114.3h1.6v1.6h-1.6zM120.1 114.0h1.6v1.6h-1.6zM97.5 121.5h1.6v1.6h-1.6zM100.5 121.0h1.6v1.6h-1.6zM102.0 121.2h1.6v1.6h-1.6zM103.5 121.6h1.6v1.6h-1.6zM105.0 121.5h1.6v1.6h-1.6zM106.5 121.1h1.6v1.6h-1.6zM109.5 121.1h1.6v1.6h-1.6zM111.0 121.0h1.6v1.6h-1.6zM112.5 121.3h1.6v1.6h-1.6zM114.0 121.3h1.6v1.6h-1.6zM115.5 121.0h1.6v1.6h-1.6zM118.5 121.3h1.6v1.6h-1.6zM120.0 121.2h1.6v1.6h-1.6zM121.5 121.2h1.6v1.6h-1.6zM123.0 121.1h1.6v1.6h-1.6zM124.5 121.3h1.6v1.6h-1.6zM126.0 121.5h1.6v1.6h-1.6zM127.5 121.3h1.6v1.6h-1.6zM129.0 121.0h1.6v1.6h-1.6zM130.5 121.5h1.6v1.6h-1.6zM132.0 121.3h1.6v1.6h-1.6zM133.5 121.5h1.6v1.6h-1.6zM135.0 121.5h1.6v1.6h-1.6zM100.1 127.9h1.6v1.6h-1.6zM104.6 128.1h1.6v1.6h-1.6zM107.6 128.1h1.6v1.6h-1.6zM109.1 127.9h1.6v1.6h-1.6zM110.6 128.2h1.6v1.6h-1.6zM112.1 127.9h1.6v1.6h-1.6zM113.6 128.1h1.6v1.6h-1.6zM115.1 128.0h1.6v1.6h-1.6zM116.6 128.1h1.6v1.6h-1.6zM118.1 127.7h1.6v1.6h-1.6zM124.1 127.6h1.6v1.6h-1.6zM128.6 128.2h1.6v1.6h-1.6zM130.1 127.6h1.6v1.6h-1.6zM131.6 127.8h1.6v1.6h-1.6zM133.1 128.1h1.6v1.6h-1.6zM136.1 127.9h1.6v1.6h-1.6zM110.7 75.8h1.6v1.6h-1.6zM74.6 45.5h1.6v1.6h-1.6zM110.7 101.1h1.6v1.6h-1.6zM122.4 105.7h1.6v1.6h-1.6zM228.7 199.1h1.6v1.6h-1.6zM216.0 193.1h1.6v1.6h-1.6zM82.2 67.4h1.6v1.6h-1.6zM128.9 110.3h1.6v1.6h-1.6zM130.1 137.4h1.6v1.6h-1.6zM175.1 208.7h1.6v1.6h-1.6zM48.8 28.8h1.6v1.6h-1.6zM106.7 63.9h1.6v1.6h-1.6zM132.1 180.7h1.6v1.6h-1.6zM83.2 69.0h1.6v1.6h-1.6zM195.4 170.7h1.6v1.6h-1.6zM78.0 73.9h1.6v1.6h-1.6zM232.7 204.1h1.6v1.6h-1.6zM152.6 157.8h1.6v1.6h-1.6zM179.6 163.4h1.6v1.6h-1.6zM113.6 119.4h1.6v1.6h-1.6zM140.9 122.4h1.6v1.6h-1.6zM114.5 85.2h1.6v1.6h-1.6zM110.6 52.3h1.6v1.6h-1.6zM79.2 64.3h1.6v1.6h-1.6zM230.6 202.9h1.6v1.6h-1.6zM219.5 196.4h1.6v1.6h-1.6zM201.0 182.2h1.6v1.6h-1.6zM107.8 130.0h1.6v1.6h-1.6zM183.2 160.6h1.6v1.6h-1.6zM132.1 180.2h1.6v1.6h-1.6zM82.9 36.5h1.6v1.6h-1.6zM151.4 115.5h1.6v1.6h-1.6zM186.8 208.5h1.6v1.6h-1.6zM162.1 150.2h1.6v1.6h-1.6zM141.0 153.5h1.6v1.6h-1.6zM110.7 143.5h1.6v1.6h-1.6zM203.6 191.7h1.6v1.6h-1.6zM162.8 173.7h1.6v1.6h-1.6zM90.7 63.1h1.6v1.6h-1.6zM153.5 151.1h1.6v1.6h-1.6zM59.3 45.3h1.6v1.6h-1.6zM93.4 98.8h1.6v1.6h-1.6zM80.8 67.1h1.6v1.6h-1.6zM126.9 102.1h1.6v1.6h-1.6zM202.1 194.1h1.6v1.6h-1.6zM79.7 29.0h1.6v1.6h-1.6zM158.3 137.8h1.6v1.6h-1.6zM131.1 138.7h1.6v1.6h-1.6zM81.6 88.0h1.6v1.6h-1.6zM111.8 148.0h1.6v1.6h-1.6zM182.5 151.2h1.6v1.6h-1.6zM156.3 148.8h1.6v1.6h-1.6zM203.3 174.7h1.6v1.6h-1.6zM206.4 175.5h1.6v1.6h-1.6zM83.2 110.2h1.6v1.6h-1.6zM152.2 138.9h1.6v1.6h-1.6zM185.3 184.9h1.6v1.6h-1.6zM77.3 92.4h1.6v1.6h-1.6zM180.3 178.9h1.6v1.6h-1.6zM199.3 207.5h1.6v1.6h-1.6zM197.6 183.0h1.6v1.6h-1.6zM188.2 208.5h1.6v1.6h-1.6zM170.2 191.2h1.6v1.6h-1.6zM56.9 27.3h1.6v1.6h-1.6zM139.0 90.2h1.6v1.6h-1.6zM95.3 98.3h1.6v1.6h-1.6zM119.1 153.0h1.6v1.6h-1.6zM98.1 81.7h1.6v1.6h-1.6zM88.5 48.2h1.6v1.6h-1.6zM135.4 103.4h1.6v1.6h-1.6zM136.6 88.0h1.6v1.6h-1.6zM93.8 61.4h1.6v1.6h-1.6zM69.4 67.1h1.6v1.6h-1.6zM126.9 81.0h1.6v1.6h-1.6zM102.2 79.1h1.6v1.6h-1.6zM115.5 122.1h1.6v1.6h-1.6zM104.2 124.1h1.6v1.6h-1.6zM95.0 89.8h1.6v1.6h-1.6zM189.1 176.1h1.6v1.6h-1.6zM160.1 154.8h1.6v1.6h-1.6zM197.8 185.5h1.6v1.6h-1.6zM56.0 35.4h1.6v1.6h-1.6zM185.5 163.6h1.6v1.6h-1.6zM215.5 208.2h1.6v1.6h-1.6zM90.7 54.4h1.6v1.6h-1.6zM150.8 140.7h1.6v1.6h-1.6zM108.3 50.1h1.6v1.6h-1.6zM113.6 119.6h1.6v1.6h-1.6zM180.3 206.7h1.6v1.6h-1.6zM82.2 38.1h1.6v1.6h-1.6zM84.1 73.2h1.6v1.6h-1.6zM110.2 81.2h1.6v1.6h-1.6zM115.5 84.4h1.6v1.6h-1.6zM231.8 192.7h1.6v1.6h-1.6zM220.4 189.7h1.6v1.6h-1.6zM116.7 72.0h1.6v1.6h-1.6zM82.6 41.8h1.6v1.6h-1.6zM58.5 39.2h1.6v1.6h-1.6zM152.1 200.7h1.6v1.6h-1.6zM157.0 157.9h1.6v1.6h-1.6zM72.8 25.4h1.6v1.6h-1.6zM89.5 36.4h1.6v1.6h-1.6zM167.7 176.6h1.6v1.6h-1.6zM82.9 107.8h1.6v1.6h-1.6zM115.8 154.7h1.6v1.6h-1.6zM157.8 122.5h1.6v1.6h-1.6zM118.8 150.6h1.6v1.6h-1.6zM171.3 158.6h1.6v1.6h-1.6zM122.9 86.1h1.6v1.6h-1.6zM131.7 132.3h1.6v1.6h-1.6zM116.4 122.5h1.6v1.6h-1.6zM124.7 78.3h1.6v1.6h-1.6zM125.1 89.9h1.6v1.6h-1.6zM89.2 93.1h1.6v1.6h-1.6zM79.1 25.5h1.6v1.6h-1.6zM197.2 164.2h1.6v1.6h-1.6zM108.7 134.2h1.6v1.6h-1.6zM62.8 55.4h1.6v1.6h-1.6zM150.8 138.5h1.6v1.6h-1.6zM169.1 202.0h1.6v1.6h-1.6zM81.6 68.4h1.6v1.6h-1.6zM61.3 52.4h1.6v1.6h-1.6zM121.1 116.5h1.6v1.6h-1.6zM138.5 93.3h1.6v1.6h-1.6zM124.4 83.2h1.6v1.6h-1.6zM106.4 123.7h1.6v1.6h-1.6zM71.1 30.7h1.6v1.6h-1.6zM134.4 186.9h1.6v1.6h-1.6zM131.5 155.1h1.6v1.6h-1.6zM177.1 152.3h1.6v1.6h-1.6zM135.9 159.7h1.6v1.6h-1.6zM112.0 54.1h1.6v1.6h-1.6zM227.5 194.6h1.6v1.6h-1.6zM103.9 125.3h1.6v1.6h-1.6zM135.9 93.4h1.6v1.6h-1.6zM65.4 37.6h1.6v1.6h-1.6zM85.0 33.0h1.6v1.6h-1.6zM82.4 90.6h1.6v1.6h-1.6zM90.0 91.1h1.6v1.6h-1.6zM123.6 105.4h1.6v1.6h-1.6zM114.3 146.9h1.6v1.6h-1.6zM103.6 124.1h1.6v1.6h-1.6zM138.4 106.9h1.6v1.6h-1.6zM117.8 73.8h1.6v1.6h-1.6zM92.3 70.4h1.6v1.6h-1.6zM124.9 171.8h1.6v1.6h-1.6zM136.5 127.7h1.6v1.6h-1.6zM190.0 157.4h1.6v1.6h-1.6zM129.7 153.7h1.6v1.6h-1.6zM91.6 62.0h1.6v1.6h-1.6zM104.8 77.3h1.6v1.6h-1.6zM87.6 41.8h1.6v1.6h-1.6zM81.7 102.3h1.6v1.6h-1.6zM104.3 47.5h1.6v1.6h-1.6zM206.4 182.3h1.6v1.6h-1.6zM143.4 97.3h1.6v1.6h-1.6zM101.0 56.7h1.6v1.6h-1.6zM158.9 199.4h1.6v1.6h-1.6zM48.5 26.0h1.6v1.6h-1.6zM91.1 40.7h1.6v1.6h-1.6zM139.3 137.3h1.6v1.6h-1.6zM89.5 46.4h1.6v1.6h-1.6zM66.4 50.5h1.6v1.6h-1.6zM149.5 135.1h1.6v1.6h-1.6zM191.7 173.4h1.6v1.6h-1.6zM75.1 50.6h1.6v1.6h-1.6zM85.2 51.8h1.6v1.6h-1.6zM81.4 30.4h1.6v1.6h-1.6zM174.4 151.3h1.6v1.6h-1.6zM152.6 115.5h1.6v1.6h-1.6zM198.4 179.7h1.6v1.6h-1.6zM143.5 174.3h1.6v1.6h-1.6zM80.9 89.1h1.6v1.6h-1.6zM158.7 166.6h1.6v1.6h-1.6zM172.5 207.7h1.6v1.6h-1.6zM141.1 105.0h1.6v1.6h-1.6zM213.0 204.4h1.6v1.6h-1.6zM218.9 188.5h1.6v1.6h-1.6zM107.4 75.5h1.6v1.6h-1.6zM81.1 37.0h1.6v1.6h-1.6zM188.5 201.4h1.6v1.6h-1.6zM89.5 52.2h1.6v1.6h-1.6zM72.2 37.3h1.6v1.6h-1.6zM73.3 40.0h1.6v1.6h-1.6zM187.2 176.5h1.6v1.6h-1.6zM169.7 183.1h1.6v1.6h-1.6zM84.4 106.8h1.6v1.6h-1.6zM169.6 171.2h1.6v1.6h-1.6zM87.5 100.7h1.6v1.6h-1.6zM86.6 110.0h1.6v1.6h-1.6zM63.1 47.4h1.6v1.6h-1.6zM88.7 103.8h1.6v1.6h-1.6zM178.5 178.3h1.6v1.6h-1.6zM180.6 185.6h1.6v1.6h-1.6zM75.1 54.7h1.6v1.6h-1.6zM178.6 180.5h1.6v1.6h-1.6zM155.4 144.8h1.6v1.6h-1.6zM57.5 34.1h1.6v1.6h-1.6zM139.6 105.0h1.6v1.6h-1.6zM196.0 199.7h1.6v1.6h-1.6zM74.6 73.2h1.6v1.6h-1.6zM128.7 128.6h1.6v1.6h-1.6zM157.1 197.4h1.6v1.6h-1.6zM66.7 63.1h1.6v1.6h-1.6zM79.0 30.5h1.6v1.6h-1.6zM144.0 186.4h1.6v1.6h-1.6zM67.2 28.0h1.6v1.6h-1.6zM104.6 70.8h1.6v1.6h-1.6zM208.9 193.9h1.6v1.6h-1.6zM107.7 77.0h1.6v1.6h-1.6zM117.5 78.8h1.6v1.6h-1.6zM119.9 73.0h1.6v1.6h-1.6zM180.5 150.7h1.6v1.6h-1.6zM136.0 89.2h1.6v1.6h-1.6zM121.6 132.9h1.6v1.6h-1.6zM130.1 144.9h1.6v1.6h-1.6zM61.1 46.2h1.6v1.6h-1.6zM122.6 138.1h1.6v1.6h-1.6zM93.6 43.7h1.6v1.6h-1.6zM98.6 51.5h1.6v1.6h-1.6zM93.3 75.7h1.6v1.6h-1.6zM218.5 197.7h1.6v1.6h-1.6zM211.1 179.6h1.6v1.6h-1.6zM172.0 136.9h1.6v1.6h-1.6zM148.9 140.4h1.6v1.6h-1.6zM98.9 85.1h1.6v1.6h-1.6zM119.4 130.6h1.6v1.6h-1.6zM173.0 144.0h1.6v1.6h-1.6zM133.5 158.5h1.6v1.6h-1.6zM60.9 30.3h1.6v1.6h-1.6zM140.1 105.5h1.6v1.6h-1.6zM134.5 126.4h1.6v1.6h-1.6zM144.8 137.3h1.6v1.6h-1.6zM153.9 150.7h1.6v1.6h-1.6zM116.9 127.4h1.6v1.6h-1.6zM80.7 48.1h1.6v1.6h-1.6zM222.2 189.2h1.6v1.6h-1.6zM107.3 79.4h1.6v1.6h-1.6zM126.7 121.1h1.6v1.6h-1.6zM106.0 58.2h1.6v1.6h-1.6zM66.0 41.0h1.6v1.6h-1.6zM84.7 76.8h1.6v1.6h-1.6zM68.5 61.0h1.6v1.6h-1.6zM109.4 122.1h1.6v1.6h-1.6zM152.5 144.1h1.6v1.6h-1.6zM141.5 140.8h1.6v1.6h-1.6zM126.7 138.5h1.6v1.6h-1.6zM132.8 111.0h1.6v1.6h-1.6zM107.5 65.0h1.6v1.6h-1.6zM170.7 133.5h1.6v1.6h-1.6zM145.8 139.2h1.6v1.6h-1.6zM144.5 167.3h1.6v1.6h-1.6zM105.1 94.1h1.6v1.6h-1.6zM174.3 161.1h1.6v1.6h-1.6zM116.2 59.5h1.6v1.6h-1.6zM190.3 206.9h1.6v1.6h-1.6zM202.4 209.4h1.6v1.6h-1.6zM82.4 96.4h1.6v1.6h-1.6zM68.2 28.4h1.6v1.6h-1.6zM164.2 158.1h1.6v1.6h-1.6zM158.1 170.0h1.6v1.6h-1.6zM166.1 162.5h1.6v1.6h-1.6zM147.6 142.5h1.6v1.6h-1.6zM152.5 148.6h1.6v1.6h-1.6zM86.9 42.0h1.6v1.6h-1.6zM147.3 155.4h1.6v1.6h-1.6zM187.8 204.6h1.6v1.6h-1.6zM88.5 56.0h1.6v1.6h-1.6zM87.6 91.4h1.6v1.6h-1.6zM147.5 189.6h1.6v1.6h-1.6zM128.0 157.0h1.6v1.6h-1.6zM161.4 120.9h1.6v1.6h-1.6zM94.7 41.6h1.6v1.6h-1.6zM80.6 26.3h1.6v1.6h-1.6zM177.9 193.3h1.6v1.6h-1.6zM141.1 143.2h1.6v1.6h-1.6zM79.7 55.5h1.6v1.6h-1.6zM142.7 106.8h1.6v1.6h-1.6zM84.6 46.3h1.6v1.6h-1.6zM123.8 112.4h1.6v1.6h-1.6zM172.4 171.8h1.6v1.6h-1.6zM133.2 85.0h1.6v1.6h-1.6zM123.8 136.0h1.6v1.6h-1.6zM157.0 126.5h1.6v1.6h-1.6zM76.1 33.8h1.6v1.6h-1.6zM111.6 115.4h1.6v1.6h-1.6zM72.6 54.7h1.6v1.6h-1.6zM110.3 106.1h1.6v1.6h-1.6zM124.0 136.5h1.6v1.6h-1.6zM140.5 139.9h1.6v1.6h-1.6zM189.2 172.4h1.6v1.6h-1.6zM123.3 69.1h1.6v1.6h-1.6zM122.6 126.3h1.6v1.6h-1.6zM110.8 72.3h1.6v1.6h-1.6zM128.9 106.0h1.6v1.6h-1.6zM119.1 72.6h1.6v1.6h-1.6zM120.7 74.1h1.6v1.6h-1.6zM108.9 106.3h1.6v1.6h-1.6zM138.8 132.1h1.6v1.6h-1.6zM137.3 126.6h1.6v1.6h-1.6zM210.9 200.9h1.6v1.6h-1.6zM101.2 42.3h1.6v1.6h-1.6zM46.9 28.1h1.6v1.6h-1.6zM149.9 176.6h1.6v1.6h-1.6zM53.3 30.6h1.6v1.6h-1.6zM149.0 116.8h1.6v1.6h-1.6zM51.8 28.9h1.6v1.6h-1.6zM46.6 27.6h1.6v1.6h-1.6zM104.7 83.5h1.6v1.6h-1.6zM203.0 204.4h1.6v1.6h-1.6zM181.8 183.3h1.6v1.6h-1.6zM201.1 193.6h1.6v1.6h-1.6zM90.6 69.6h1.6v1.6h-1.6zM98.6 113.9h1.6v1.6h-1.6zM183.7 196.2h1.6v1.6h-1.6zM92.3 62.2h1.6v1.6h-1.6zM148.0 174.2h1.6v1.6h-1.6zM110.6 133.9h1.6v1.6h-1.6zM80.7 69.9h1.6v1.6h-1.6zM140.0 118.7h1.6v1.6h-1.6zM106.4 67.3h1.6v1.6h-1.6zM155.6 133.6h1.6v1.6h-1.6zM177.4 209.4h1.6v1.6h-1.6zM188.1 209.5h1.6v1.6h-1.6zM107.6 119.5h1.6v1.6h-1.6zM84.4 40.9h1.6v1.6h-1.6zM60.6 44.3h1.6v1.6h-1.6zM79.7 40.8h1.6v1.6h-1.6zM79.0 61.5h1.6v1.6h-1.6zM156.9 167.1h1.6v1.6h-1.6zM95.4 52.4h1.6v1.6h-1.6zM202.4 209.2h1.6v1.6h-1.6zM119.5 107.5h1.6v1.6h-1.6zM179.8 155.2h1.6v1.6h-1.6zM143.5 170.5h1.6v1.6h-1.6zM131.3 169.5h1.6v1.6h-1.6zM84.5 48.9h1.6v1.6h-1.6zM94.1 59.3h1.6v1.6h-1.6zM127.4 77.7h1.6v1.6h-1.6zM137.8 105.4h1.6v1.6h-1.6zM182.7 200.0h1.6v1.6h-1.6zM160.7 167.4h1.6v1.6h-1.6zM85.2 99.1h1.6v1.6h-1.6zM180.1 147.0h1.6v1.6h-1.6zM136.2 152.4h1.6v1.6h-1.6zM121.4 122.3h1.6v1.6h-1.6zM129.2 97.6h1.6v1.6h-1.6zM62.1 26.4h1.6v1.6h-1.6zM106.0 119.9h1.6v1.6h-1.6zM137.2 160.7h1.6v1.6h-1.6zM94.2 99.8h1.6v1.6h-1.6zM135.0 135.7h1.6v1.6h-1.6zM144.2 151.7h1.6v1.6h-1.6zM167.4 170.2h1.6v1.6h-1.6zM81.5 44.6h1.6v1.6h-1.6zM88.0 72.0h1.6v1.6h-1.6zM185.7 200.6h1.6v1.6h-1.6zM130.3 161.9h1.6v1.6h-1.6zM114.3 141.7h1.6v1.6h-1.6zM75.0 66.2h1.6v1.6h-1.6zM82.2 29.8h1.6v1.6h-1.6zM176.9 203.6h1.6v1.6h-1.6zM72.8 27.5h1.6v1.6h-1.6zM111.0 147.8h1.6v1.6h-1.6zM126.8 167.0h1.6v1.6h-1.6zM112.0 68.3h1.6v1.6h-1.6zM140.1 167.1h1.6v1.6h-1.6zM147.7 119.2h1.6v1.6h-1.6zM142.5 136.9h1.6v1.6h-1.6zM66.5 59.4h1.6v1.6h-1.6zM92.5 60.0h1.6v1.6h-1.6zM136.9 135.5h1.6v1.6h-1.6zM149.0 142.9h1.6v1.6h-1.6zM137.9 144.6h1.6v1.6h-1.6zM174.4 181.0h1.6v1.6h-1.6zM224.3 188.1h1.6v1.6h-1.6zM192.0 178.3h1.6v1.6h-1.6zM155.2 152.9h1.6v1.6h-1.6zM76.8 71.0h1.6v1.6h-1.6zM126.8 147.5h1.6v1.6h-1.6zM145.4 138.5h1.6v1.6h-1.6zM136.0 137.5h1.6v1.6h-1.6zM86.8 69.5h1.6v1.6h-1.6zM182.7 154.1h1.6v1.6h-1.6zM94.5 84.2h1.6v1.6h-1.6zM112.0 108.0h1.6v1.6h-1.6zM163.3 142.2h1.6v1.6h-1.6zM185.7 167.2h1.6v1.6h-1.6zM193.2 159.4h1.6v1.6h-1.6zM113.3 108.2h1.6v1.6h-1.6zM130.7 145.7h1.6v1.6h-1.6zM162.8 178.6h1.6v1.6h-1.6zM135.7 128.2h1.6v1.6h-1.6zM77.7 92.6h1.6v1.6h-1.6zM100.2 76.7h1.6v1.6h-1.6zM153.5 201.2h1.6v1.6h-1.6zM229.3 192.2h1.6v1.6h-1.6zM146.7 171.6h1.6v1.6h-1.6zM79.9 28.8h1.6v1.6h-1.6zM65.8 37.9h1.6v1.6h-1.6zM203.6 198.9h1.6v1.6h-1.6zM196.2 177.6h1.6v1.6h-1.6zM90.0 58.2h1.6v1.6h-1.6zM74.6 42.7h1.6v1.6h-1.6zM147.3 116.9h1.6v1.6h-1.6zM112.2 78.7h1.6v1.6h-1.6zM72.9 51.3h1.6v1.6h-1.6zM75.9 36.0h1.6v1.6h-1.6zM153.0 133.7h1.6v1.6h-1.6zM144.5 102.9h1.6v1.6h-1.6zM160.9 158.9h1.6v1.6h-1.6zM146.6 186.8h1.6v1.6h-1.6zM105.9 79.3h1.6v1.6h-1.6zM172.5 136.1h1.6v1.6h-1.6zM113.4 150.8h1.6v1.6h-1.6zM184.1 199.9h1.6v1.6h-1.6zM107.9 63.2h1.6v1.6h-1.6zM170.3 141.4h1.6v1.6h-1.6zM118.0 127.2h1.6v1.6h-1.6zM117.3 112.2h1.6v1.6h-1.6zM156.0 91.4h1.6v1.6h-1.6zM118.3 53.3h1.6v1.6h-1.6zM107.9 47.5h1.6v1.6h-1.6zM187.7 124.0h1.6v1.6h-1.6zM189.2 100.9h1.6v1.6h-1.6zM199.0 139.6h1.6v1.6h-1.6zM172.8 79.0h1.6v1.6h-1.6zM173.4 90.6h1.6v1.6h-1.6zM180.4 71.1h1.6v1.6h-1.6zM194.9 153.6h1.6v1.6h-1.6zM200.7 162.7h1.6v1.6h-1.6zM153.3 97.7h1.6v1.6h-1.6zM146.2 88.1h1.6v1.6h-1.6zM124.3 55.4h1.6v1.6h-1.6zM131.0 42.8h1.6v1.6h-1.6zM163.0 91.7h1.6v1.6h-1.6zM217.2 105.7h1.6v1.6h-1.6zM251.4 190.6h1.6v1.6h-1.6zM262.5 183.3h1.6v1.6h-1.6zM244.9 200.1h1.6v1.6h-1.6zM177.7 136.7h1.6v1.6h-1.6zM149.1 93.7h1.6v1.6h-1.6zM182.2 142.2h1.6v1.6h-1.6zM202.1 167.0h1.6v1.6h-1.6zM162.3 104.7h1.6v1.6h-1.6zM236.7 183.5h1.6v1.6h-1.6zM132.5 53.0h1.6v1.6h-1.6zM142.0 69.4h1.6v1.6h-1.6zM205.1 102.9h1.6v1.6h-1.6zM160.0 109.6h1.6v1.6h-1.6zM191.7 83.5h1.6v1.6h-1.6zM144.9 90.7h1.6v1.6h-1.6zM184.9 125.8h1.6v1.6h-1.6zM236.8 202.0h1.6v1.6h-1.6zM160.5 87.1h1.6v1.6h-1.6zM181.2 118.3h1.6v1.6h-1.6zM191.9 152.0h1.6v1.6h-1.6zM95.6 34.7h1.6v1.6h-1.6zM137.6 82.4h1.6v1.6h-1.6zM133.8 79.1h1.6v1.6h-1.6zM99.7 30.1h1.6v1.6h-1.6zM204.3 167.7h1.6v1.6h-1.6zM126.0 42.9h1.6v1.6h-1.6zM101.7 40.1h1.6v1.6h-1.6zM165.9 117.4h1.6v1.6h-1.6zM217.8 172.8h1.6v1.6h-1.6zM171.8 123.6h1.6v1.6h-1.6zM117.6 30.4h1.6v1.6h-1.6zM176.9 98.4h1.6v1.6h-1.6zM115.3 45.1h1.6v1.6h-1.6zM168.6 126.7h1.6v1.6h-1.6zM147.1 39.2h1.6v1.6h-1.6zM190.0 127.5h1.6v1.6h-1.6zM190.1 138.3h1.6v1.6h-1.6zM135.6 57.5h1.6v1.6h-1.6zM173.9 108.5h1.6v1.6h-1.6zM96.4 33.1h1.6v1.6h-1.6zM132.3 46.4h1.6v1.6h-1.6zM164.3 115.3h1.6v1.6h-1.6zM217.8 172.1h1.6v1.6h-1.6zM141.1 79.8h1.6v1.6h-1.6zM81.7 25.6h1.6v1.6h-1.6zM147.6 32.1h1.6v1.6h-1.6zM243.3 190.3h1.6v1.6h-1.6zM249.3 202.1h1.6v1.6h-1.6zM193.2 153.3h1.6v1.6h-1.6zM169.4 107.2h1.6v1.6h-1.6zM167.3 102.1h1.6v1.6h-1.6zM158.4 89.7h1.6v1.6h-1.6zM133.8 64.3h1.6v1.6h-1.6zM164.6 105.7h1.6v1.6h-1.6zM98.2 35.6h1.6v1.6h-1.6zM198.9 159.7h1.6v1.6h-1.6zM251.5 114.8h1.6v1.6h-1.6zM203.7 139.8h1.6v1.6h-1.6zM154.1 98.1h1.6v1.6h-1.6zM201.2 167.1h1.6v1.6h-1.6zM162.8 113.3h1.6v1.6h-1.6zM191.7 129.9h1.6v1.6h-1.6zM236.9 187.1h1.6v1.6h-1.6zM194.1 155.2h1.6v1.6h-1.6zM235.8 149.2h1.6v1.6h-1.6zM193.0 140.9h1.6v1.6h-1.6zM171.4 121.3h1.6v1.6h-1.6zM122.3 58.9h1.6v1.6h-1.6zM219.5 174.6h1.6v1.6h-1.6zM106.4 32.4h1.6v1.6h-1.6zM234.4 181.4h1.6v1.6h-1.6zM173.1 59.1h1.6v1.6h-1.6zM131.5 59.4h1.6v1.6h-1.6zM159.2 111.7h1.6v1.6h-1.6zM132.6 75.4h1.6v1.6h-1.6zM117.1 56.7h1.6v1.6h-1.6zM205.7 146.6h1.6v1.6h-1.6zM181.3 72.5h1.6v1.6h-1.6zM161.4 104.8h1.6v1.6h-1.6zM254.1 199.5h1.6v1.6h-1.6zM181.5 112.8h1.6v1.6h-1.6zM205.4 164.4h1.6v1.6h-1.6zM120.4 38.3h1.6v1.6h-1.6zM216.3 165.8h1.6v1.6h-1.6zM131.7 47.2h1.6v1.6h-1.6zM146.5 58.2h1.6v1.6h-1.6zM200.2 142.1h1.6v1.6h-1.6zM106.2 39.3h1.6v1.6h-1.6zM199.9 163.0h1.6v1.6h-1.6zM98.9 32.5h1.6v1.6h-1.6zM239.6 185.5h1.6v1.6h-1.6zM125.7 68.4h1.6v1.6h-1.6zM250.5 182.5h1.6v1.6h-1.6zM198.0 157.0h1.6v1.6h-1.6zM200.4 166.3h1.6v1.6h-1.6zM124.2 57.6h1.6v1.6h-1.6zM236.0 205.1h1.6v1.6h-1.6zM139.0 55.4h1.6v1.6h-1.6zM207.5 168.5h1.6v1.6h-1.6zM132.9 39.5h1.6v1.6h-1.6zM117.2 55.5h1.6v1.6h-1.6zM145.2 65.0h1.6v1.6h-1.6zM156.5 70.0h1.6v1.6h-1.6zM122.7 49.9h1.6v1.6h-1.6zM152.9 59.4h1.6v1.6h-1.6zM148.1 39.5h1.6v1.6h-1.6zM136.1 72.6h1.6v1.6h-1.6zM101.7 26.3h1.6v1.6h-1.6zM143.1 55.1h1.6v1.6h-1.6zM126.8 66.1h1.6v1.6h-1.6zM132.4 61.0h1.6v1.6h-1.6zM101.5 36.5h1.6v1.6h-1.6zM133.7 44.5h1.6v1.6h-1.6zM123.0 54.8h1.6v1.6h-1.6zM117.3 27.7h1.6v1.6h-1.6zM162.4 65.8h1.6v1.6h-1.6zM125.1 67.6h1.6v1.6h-1.6zM112.6 40.0h1.6v1.6h-1.6zM138.2 40.9h1.6v1.6h-1.6zM93.9 35.8h1.6v1.6h-1.6zM110.3 49.3h1.6v1.6h-1.6zM101.9 26.3h1.6v1.6h-1.6zM134.5 57.6h1.6v1.6h-1.6zM102.4 28.5h1.6v1.6h-1.6zM120.9 53.2h1.6v1.6h-1.6zM98.6 36.9h1.6v1.6h-1.6zM120.9 51.0h1.6v1.6h-1.6zM140.9 56.6h1.6v1.6h-1.6zM119.1 39.7h1.6v1.6h-1.6zM127.4 38.8h1.6v1.6h-1.6zM113.4 35.8h1.6v1.6h-1.6zM157.3 64.8h1.6v1.6h-1.6zM166.8 53.6h1.6v1.6h-1.6zM165.7 78.4h1.6v1.6h-1.6zM111.1 44.3h1.6v1.6h-1.6zM121.4 58.8h1.6v1.6h-1.6zM93.9 34.3h1.6v1.6h-1.6zM129.9 60.2h1.6v1.6h-1.6zM164.6 74.9h1.6v1.6h-1.6zM122.6 53.7h1.6v1.6h-1.6zM102.8 42.2h1.6v1.6h-1.6zM132.3 30.7h1.6v1.6h-1.6zM100.3 40.9h1.6v1.6h-1.6zM141.4 78.1h1.6v1.6h-1.6zM136.5 66.9h1.6v1.6h-1.6zM132.3 77.5h1.6v1.6h-1.6zM133.2 50.5h1.6v1.6h-1.6zM136.0 26.0h1.6v1.6h-1.6zM127.8 43.1h1.6v1.6h-1.6zM86.7 29.0h1.6v1.6h-1.6zM119.6 29.4h1.6v1.6h-1.6zM115.5 53.6h1.6v1.6h-1.6zM138.9 67.1h1.6v1.6h-1.6zM145.6 67.3h1.6v1.6h-1.6zM119.4 55.6h1.6v1.6h-1.6zM91.2 32.5h1.6v1.6h-1.6zM115.6 48.3h1.6v1.6h-1.6zM130.9 76.7h1.6v1.6h-1.6zM125.5 66.1h1.6v1.6h-1.6zM143.0 30.3h1.6v1.6h-1.6zM114.5 36.7h1.6v1.6h-1.6zM127.4 56.6h1.6v1.6h-1.6zM107.0 43.8h1.6v1.6h-1.6zM130.9 62.6h1.6v1.6h-1.6zM154.7 57.4h1.6v1.6h-1.6zM96.8 28.8h1.6v1.6h-1.6zM163.1 43.9h1.6v1.6h-1.6zM123.0 58.5h1.6v1.6h-1.6zM109.9 49.7h1.6v1.6h-1.6zM114.1 52.7h1.6v1.6h-1.6zM104.6 32.2h1.6v1.6h-1.6zM119.0 54.0h1.6v1.6h-1.6zM124.4 56.5h1.6v1.6h-1.6zM122.0 63.0h1.6v1.6h-1.6zM138.6 70.6h1.6v1.6h-1.6zM99.0 34.1h1.6v1.6h-1.6zM120.6 58.9h1.6v1.6h-1.6zM133.6 74.4h1.6v1.6h-1.6zM108.7 47.1h1.6v1.6h-1.6zM96.7 34.9h1.6v1.6h-1.6zM136.7 54.5h1.6v1.6h-1.6zM94.8 32.5h1.6v1.6h-1.6zM123.3 57.6h1.6v1.6h-1.6zM107.5 26.2h1.6v1.6h-1.6zM162.5 72.0h1.6v1.6h-1.6zM131.2 71.3h1.6v1.6h-1.6zM121.1 41.6h1.6v1.6h-1.6zM139.5 58.3h1.6v1.6h-1.6zM120.4 54.8h1.6v1.6h-1.6zM97.9 37.7h1.6v1.6h-1.6zM102.6 27.8h1.6v1.6h-1.6zM131.4 29.4h1.6v1.6h-1.6zM133.5 77.0h1.6v1.6h-1.6zM151.8 77.3h1.6v1.6h-1.6zM90.5 25.0h1.6v1.6h-1.6zM112.5 44.4h1.6v1.6h-1.6zM90.2 28.4h1.6v1.6h-1.6zM93.7 25.6h1.6v1.6h-1.6zM116.6 51.0h1.6v1.6h-1.6zM147.3 51.9h1.6v1.6h-1.6zM134.6 44.0h1.6v1.6h-1.6zM132.9 67.1h1.6v1.6h-1.6zM131.6 65.0h1.6v1.6h-1.6zM103.4 34.1h1.6v1.6h-1.6zM115.2 30.9h1.6v1.6h-1.6zM112.0 38.4h1.6v1.6h-1.6zM144.4 68.8h1.6v1.6h-1.6zM156.5 74.2h1.6v1.6h-1.6zM150.2 62.4h1.6v1.6h-1.6zM140.5 57.1h1.6v1.6h-1.6zM131.2 54.7h1.6v1.6h-1.6zM137.2 76.0h1.6v1.6h-1.6zM107.9 35.1h1.6v1.6h-1.6zM128.6 41.7h1.6v1.6h-1.6zM118.7 59.4h1.6v1.6h-1.6zM115.1 36.1h1.6v1.6h-1.6zM131.3 46.3h1.6v1.6h-1.6zM112.7 50.3h1.6v1.6h-1.6zM106.9 29.7h1.6v1.6h-1.6zM138.6 58.1h1.6v1.6h-1.6zM127.6 52.2h1.6v1.6h-1.6zM145.2 48.4h1.6v1.6h-1.6zM155.7 61.1h1.6v1.6h-1.6zM133.2 79.1h1.6v1.6h-1.6zM99.9 36.3h1.6v1.6h-1.6zM109.7 37.0h1.6v1.6h-1.6zM155.4 73.2h1.6v1.6h-1.6zM165.6 56.7h1.6v1.6h-1.6zM130.7 75.0h1.6v1.6h-1.6zM137.9 77.3h1.6v1.6h-1.6zM148.6 58.2h1.6v1.6h-1.6zM107.8 40.7h1.6v1.6h-1.6zM162.3 74.0h1.6v1.6h-1.6zM132.9 77.9h1.6v1.6h-1.6zM147.9 58.8h1.6v1.6h-1.6zM158.4 76.8h1.6v1.6h-1.6zM101.2 40.0h1.6v1.6h-1.6zM98.0 34.1h1.6v1.6h-1.6zM124.0 55.8h1.6v1.6h-1.6zM91.7 32.8h1.6v1.6h-1.6zM82.8 25.4h1.6v1.6h-1.6zM86.4 25.4h1.6v1.6h-1.6zM90.0 25.8h1.6v1.6h-1.6zM95.4 25.4h1.6v1.6h-1.6zM99.0 25.0h1.6v1.6h-1.6zM104.4 25.1h1.6v1.6h-1.6zM106.2 25.7h1.6v1.6h-1.6zM111.6 25.1h1.6v1.6h-1.6zM117.0 25.0h1.6v1.6h-1.6zM118.8 25.3h1.6v1.6h-1.6zM120.6 25.1h1.6v1.6h-1.6zM122.4 25.5h1.6v1.6h-1.6zM129.6 25.5h1.6v1.6h-1.6zM131.4 25.7h1.6v1.6h-1.6zM140.4 25.3h1.6v1.6h-1.6zM142.2 25.5h1.6v1.6h-1.6zM144.0 25.6h1.6v1.6h-1.6zM145.8 24.9h1.6v1.6h-1.6zM71.9 77.5h1.6v1.6h-1.6zM104.1 134.6h1.6v1.6h-1.6zM117.9 171.2h1.6v1.6h-1.6zM68.2 76.2h1.6v1.6h-1.6zM69.8 77.8h1.6v1.6h-1.6zM70.3 72.7h1.6v1.6h-1.6zM96.3 124.5h1.6v1.6h-1.6zM99.1 154.0h1.6v1.6h-1.6zM78.8 107.8h1.6v1.6h-1.6zM70.7 89.5h1.6v1.6h-1.6zM82.1 112.5h1.6v1.6h-1.6zM74.2 87.1h1.6v1.6h-1.6zM125.5 180.5h1.6v1.6h-1.6zM124.6 177.2h1.6v1.6h-1.6zM104.0 143.5h1.6v1.6h-1.6zM88.9 118.6h1.6v1.6h-1.6zM68.4 71.4h1.6v1.6h-1.6zM74.9 95.9h1.6v1.6h-1.6zM80.1 108.2h1.6v1.6h-1.6zM105.2 142.8h1.6v1.6h-1.6zM75.3 93.7h1.6v1.6h-1.6zM67.3 85.4h1.6v1.6h-1.6zM104.9 158.7h1.6v1.6h-1.6zM72.8 78.5h1.6v1.6h-1.6zM75.8 104.6h1.6v1.6h-1.6zM119.3 180.1h1.6v1.6h-1.6zM129.0 183.9h1.6v1.6h-1.6zM63.8 63.2h1.6v1.6h-1.6zM97.8 121.4h1.6v1.6h-1.6zM81.4 110.0h1.6v1.6h-1.6zM128.3 185.9h1.6v1.6h-1.6zM78.8 105.4h1.6v1.6h-1.6zM128.2 182.2h1.6v1.6h-1.6zM97.9 122.9h1.6v1.6h-1.6zM50.7 94.9h1.6v1.6h-1.6zM111.9 162.8h1.6v1.6h-1.6zM63.4 110.7h1.6v1.6h-1.6zM133.4 199.2h1.6v1.6h-1.6zM76.8 92.1h1.6v1.6h-1.6zM101.5 138.2h1.6v1.6h-1.6zM97.1 184.3h1.6v1.6h-1.6zM126.5 177.6h1.6v1.6h-1.6zM136.5 202.0h1.6v1.6h-1.6zM65.9 64.7h1.6v1.6h-1.6zM129.6 198.2h1.6v1.6h-1.6zM115.7 166.6h1.6v1.6h-1.6zM51.5 62.5h1.6v1.6h-1.6zM70.9 102.4h1.6v1.6h-1.6zM101.4 137.4h1.6v1.6h-1.6zM92.0 135.5h1.6v1.6h-1.6zM125.9 180.3h1.6v1.6h-1.6zM127.9 182.8h1.6v1.6h-1.6zM80.0 109.8h1.6v1.6h-1.6zM65.3 66.0h1.6v1.6h-1.6zM45.5 59.5h1.6v1.6h-1.6zM124.6 177.8h1.6v1.6h-1.6zM67.8 68.1h1.6v1.6h-1.6zM122.5 171.2h1.6v1.6h-1.6zM69.2 72.9h1.6v1.6h-1.6zM104.7 143.0h1.6v1.6h-1.6zM87.3 113.9h1.6v1.6h-1.6zM118.9 167.2h1.6v1.6h-1.6zM140.7 202.9h1.6v1.6h-1.6zM121.6 168.0h1.6v1.6h-1.6zM127.4 191.9h1.6v1.6h-1.6zM67.4 84.3h1.6v1.6h-1.6zM129.1 187.3h1.6v1.6h-1.6zM113.8 187.1h1.6v1.6h-1.6zM74.6 110.8h1.6v1.6h-1.6zM115.0 163.6h1.6v1.6h-1.6z"/>
<path d="M70.0 38.0L78.0 45.0L84.5 52.2L90.7 60.9L99.4 74.5L104.5 85.0L110.0 98.0L114.8 113.0L119.2 117.4L126.5 121.8L136.7 130.5L139.6 136.4L146.0 146.0L152.9 157.2L157.3 162.3L164.6 178.4L171.9 187.2L179.9 195.2L185.0 211.2" fill="none" stroke="#6e6e6e" stroke-width="1.2" stroke-linejoin="round" stroke-linecap="round"/>
<path d="M39.7 25.6L40.6 44.8L41.8 81.9L42.4 120.0L42.8 150.0L42.6 180.0L42.3 205.5" fill="none" stroke="#d95f02" stroke-width="1.5" stroke-linejoin="round" stroke-linecap="round"/>
<path d="M60.4 25.6L72.2 31.1L82.0 39.8L87.0 49.7L89.5 60.9L88.3 75.7L85.8 94.3L83.3 120.0L81.7 131.9L81.0 153.8L81.0 205.6" fill="none" stroke="#7570b3" stroke-width="1.5" stroke-linejoin="round" stroke-linecap="round"/>
<path d="M56.7 25.6L67.2 33.6L75.9 41.0L84.5 48.5L90.0 57.5L94.4 64.6L98.8 67.7L104.3 74.5L111.9 82.3L119.2 98.4L128.0 108.6L138.2 118.8L148.4 134.9L150.7 140.4L152.2 149.2L151.5 162.3L150.0 175.5L150.0 187.2L152.2 194.5L154.1 205.4" fill="none" stroke="#1b9e77" stroke-width="1.6" stroke-linejoin="round" stroke-linecap="round"/>
<rect x="163.90" y="4.90" width="20.10" height="14.40" fill="#d9d9d9"/>
<line x1="164.50" y1="12.30" x2="183.50" y2="12.30" stroke="#777" stroke-width="1.2" stroke-dasharray="8.5 2.5"/>
<text x="188.9" y="15.8">Pacific data</text>
<line x1="164.00" y1="34.50" x2="183.00" y2="34.50" stroke="#7570b3" stroke-width="1.5"/>
<text x="188.9" y="37.9">POM</text>
<line x1="164.00" y1="62.20" x2="183.00" y2="62.20" stroke="#d95f02" stroke-width="1.5"/>
<text x="188.9" y="66.2">POM + MnO<tspan font-size="7.5" dy="2.5">2</tspan></text>
<line x1="164.00" y1="90.20" x2="183.00" y2="90.20" stroke="#1b9e77" stroke-width="1.5"/>
<text x="188.9" y="88.1">POM + MnO<tspan font-size="7.5" dy="2.5">2</tspan></text>
<text x="188.9" y="102.0">+ benthic flux</text>
<line x1="35.50" y1="25.00" x2="35.50" y2="219.30" stroke="#3a3a3a" stroke-width="0.9"/>
<line x1="31.50" y1="25.00" x2="35.50" y2="25.00" stroke="#3a3a3a" stroke-width="0.9"/>
<text x="26.5" y="28.8" text-anchor="end">0</text>
<line x1="31.50" y1="57.38" x2="35.50" y2="57.38" stroke="#3a3a3a" stroke-width="0.9"/>
<text x="26.5" y="61.2" text-anchor="end">1</text>
<line x1="31.50" y1="89.76" x2="35.50" y2="89.76" stroke="#3a3a3a" stroke-width="0.9"/>
<text x="26.5" y="93.6" text-anchor="end">2</text>
<line x1="31.50" y1="122.14" x2="35.50" y2="122.14" stroke="#3a3a3a" stroke-width="0.9"/>
<text x="26.5" y="125.9" text-anchor="end">3</text>
<line x1="31.50" y1="154.52" x2="35.50" y2="154.52" stroke="#3a3a3a" stroke-width="0.9"/>
<text x="26.5" y="158.3" text-anchor="end">4</text>
<line x1="31.50" y1="186.90" x2="35.50" y2="186.90" stroke="#3a3a3a" stroke-width="0.9"/>
<text x="26.5" y="190.7" text-anchor="end">5</text>
<line x1="31.50" y1="219.28" x2="35.50" y2="219.28" stroke="#3a3a3a" stroke-width="0.9"/>
<text x="26.5" y="223.1" text-anchor="end">6</text>
<text transform="translate(9.3,122.0) rotate(-90)" text-anchor="middle">Water depth (km)</text>
<line x1="31.50" y1="219.30" x2="266.00" y2="219.30" stroke="#3a3a3a" stroke-width="0.9"/>
<line x1="35.50" y1="219.30" x2="35.50" y2="223.30" stroke="#3a3a3a" stroke-width="0.9"/>
<text x="35.5" y="236.4" text-anchor="middle">0</text>
<line x1="73.92" y1="219.30" x2="73.92" y2="223.30" stroke="#3a3a3a" stroke-width="0.9"/>
<text x="73.9" y="236.4" text-anchor="middle">10</text>
<line x1="112.34" y1="219.30" x2="112.34" y2="223.30" stroke="#3a3a3a" stroke-width="0.9"/>
<text x="112.3" y="236.4" text-anchor="middle">20</text>
<line x1="150.76" y1="219.30" x2="150.76" y2="223.30" stroke="#3a3a3a" stroke-width="0.9"/>
<text x="150.8" y="236.4" text-anchor="middle">30</text>
<line x1="189.18" y1="219.30" x2="189.18" y2="223.30" stroke="#3a3a3a" stroke-width="0.9"/>
<text x="189.2" y="236.4" text-anchor="middle">40</text>
<line x1="227.60" y1="219.30" x2="227.60" y2="223.30" stroke="#3a3a3a" stroke-width="0.9"/>
<text x="227.6" y="236.4" text-anchor="middle">50</text>
<line x1="266.02" y1="219.30" x2="266.02" y2="223.30" stroke="#3a3a3a" stroke-width="0.9"/>
<text x="266.0" y="236.4" text-anchor="middle">60</text>
<text x="150.7" y="255.0" text-anchor="middle">Nd (pmol l<tspan font-size="7.5" dy="-4">−1</tspan><tspan dy="4">)</tspan></text>
<path d="M88.9 305.8H188.7M91.5 309.7H183.5M94.2 313.6H180.9M95.5 317.6H178.2M96.8 321.5H179.5M99.4 325.5H175.6M100.7 330.7H179.5M103.4 334.7H183.5M104.7 338.6H186.1M107.3 342.5H186.1M108.6 347.3H188.7M111.2 352.5H199.3M113.9 357.8H205.8M115.2 363.0H215.0M116.5 368.8H221.6M119.1 374.6H225.5M121.7 381.1H232.3M127.2 387.7H222.5M129.4 395.3H206.0M130.5 402.3H203.9M133.8 410.2H198.4M137.1 418.3H196.2M137.1 426.6H178.7M138.0 435.8H178.7M134.9 445.3H178.7M134.9 455.1H184.1M134.9 465.0H176.5M137.1 475.9H146.5M153.5 475.9H156.0" stroke="#151515" stroke-width="0.95" fill="none"/>
<path fill="#444" d="M195.3 305.3h1v1h-1zM196.4 305.3h1v1h-1zM196.9 305.3h1v1h-1zM198.2 305.3h1v1h-1zM191.2 309.2h1v1h-1zM192.8 309.2h1v1h-1zM184.8 309.2h1v1h-1zM188.7 309.2h1v1h-1zM190.4 313.1h1v1h-1zM187.7 313.1h1v1h-1zM190.0 313.1h1v1h-1zM182.9 313.1h1v1h-1zM183.4 317.1h1v1h-1zM181.4 317.1h1v1h-1zM184.1 317.1h1v1h-1zM184.4 317.1h1v1h-1zM180.6 321.0h1v1h-1zM182.5 321.0h1v1h-1zM183.0 321.0h1v1h-1zM188.7 321.0h1v1h-1zM183.5 325.0h1v1h-1zM178.0 325.0h1v1h-1zM183.8 325.0h1v1h-1zM177.8 325.0h1v1h-1zM186.1 330.2h1v1h-1zM181.6 330.2h1v1h-1zM180.5 330.2h1v1h-1zM188.3 330.2h1v1h-1zM186.4 334.2h1v1h-1zM186.4 334.2h1v1h-1zM193.3 334.2h1v1h-1zM192.4 334.2h1v1h-1zM189.7 338.1h1v1h-1zM195.8 338.1h1v1h-1zM192.0 338.1h1v1h-1zM193.2 338.1h1v1h-1zM188.9 342.0h1v1h-1zM195.6 342.0h1v1h-1zM193.3 342.0h1v1h-1zM195.8 342.0h1v1h-1zM197.7 346.8h1v1h-1zM192.4 346.8h1v1h-1zM193.0 346.8h1v1h-1zM191.2 346.8h1v1h-1zM201.6 352.0h1v1h-1zM200.9 352.0h1v1h-1zM203.0 352.0h1v1h-1zM205.7 352.0h1v1h-1zM206.8 357.3h1v1h-1zM212.9 357.3h1v1h-1zM209.8 357.3h1v1h-1zM209.6 357.3h1v1h-1zM223.4 362.5h1v1h-1zM220.3 362.5h1v1h-1zM218.8 362.5h1v1h-1zM220.3 362.5h1v1h-1zM228.9 368.3h1v1h-1zM223.1 368.3h1v1h-1zM231.4 368.3h1v1h-1zM222.8 368.3h1v1h-1zM233.2 374.1h1v1h-1zM234.1 374.1h1v1h-1zM226.7 374.1h1v1h-1zM233.6 374.1h1v1h-1zM236.6 380.6h1v1h-1zM238.5 380.6h1v1h-1zM233.4 380.6h1v1h-1zM233.7 380.6h1v1h-1zM225.1 387.2h1v1h-1zM232.1 387.2h1v1h-1zM225.3 387.2h1v1h-1zM230.3 387.2h1v1h-1zM215.4 394.8h1v1h-1zM215.5 394.8h1v1h-1zM210.1 394.8h1v1h-1zM210.2 394.8h1v1h-1zM209.6 401.8h1v1h-1zM211.9 401.8h1v1h-1zM205.9 401.8h1v1h-1zM211.6 401.8h1v1h-1z"/>
<path d="M67.5 294.7L217.6 294.7L217.0 297.0L205.0 299.5L190.0 302.0L170.0 304.0L120.0 304.5L95.0 303.0L80.0 300.0L70.0 297.0Z" fill="#111"/>
<path d="M80.0 300.0L95.0 303.0L120.0 304.5L170.0 304.0L190.0 302.0L196.0 303.5L185.0 306.0L150.0 306.5L110.0 306.5L92.0 305.0Z" fill="#777"/>
<g fill="#e69f00"><circle cx="147.7" cy="352.4" r="1.75"/><circle cx="143.9" cy="361.6" r="1.75"/><circle cx="138.6" cy="308.7" r="1.75"/><circle cx="157.6" cy="359.9" r="1.75"/><circle cx="157.2" cy="324.1" r="1.75"/><circle cx="140.2" cy="322.4" r="1.75"/><circle cx="147.8" cy="322.6" r="1.75"/><circle cx="149.6" cy="312.2" r="1.75"/><circle cx="151.9" cy="345.7" r="1.75"/><circle cx="145.9" cy="306.0" r="1.75"/><circle cx="136.0" cy="364.2" r="1.75"/><circle cx="143.9" cy="317.7" r="1.75"/><circle cx="151.1" cy="339.8" r="1.75"/><circle cx="136.2" cy="329.1" r="1.75"/><circle cx="148.2" cy="306.5" r="1.75"/><circle cx="144.7" cy="333.6" r="1.75"/><circle cx="157.1" cy="355.0" r="1.75"/><circle cx="157.9" cy="361.9" r="1.75"/><circle cx="147.1" cy="342.1" r="1.75"/><circle cx="141.4" cy="329.9" r="1.75"/><circle cx="150.7" cy="312.3" r="1.75"/><circle cx="139.1" cy="331.1" r="1.75"/><circle cx="162.4" cy="365.0" r="1.75"/><circle cx="124.1" cy="331.1" r="1.75"/><circle cx="144.5" cy="333.3" r="1.75"/><circle cx="134.7" cy="321.0" r="1.75"/><circle cx="151.9" cy="328.0" r="1.75"/><circle cx="153.7" cy="364.3" r="1.75"/><circle cx="137.8" cy="362.5" r="1.75"/><circle cx="137.6" cy="324.0" r="1.75"/><circle cx="143.6" cy="308.5" r="1.75"/><circle cx="163.3" cy="356.8" r="1.75"/><circle cx="149.9" cy="325.4" r="1.75"/><circle cx="129.2" cy="346.1" r="1.75"/><circle cx="146.6" cy="344.2" r="1.75"/><circle cx="136.5" cy="346.7" r="1.75"/><circle cx="128.9" cy="320.4" r="1.75"/><circle cx="147.5" cy="345.8" r="1.75"/><circle cx="159.6" cy="321.2" r="1.75"/><circle cx="141.1" cy="339.0" r="1.75"/><circle cx="138.7" cy="303.7" r="1.75"/><circle cx="143.8" cy="344.6" r="1.75"/><circle cx="151.9" cy="331.7" r="1.75"/><circle cx="132.8" cy="352.5" r="1.75"/><circle cx="135.9" cy="324.6" r="1.75"/><circle cx="133.1" cy="354.3" r="1.75"/><circle cx="157.1" cy="324.7" r="1.75"/><circle cx="129.1" cy="345.7" r="1.75"/><circle cx="157.6" cy="363.5" r="1.75"/><circle cx="142.7" cy="335.8" r="1.75"/><circle cx="158.2" cy="313.3" r="1.75"/><circle cx="125.9" cy="332.6" r="1.75"/><circle cx="142.9" cy="345.9" r="1.75"/><circle cx="130.1" cy="313.7" r="1.75"/><circle cx="133.1" cy="351.4" r="1.75"/><circle cx="138.8" cy="329.1" r="1.75"/><circle cx="148.2" cy="341.7" r="1.75"/><circle cx="131.9" cy="347.7" r="1.75"/><circle cx="151.8" cy="304.7" r="1.75"/><circle cx="155.1" cy="343.3" r="1.75"/><circle cx="140.5" cy="316.6" r="1.75"/><circle cx="133.0" cy="305.6" r="1.75"/><circle cx="146.5" cy="332.2" r="1.75"/><circle cx="149.3" cy="311.3" r="1.75"/><circle cx="148.7" cy="322.7" r="1.75"/><circle cx="152.0" cy="305.2" r="1.75"/><circle cx="136.0" cy="331.9" r="1.75"/><circle cx="155.4" cy="339.6" r="1.75"/><circle cx="146.3" cy="317.7" r="1.75"/><circle cx="145.8" cy="328.1" r="1.75"/><circle cx="141.8" cy="320.3" r="1.75"/><circle cx="148.6" cy="354.5" r="1.75"/><circle cx="159.4" cy="326.2" r="1.75"/><circle cx="149.1" cy="308.9" r="1.75"/><circle cx="139.0" cy="336.8" r="1.75"/><circle cx="157.2" cy="362.4" r="1.75"/><circle cx="130.0" cy="353.7" r="1.75"/><circle cx="154.9" cy="342.8" r="1.75"/><circle cx="154.4" cy="325.9" r="1.75"/><circle cx="156.5" cy="338.0" r="1.75"/><circle cx="169.4" cy="407.9" r="1.75"/><circle cx="148.4" cy="378.9" r="1.75"/><circle cx="158.2" cy="404.9" r="1.75"/><circle cx="152.0" cy="389.2" r="1.75"/><circle cx="163.6" cy="391.5" r="1.75"/><circle cx="166.2" cy="404.8" r="1.75"/><circle cx="143.5" cy="380.0" r="1.75"/><circle cx="155.9" cy="376.0" r="1.75"/><circle cx="127.9" cy="408.7" r="1.75"/><circle cx="174.7" cy="405.9" r="1.75"/><circle cx="149.7" cy="390.6" r="1.75"/><circle cx="188.5" cy="385.8" r="1.75"/><circle cx="136.2" cy="381.9" r="1.75"/><circle cx="186.0" cy="385.6" r="1.75"/><circle cx="145.4" cy="375.7" r="1.75"/><circle cx="153.0" cy="391.8" r="1.75"/><circle cx="145.9" cy="383.3" r="1.75"/><circle cx="173.9" cy="401.7" r="1.75"/><circle cx="141.8" cy="362.6" r="1.75"/><circle cx="149.9" cy="406.9" r="1.75"/><circle cx="152.3" cy="399.5" r="1.75"/><circle cx="162.3" cy="369.4" r="1.75"/><circle cx="147.2" cy="409.5" r="1.75"/><circle cx="169.1" cy="384.8" r="1.75"/><circle cx="135.0" cy="393.0" r="1.75"/><circle cx="139.0" cy="367.7" r="1.75"/><circle cx="147.0" cy="398.5" r="1.75"/><circle cx="167.2" cy="378.1" r="1.75"/><circle cx="137.7" cy="376.2" r="1.75"/><circle cx="149.3" cy="379.3" r="1.75"/><circle cx="149.0" cy="397.8" r="1.75"/><circle cx="150.1" cy="374.1" r="1.75"/><circle cx="175.5" cy="383.9" r="1.75"/><circle cx="138.4" cy="388.2" r="1.75"/><circle cx="154.4" cy="362.7" r="1.75"/><circle cx="138.5" cy="389.6" r="1.75"/><circle cx="141.9" cy="396.0" r="1.75"/><circle cx="141.0" cy="405.8" r="1.75"/><circle cx="132.2" cy="380.5" r="1.75"/><circle cx="168.0" cy="371.4" r="1.75"/><circle cx="154.3" cy="376.2" r="1.75"/><circle cx="147.8" cy="402.1" r="1.75"/><circle cx="142.3" cy="395.3" r="1.75"/><circle cx="156.4" cy="399.5" r="1.75"/><circle cx="161.3" cy="405.7" r="1.75"/><circle cx="163.6" cy="388.4" r="1.75"/><circle cx="148.4" cy="385.9" r="1.75"/><circle cx="158.6" cy="390.1" r="1.75"/><circle cx="160.5" cy="401.0" r="1.75"/><circle cx="155.9" cy="401.3" r="1.75"/><circle cx="150.5" cy="400.0" r="1.75"/><circle cx="149.5" cy="396.7" r="1.75"/><circle cx="172.2" cy="409.0" r="1.75"/><circle cx="151.8" cy="364.3" r="1.75"/><circle cx="155.6" cy="402.4" r="1.75"/><circle cx="170.4" cy="407.7" r="1.75"/><circle cx="159.2" cy="396.2" r="1.75"/><circle cx="160.1" cy="406.1" r="1.75"/><circle cx="141.7" cy="369.2" r="1.75"/><circle cx="143.4" cy="369.7" r="1.75"/><circle cx="158.0" cy="391.9" r="1.75"/><circle cx="153.7" cy="380.2" r="1.75"/><circle cx="167.9" cy="365.5" r="1.75"/><circle cx="158.0" cy="397.6" r="1.75"/><circle cx="161.2" cy="404.2" r="1.75"/><circle cx="162.3" cy="377.1" r="1.75"/><circle cx="121.4" cy="390.8" r="1.75"/><circle cx="154.0" cy="380.0" r="1.75"/><circle cx="149.6" cy="364.7" r="1.75"/><circle cx="145.0" cy="392.3" r="1.75"/><circle cx="166.0" cy="386.3" r="1.75"/><circle cx="143.2" cy="391.8" r="1.75"/><circle cx="142.6" cy="374.6" r="1.75"/><circle cx="148.8" cy="398.0" r="1.75"/><circle cx="158.3" cy="386.8" r="1.75"/><circle cx="159.1" cy="379.8" r="1.75"/><circle cx="160.8" cy="397.4" r="1.75"/><circle cx="170.6" cy="393.4" r="1.75"/><circle cx="149.2" cy="366.1" r="1.75"/><circle cx="147.1" cy="368.0" r="1.75"/><circle cx="153.9" cy="390.5" r="1.75"/><circle cx="178.5" cy="385.1" r="1.75"/><circle cx="152.9" cy="377.5" r="1.75"/><circle cx="149.0" cy="396.8" r="1.75"/><circle cx="170.7" cy="364.6" r="1.75"/><circle cx="178.0" cy="394.7" r="1.75"/><circle cx="178.0" cy="372.7" r="1.75"/><circle cx="175.2" cy="393.9" r="1.75"/><circle cx="163.6" cy="401.4" r="1.75"/><circle cx="166.0" cy="379.0" r="1.75"/><circle cx="143.0" cy="373.3" r="1.75"/><circle cx="167.5" cy="378.7" r="1.75"/><circle cx="168.0" cy="380.5" r="1.75"/><circle cx="170.5" cy="393.1" r="1.75"/><circle cx="128.8" cy="400.6" r="1.75"/><circle cx="162.3" cy="386.8" r="1.75"/><circle cx="132.9" cy="390.4" r="1.75"/><circle cx="142.5" cy="381.0" r="1.75"/><circle cx="160.6" cy="366.7" r="1.75"/><circle cx="153.8" cy="363.9" r="1.75"/><circle cx="130.2" cy="404.7" r="1.75"/><circle cx="154.6" cy="362.0" r="1.75"/><circle cx="165.9" cy="384.6" r="1.75"/><circle cx="140.5" cy="382.6" r="1.75"/><circle cx="158.1" cy="384.3" r="1.75"/><circle cx="156.4" cy="369.6" r="1.75"/><circle cx="131.8" cy="380.0" r="1.75"/><circle cx="169.6" cy="369.3" r="1.75"/><circle cx="150.7" cy="374.2" r="1.75"/><circle cx="159.6" cy="375.8" r="1.75"/><circle cx="148.7" cy="373.3" r="1.75"/><circle cx="152.4" cy="406.4" r="1.75"/><circle cx="170.3" cy="379.7" r="1.75"/><circle cx="144.5" cy="394.3" r="1.75"/><circle cx="158.1" cy="384.6" r="1.75"/><circle cx="149.8" cy="394.1" r="1.75"/><circle cx="142.4" cy="376.0" r="1.75"/><circle cx="133.3" cy="369.8" r="1.75"/><circle cx="161.3" cy="371.6" r="1.75"/><circle cx="153.5" cy="365.8" r="1.75"/><circle cx="164.2" cy="381.3" r="1.75"/><circle cx="150.0" cy="377.0" r="1.75"/><circle cx="147.6" cy="384.5" r="1.75"/><circle cx="172.7" cy="396.5" r="1.75"/><circle cx="153.2" cy="369.8" r="1.75"/><circle cx="171.4" cy="407.1" r="1.75"/><circle cx="119.9" cy="393.0" r="1.75"/><circle cx="166.9" cy="362.3" r="1.75"/><circle cx="154.4" cy="364.9" r="1.75"/><circle cx="138.9" cy="364.2" r="1.75"/><circle cx="167.7" cy="388.3" r="1.75"/><circle cx="151.0" cy="378.8" r="1.75"/><circle cx="177.1" cy="366.5" r="1.75"/><circle cx="164.0" cy="385.6" r="1.75"/><circle cx="161.2" cy="406.9" r="1.75"/><circle cx="155.2" cy="364.4" r="1.75"/><circle cx="161.3" cy="381.1" r="1.75"/><circle cx="155.7" cy="381.6" r="1.75"/><circle cx="155.4" cy="376.7" r="1.75"/><circle cx="153.1" cy="408.6" r="1.75"/><circle cx="138.8" cy="370.6" r="1.75"/><circle cx="151.3" cy="387.5" r="1.75"/><circle cx="149.6" cy="366.0" r="1.75"/><circle cx="157.7" cy="388.0" r="1.75"/><circle cx="131.1" cy="406.2" r="1.75"/><circle cx="137.2" cy="372.3" r="1.75"/><circle cx="137.5" cy="362.8" r="1.75"/><circle cx="148.3" cy="389.4" r="1.75"/><circle cx="137.2" cy="380.1" r="1.75"/><circle cx="137.2" cy="405.8" r="1.75"/><circle cx="128.9" cy="376.8" r="1.75"/><circle cx="159.7" cy="372.8" r="1.75"/><circle cx="149.9" cy="367.6" r="1.75"/><circle cx="157.2" cy="399.1" r="1.75"/><circle cx="149.4" cy="401.3" r="1.75"/><circle cx="158.3" cy="365.9" r="1.75"/><circle cx="163.9" cy="373.8" r="1.75"/><circle cx="159.0" cy="389.7" r="1.75"/><circle cx="170.7" cy="373.8" r="1.75"/><circle cx="159.6" cy="364.3" r="1.75"/><circle cx="156.7" cy="412.0" r="1.75"/><circle cx="174.1" cy="410.0" r="1.75"/><circle cx="150.2" cy="416.4" r="1.75"/><circle cx="183.1" cy="419.1" r="1.75"/><circle cx="145.6" cy="425.9" r="1.75"/><circle cx="139.1" cy="419.5" r="1.75"/><circle cx="168.9" cy="416.8" r="1.75"/><circle cx="140.0" cy="427.1" r="1.75"/><circle cx="156.4" cy="422.6" r="1.75"/><circle cx="148.7" cy="424.2" r="1.75"/><circle cx="163.8" cy="415.6" r="1.75"/><circle cx="164.0" cy="411.4" r="1.75"/><circle cx="154.5" cy="413.3" r="1.75"/><circle cx="149.0" cy="409.3" r="1.75"/><circle cx="156.7" cy="423.3" r="1.75"/><circle cx="158.8" cy="409.0" r="1.75"/><circle cx="141.5" cy="410.6" r="1.75"/><circle cx="183.2" cy="427.0" r="1.75"/><circle cx="161.9" cy="420.2" r="1.75"/><circle cx="175.8" cy="415.2" r="1.75"/><circle cx="179.8" cy="414.6" r="1.75"/><circle cx="161.6" cy="424.5" r="1.75"/><circle cx="175.2" cy="422.5" r="1.75"/><circle cx="170.4" cy="411.4" r="1.75"/><circle cx="126.6" cy="422.2" r="1.75"/><circle cx="171.7" cy="423.9" r="1.75"/><circle cx="146.4" cy="410.4" r="1.75"/><circle cx="190.4" cy="417.2" r="1.75"/><circle cx="136.1" cy="416.7" r="1.75"/><circle cx="169.2" cy="426.7" r="1.75"/><circle cx="179.8" cy="418.7" r="1.75"/><circle cx="156.2" cy="410.1" r="1.75"/><circle cx="155.7" cy="424.3" r="1.75"/><circle cx="162.4" cy="427.6" r="1.75"/><circle cx="144.8" cy="408.7" r="1.75"/><circle cx="152.0" cy="425.6" r="1.75"/><circle cx="162.6" cy="415.9" r="1.75"/><circle cx="171.8" cy="412.0" r="1.75"/><circle cx="144.4" cy="419.2" r="1.75"/><circle cx="179.6" cy="412.8" r="1.75"/><circle cx="160.5" cy="415.0" r="1.75"/><circle cx="202.6" cy="424.8" r="1.75"/><circle cx="148.8" cy="425.0" r="1.75"/><circle cx="149.7" cy="410.9" r="1.75"/><circle cx="155.8" cy="424.6" r="1.75"/><circle cx="160.3" cy="411.4" r="1.75"/><circle cx="153.5" cy="410.0" r="1.75"/><circle cx="128.5" cy="412.0" r="1.75"/><circle cx="149.8" cy="423.9" r="1.75"/><circle cx="180.3" cy="425.3" r="1.75"/><circle cx="164.5" cy="420.5" r="1.75"/><circle cx="146.1" cy="408.2" r="1.75"/><circle cx="151.8" cy="418.2" r="1.75"/><circle cx="155.0" cy="415.8" r="1.75"/><circle cx="172.8" cy="414.3" r="1.75"/><circle cx="162.2" cy="415.7" r="1.75"/><circle cx="155.6" cy="417.5" r="1.75"/><circle cx="145.5" cy="427.6" r="1.75"/><circle cx="180.5" cy="424.3" r="1.75"/><circle cx="149.4" cy="421.4" r="1.75"/><circle cx="169.4" cy="439.5" r="1.75"/><circle cx="155.1" cy="441.0" r="1.75"/><circle cx="156.3" cy="443.3" r="1.75"/><circle cx="164.6" cy="427.1" r="1.75"/><circle cx="156.2" cy="427.4" r="1.75"/><circle cx="178.4" cy="445.5" r="1.75"/><circle cx="156.4" cy="444.3" r="1.75"/><circle cx="191.9" cy="432.4" r="1.75"/><circle cx="184.1" cy="444.3" r="1.75"/><circle cx="174.8" cy="443.1" r="1.75"/><circle cx="180.6" cy="450.8" r="1.75"/><circle cx="155.0" cy="447.6" r="1.75"/><circle cx="159.7" cy="444.9" r="1.75"/><circle cx="160.7" cy="439.0" r="1.75"/><circle cx="168.2" cy="449.2" r="1.75"/><circle cx="198.5" cy="439.7" r="1.75"/><circle cx="177.9" cy="435.6" r="1.75"/><circle cx="166.2" cy="429.8" r="1.75"/><circle cx="187.3" cy="442.6" r="1.75"/><circle cx="150.5" cy="441.6" r="1.75"/><circle cx="180.2" cy="435.4" r="1.75"/><circle cx="177.6" cy="439.9" r="1.75"/><circle cx="148.4" cy="444.3" r="1.75"/><circle cx="183.8" cy="430.7" r="1.75"/><circle cx="164.1" cy="433.3" r="1.75"/><circle cx="182.6" cy="449.2" r="1.75"/><circle cx="152.3" cy="429.5" r="1.75"/><circle cx="150.8" cy="431.1" r="1.75"/><circle cx="198.2" cy="369.1" r="1.75"/><circle cx="205.9" cy="383.8" r="1.75"/><circle cx="204.7" cy="381.1" r="1.75"/><circle cx="216.2" cy="377.5" r="1.75"/><circle cx="209.9" cy="384.3" r="1.75"/><circle cx="218.1" cy="378.9" r="1.75"/><circle cx="212.8" cy="385.4" r="1.75"/><circle cx="213.8" cy="370.1" r="1.75"/><circle cx="207.9" cy="378.1" r="1.75"/><circle cx="208.9" cy="371.4" r="1.75"/><circle cx="204.6" cy="378.7" r="1.75"/><circle cx="202.3" cy="381.1" r="1.75"/><circle cx="196.9" cy="369.1" r="1.75"/><circle cx="213.5" cy="385.2" r="1.75"/><circle cx="218.8" cy="373.7" r="1.75"/><circle cx="202.7" cy="384.7" r="1.75"/><circle cx="207.0" cy="372.1" r="1.75"/><circle cx="197.5" cy="376.6" r="1.75"/><circle cx="213.6" cy="369.8" r="1.75"/><circle cx="216.4" cy="369.7" r="1.75"/><circle cx="209.2" cy="370.7" r="1.75"/><circle cx="209.5" cy="381.6" r="1.75"/><circle cx="217.8" cy="381.3" r="1.75"/><circle cx="198.8" cy="380.8" r="1.75"/><circle cx="222.8" cy="384.6" r="1.75"/><circle cx="209.0" cy="385.4" r="1.75"/><circle cx="214.3" cy="369.9" r="1.75"/><circle cx="213.8" cy="371.7" r="1.75"/><circle cx="200.3" cy="374.7" r="1.75"/><circle cx="215.1" cy="381.4" r="1.75"/><circle cx="79.7" cy="299.7" r="1.75"/><circle cx="100.6" cy="305.5" r="1.75"/><circle cx="82.5" cy="300.4" r="1.75"/><circle cx="85.3" cy="311.7" r="1.75"/><circle cx="120.1" cy="307.9" r="1.75"/><circle cx="85.3" cy="299.4" r="1.75"/><circle cx="90.2" cy="313.2" r="1.75"/><circle cx="82.1" cy="300.3" r="1.75"/><circle cx="80.1" cy="307.6" r="1.75"/><circle cx="107.6" cy="316.4" r="1.75"/><circle cx="72.0" cy="297.5" r="1.75"/><circle cx="86.4" cy="298.8" r="1.75"/><circle cx="67.6" cy="299.2" r="1.75"/><circle cx="71.2" cy="297.3" r="1.75"/><circle cx="71.8" cy="299.4" r="1.75"/><circle cx="74.6" cy="297.7" r="1.75"/><circle cx="64.0" cy="297.9" r="1.75"/><circle cx="66.6" cy="305.8" r="1.75"/><circle cx="71.8" cy="304.5" r="1.75"/><circle cx="85.0" cy="301.8" r="1.75"/><circle cx="86.3" cy="309.7" r="1.75"/><circle cx="87.6" cy="315.0" r="1.75"/><circle cx="92.8" cy="312.3" r="1.75"/><circle cx="82.3" cy="311.0" r="1.75"/><circle cx="99.4" cy="353.0" r="1.75"/><circle cx="110.0" cy="357.0" r="1.75"/><circle cx="217.6" cy="295.8" r="1.75"/><circle cx="228.2" cy="295.8" r="1.75"/><circle cx="236.0" cy="295.8" r="1.75"/><circle cx="123.9" cy="397.5" r="1.75"/><circle cx="127.2" cy="424.9" r="1.75"/><circle cx="129.0" cy="412.8" r="1.75"/><circle cx="146.9" cy="430.8" r="1.75"/><circle cx="145.8" cy="441.3" r="1.75"/><circle cx="145.8" cy="448.3" r="1.75"/><circle cx="150.9" cy="449.0" r="1.75"/><circle cx="171.0" cy="433.6" r="1.75"/><circle cx="174.3" cy="432.5" r="1.75"/><circle cx="176.5" cy="437.0" r="1.75"/><circle cx="172.1" cy="442.4" r="1.75"/><circle cx="175.4" cy="441.3" r="1.75"/><circle cx="177.6" cy="428.2" r="1.75"/><circle cx="184.2" cy="420.5" r="1.75"/><circle cx="189.6" cy="421.6" r="1.75"/><circle cx="179.8" cy="415.0" r="1.75"/><circle cx="128.0" cy="464.0" r="1.75"/><circle cx="134.0" cy="466.0" r="1.75"/><circle cx="37.0" cy="297.0" r="1.75"/><circle cx="37.0" cy="300.0" r="1.75"/><circle cx="37.0" cy="303.0" r="1.75"/><circle cx="37.0" cy="306.0" r="1.75"/><circle cx="37.0" cy="309.0" r="1.75"/><circle cx="37.0" cy="353.0" r="1.75"/><circle cx="37.0" cy="358.0" r="1.75"/></g>
<circle cx="220.6" cy="316.5" r="1.75" fill="#e69f00"/>
<text x="228.2" y="321.0">Data</text>
<text x="220.6" y="336.0" text-anchor="middle" font-size="7">×</text>
<text x="228.2" y="337.5">Model</text>
<line x1="35.70" y1="295.60" x2="35.70" y2="489.40" stroke="#3a3a3a" stroke-width="0.9"/>
<line x1="31.70" y1="295.60" x2="35.70" y2="295.60" stroke="#3a3a3a" stroke-width="0.9"/>
<text x="26.7" y="299.4" text-anchor="end">0</text>
<line x1="31.70" y1="327.87" x2="35.70" y2="327.87" stroke="#3a3a3a" stroke-width="0.9"/>
<text x="26.7" y="331.7" text-anchor="end">1</text>
<line x1="31.70" y1="360.14" x2="35.70" y2="360.14" stroke="#3a3a3a" stroke-width="0.9"/>
<text x="26.7" y="363.9" text-anchor="end">2</text>
<line x1="31.70" y1="392.41" x2="35.70" y2="392.41" stroke="#3a3a3a" stroke-width="0.9"/>
<text x="26.7" y="396.2" text-anchor="end">3</text>
<line x1="31.70" y1="424.68" x2="35.70" y2="424.68" stroke="#3a3a3a" stroke-width="0.9"/>
<text x="26.7" y="428.5" text-anchor="end">4</text>
<line x1="31.70" y1="456.95" x2="35.70" y2="456.95" stroke="#3a3a3a" stroke-width="0.9"/>
<text x="26.7" y="460.8" text-anchor="end">5</text>
<line x1="31.70" y1="489.22" x2="35.70" y2="489.22" stroke="#3a3a3a" stroke-width="0.9"/>
<text x="26.7" y="493.0" text-anchor="end">6</text>
<text transform="translate(9.3,392.5) rotate(-90)" text-anchor="middle">Water depth (km)</text>
<line x1="31.70" y1="489.40" x2="266.10" y2="489.40" stroke="#3a3a3a" stroke-width="0.9"/>
<line x1="35.70" y1="489.40" x2="35.70" y2="493.40" stroke="#3a3a3a" stroke-width="0.9"/>
<text x="33.2" y="508.4" text-anchor="middle">10<tspan font-size="7.5" dy="-4.3">−5</tspan></text>
<line x1="74.10" y1="489.40" x2="74.10" y2="493.40" stroke="#3a3a3a" stroke-width="0.9"/>
<text x="71.6" y="508.4" text-anchor="middle">10<tspan font-size="7.5" dy="-4.3">−4</tspan></text>
<line x1="112.50" y1="489.40" x2="112.50" y2="493.40" stroke="#3a3a3a" stroke-width="0.9"/>
<text x="110.0" y="508.4" text-anchor="middle">10<tspan font-size="7.5" dy="-4.3">−3</tspan></text>
<line x1="150.90" y1="489.40" x2="150.90" y2="493.40" stroke="#3a3a3a" stroke-width="0.9"/>
<text x="148.4" y="508.4" text-anchor="middle">10<tspan font-size="7.5" dy="-4.3">−2</tspan></text>
<line x1="189.30" y1="489.40" x2="189.30" y2="493.40" stroke="#3a3a3a" stroke-width="0.9"/>
<text x="186.8" y="508.4" text-anchor="middle">10<tspan font-size="7.5" dy="-4.3">−1</tspan></text>
<line x1="227.70" y1="489.40" x2="227.70" y2="493.40" stroke="#3a3a3a" stroke-width="0.9"/>
<text x="225.2" y="508.4" text-anchor="middle">10<tspan font-size="7.5" dy="-4.3">0</tspan></text>
<line x1="266.10" y1="489.40" x2="266.10" y2="493.40" stroke="#3a3a3a" stroke-width="0.9"/>
<text x="263.6" y="508.4" text-anchor="middle">10<tspan font-size="7.5" dy="-4.3">1</tspan></text>
<text x="150.9" y="523.7" text-anchor="middle">MnO<tspan font-size="7.5" dy="2.5">2</tspan><tspan dy="-2.5"> (µg l</tspan><tspan font-size="7.5" dy="-4">−1</tspan><tspan dy="4">)</tspan></text>
<path d="M214.0 577.6L240.5 578.5L190.0 580.8L160.0 582.5L101.6 586.3L152.0 587.8L110.4 589.5L153.4 592.9L130.1 596.8L89.2 601.9L95.8 603.8L65.1 607.0L122.8 614.0L106.7 617.5L108.2 621.6L125.7 625.7L106.7 631.1L152.0 638.8L144.3 645.0L176.5 655.7L179.6 663.3L191.8 671.0L216.3 678.6L227.1 684.8L236.3 700.1L228.6 707.8L230.1 726.2L247.0 747.6L237.8 758.4" fill="none" stroke="#e69f00" stroke-width="1.4" stroke-linejoin="round" stroke-linecap="round"/>
<path d="M216.4 578.0L215.7 582.6L214.9 587.3L213.9 591.9L212.9 596.5L211.7 601.1L210.5 605.8L209.1 610.4L207.6 615.0L206.0 619.6L204.3 624.3L202.4 628.9L200.4 633.5L198.2 638.1L195.8 642.8L193.4 647.4L190.7 652.0L187.9 656.6L184.9 661.3L181.7 665.9L178.4 670.5L174.8 675.1L171.1 679.8L167.1 684.4L163.0 689.0L158.6 693.6L154.1 698.3L149.3 702.9L144.3 707.5L139.0 712.1L133.5 716.8L127.8 721.4L121.8 726.0L115.6 730.6L109.2 735.3L102.4 739.9L95.4 744.5L88.1 749.1L80.6 753.8L72.8 758.4" fill="none" stroke="#111" stroke-width="1.3" stroke-linejoin="round" stroke-linecap="round"/>
<g fill="#111"><circle cx="55.5" cy="583.9" r="2.2"/><circle cx="65.0" cy="581.0" r="2.2"/><circle cx="118.3" cy="578.0" r="2.2"/><circle cx="125.6" cy="578.0" r="2.2"/><circle cx="132.2" cy="578.0" r="2.2"/><circle cx="134.0" cy="578.0" r="2.2"/><circle cx="131.5" cy="585.4" r="2.2"/><circle cx="143.1" cy="597.2" r="2.2"/><circle cx="156.5" cy="578.1" r="2.2"/><circle cx="162.8" cy="582.2" r="2.2"/><circle cx="170.0" cy="593.6" r="2.2"/><circle cx="166.8" cy="602.4" r="2.2"/><circle cx="177.0" cy="616.5" r="2.2"/><circle cx="192.0" cy="581.5" r="2.2"/><circle cx="198.2" cy="627.5" r="2.2"/><circle cx="212.0" cy="580.5" r="2.2"/><circle cx="217.9" cy="628.9" r="2.2"/><circle cx="224.2" cy="583.7" r="2.2"/><circle cx="248.1" cy="603.3" r="2.2"/><circle cx="176.5" cy="676.5" r="2.2"/><circle cx="189.3" cy="672.5" r="2.2"/><circle cx="257.7" cy="687.6" r="2.2"/><circle cx="90.8" cy="739.1" r="2.2"/><circle cx="90.8" cy="750.7" r="2.2"/><circle cx="90.8" cy="754.4" r="2.2"/></g>
<line x1="50.00" y1="663.00" x2="66.50" y2="663.00" stroke="#111" stroke-width="1.3"/>
<circle cx="58.3" cy="663.0" r="2.2" fill="#111"/>
<text x="73.8" y="666.6">Flux per area</text>
<line x1="50.00" y1="679.00" x2="66.50" y2="679.00" stroke="#e69f00" stroke-width="1.5"/>
<text x="73.8" y="683.0">Flux per volume</text>
<line x1="35.70" y1="577.40" x2="35.70" y2="771.00" stroke="#3a3a3a" stroke-width="0.9"/>
<line x1="31.70" y1="577.40" x2="35.70" y2="577.40" stroke="#3a3a3a" stroke-width="0.9"/>
<text x="26.7" y="581.2" text-anchor="end">0</text>
<line x1="31.70" y1="609.67" x2="35.70" y2="609.67" stroke="#3a3a3a" stroke-width="0.9"/>
<text x="26.7" y="613.5" text-anchor="end">1</text>
<line x1="31.70" y1="641.94" x2="35.70" y2="641.94" stroke="#3a3a3a" stroke-width="0.9"/>
<text x="26.7" y="645.7" text-anchor="end">2</text>
<line x1="31.70" y1="674.21" x2="35.70" y2="674.21" stroke="#3a3a3a" stroke-width="0.9"/>
<text x="26.7" y="678.0" text-anchor="end">3</text>
<line x1="31.70" y1="706.48" x2="35.70" y2="706.48" stroke="#3a3a3a" stroke-width="0.9"/>
<text x="26.7" y="710.3" text-anchor="end">4</text>
<line x1="31.70" y1="738.75" x2="35.70" y2="738.75" stroke="#3a3a3a" stroke-width="0.9"/>
<text x="26.7" y="742.5" text-anchor="end">5</text>
<line x1="31.70" y1="771.02" x2="35.70" y2="771.02" stroke="#3a3a3a" stroke-width="0.9"/>
<text x="26.7" y="774.8" text-anchor="end">6</text>
<text transform="translate(9.3,674.2) rotate(-90)" text-anchor="middle">Water depth (km)</text>
<line x1="31.70" y1="771.00" x2="267.10" y2="771.00" stroke="#3a3a3a" stroke-width="0.9"/>
<line x1="35.70" y1="771.00" x2="35.70" y2="775.00" stroke="#3a3a3a" stroke-width="0.9"/>
<text x="33.2" y="790.2" text-anchor="middle">10<tspan font-size="7.5" dy="-4.3">0</tspan></text>
<line x1="151.40" y1="771.00" x2="151.40" y2="775.00" stroke="#3a3a3a" stroke-width="0.9"/>
<text x="148.9" y="790.2" text-anchor="middle">10<tspan font-size="7.5" dy="-4.3">1</tspan></text>
<line x1="267.10" y1="771.00" x2="267.10" y2="775.00" stroke="#3a3a3a" stroke-width="0.9"/>
<text x="264.6" y="790.2" text-anchor="middle">10<tspan font-size="7.5" dy="-4.3">2</tspan></text>
<line x1="35.70" y1="577.40" x2="266.50" y2="577.40" stroke="#3a3a3a" stroke-width="0.9"/>
<line x1="105.20" y1="577.40" x2="105.20" y2="573.40" stroke="#3a3a3a" stroke-width="0.9"/>
<text x="102.7" y="568.1" text-anchor="middle">10<tspan font-size="7.5" dy="-4.3">−2</tspan></text>
<line x1="265.50" y1="577.40" x2="265.50" y2="573.40" stroke="#3a3a3a" stroke-width="0.9"/>
<text x="263.0" y="568.1" text-anchor="middle">10<tspan font-size="7.5" dy="-4.3">−1</tspan></text>
<text x="152.3" y="551.8" text-anchor="middle">Benthic flux per volume (pmol l<tspan font-size="7.5" dy="-4">−1</tspan><tspan dy="4"> yr</tspan><tspan font-size="7.5" dy="-4">−1</tspan><tspan dy="4">)</tspan></text>
<text x="152.2" y="805.1" text-anchor="middle">Benthic flux per area (pmol cm<tspan font-size="7.5" dy="-4">−1</tspan><tspan dy="4"> yr</tspan><tspan font-size="7.5" dy="-4">−1</tspan><tspan dy="4">)</tspan></text>
</svg></body></html>
